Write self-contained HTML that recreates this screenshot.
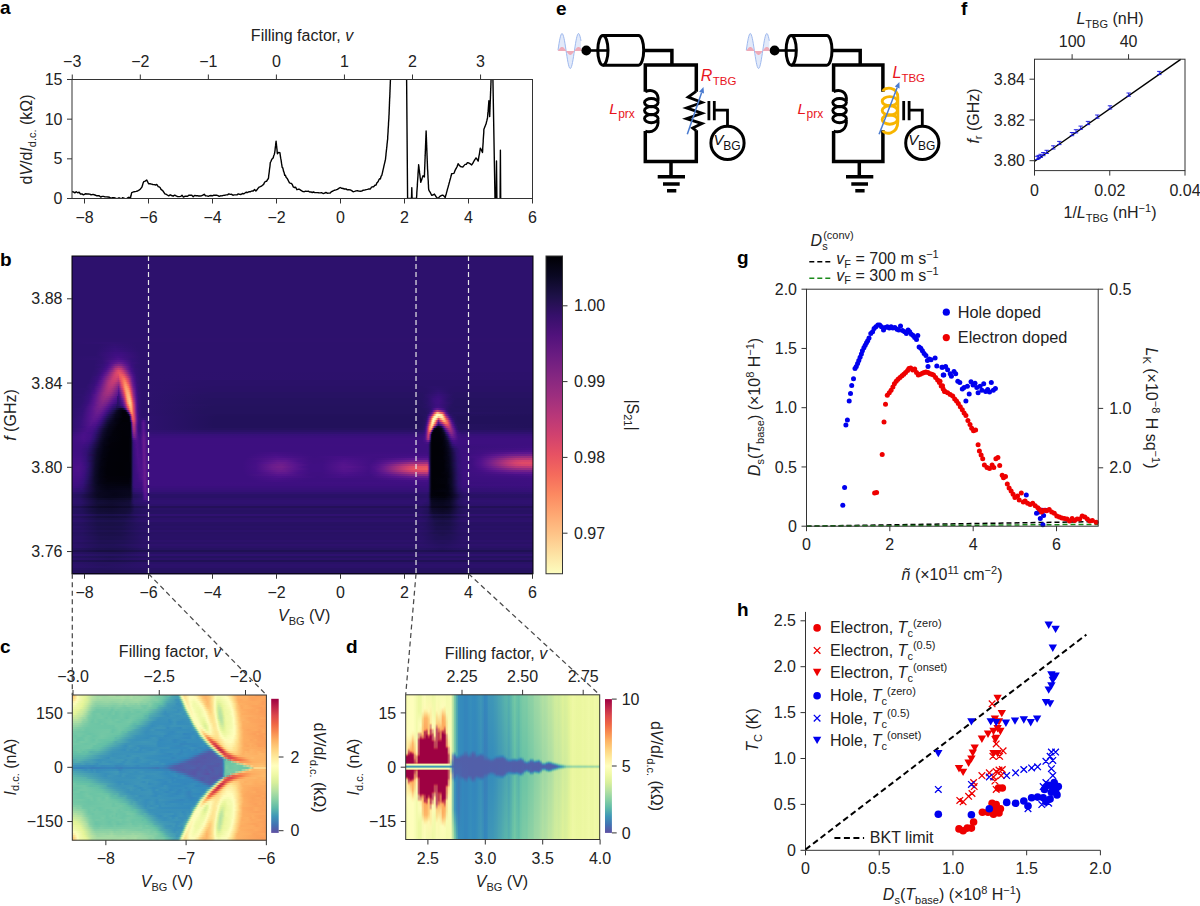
<!DOCTYPE html><html><head><meta charset="utf-8"><style>html,body{margin:0;padding:0;background:#fff;width:1200px;height:906px;overflow:hidden}svg{display:block;font-family:"Liberation Sans",sans-serif}</style></head><body>
<svg width="1200" height="906" viewBox="0 0 1200 906" font-family="Liberation Sans, sans-serif" font-size="16" fill="#222">
<rect width="1200" height="906" fill="#fff"/>
<text x="0.0" y="13.5" font-size="19" fill="#000" font-weight="bold">a</text>
<clipPath id="clipa"><rect x="72" y="79.5" width="460.5" height="119.0"/></clipPath>
<g clip-path="url(#clipa)">
<polyline points="71.9,191.8 73.4,191.9 74.8,192.9 76.2,191.7 77.7,192.8 79.1,192.2 80.5,194.0 82.0,193.9 83.4,194.8 85.3,193.8 87.3,194.0 88.5,194.0 89.8,194.1 91.1,194.9 93.0,194.4 94.9,195.0 96.4,195.7 97.8,195.7 99.2,195.7 100.7,197.1 102.1,196.4 103.5,196.4 105.0,196.9 106.4,196.9 108.0,197.0 109.5,197.2 111.0,198.4 112.6,197.6 114.1,197.8 115.5,198.1 117.0,198.9 118.4,198.0 119.8,198.0 121.2,199.4 122.5,197.6 123.8,198.1 125.1,198.6 126.4,199.3 127.7,197.8 129.1,197.2 130.4,198.3 130.7,196.8 131.1,195.3 131.4,193.8 131.7,192.6 134.2,191.7 136.1,191.4 137.6,191.0 139.0,190.1 140.2,189.2 141.3,187.9 141.8,187.3 142.3,186.1 142.8,184.1 143.3,182.5 143.8,181.7 145.2,181.1 146.7,180.0 147.6,181.7 148.6,183.8 150.0,183.7 151.5,184.1 152.9,184.5 154.3,184.6 155.6,185.0 156.9,184.5 158.2,186.6 159.1,186.9 160.1,187.5 161.0,189.4 162.0,190.1 163.0,191.0 163.9,192.4 164.9,193.9 165.8,194.1 167.3,195.0 168.7,195.8 170.2,194.8 171.6,195.5 173.1,196.2 174.7,195.1 176.2,195.9 177.7,196.6 179.3,196.6 180.7,196.4 182.0,195.2 183.4,197.1 184.8,196.3 186.2,196.3 187.6,196.2 189.0,195.1 190.4,195.2 191.8,195.3 193.2,196.7 194.6,195.4 196.0,195.7 197.3,195.6 198.7,196.0 200.1,196.0 201.4,195.9 202.8,195.2 204.2,194.3 205.5,195.8 206.9,195.9 208.3,196.3 209.7,195.7 211.0,195.5 212.4,195.9 213.8,195.1 215.1,195.2 216.5,195.2 217.9,195.7 219.2,196.4 220.6,195.8 222.0,195.9 223.3,195.4 224.7,195.3 226.1,194.9 227.5,194.9 228.8,193.9 230.2,194.4 231.6,194.3 232.9,195.2 234.3,194.9 235.6,194.9 237.0,194.9 238.3,193.9 239.6,194.3 241.0,194.5 242.3,193.5 243.7,193.8 245.0,193.0 246.3,192.2 247.7,192.5 249.1,191.7 250.5,191.7 251.8,191.0 253.2,191.0 254.6,189.5 255.9,190.9 257.0,189.8 258.1,188.2 259.2,187.1 260.3,186.7 261.4,186.2 262.5,185.3 263.6,184.4 264.6,182.2 265.5,181.4 266.5,181.4 267.4,179.8 268.4,178.5 268.6,177.1 268.7,175.7 268.9,174.3 269.1,172.9 269.3,171.5 269.4,170.1 269.6,168.7 269.8,167.4 270.0,166.0 270.1,164.6 270.3,162.5 271.0,161.3 271.7,159.6 272.5,158.4 273.2,158.0 273.7,155.7 274.2,154.7 274.7,152.6 274.9,151.2 275.1,149.8 275.2,148.3 275.4,146.9 275.6,145.4 275.7,144.0 275.9,142.6 276.1,141.1 276.2,142.5 276.4,143.9 276.5,145.3 276.7,146.7 276.8,148.1 277.0,149.4 277.1,150.8 277.2,152.2 277.4,153.7 278.6,152.4 279.9,152.6 280.1,154.0 280.3,155.4 280.5,156.8 280.7,158.2 281.0,159.6 281.2,160.9 281.4,162.3 281.6,163.7 281.8,164.8 282.2,167.5 282.6,167.5 283.0,168.7 283.5,171.1 283.9,172.0 284.3,173.3 284.7,175.3 285.4,175.2 286.2,177.5 287.0,178.2 287.7,179.4 288.5,181.0 289.5,182.9 290.4,183.2 291.4,183.4 292.4,184.7 293.3,186.9 294.5,187.5 295.7,187.3 296.9,189.7 298.1,189.3 299.4,189.2 300.6,190.1 301.8,190.9 303.1,191.6 304.3,191.7 305.7,191.2 307.0,191.4 308.3,191.1 309.6,192.0 310.9,191.9 312.2,192.5 313.5,192.0 314.8,192.6 316.1,192.6 317.4,192.6 318.7,192.8 320.1,192.9 321.6,192.7 323.0,193.5 324.4,193.2 325.9,192.5 327.3,193.2 328.7,193.1 330.2,193.0 331.6,191.6 333.0,191.0 334.5,190.2 335.9,189.9 337.4,189.3 338.8,188.4 340.2,187.5 341.7,188.3 343.1,188.5 344.5,189.0 346.0,188.9 347.4,189.9 348.8,189.6 350.3,189.9 351.7,190.6 353.1,191.7 354.6,191.4 356.0,190.9 357.4,190.7 358.9,191.1 360.3,191.2 361.7,191.1 363.2,190.2 364.6,190.1 366.1,189.6 367.5,189.4 368.9,188.9 370.4,189.0 371.5,187.2 372.7,186.8 373.8,186.7 374.9,185.2 376.1,185.0 376.8,183.0 377.5,182.3 378.2,181.5 379.0,179.6 379.7,178.6 380.4,178.9 381.1,176.3 381.8,175.4 382.1,174.1 382.4,172.8 382.7,171.5 383.0,170.2 383.3,168.9 383.6,167.6 383.9,166.2 384.2,164.9 384.5,163.6 384.8,162.3 385.1,161.0 385.4,159.7 385.6,158.3 385.7,157.0 385.9,155.6 386.0,154.3 386.1,153.0 386.3,151.6 386.4,150.3 386.6,148.9 386.7,147.6 386.9,146.3 387.0,144.9 387.1,143.6 387.3,142.3 387.4,140.9 387.6,139.6 387.7,138.2 387.7,136.9 387.8,135.5 387.9,134.2 388.0,132.8 388.1,131.4 388.1,130.1 388.2,128.7 388.3,127.4 388.4,126.0 388.5,124.7 388.5,123.3 388.6,122.0 388.7,120.6 388.8,119.2 388.9,117.9 388.9,116.5 389.0,115.2 389.1,113.9 389.1,112.6 389.2,111.2 389.2,109.9 389.3,108.6 389.3,107.3 389.4,106.0 389.4,104.7 389.5,103.4 389.5,102.1 389.6,100.7 389.6,99.4 389.7,98.1 389.8,96.8 389.8,95.5 389.9,94.2 389.9,92.9 390.0,91.5 390.0,90.2 390.1,88.9 390.1,87.6 390.2,86.3 390.2,85.0 390.3,83.7 390.3,82.4 390.4,81.0 390.4,79.7 391.5,78.0 406.6,78.0 407.6,198.5 411.5,198.5 411.8,187.6 412.1,198.5 416.5,198.4 416.6,197.0 416.7,195.7 416.8,194.3 416.8,193.0 416.9,191.6 417.0,190.3 417.1,188.9 417.2,187.6 417.3,186.2 417.4,184.9 417.4,183.5 417.5,182.2 417.6,180.8 417.7,179.5 417.8,178.1 417.9,176.8 418.0,175.4 418.0,174.1 418.1,172.7 418.2,171.4 418.3,170.1 418.4,168.7 418.5,167.4 418.6,166.0 418.6,164.7 418.8,166.0 419.0,167.4 419.1,168.8 419.3,170.2 419.5,171.6 419.6,172.9 419.8,174.3 420.0,175.7 420.1,177.1 420.3,178.5 420.5,179.8 420.6,181.2 420.8,182.3 421.2,180.9 421.7,179.7 422.1,178.3 422.5,177.2 423.0,175.7 424.4,176.9 424.4,175.5 424.5,174.2 424.5,172.9 424.6,171.6 424.6,170.3 424.7,169.0 424.7,167.7 424.8,166.4 424.8,165.0 424.9,163.7 424.9,162.4 425.0,161.1 425.0,159.8 425.1,158.5 425.1,157.2 425.2,155.9 425.2,154.6 425.3,153.2 425.3,151.9 425.4,150.6 425.4,149.3 425.5,148.0 425.5,146.7 425.6,145.4 425.6,144.1 425.7,142.8 425.7,141.4 425.8,140.1 425.8,138.8 425.9,137.5 425.9,136.2 426.0,134.9 426.0,133.6 426.1,132.3 426.1,130.9 426.2,132.3 426.2,133.6 426.3,134.9 426.3,136.3 426.4,137.6 426.4,138.9 426.5,140.3 426.5,141.6 426.6,142.9 426.6,144.3 426.7,145.6 426.7,146.9 426.8,148.3 426.8,149.6 426.9,150.9 426.9,152.3 427.0,153.6 427.0,154.9 427.1,156.3 427.1,157.6 427.2,158.9 427.2,160.3 427.3,161.6 427.3,162.9 427.4,164.2 427.4,165.6 427.5,166.9 427.5,168.2 427.6,169.6 427.7,170.9 427.8,172.3 427.8,173.6 427.9,175.0 428.0,176.3 428.0,177.7 428.1,179.0 428.2,180.3 428.3,181.7 428.3,183.0 428.4,184.4 428.5,185.7 428.5,187.1 428.6,188.4 428.7,189.6 429.4,191.1 430.1,192.1 430.8,193.5 431.6,195.2 433.0,195.0 434.4,194.1 435.4,195.7 436.3,197.1 437.3,198.0 438.4,198.2 439.6,196.6 440.7,195.9 441.9,195.3 443.0,195.2 444.1,196.2 445.2,197.7 445.5,196.3 445.9,195.0 446.3,193.7 446.6,192.4 447.0,191.1 447.3,189.8 447.7,188.4 448.1,187.1 448.4,185.8 448.8,184.5 449.1,183.2 449.5,181.9 449.8,180.6 450.2,179.2 450.6,177.9 450.9,176.6 451.3,175.3 451.6,173.7 453.8,173.4 454.4,172.3 455.0,170.6 455.6,169.2 456.3,168.3 456.9,167.0 457.5,165.6 458.1,163.7 459.3,165.2 460.5,166.5 461.7,166.9 462.8,167.0 464.0,165.6 465.1,164.4 466.3,164.3 467.4,162.6 468.9,163.0 470.3,163.9 471.7,164.9 472.6,163.7 473.4,162.1 474.3,160.5 475.2,159.2 476.0,157.9 477.1,159.3 478.2,161.1 478.4,159.8 478.6,158.5 478.8,157.2 479.0,155.9 479.3,154.6 479.5,153.3 479.7,152.0 479.9,150.7 480.1,149.5 480.3,148.2 481.1,149.4 481.8,151.0 482.5,152.5 482.6,151.1 482.7,149.8 482.7,148.4 482.8,147.1 482.9,145.7 483.0,144.4 483.1,143.0 483.2,141.7 483.2,140.3 483.3,139.0 483.4,137.6 483.5,136.3 483.6,134.9 483.7,133.6 483.8,132.2 483.8,130.9 483.9,129.2 484.5,127.8 485.0,126.6 485.5,125.1 486.1,123.8 486.4,122.3 486.8,120.9 487.1,119.5 487.5,118.0 487.6,116.7 487.7,115.4 487.8,114.1 487.9,112.7 488.1,111.4 488.2,110.1 488.3,108.8 488.4,107.4 488.5,106.1 488.6,104.8 488.7,103.5 488.8,102.1 488.9,100.8 489.0,102.1 489.1,103.5 489.1,104.8 489.2,106.1 489.2,107.4 489.3,108.7 489.4,110.0 489.4,111.3 489.5,112.7 489.5,114.0 489.6,115.3 489.7,116.6 489.7,115.3 489.8,114.0 489.8,112.7 489.9,111.3 489.9,110.0 490.0,108.7 490.0,107.4 490.1,106.1 490.1,104.8 490.2,103.4 490.2,102.1 490.3,100.8 490.3,99.5 490.4,98.2 490.4,96.9 490.5,95.5 490.5,94.2 490.6,92.9 490.6,91.6 490.7,90.3 490.7,89.0 490.8,87.6 490.8,86.3 490.9,85.0 490.9,83.7 491.0,82.4 491.0,81.1 491.1,79.7 492.9,78.0 495.0,198.8 496.1,198.8 496.5,161.0 496.9,198.8 500.1,198.8 500.4,150.3 500.7,198.8 532.0,198.8" fill="none" stroke="#000" stroke-width="1.4" stroke-linejoin="round"/>
</g>
<rect x="72" y="79.5" width="460.50" height="119.00" fill="none" stroke="#333" stroke-width="1"/>
<line x1="84.50" y1="198.50" x2="84.50" y2="203.50" stroke="#333" stroke-width="1"/>
<text x="84.5" y="222.5" text-anchor="middle">−8</text>
<line x1="148.50" y1="198.50" x2="148.50" y2="203.50" stroke="#333" stroke-width="1"/>
<text x="148.5" y="222.5" text-anchor="middle">−6</text>
<line x1="212.50" y1="198.50" x2="212.50" y2="203.50" stroke="#333" stroke-width="1"/>
<text x="212.5" y="222.5" text-anchor="middle">−4</text>
<line x1="276.50" y1="198.50" x2="276.50" y2="203.50" stroke="#333" stroke-width="1"/>
<text x="276.5" y="222.5" text-anchor="middle">−2</text>
<line x1="340.50" y1="198.50" x2="340.50" y2="203.50" stroke="#333" stroke-width="1"/>
<text x="340.5" y="222.5" text-anchor="middle">0</text>
<line x1="404.50" y1="198.50" x2="404.50" y2="203.50" stroke="#333" stroke-width="1"/>
<text x="404.5" y="222.5" text-anchor="middle">2</text>
<line x1="468.50" y1="198.50" x2="468.50" y2="203.50" stroke="#333" stroke-width="1"/>
<text x="468.5" y="222.5" text-anchor="middle">4</text>
<line x1="532.50" y1="198.50" x2="532.50" y2="203.50" stroke="#333" stroke-width="1"/>
<text x="532.5" y="222.5" text-anchor="middle">6</text>
<line x1="72.25" y1="79.50" x2="72.25" y2="74.50" stroke="#333" stroke-width="1"/>
<text x="72.2" y="66.6" text-anchor="middle">−3</text>
<line x1="140.30" y1="79.50" x2="140.30" y2="74.50" stroke="#333" stroke-width="1"/>
<text x="140.3" y="66.6" text-anchor="middle">−2</text>
<line x1="208.35" y1="79.50" x2="208.35" y2="74.50" stroke="#333" stroke-width="1"/>
<text x="208.3" y="66.6" text-anchor="middle">−1</text>
<line x1="276.40" y1="79.50" x2="276.40" y2="74.50" stroke="#333" stroke-width="1"/>
<text x="276.4" y="66.6" text-anchor="middle">0</text>
<line x1="344.45" y1="79.50" x2="344.45" y2="74.50" stroke="#333" stroke-width="1"/>
<text x="344.4" y="66.6" text-anchor="middle">1</text>
<line x1="412.50" y1="79.50" x2="412.50" y2="74.50" stroke="#333" stroke-width="1"/>
<text x="412.5" y="66.6" text-anchor="middle">2</text>
<line x1="480.55" y1="79.50" x2="480.55" y2="74.50" stroke="#333" stroke-width="1"/>
<text x="480.5" y="66.6" text-anchor="middle">3</text>
<line x1="72.00" y1="198.50" x2="67.00" y2="198.50" stroke="#333" stroke-width="1"/>
<text x="62.5" y="204.1" text-anchor="end">0</text>
<line x1="72.00" y1="158.83" x2="67.00" y2="158.83" stroke="#333" stroke-width="1"/>
<text x="62.5" y="164.4" text-anchor="end">5</text>
<line x1="72.00" y1="119.17" x2="67.00" y2="119.17" stroke="#333" stroke-width="1"/>
<text x="62.5" y="124.8" text-anchor="end">10</text>
<line x1="72.00" y1="79.50" x2="67.00" y2="79.50" stroke="#333" stroke-width="1"/>
<text x="62.5" y="85.1" text-anchor="end">15</text>
<text x="302.0" y="40.6" text-anchor="middle">Filling factor, <tspan font-style="italic">v</tspan></text>
<text transform="translate(32,139.5) rotate(-90)" text-anchor="middle">d<tspan font-style="italic">V</tspan>/d<tspan font-style="italic">I</tspan><tspan font-size="11" dy="3.5">d.c.</tspan><tspan dy="-3.5">&#8203;</tspan> (k&#937;)</text>
<text x="0.0" y="266.0" font-size="19" fill="#000" font-weight="bold">b</text>
<defs><linearGradient id="hb0"><stop offset="0" stop-color="#2d116d"/><stop offset=".088" stop-color="#311172"/><stop offset=".136" stop-color="#2d116d"/><stop offset="1" stop-color="#2d116d"/></linearGradient><linearGradient id="hb1"><stop offset="0" stop-color="#2d116d"/><stop offset=".06" stop-color="#2d116d"/><stop offset=".092" stop-color="#331074"/><stop offset=".14" stop-color="#2d116d"/><stop offset="1" stop-color="#2d116d"/></linearGradient><linearGradient id="hb2"><stop offset="0" stop-color="#2d116d"/><stop offset=".057" stop-color="#2d116d"/><stop offset=".092" stop-color="#341077"/><stop offset=".142" stop-color="#2d116d"/><stop offset="1" stop-color="#2d116d"/></linearGradient><linearGradient id="hb3"><stop offset="0" stop-color="#2d116d"/><stop offset=".055" stop-color="#2d116d"/><stop offset=".094" stop-color="#37107a"/><stop offset=".144" stop-color="#2d116d"/><stop offset="1" stop-color="#2d116d"/></linearGradient><linearGradient id="hb4"><stop offset="0" stop-color="#2d116d"/><stop offset=".053" stop-color="#2d116d"/><stop offset=".097" stop-color="#390f7c"/><stop offset=".146" stop-color="#2d116d"/><stop offset="1" stop-color="#2d116d"/></linearGradient><linearGradient id="hb5"><stop offset="0" stop-color="#2d116d"/><stop offset=".051" stop-color="#2d116d"/><stop offset=".092" stop-color="#3c0f7f"/><stop offset=".107" stop-color="#3c0f7f"/><stop offset=".149" stop-color="#2d116d"/><stop offset="1" stop-color="#2d116d"/></linearGradient><linearGradient id="hb6"><stop offset="0" stop-color="#2d116d"/><stop offset=".051" stop-color="#2d116d"/><stop offset=".094" stop-color="#3f0f82"/><stop offset=".107" stop-color="#3f0f82"/><stop offset=".149" stop-color="#2d116d"/><stop offset="1" stop-color="#2d116d"/></linearGradient><linearGradient id="hb7"><stop offset="0" stop-color="#2d116d"/><stop offset=".06" stop-color="#2f1170"/><stop offset=".099" stop-color="#450f86"/><stop offset=".151" stop-color="#2d116d"/><stop offset="1" stop-color="#2d116d"/></linearGradient><linearGradient id="hb8"><stop offset="0" stop-color="#2d116d"/><stop offset=".064" stop-color="#311172"/><stop offset=".101" stop-color="#4c118a"/><stop offset=".129" stop-color="#351078"/><stop offset=".151" stop-color="#2d116d"/><stop offset="1" stop-color="#2d116d"/></linearGradient><linearGradient id="hb9"><stop offset="0" stop-color="#2d116d"/><stop offset=".049" stop-color="#2d116d"/><stop offset=".066" stop-color="#331074"/><stop offset=".09" stop-color="#4e128b"/><stop offset=".099" stop-color="#57158d"/><stop offset=".11" stop-color="#52138c"/><stop offset=".131" stop-color="#341077"/><stop offset=".151" stop-color="#2d116d"/><stop offset="1" stop-color="#2d116d"/></linearGradient><linearGradient id="hb10"><stop offset="0" stop-color="#2d116d"/><stop offset=".049" stop-color="#2d116d"/><stop offset=".066" stop-color="#331074"/><stop offset=".077" stop-color="#3e0f80"/><stop offset=".086" stop-color="#50128b"/><stop offset=".101" stop-color="#6a1c8d"/><stop offset=".107" stop-color="#651a8e"/><stop offset=".116" stop-color="#52138c"/><stop offset=".129" stop-color="#39107b"/><stop offset=".151" stop-color="#2d116d"/><stop offset="1" stop-color="#2d116d"/></linearGradient><linearGradient id="hb11"><stop offset="0" stop-color="#2d116d"/><stop offset=".047" stop-color="#2d116d"/><stop offset=".068" stop-color="#361079"/><stop offset=".077" stop-color="#420f84"/><stop offset=".086" stop-color="#5a168e"/><stop offset=".094" stop-color="#79228a"/><stop offset=".101" stop-color="#842686"/><stop offset=".107" stop-color="#7d2488"/><stop offset=".118" stop-color="#59158e"/><stop offset=".129" stop-color="#3a0f7d"/><stop offset=".138" stop-color="#311172"/><stop offset=".151" stop-color="#2d116d"/><stop offset="1" stop-color="#2d116d"/></linearGradient><linearGradient id="hb12"><stop offset="0" stop-color="#2d116d"/><stop offset=".047" stop-color="#2d116d"/><stop offset=".06" stop-color="#311172"/><stop offset=".07" stop-color="#3b0f7e"/><stop offset=".077" stop-color="#481088"/><stop offset=".084" stop-color="#5e178e"/><stop offset=".094" stop-color="#942c81"/><stop offset=".101" stop-color="#a7327d"/><stop offset=".107" stop-color="#9d2e7f"/><stop offset=".118" stop-color="#661b8e"/><stop offset=".129" stop-color="#3d0f80"/><stop offset=".138" stop-color="#311172"/><stop offset=".151" stop-color="#2d116d"/><stop offset="1" stop-color="#2d116d"/></linearGradient><linearGradient id="hb13"><stop offset="0" stop-color="#2d116d"/><stop offset=".047" stop-color="#2d116d"/><stop offset=".066" stop-color="#39107b"/><stop offset=".075" stop-color="#4a1089"/><stop offset=".081" stop-color="#61198e"/><stop offset=".088" stop-color="#842686"/><stop offset=".094" stop-color="#b2357a"/><stop offset=".101" stop-color="#c93e72"/><stop offset=".107" stop-color="#bc3977"/><stop offset=".12" stop-color="#671b8e"/><stop offset=".127" stop-color="#481088"/><stop offset=".136" stop-color="#341077"/><stop offset=".151" stop-color="#2d116d"/><stop offset="1" stop-color="#2d116d"/></linearGradient><linearGradient id="hb14"><stop offset="0" stop-color="#2d116d"/><stop offset=".044" stop-color="#2d116d"/><stop offset=".055" stop-color="#311172"/><stop offset=".066" stop-color="#3e0f80"/><stop offset=".073" stop-color="#4d118a"/><stop offset=".079" stop-color="#661b8e"/><stop offset=".088" stop-color="#972d81"/><stop offset=".097" stop-color="#d3436e"/><stop offset=".101" stop-color="#e04c67"/><stop offset=".105" stop-color="#db486a"/><stop offset=".11" stop-color="#c83d73"/><stop offset=".123" stop-color="#671b8e"/><stop offset=".129" stop-color="#451086"/><stop offset=".136" stop-color="#351078"/><stop offset=".149" stop-color="#2d116d"/><stop offset="1" stop-color="#2d116d"/></linearGradient><linearGradient id="hb15"><stop offset="0" stop-color="#2d116d"/><stop offset=".042" stop-color="#2d116d"/><stop offset=".053" stop-color="#311172"/><stop offset=".062" stop-color="#3a0f7d"/><stop offset=".068" stop-color="#491088"/><stop offset=".077" stop-color="#6a1c8d"/><stop offset=".094" stop-color="#d0416f"/><stop offset=".099" stop-color="#e14c66"/><stop offset=".103" stop-color="#e85462"/><stop offset=".107" stop-color="#e34f65"/><stop offset=".112" stop-color="#d0416f"/><stop offset=".125" stop-color="#671b8e"/><stop offset=".131" stop-color="#451086"/><stop offset=".138" stop-color="#341077"/><stop offset=".149" stop-color="#2d116d"/><stop offset="1" stop-color="#2c116b"/></linearGradient><linearGradient id="hb16"><stop offset="0" stop-color="#2d116d"/><stop offset=".04" stop-color="#2d116d"/><stop offset=".051" stop-color="#311172"/><stop offset=".06" stop-color="#3b0f7e"/><stop offset=".066" stop-color="#4a1089"/><stop offset=".075" stop-color="#6d1d8d"/><stop offset=".092" stop-color="#cd4071"/><stop offset=".097" stop-color="#db486a"/><stop offset=".101" stop-color="#de4a68"/><stop offset=".103" stop-color="#eb5760"/><stop offset=".105" stop-color="#ee5c5f"/><stop offset=".11" stop-color="#eb5860"/><stop offset=".114" stop-color="#db486a"/><stop offset=".127" stop-color="#681c8d"/><stop offset=".133" stop-color="#451086"/><stop offset=".14" stop-color="#331075"/><stop offset=".151" stop-color="#2d116d"/><stop offset="1" stop-color="#2c116b"/></linearGradient><linearGradient id="hb17"><stop offset="0" stop-color="#2d116d"/><stop offset=".04" stop-color="#2d116d"/><stop offset=".057" stop-color="#3a0f7d"/><stop offset=".066" stop-color="#53138d"/><stop offset=".07" stop-color="#641a8e"/><stop offset=".09" stop-color="#ca3e72"/><stop offset=".097" stop-color="#d8456c"/><stop offset=".101" stop-color="#d3436e"/><stop offset=".103" stop-color="#e85462"/><stop offset=".11" stop-color="#f4675c"/><stop offset=".114" stop-color="#ed5b5f"/><stop offset=".118" stop-color="#d5446d"/><stop offset=".129" stop-color="#681c8d"/><stop offset=".133" stop-color="#4c118a"/><stop offset=".14" stop-color="#341077"/><stop offset=".149" stop-color="#2d116d"/><stop offset="1" stop-color="#2c116b"/></linearGradient><linearGradient id="hb18"><stop offset="0" stop-color="#2d116d"/><stop offset=".038" stop-color="#2d116d"/><stop offset=".055" stop-color="#3a0f7d"/><stop offset=".062" stop-color="#4a1089"/><stop offset=".068" stop-color="#641a8e"/><stop offset=".088" stop-color="#c63d74"/><stop offset=".094" stop-color="#d0416f"/><stop offset=".101" stop-color="#c43c75"/><stop offset=".103" stop-color="#dd4a68"/><stop offset=".105" stop-color="#ea5661"/><stop offset=".11" stop-color="#f66d5c"/><stop offset=".112" stop-color="#f7735c"/><stop offset=".114" stop-color="#f7715c"/><stop offset=".118" stop-color="#ea5661"/><stop offset=".123" stop-color="#c03a76"/><stop offset=".129" stop-color="#721f8c"/><stop offset=".131" stop-color="#5f188e"/><stop offset=".136" stop-color="#440f85"/><stop offset=".14" stop-color="#361079"/><stop offset=".149" stop-color="#2d116d"/><stop offset="1" stop-color="#2c116b"/></linearGradient><linearGradient id="hb19"><stop offset="0" stop-color="#2d116d"/><stop offset=".036" stop-color="#2d116d"/><stop offset=".049" stop-color="#341077"/><stop offset=".055" stop-color="#3e0f80"/><stop offset=".066" stop-color="#63198e"/><stop offset=".079" stop-color="#a9327d"/><stop offset=".086" stop-color="#c13b76"/><stop offset=".092" stop-color="#c93e72"/><stop offset=".097" stop-color="#c23b75"/><stop offset=".101" stop-color="#b2357b"/><stop offset=".105" stop-color="#db486a"/><stop offset=".107" stop-color="#ec5860"/><stop offset=".112" stop-color="#f9795d"/><stop offset=".114" stop-color="#fa7e5e"/><stop offset=".116" stop-color="#f9785d"/><stop offset=".12" stop-color="#e85362"/><stop offset=".123" stop-color="#d0416f"/><stop offset=".129" stop-color="#7a2389"/><stop offset=".131" stop-color="#641a8e"/><stop offset=".136" stop-color="#461087"/><stop offset=".14" stop-color="#361079"/><stop offset=".149" stop-color="#2d116d"/><stop offset=".298" stop-color="#2a1168"/><stop offset="1" stop-color="#2a1168"/></linearGradient><linearGradient id="hb20"><stop offset="0" stop-color="#2d116d"/><stop offset=".034" stop-color="#2d116d"/><stop offset=".047" stop-color="#341077"/><stop offset=".053" stop-color="#3e0f80"/><stop offset=".064" stop-color="#60188e"/><stop offset=".079" stop-color="#ae347c"/><stop offset=".084" stop-color="#bc3977"/><stop offset=".088" stop-color="#c23b75"/><stop offset=".092" stop-color="#be3977"/><stop offset=".101" stop-color="#9e2f7f"/><stop offset=".103" stop-color="#ae347b"/><stop offset=".105" stop-color="#cb3f72"/><stop offset=".107" stop-color="#e44f64"/><stop offset=".11" stop-color="#f4675c"/><stop offset=".114" stop-color="#fc8961"/><stop offset=".116" stop-color="#fc8962"/><stop offset=".118" stop-color="#f97b5e"/><stop offset=".12" stop-color="#f3655c"/><stop offset=".123" stop-color="#e14d66"/><stop offset=".125" stop-color="#c43c74"/><stop offset=".131" stop-color="#6e1e8c"/><stop offset=".136" stop-color="#4a1089"/><stop offset=".142" stop-color="#331074"/><stop offset=".149" stop-color="#2d116d"/><stop offset=".272" stop-color="#2a1168"/><stop offset="1" stop-color="#2a1168"/></linearGradient><linearGradient id="hb21"><stop offset="0" stop-color="#2d116d"/><stop offset=".031" stop-color="#2d116d"/><stop offset=".049" stop-color="#390f7c"/><stop offset=".055" stop-color="#481088"/><stop offset=".062" stop-color="#5f188e"/><stop offset=".075" stop-color="#9e2f7f"/><stop offset=".079" stop-color="#b0357b"/><stop offset=".084" stop-color="#ba3878"/><stop offset=".088" stop-color="#ba3878"/><stop offset=".092" stop-color="#b0357b"/><stop offset=".101" stop-color="#8c2984"/><stop offset=".103" stop-color="#9b2e80"/><stop offset=".105" stop-color="#ba3878"/><stop offset=".107" stop-color="#d9466b"/><stop offset=".11" stop-color="#ef5e5e"/><stop offset=".114" stop-color="#fc8d63"/><stop offset=".116" stop-color="#fd9567"/><stop offset=".118" stop-color="#fc8f64"/><stop offset=".12" stop-color="#fa7c5e"/><stop offset=".123" stop-color="#f0605e"/><stop offset=".125" stop-color="#d9476b"/><stop offset=".127" stop-color="#b73779"/><stop offset=".131" stop-color="#79228a"/><stop offset=".133" stop-color="#62198e"/><stop offset=".136" stop-color="#50128c"/><stop offset=".14" stop-color="#3a0f7d"/><stop offset=".149" stop-color="#2d116d"/><stop offset=".257" stop-color="#2a1168"/><stop offset="1" stop-color="#2a1168"/></linearGradient><linearGradient id="hb22"><stop offset="0" stop-color="#2d116d"/><stop offset=".029" stop-color="#2d116d"/><stop offset=".047" stop-color="#39107b"/><stop offset=".06" stop-color="#5d178e"/><stop offset=".075" stop-color="#a2307e"/><stop offset=".081" stop-color="#b4367a"/><stop offset=".088" stop-color="#b1357b"/><stop offset=".092" stop-color="#a3307e"/><stop offset=".099" stop-color="#842686"/><stop offset=".101" stop-color="#6f1e8c"/><stop offset=".107" stop-color="#c83e73"/><stop offset=".11" stop-color="#e65263"/><stop offset=".112" stop-color="#f7705c"/><stop offset=".114" stop-color="#fc8c63"/><stop offset=".116" stop-color="#fd9b6b"/><stop offset=".118" stop-color="#fe9d6c"/><stop offset=".12" stop-color="#fc8f64"/><stop offset=".123" stop-color="#f8755c"/><stop offset=".125" stop-color="#e95462"/><stop offset=".127" stop-color="#ca3e72"/><stop offset=".131" stop-color="#862786"/><stop offset=".133" stop-color="#6b1c8d"/><stop offset=".136" stop-color="#56148d"/><stop offset=".14" stop-color="#3c0f7f"/><stop offset=".144" stop-color="#321073"/><stop offset=".151" stop-color="#2d116d"/><stop offset=".309" stop-color="#291166"/><stop offset=".758" stop-color="#291166"/><stop offset=".786" stop-color="#2c116b"/><stop offset=".83" stop-color="#291166"/><stop offset="1" stop-color="#291166"/></linearGradient><linearGradient id="hb23"><stop offset="0" stop-color="#2d116d"/><stop offset=".034" stop-color="#2f1170"/><stop offset=".047" stop-color="#3c0f7f"/><stop offset=".06" stop-color="#641a8e"/><stop offset=".073" stop-color="#9c2e7f"/><stop offset=".079" stop-color="#ae347c"/><stop offset=".084" stop-color="#ae347b"/><stop offset=".09" stop-color="#9e2f7f"/><stop offset=".099" stop-color="#78228a"/><stop offset=".101" stop-color="#61198e"/><stop offset=".103" stop-color="#76218a"/><stop offset=".107" stop-color="#b3357a"/><stop offset=".11" stop-color="#d6446d"/><stop offset=".112" stop-color="#f05f5e"/><stop offset=".114" stop-color="#fa815f"/><stop offset=".116" stop-color="#fd9969"/><stop offset=".118" stop-color="#fea470"/><stop offset=".12" stop-color="#fe9e6c"/><stop offset=".123" stop-color="#fc8a62"/><stop offset=".125" stop-color="#f4695c"/><stop offset=".127" stop-color="#dd4a68"/><stop offset=".129" stop-color="#b83779"/><stop offset=".133" stop-color="#76218b"/><stop offset=".136" stop-color="#5e178e"/><stop offset=".14" stop-color="#3f0f82"/><stop offset=".144" stop-color="#331074"/><stop offset=".151" stop-color="#2d116d"/><stop offset=".283" stop-color="#291166"/><stop offset=".767" stop-color="#291166"/><stop offset=".793" stop-color="#2d116d"/><stop offset=".821" stop-color="#291166"/><stop offset="1" stop-color="#291166"/></linearGradient><linearGradient id="hb24"><stop offset="0" stop-color="#2d116d"/><stop offset=".025" stop-color="#2d116d"/><stop offset=".04" stop-color="#351078"/><stop offset=".049" stop-color="#451086"/><stop offset=".057" stop-color="#60188e"/><stop offset=".073" stop-color="#9e2f7f"/><stop offset=".079" stop-color="#a9327d"/><stop offset=".086" stop-color="#a1307e"/><stop offset=".092" stop-color="#892885"/><stop offset=".099" stop-color="#6b1d8d"/><stop offset=".101" stop-color="#52138c"/><stop offset=".105" stop-color="#7d2488"/><stop offset=".11" stop-color="#c03a76"/><stop offset=".112" stop-color="#e24d66"/><stop offset=".114" stop-color="#f66f5c"/><stop offset=".116" stop-color="#fc8f64"/><stop offset=".118" stop-color="#fea470"/><stop offset=".12" stop-color="#fea973"/><stop offset=".123" stop-color="#fd9b6b"/><stop offset=".125" stop-color="#fa7f5e"/><stop offset=".127" stop-color="#ed5a5f"/><stop offset=".129" stop-color="#cc3f71"/><stop offset=".133" stop-color="#822587"/><stop offset=".136" stop-color="#671b8e"/><stop offset=".14" stop-color="#430f84"/><stop offset=".144" stop-color="#331075"/><stop offset=".151" stop-color="#2d116d"/><stop offset=".27" stop-color="#291166"/><stop offset=".769" stop-color="#291166"/><stop offset=".795" stop-color="#301171"/><stop offset=".819" stop-color="#291166"/><stop offset="1" stop-color="#291166"/></linearGradient><linearGradient id="hb25"><stop offset="0" stop-color="#2d116d"/><stop offset=".023" stop-color="#2d116d"/><stop offset=".038" stop-color="#351078"/><stop offset=".049" stop-color="#491089"/><stop offset=".055" stop-color="#5f188e"/><stop offset=".07" stop-color="#992d80"/><stop offset=".077" stop-color="#a3307e"/><stop offset=".084" stop-color="#9b2e80"/><stop offset=".088" stop-color="#8d2983"/><stop offset=".099" stop-color="#61198e"/><stop offset=".101" stop-color="#471087"/><stop offset=".105" stop-color="#6b1c8d"/><stop offset=".107" stop-color="#852786"/><stop offset=".112" stop-color="#ce4070"/><stop offset=".114" stop-color="#ed5b5f"/><stop offset=".116" stop-color="#fb825f"/><stop offset=".118" stop-color="#fea06e"/><stop offset=".12" stop-color="#feaf78"/><stop offset=".123" stop-color="#fea974"/><stop offset=".125" stop-color="#fd9266"/><stop offset=".127" stop-color="#f56c5c"/><stop offset=".129" stop-color="#db486a"/><stop offset=".133" stop-color="#8c2984"/><stop offset=".136" stop-color="#6d1d8d"/><stop offset=".138" stop-color="#56148d"/><stop offset=".142" stop-color="#3a0f7d"/><stop offset=".151" stop-color="#2d116d"/><stop offset=".309" stop-color="#271263"/><stop offset=".754" stop-color="#271263"/><stop offset=".769" stop-color="#291166"/><stop offset=".795" stop-color="#331075"/><stop offset=".819" stop-color="#291166"/><stop offset=".834" stop-color="#271263"/><stop offset="1" stop-color="#271263"/></linearGradient><linearGradient id="hb26"><stop offset="0" stop-color="#2d116d"/><stop offset=".027" stop-color="#2f1170"/><stop offset=".04" stop-color="#3a0f7d"/><stop offset=".053" stop-color="#5d178e"/><stop offset=".068" stop-color="#932b82"/><stop offset=".075" stop-color="#9c2e7f"/><stop offset=".079" stop-color="#9a2e80"/><stop offset=".086" stop-color="#892885"/><stop offset=".099" stop-color="#57158e"/><stop offset=".101" stop-color="#3d0f80"/><stop offset=".105" stop-color="#5a168e"/><stop offset=".107" stop-color="#72208b"/><stop offset=".112" stop-color="#b93878"/><stop offset=".114" stop-color="#e04c67"/><stop offset=".116" stop-color="#f7725c"/><stop offset=".118" stop-color="#fd9969"/><stop offset=".12" stop-color="#feb078"/><stop offset=".123" stop-color="#feb47b"/><stop offset=".125" stop-color="#fea36f"/><stop offset=".127" stop-color="#fa7f5e"/><stop offset=".129" stop-color="#e95561"/><stop offset=".131" stop-color="#c23b75"/><stop offset=".133" stop-color="#982d80"/><stop offset=".138" stop-color="#5b168e"/><stop offset=".14" stop-color="#481088"/><stop offset=".144" stop-color="#341077"/><stop offset=".151" stop-color="#2d116d"/><stop offset=".287" stop-color="#271263"/><stop offset=".76" stop-color="#271263"/><stop offset=".795" stop-color="#37107a"/><stop offset=".828" stop-color="#271263"/><stop offset="1" stop-color="#271263"/></linearGradient><linearGradient id="hb27"><stop offset="0" stop-color="#2d116d"/><stop offset=".018" stop-color="#2d116d"/><stop offset=".036" stop-color="#37107a"/><stop offset=".042" stop-color="#410f83"/><stop offset=".051" stop-color="#5a168e"/><stop offset=".064" stop-color="#882785"/><stop offset=".073" stop-color="#962c81"/><stop offset=".081" stop-color="#8a2884"/><stop offset=".097" stop-color="#55148d"/><stop offset=".099" stop-color="#321073"/><stop offset=".103" stop-color="#400f83"/><stop offset=".105" stop-color="#4e128b"/><stop offset=".107" stop-color="#63198e"/><stop offset=".112" stop-color="#a4317e"/><stop offset=".114" stop-color="#ce4070"/><stop offset=".116" stop-color="#f0605d"/><stop offset=".118" stop-color="#fc8c63"/><stop offset=".12" stop-color="#fead76"/><stop offset=".123" stop-color="#feba80"/><stop offset=".125" stop-color="#feb179"/><stop offset=".127" stop-color="#fd9366"/><stop offset=".129" stop-color="#f3655c"/><stop offset=".131" stop-color="#d2426f"/><stop offset=".133" stop-color="#a5317e"/><stop offset=".138" stop-color="#60188e"/><stop offset=".14" stop-color="#4c118a"/><stop offset=".144" stop-color="#361079"/><stop offset=".151" stop-color="#2d116d"/><stop offset=".277" stop-color="#271263"/><stop offset=".762" stop-color="#271263"/><stop offset=".791" stop-color="#3a0f7d"/><stop offset=".797" stop-color="#3a0f7d"/><stop offset=".825" stop-color="#271263"/><stop offset="1" stop-color="#271263"/></linearGradient><linearGradient id="hb28"><stop offset="0" stop-color="#2d116d"/><stop offset=".023" stop-color="#2f1170"/><stop offset=".036" stop-color="#39107b"/><stop offset=".042" stop-color="#450f86"/><stop offset=".051" stop-color="#5e178e"/><stop offset=".064" stop-color="#882785"/><stop offset=".07" stop-color="#902a83"/><stop offset=".079" stop-color="#842686"/><stop offset=".092" stop-color="#58158e"/><stop offset=".097" stop-color="#4b1189"/><stop offset=".099" stop-color="#2e116f"/><stop offset=".101" stop-color="#321073"/><stop offset=".105" stop-color="#451086"/><stop offset=".107" stop-color="#55148d"/><stop offset=".11" stop-color="#6e1e8d"/><stop offset=".112" stop-color="#8e2a83"/><stop offset=".114" stop-color="#b73779"/><stop offset=".116" stop-color="#e34e65"/><stop offset=".118" stop-color="#f97a5d"/><stop offset=".12" stop-color="#fea470"/><stop offset=".123" stop-color="#febd82"/><stop offset=".125" stop-color="#febd82"/><stop offset=".127" stop-color="#fea671"/><stop offset=".129" stop-color="#f97b5e"/><stop offset=".131" stop-color="#e14d66"/><stop offset=".133" stop-color="#b4367a"/><stop offset=".136" stop-color="#882885"/><stop offset=".138" stop-color="#671b8e"/><stop offset=".14" stop-color="#50128c"/><stop offset=".144" stop-color="#361079"/><stop offset=".151" stop-color="#2d116d"/><stop offset=".309" stop-color="#251260"/><stop offset=".752" stop-color="#251260"/><stop offset=".771" stop-color="#2a1168"/><stop offset=".784" stop-color="#38107b"/><stop offset=".795" stop-color="#3e0f80"/><stop offset=".817" stop-color="#2a1168"/><stop offset=".836" stop-color="#251260"/><stop offset="1" stop-color="#251260"/></linearGradient><linearGradient id="hb29"><stop offset="0" stop-color="#2d116d"/><stop offset=".023" stop-color="#2f1170"/><stop offset=".036" stop-color="#3b0f7e"/><stop offset=".049" stop-color="#5b168e"/><stop offset=".06" stop-color="#7c2389"/><stop offset=".068" stop-color="#892885"/><stop offset=".077" stop-color="#7e2488"/><stop offset=".09" stop-color="#53138d"/><stop offset=".097" stop-color="#430f84"/><stop offset=".099" stop-color="#2b116a"/><stop offset=".101" stop-color="#2e116f"/><stop offset=".105" stop-color="#3b0f7e"/><stop offset=".11" stop-color="#5e178e"/><stop offset=".112" stop-color="#7a2389"/><stop offset=".116" stop-color="#ce4070"/><stop offset=".118" stop-color="#f2655d"/><stop offset=".12" stop-color="#fd9768"/><stop offset=".123" stop-color="#feb97f"/><stop offset=".125" stop-color="#fec589"/><stop offset=".127" stop-color="#feb77e"/><stop offset=".129" stop-color="#fd9165"/><stop offset=".131" stop-color="#ef5d5e"/><stop offset=".133" stop-color="#c43c74"/><stop offset=".136" stop-color="#942c81"/><stop offset=".138" stop-color="#6f1e8c"/><stop offset=".14" stop-color="#55148d"/><stop offset=".142" stop-color="#430f84"/><stop offset=".144" stop-color="#38107b"/><stop offset=".151" stop-color="#2d116d"/><stop offset=".292" stop-color="#251260"/><stop offset=".758" stop-color="#251260"/><stop offset=".771" stop-color="#2a1168"/><stop offset=".786" stop-color="#3b0f7e"/><stop offset=".797" stop-color="#3f0f81"/><stop offset=".815" stop-color="#2c116b"/><stop offset=".83" stop-color="#251260"/><stop offset="1" stop-color="#251260"/></linearGradient><linearGradient id="hb30"><stop offset="0" stop-color="#2d116d"/><stop offset=".021" stop-color="#2f1170"/><stop offset=".034" stop-color="#3a0f7d"/><stop offset=".047" stop-color="#58158e"/><stop offset=".055" stop-color="#721f8c"/><stop offset=".066" stop-color="#832687"/><stop offset=".075" stop-color="#77218a"/><stop offset=".086" stop-color="#55148d"/><stop offset=".097" stop-color="#390f7c"/><stop offset=".099" stop-color="#281164"/><stop offset=".103" stop-color="#2e116f"/><stop offset=".107" stop-color="#3f0f82"/><stop offset=".11" stop-color="#50128b"/><stop offset=".112" stop-color="#681c8e"/><stop offset=".114" stop-color="#8a2884"/><stop offset=".116" stop-color="#b5367a"/><stop offset=".118" stop-color="#e55064"/><stop offset=".12" stop-color="#fb8360"/><stop offset=".123" stop-color="#feb078"/><stop offset=".125" stop-color="#fec68a"/><stop offset=".127" stop-color="#fec287"/><stop offset=".129" stop-color="#fea36f"/><stop offset=".131" stop-color="#f66f5c"/><stop offset=".133" stop-color="#d3426e"/><stop offset=".136" stop-color="#a02f7f"/><stop offset=".138" stop-color="#76218b"/><stop offset=".14" stop-color="#58158e"/><stop offset=".142" stop-color="#450f86"/><stop offset=".144" stop-color="#38107b"/><stop offset=".151" stop-color="#2d116d"/><stop offset=".283" stop-color="#251260"/><stop offset=".76" stop-color="#251260"/><stop offset=".775" stop-color="#2d116d"/><stop offset=".789" stop-color="#3d0f80"/><stop offset=".795" stop-color="#3f0f81"/><stop offset=".828" stop-color="#251260"/><stop offset="1" stop-color="#251260"/></linearGradient><linearGradient id="hb31"><stop offset="0" stop-color="#2d116d"/><stop offset=".018" stop-color="#2f1170"/><stop offset=".031" stop-color="#390f7c"/><stop offset=".047" stop-color="#5b168e"/><stop offset=".06" stop-color="#7a2389"/><stop offset=".066" stop-color="#7c2389"/><stop offset=".073" stop-color="#721f8c"/><stop offset=".081" stop-color="#57158d"/><stop offset=".09" stop-color="#3b0f7e"/><stop offset=".094" stop-color="#331075"/><stop offset=".099" stop-color="#25125f"/><stop offset=".103" stop-color="#2b116a"/><stop offset=".107" stop-color="#371079"/><stop offset=".11" stop-color="#440f85"/><stop offset=".112" stop-color="#57158d"/><stop offset=".114" stop-color="#72208b"/><stop offset=".116" stop-color="#982d80"/><stop offset=".118" stop-color="#c83e73"/><stop offset=".12" stop-color="#f1625e"/><stop offset=".123" stop-color="#fd9567"/><stop offset=".125" stop-color="#feb67d"/><stop offset=".127" stop-color="#febd82"/><stop offset=".129" stop-color="#fea872"/><stop offset=".131" stop-color="#f9795d"/><stop offset=".133" stop-color="#dd4969"/><stop offset=".136" stop-color="#aa337d"/><stop offset=".138" stop-color="#7c2389"/><stop offset=".14" stop-color="#5c168e"/><stop offset=".142" stop-color="#461087"/><stop offset=".146" stop-color="#331074"/><stop offset=".151" stop-color="#2d116d"/><stop offset=".309" stop-color="#25125f"/><stop offset=".752" stop-color="#25125f"/><stop offset=".767" stop-color="#271263"/><stop offset=".789" stop-color="#3b0f7e"/><stop offset=".795" stop-color="#3d0f80"/><stop offset=".825" stop-color="#251260"/><stop offset="1" stop-color="#25125f"/></linearGradient><linearGradient id="hb32"><stop offset="0" stop-color="#2d116d"/><stop offset=".016" stop-color="#2f1170"/><stop offset=".029" stop-color="#39107b"/><stop offset=".044" stop-color="#58158e"/><stop offset=".055" stop-color="#721f8c"/><stop offset=".062" stop-color="#78228a"/><stop offset=".07" stop-color="#6c1d8d"/><stop offset=".079" stop-color="#52138c"/><stop offset=".088" stop-color="#351077"/><stop offset=".094" stop-color="#2b1169"/><stop offset=".097" stop-color="#201155"/><stop offset=".105" stop-color="#211158"/><stop offset=".11" stop-color="#2d116b"/><stop offset=".112" stop-color="#3e107f"/><stop offset=".114" stop-color="#56158c"/><stop offset=".116" stop-color="#77218a"/><stop offset=".118" stop-color="#a4317e"/><stop offset=".12" stop-color="#d8466b"/><stop offset=".123" stop-color="#f8745d"/><stop offset=".125" stop-color="#fea16e"/><stop offset=".127" stop-color="#feb37a"/><stop offset=".129" stop-color="#fea872"/><stop offset=".131" stop-color="#fa7f5e"/><stop offset=".133" stop-color="#e24d66"/><stop offset=".136" stop-color="#af347b"/><stop offset=".138" stop-color="#802587"/><stop offset=".14" stop-color="#5d178e"/><stop offset=".142" stop-color="#471087"/><stop offset=".146" stop-color="#331074"/><stop offset=".151" stop-color="#2d116d"/><stop offset=".303" stop-color="#24125e"/><stop offset=".756" stop-color="#24125e"/><stop offset=".775" stop-color="#2b116a"/><stop offset=".789" stop-color="#3e0f80"/><stop offset=".795" stop-color="#410f83"/><stop offset=".819" stop-color="#271263"/><stop offset=".832" stop-color="#24125e"/><stop offset="1" stop-color="#24125e"/></linearGradient><linearGradient id="hb33"><stop offset="0" stop-color="#2d116d"/><stop offset=".025" stop-color="#351078"/><stop offset=".042" stop-color="#55148d"/><stop offset=".051" stop-color="#6a1c8e"/><stop offset=".06" stop-color="#72208b"/><stop offset=".066" stop-color="#6c1d8d"/><stop offset=".077" stop-color="#4e118a"/><stop offset=".086" stop-color="#301171"/><stop offset=".094" stop-color="#1f1154"/><stop offset=".097" stop-color="#170f41"/><stop offset=".105" stop-color="#0a0822"/><stop offset=".107" stop-color="#090720"/><stop offset=".11" stop-color="#0c0926"/><stop offset=".112" stop-color="#120c36"/><stop offset=".114" stop-color="#200f51"/><stop offset=".116" stop-color="#391174"/><stop offset=".118" stop-color="#671b8b"/><stop offset=".12" stop-color="#a6317d"/><stop offset=".123" stop-color="#e45164"/><stop offset=".125" stop-color="#fb8661"/><stop offset=".127" stop-color="#fea571"/><stop offset=".129" stop-color="#fea36f"/><stop offset=".131" stop-color="#fa815f"/><stop offset=".133" stop-color="#e55064"/><stop offset=".136" stop-color="#b3357a"/><stop offset=".138" stop-color="#822687"/><stop offset=".14" stop-color="#5f188e"/><stop offset=".142" stop-color="#481088"/><stop offset=".144" stop-color="#390f7c"/><stop offset=".151" stop-color="#2d116d"/><stop offset=".292" stop-color="#24125e"/><stop offset=".76" stop-color="#24125e"/><stop offset=".771" stop-color="#271263"/><stop offset=".778" stop-color="#2d116d"/><stop offset=".782" stop-color="#39107b"/><stop offset=".786" stop-color="#4c1189"/><stop offset=".791" stop-color="#5e188c"/><stop offset=".793" stop-color="#60188c"/><stop offset=".804" stop-color="#461086"/><stop offset=".812" stop-color="#2d116d"/><stop offset=".821" stop-color="#251260"/><stop offset="1" stop-color="#24125e"/></linearGradient><linearGradient id="hb34"><stop offset="0" stop-color="#2d116d"/><stop offset=".023" stop-color="#341077"/><stop offset=".04" stop-color="#52138c"/><stop offset=".055" stop-color="#6e1e8d"/><stop offset=".064" stop-color="#671b8e"/><stop offset=".07" stop-color="#57158d"/><stop offset=".079" stop-color="#390f7c"/><stop offset=".09" stop-color="#1c114e"/><stop offset=".097" stop-color="#0d0a28"/><stop offset=".101" stop-color="#07061b"/><stop offset=".11" stop-color="#02010a"/><stop offset=".114" stop-color="#03020e"/><stop offset=".116" stop-color="#07061a"/><stop offset=".118" stop-color="#190d44"/><stop offset=".12" stop-color="#4b1581"/><stop offset=".123" stop-color="#9a2d81"/><stop offset=".125" stop-color="#e55464"/><stop offset=".127" stop-color="#fc8a63"/><stop offset=".129" stop-color="#fd9b6a"/><stop offset=".131" stop-color="#fa815f"/><stop offset=".133" stop-color="#e85362"/><stop offset=".136" stop-color="#b83779"/><stop offset=".138" stop-color="#882785"/><stop offset=".14" stop-color="#63198e"/><stop offset=".142" stop-color="#491089"/><stop offset=".144" stop-color="#3a0f7d"/><stop offset=".151" stop-color="#2d116d"/><stop offset=".287" stop-color="#24125e"/><stop offset=".765" stop-color="#24125e"/><stop offset=".775" stop-color="#2b116a"/><stop offset=".78" stop-color="#3b0f7e"/><stop offset=".782" stop-color="#4d118a"/><stop offset=".784" stop-color="#641a8d"/><stop offset=".789" stop-color="#9f2f7f"/><stop offset=".791" stop-color="#b63877"/><stop offset=".793" stop-color="#be3c74"/><stop offset=".795" stop-color="#b63877"/><stop offset=".808" stop-color="#58158c"/><stop offset=".812" stop-color="#39107b"/><stop offset=".817" stop-color="#291167"/><stop offset=".819" stop-color="#271263"/><stop offset=".825" stop-color="#24125e"/><stop offset="1" stop-color="#24125e"/></linearGradient><linearGradient id="hb35"><stop offset="0" stop-color="#2d116d"/><stop offset=".023" stop-color="#361079"/><stop offset=".04" stop-color="#54138d"/><stop offset=".053" stop-color="#691c8e"/><stop offset=".06" stop-color="#671b8e"/><stop offset=".068" stop-color="#53138d"/><stop offset=".077" stop-color="#351077"/><stop offset=".088" stop-color="#1a1048"/><stop offset=".097" stop-color="#09071f"/><stop offset=".11" stop-color="#010108"/><stop offset=".116" stop-color="#010107"/><stop offset=".118" stop-color="#03020d"/><stop offset=".12" stop-color="#0d0928"/><stop offset=".123" stop-color="#3b1277"/><stop offset=".125" stop-color="#942b82"/><stop offset=".127" stop-color="#e55564"/><stop offset=".129" stop-color="#fa8260"/><stop offset=".131" stop-color="#fa7d5e"/><stop offset=".133" stop-color="#eb5661"/><stop offset=".136" stop-color="#bf3a77"/><stop offset=".138" stop-color="#8c2984"/><stop offset=".14" stop-color="#661b8e"/><stop offset=".142" stop-color="#4b1189"/><stop offset=".146" stop-color="#331074"/><stop offset=".151" stop-color="#2d116d"/><stop offset=".283" stop-color="#24125e"/><stop offset=".767" stop-color="#24125e"/><stop offset=".773" stop-color="#2a1168"/><stop offset=".775" stop-color="#321073"/><stop offset=".78" stop-color="#55148c"/><stop offset=".782" stop-color="#74208b"/><stop offset=".784" stop-color="#9f2f7f"/><stop offset=".786" stop-color="#d3466d"/><stop offset=".789" stop-color="#f57763"/><stop offset=".791" stop-color="#fda978"/><stop offset=".793" stop-color="#fdbe87"/><stop offset=".795" stop-color="#fdb07d"/><stop offset=".799" stop-color="#f57e67"/><stop offset=".804" stop-color="#de5368"/><stop offset=".806" stop-color="#be3b75"/><stop offset=".81" stop-color="#6d1d8c"/><stop offset=".812" stop-color="#51138b"/><stop offset=".815" stop-color="#3d0f7f"/><stop offset=".817" stop-color="#311172"/><stop offset=".821" stop-color="#261262"/><stop offset="1" stop-color="#24125e"/></linearGradient><linearGradient id="hb36"><stop offset="0" stop-color="#2d116d"/><stop offset=".021" stop-color="#351078"/><stop offset=".038" stop-color="#51128c"/><stop offset=".051" stop-color="#641a8e"/><stop offset=".057" stop-color="#62198e"/><stop offset=".066" stop-color="#50128b"/><stop offset=".073" stop-color="#39107b"/><stop offset=".081" stop-color="#1f1154"/><stop offset=".094" stop-color="#09071f"/><stop offset=".11" stop-color="#010108"/><stop offset=".12" stop-color="#02010b"/><stop offset=".123" stop-color="#0a0822"/><stop offset=".125" stop-color="#33116d"/><stop offset=".127" stop-color="#882785"/><stop offset=".129" stop-color="#dd4c68"/><stop offset=".131" stop-color="#f56c5c"/><stop offset=".133" stop-color="#ec5860"/><stop offset=".136" stop-color="#c43c75"/><stop offset=".138" stop-color="#922b82"/><stop offset=".14" stop-color="#6a1c8d"/><stop offset=".142" stop-color="#4e128b"/><stop offset=".146" stop-color="#331075"/><stop offset=".151" stop-color="#2d116d"/><stop offset=".316" stop-color="#23115c"/><stop offset=".754" stop-color="#23115c"/><stop offset=".769" stop-color="#261262"/><stop offset=".773" stop-color="#351077"/><stop offset=".775" stop-color="#471086"/><stop offset=".778" stop-color="#61198d"/><stop offset=".78" stop-color="#872785"/><stop offset=".782" stop-color="#ba3977"/><stop offset=".784" stop-color="#ea5e63"/><stop offset=".786" stop-color="#fd9d6f"/><stop offset=".789" stop-color="#fdda9d"/><stop offset=".791" stop-color="#fcfbbd"/><stop offset=".793" stop-color="#fcfdbf"/><stop offset=".797" stop-color="#fcfabc"/><stop offset=".802" stop-color="#fddfa1"/><stop offset=".804" stop-color="#feb87f"/><stop offset=".806" stop-color="#f87b60"/><stop offset=".808" stop-color="#d7476b"/><stop offset=".81" stop-color="#a3307e"/><stop offset=".812" stop-color="#792289"/><stop offset=".815" stop-color="#59168d"/><stop offset=".817" stop-color="#441084"/><stop offset=".821" stop-color="#2c116b"/><stop offset=".828" stop-color="#24125e"/><stop offset="1" stop-color="#23115c"/></linearGradient><linearGradient id="hb37"><stop offset="0" stop-color="#2d116d"/><stop offset=".023" stop-color="#39107b"/><stop offset=".038" stop-color="#52138c"/><stop offset=".047" stop-color="#5f188e"/><stop offset=".055" stop-color="#5f188e"/><stop offset=".062" stop-color="#52138c"/><stop offset=".07" stop-color="#371079"/><stop offset=".077" stop-color="#221159"/><stop offset=".084" stop-color="#150e3c"/><stop offset=".094" stop-color="#07061b"/><stop offset=".112" stop-color="#010106"/><stop offset=".123" stop-color="#02010a"/><stop offset=".125" stop-color="#0c0927"/><stop offset=".127" stop-color="#4a1188"/><stop offset=".129" stop-color="#b1357b"/><stop offset=".131" stop-color="#ee5b5f"/><stop offset=".133" stop-color="#ec5860"/><stop offset=".136" stop-color="#c93e72"/><stop offset=".14" stop-color="#6e1e8d"/><stop offset=".142" stop-color="#50128c"/><stop offset=".144" stop-color="#3e0f80"/><stop offset=".146" stop-color="#341077"/><stop offset=".151" stop-color="#2e116f"/><stop offset=".311" stop-color="#22115b"/><stop offset=".758" stop-color="#22115b"/><stop offset=".765" stop-color="#24125e"/><stop offset=".769" stop-color="#291167"/><stop offset=".771" stop-color="#341077"/><stop offset=".773" stop-color="#491088"/><stop offset=".775" stop-color="#6b1d8d"/><stop offset=".778" stop-color="#9d2e80"/><stop offset=".78" stop-color="#d6486b"/><stop offset=".782" stop-color="#f88063"/><stop offset=".784" stop-color="#fec087"/><stop offset=".786" stop-color="#fcf0b2"/><stop offset=".789" stop-color="#fcfdbf"/><stop offset=".791" stop-color="#fcfabc"/><stop offset=".795" stop-color="#fdce94"/><stop offset=".802" stop-color="#fdecae"/><stop offset=".804" stop-color="#fddfa1"/><stop offset=".806" stop-color="#feb980"/><stop offset=".808" stop-color="#fa8361"/><stop offset=".81" stop-color="#e15066"/><stop offset=".812" stop-color="#b1357a"/><stop offset=".815" stop-color="#852686"/><stop offset=".817" stop-color="#641a8d"/><stop offset=".819" stop-color="#4b1189"/><stop offset=".821" stop-color="#39107c"/><stop offset=".825" stop-color="#291166"/><stop offset=".836" stop-color="#22115b"/><stop offset="1" stop-color="#22115b"/></linearGradient><linearGradient id="hb38"><stop offset="0" stop-color="#2e116f"/><stop offset=".021" stop-color="#38107b"/><stop offset=".036" stop-color="#4f128b"/><stop offset=".047" stop-color="#5d178e"/><stop offset=".053" stop-color="#5a168e"/><stop offset=".06" stop-color="#4f128b"/><stop offset=".066" stop-color="#3c0f7f"/><stop offset=".077" stop-color="#1b104b"/><stop offset=".084" stop-color="#100c30"/><stop offset=".094" stop-color="#050417"/><stop offset=".107" stop-color="#010108"/><stop offset=".123" stop-color="#010109"/><stop offset=".125" stop-color="#08061d"/><stop offset=".127" stop-color="#3a0f7d"/><stop offset=".129" stop-color="#9e2f7f"/><stop offset=".131" stop-color="#e55064"/><stop offset=".133" stop-color="#eb5760"/><stop offset=".136" stop-color="#ce4070"/><stop offset=".14" stop-color="#72208c"/><stop offset=".142" stop-color="#53138d"/><stop offset=".144" stop-color="#3f0f82"/><stop offset=".149" stop-color="#321073"/><stop offset=".155" stop-color="#361078"/><stop offset=".164" stop-color="#2d116d"/><stop offset=".309" stop-color="#22115b"/><stop offset=".76" stop-color="#22115b"/><stop offset=".767" stop-color="#271263"/><stop offset=".769" stop-color="#2d116d"/><stop offset=".771" stop-color="#3e0f80"/><stop offset=".773" stop-color="#5b168e"/><stop offset=".775" stop-color="#892885"/><stop offset=".778" stop-color="#cb3f71"/><stop offset=".78" stop-color="#fa8060"/><stop offset=".782" stop-color="#fecd91"/><stop offset=".784" stop-color="#fcf9bb"/><stop offset=".786" stop-color="#fcfabc"/><stop offset=".789" stop-color="#fde3a6"/><stop offset=".791" stop-color="#feb37d"/><stop offset=".793" stop-color="#f47663"/><stop offset=".795" stop-color="#d2476d"/><stop offset=".797" stop-color="#e95c62"/><stop offset=".799" stop-color="#fb8c66"/><stop offset=".802" stop-color="#feb67e"/><stop offset=".804" stop-color="#fecb8e"/><stop offset=".806" stop-color="#fec88c"/><stop offset=".808" stop-color="#feb078"/><stop offset=".81" stop-color="#fb8561"/><stop offset=".812" stop-color="#e75563"/><stop offset=".815" stop-color="#bc3977"/><stop offset=".817" stop-color="#902a83"/><stop offset=".819" stop-color="#6c1d8c"/><stop offset=".821" stop-color="#51138b"/><stop offset=".823" stop-color="#3f0f81"/><stop offset=".825" stop-color="#321073"/><stop offset=".83" stop-color="#261262"/><stop offset=".836" stop-color="#22115b"/><stop offset="1" stop-color="#22115b"/></linearGradient><linearGradient id="hb39"><stop offset="0" stop-color="#2f1170"/><stop offset=".018" stop-color="#37107a"/><stop offset=".042" stop-color="#57158e"/><stop offset=".049" stop-color="#59158e"/><stop offset=".055" stop-color="#51128c"/><stop offset=".064" stop-color="#390f7c"/><stop offset=".077" stop-color="#150e3d"/><stop offset=".084" stop-color="#0c0927"/><stop offset=".094" stop-color="#040313"/><stop offset=".11" stop-color="#010106"/><stop offset=".12" stop-color="#010106"/><stop offset=".123" stop-color="#010108"/><stop offset=".125" stop-color="#040313"/><stop offset=".127" stop-color="#1d104e"/><stop offset=".129" stop-color="#6c1d8b"/><stop offset=".131" stop-color="#c03b75"/><stop offset=".133" stop-color="#de4a68"/><stop offset=".136" stop-color="#c83e73"/><stop offset=".14" stop-color="#711f8c"/><stop offset=".142" stop-color="#53138d"/><stop offset=".144" stop-color="#3f0f81"/><stop offset=".146" stop-color="#361079"/><stop offset=".149" stop-color="#361079"/><stop offset=".155" stop-color="#50128b"/><stop offset=".157" stop-color="#4a1189"/><stop offset=".162" stop-color="#331075"/><stop offset=".166" stop-color="#2d116d"/><stop offset=".307" stop-color="#22115b"/><stop offset=".76" stop-color="#22115b"/><stop offset=".765" stop-color="#25125f"/><stop offset=".767" stop-color="#291167"/><stop offset=".769" stop-color="#331075"/><stop offset=".771" stop-color="#4a1189"/><stop offset=".773" stop-color="#701f8c"/><stop offset=".775" stop-color="#aa337c"/><stop offset=".778" stop-color="#ec5b60"/><stop offset=".78" stop-color="#feac76"/><stop offset=".782" stop-color="#fde9aa"/><stop offset=".784" stop-color="#fcfabc"/><stop offset=".786" stop-color="#fddd9f"/><stop offset=".789" stop-color="#fd9a6b"/><stop offset=".791" stop-color="#e04e66"/><stop offset=".793" stop-color="#a7327d"/><stop offset=".795" stop-color="#792289"/><stop offset=".799" stop-color="#cc4170"/><stop offset=".802" stop-color="#ec6061"/><stop offset=".804" stop-color="#fa8563"/><stop offset=".806" stop-color="#fd9f6e"/><stop offset=".808" stop-color="#fea672"/><stop offset=".81" stop-color="#fd9969"/><stop offset=".812" stop-color="#f9795d"/><stop offset=".815" stop-color="#e75363"/><stop offset=".817" stop-color="#c13b75"/><stop offset=".821" stop-color="#711f8c"/><stop offset=".823" stop-color="#54138d"/><stop offset=".825" stop-color="#3f0f81"/><stop offset=".828" stop-color="#311172"/><stop offset=".832" stop-color="#251260"/><stop offset=".838" stop-color="#22115b"/><stop offset="1" stop-color="#22115b"/></linearGradient><linearGradient id="hb40"><stop offset="0" stop-color="#2f1170"/><stop offset=".018" stop-color="#38107b"/><stop offset=".042" stop-color="#55148d"/><stop offset=".053" stop-color="#4e118b"/><stop offset=".062" stop-color="#371079"/><stop offset=".077" stop-color="#110c33"/><stop offset=".086" stop-color="#08061d"/><stop offset=".105" stop-color="#010108"/><stop offset=".125" stop-color="#020109"/><stop offset=".127" stop-color="#0a0821"/><stop offset=".129" stop-color="#3f0f81"/><stop offset=".131" stop-color="#962c81"/><stop offset=".133" stop-color="#c73d73"/><stop offset=".136" stop-color="#bc3978"/><stop offset=".14" stop-color="#6c1d8d"/><stop offset=".142" stop-color="#50128c"/><stop offset=".144" stop-color="#3d0f80"/><stop offset=".146" stop-color="#351078"/><stop offset=".149" stop-color="#37107a"/><stop offset=".153" stop-color="#51128c"/><stop offset=".155" stop-color="#59158e"/><stop offset=".157" stop-color="#51128c"/><stop offset=".162" stop-color="#351078"/><stop offset=".166" stop-color="#2d116d"/><stop offset=".307" stop-color="#22115b"/><stop offset=".758" stop-color="#22115b"/><stop offset=".765" stop-color="#261262"/><stop offset=".767" stop-color="#2d116c"/><stop offset=".769" stop-color="#3c0f7f"/><stop offset=".771" stop-color="#5a168e"/><stop offset=".773" stop-color="#8a2884"/><stop offset=".775" stop-color="#cc4071"/><stop offset=".778" stop-color="#fa815f"/><stop offset=".78" stop-color="#fec98c"/><stop offset=".782" stop-color="#fdecad"/><stop offset=".784" stop-color="#fddd9f"/><stop offset=".786" stop-color="#fea572"/><stop offset=".789" stop-color="#ea5961"/><stop offset=".791" stop-color="#ab337c"/><stop offset=".793" stop-color="#72208b"/><stop offset=".795" stop-color="#4b1189"/><stop offset=".797" stop-color="#661b8d"/><stop offset=".799" stop-color="#832686"/><stop offset=".804" stop-color="#c73f72"/><stop offset=".806" stop-color="#e25266"/><stop offset=".808" stop-color="#f1675f"/><stop offset=".81" stop-color="#f7745e"/><stop offset=".812" stop-color="#f8745d"/><stop offset=".815" stop-color="#f2625d"/><stop offset=".817" stop-color="#da476a"/><stop offset=".821" stop-color="#8a2884"/><stop offset=".823" stop-color="#681c8d"/><stop offset=".825" stop-color="#4e128b"/><stop offset=".828" stop-color="#3b0f7e"/><stop offset=".832" stop-color="#281164"/><stop offset=".841" stop-color="#22115b"/><stop offset="1" stop-color="#22115b"/></linearGradient><linearGradient id="hb41"><stop offset="0" stop-color="#2f1170"/><stop offset=".016" stop-color="#37107a"/><stop offset=".04" stop-color="#52138c"/><stop offset=".051" stop-color="#4a1089"/><stop offset=".06" stop-color="#351077"/><stop offset=".073" stop-color="#140e3a"/><stop offset=".081" stop-color="#09071f"/><stop offset=".101" stop-color="#020109"/><stop offset=".125" stop-color="#010108"/><stop offset=".127" stop-color="#07061c"/><stop offset=".129" stop-color="#331074"/><stop offset=".131" stop-color="#852786"/><stop offset=".133" stop-color="#b73779"/><stop offset=".136" stop-color="#ae347b"/><stop offset=".14" stop-color="#671b8e"/><stop offset=".142" stop-color="#4d118a"/><stop offset=".144" stop-color="#3b0f7e"/><stop offset=".146" stop-color="#341077"/><stop offset=".149" stop-color="#361079"/><stop offset=".153" stop-color="#50128c"/><stop offset=".155" stop-color="#59158e"/><stop offset=".157" stop-color="#52138c"/><stop offset=".162" stop-color="#361079"/><stop offset=".166" stop-color="#2d116d"/><stop offset=".307" stop-color="#22115b"/><stop offset=".758" stop-color="#22115b"/><stop offset=".765" stop-color="#281164"/><stop offset=".767" stop-color="#331074"/><stop offset=".769" stop-color="#491088"/><stop offset=".771" stop-color="#6f1e8c"/><stop offset=".773" stop-color="#a9327d"/><stop offset=".775" stop-color="#eb5761"/><stop offset=".778" stop-color="#fea370"/><stop offset=".78" stop-color="#fed395"/><stop offset=".782" stop-color="#fed597"/><stop offset=".784" stop-color="#fea773"/><stop offset=".786" stop-color="#e95c62"/><stop offset=".789" stop-color="#a7327d"/><stop offset=".791" stop-color="#691c8a"/><stop offset=".793" stop-color="#41127e"/><stop offset=".795" stop-color="#2b1067"/><stop offset=".797" stop-color="#341072"/><stop offset=".802" stop-color="#5c178a"/><stop offset=".804" stop-color="#782189"/><stop offset=".81" stop-color="#d1436e"/><stop offset=".812" stop-color="#e14e66"/><stop offset=".815" stop-color="#e45064"/><stop offset=".817" stop-color="#da476a"/><stop offset=".819" stop-color="#c03a76"/><stop offset=".825" stop-color="#5f188e"/><stop offset=".828" stop-color="#491088"/><stop offset=".83" stop-color="#371079"/><stop offset=".836" stop-color="#25125f"/><stop offset="1" stop-color="#22115b"/></linearGradient><linearGradient id="hb42"><stop offset="0" stop-color="#2f1170"/><stop offset=".021" stop-color="#3b0f7e"/><stop offset=".036" stop-color="#4c118a"/><stop offset=".049" stop-color="#471087"/><stop offset=".057" stop-color="#331075"/><stop offset=".073" stop-color="#110c31"/><stop offset=".081" stop-color="#07061b"/><stop offset=".099" stop-color="#020109"/><stop offset=".125" stop-color="#010108"/><stop offset=".127" stop-color="#060519"/><stop offset=".129" stop-color="#2c116b"/><stop offset=".131" stop-color="#79228a"/><stop offset=".133" stop-color="#aa337d"/><stop offset=".136" stop-color="#a5317e"/><stop offset=".14" stop-color="#641a8e"/><stop offset=".142" stop-color="#4a1089"/><stop offset=".144" stop-color="#3a0f7d"/><stop offset=".146" stop-color="#341077"/><stop offset=".149" stop-color="#361079"/><stop offset=".153" stop-color="#4f128b"/><stop offset=".155" stop-color="#58158e"/><stop offset=".157" stop-color="#52138c"/><stop offset=".162" stop-color="#361079"/><stop offset=".166" stop-color="#2d116d"/><stop offset=".311" stop-color="#22115b"/><stop offset=".756" stop-color="#22115b"/><stop offset=".762" stop-color="#251260"/><stop offset=".765" stop-color="#2b116a"/><stop offset=".767" stop-color="#3b0f7e"/><stop offset=".769" stop-color="#58158d"/><stop offset=".771" stop-color="#882885"/><stop offset=".773" stop-color="#cb3f72"/><stop offset=".775" stop-color="#f9795d"/><stop offset=".778" stop-color="#feb67d"/><stop offset=".78" stop-color="#fec388"/><stop offset=".782" stop-color="#fb9069"/><stop offset=".784" stop-color="#c44370"/><stop offset=".786" stop-color="#6b1e82"/><stop offset=".789" stop-color="#300f61"/><stop offset=".791" stop-color="#110a32"/><stop offset=".793" stop-color="#09071e"/><stop offset=".795" stop-color="#07061a"/><stop offset=".797" stop-color="#090720"/><stop offset=".799" stop-color="#0f0b2e"/><stop offset=".802" stop-color="#1c0f4c"/><stop offset=".804" stop-color="#351073"/><stop offset=".806" stop-color="#531489"/><stop offset=".808" stop-color="#73208a"/><stop offset=".812" stop-color="#af357b"/><stop offset=".815" stop-color="#c23b75"/><stop offset=".817" stop-color="#c83d73"/><stop offset=".819" stop-color="#bd3977"/><stop offset=".821" stop-color="#a7327d"/><stop offset=".825" stop-color="#6f1e8c"/><stop offset=".828" stop-color="#56148d"/><stop offset=".832" stop-color="#341077"/><stop offset=".838" stop-color="#25125f"/><stop offset="1" stop-color="#22115b"/></linearGradient><linearGradient id="hb43"><stop offset="0" stop-color="#301171"/><stop offset=".034" stop-color="#491088"/><stop offset=".044" stop-color="#471087"/><stop offset=".053" stop-color="#38107b"/><stop offset=".07" stop-color="#100c30"/><stop offset=".079" stop-color="#07061b"/><stop offset=".097" stop-color="#020109"/><stop offset=".125" stop-color="#010108"/><stop offset=".127" stop-color="#050417"/><stop offset=".129" stop-color="#251260"/><stop offset=".131" stop-color="#6e1e8c"/><stop offset=".133" stop-color="#a02f7f"/><stop offset=".136" stop-color="#a1307e"/><stop offset=".14" stop-color="#651a8e"/><stop offset=".142" stop-color="#4b1189"/><stop offset=".144" stop-color="#3a0f7d"/><stop offset=".146" stop-color="#331075"/><stop offset=".149" stop-color="#351078"/><stop offset=".153" stop-color="#4f128b"/><stop offset=".155" stop-color="#58158e"/><stop offset=".157" stop-color="#53138d"/><stop offset=".162" stop-color="#37107a"/><stop offset=".164" stop-color="#301171"/><stop offset=".168" stop-color="#2d116d"/><stop offset=".287" stop-color="#25125f"/><stop offset=".76" stop-color="#25125f"/><stop offset=".765" stop-color="#2e116f"/><stop offset=".767" stop-color="#400f83"/><stop offset=".769" stop-color="#62198e"/><stop offset=".771" stop-color="#972d81"/><stop offset=".773" stop-color="#db486a"/><stop offset=".775" stop-color="#fc8961"/><stop offset=".778" stop-color="#feae77"/><stop offset=".78" stop-color="#fa8764"/><stop offset=".782" stop-color="#af3579"/><stop offset=".784" stop-color="#3a1273"/><stop offset=".786" stop-color="#09071f"/><stop offset=".789" stop-color="#02020c"/><stop offset=".791" stop-color="#010107"/><stop offset=".797" stop-color="#03020e"/><stop offset=".802" stop-color="#090720"/><stop offset=".804" stop-color="#130d37"/><stop offset=".806" stop-color="#23115c"/><stop offset=".808" stop-color="#3f1080"/><stop offset=".81" stop-color="#5e178d"/><stop offset=".815" stop-color="#942c82"/><stop offset=".817" stop-color="#a7327d"/><stop offset=".819" stop-color="#ac337c"/><stop offset=".821" stop-color="#a5317e"/><stop offset=".823" stop-color="#942b81"/><stop offset=".828" stop-color="#651a8e"/><stop offset=".83" stop-color="#51128c"/><stop offset=".834" stop-color="#331075"/><stop offset=".838" stop-color="#281164"/><stop offset=".843" stop-color="#25125f"/><stop offset="1" stop-color="#25125f"/></linearGradient><linearGradient id="hb44"><stop offset="0" stop-color="#321073"/><stop offset=".034" stop-color="#491088"/><stop offset=".044" stop-color="#430f84"/><stop offset=".053" stop-color="#311172"/><stop offset=".068" stop-color="#110c32"/><stop offset=".077" stop-color="#07061b"/><stop offset=".092" stop-color="#02020b"/><stop offset=".11" stop-color="#010106"/><stop offset=".125" stop-color="#010108"/><stop offset=".127" stop-color="#050416"/><stop offset=".129" stop-color="#201155"/><stop offset=".131" stop-color="#62198e"/><stop offset=".133" stop-color="#922b82"/><stop offset=".136" stop-color="#982d80"/><stop offset=".14" stop-color="#641a8e"/><stop offset=".142" stop-color="#4c118a"/><stop offset=".144" stop-color="#3c0f7f"/><stop offset=".146" stop-color="#351078"/><stop offset=".149" stop-color="#37107a"/><stop offset=".153" stop-color="#50128c"/><stop offset=".155" stop-color="#59158e"/><stop offset=".157" stop-color="#56148d"/><stop offset=".159" stop-color="#481088"/><stop offset=".164" stop-color="#321073"/><stop offset=".166" stop-color="#301171"/><stop offset=".298" stop-color="#291166"/><stop offset=".758" stop-color="#291166"/><stop offset=".762" stop-color="#2c116b"/><stop offset=".765" stop-color="#341077"/><stop offset=".767" stop-color="#471087"/><stop offset=".769" stop-color="#681c8e"/><stop offset=".771" stop-color="#9e2f7f"/><stop offset=".773" stop-color="#de4968"/><stop offset=".775" stop-color="#f8775d"/><stop offset=".778" stop-color="#eb6263"/><stop offset=".78" stop-color="#932b82"/><stop offset=".782" stop-color="#2f0f62"/><stop offset=".784" stop-color="#070519"/><stop offset=".786" stop-color="#010108"/><stop offset=".797" stop-color="#02020b"/><stop offset=".802" stop-color="#050416"/><stop offset=".806" stop-color="#110c33"/><stop offset=".81" stop-color="#361077"/><stop offset=".812" stop-color="#51138b"/><stop offset=".817" stop-color="#822587"/><stop offset=".819" stop-color="#922b82"/><stop offset=".821" stop-color="#982d80"/><stop offset=".823" stop-color="#942b81"/><stop offset=".825" stop-color="#852786"/><stop offset=".83" stop-color="#5e178e"/><stop offset=".834" stop-color="#3e0f80"/><stop offset=".841" stop-color="#2a1168"/><stop offset="1" stop-color="#291166"/></linearGradient><linearGradient id="hb45"><stop offset="0" stop-color="#361079"/><stop offset=".027" stop-color="#481088"/><stop offset=".044" stop-color="#3f0f82"/><stop offset=".053" stop-color="#2c116b"/><stop offset=".068" stop-color="#0e0a2b"/><stop offset=".077" stop-color="#060519"/><stop offset=".09" stop-color="#02020b"/><stop offset=".11" stop-color="#010106"/><stop offset=".125" stop-color="#010108"/><stop offset=".127" stop-color="#040414"/><stop offset=".129" stop-color="#1b104b"/><stop offset=".131" stop-color="#56148d"/><stop offset=".133" stop-color="#832687"/><stop offset=".136" stop-color="#8b2984"/><stop offset=".14" stop-color="#62198e"/><stop offset=".144" stop-color="#3e0f80"/><stop offset=".149" stop-color="#3a0f7d"/><stop offset=".155" stop-color="#5d178e"/><stop offset=".157" stop-color="#59158e"/><stop offset=".162" stop-color="#3e0f80"/><stop offset=".166" stop-color="#331075"/><stop offset=".277" stop-color="#2f1170"/><stop offset=".758" stop-color="#2f1170"/><stop offset=".762" stop-color="#331074"/><stop offset=".765" stop-color="#3b0f7e"/><stop offset=".767" stop-color="#4e118b"/><stop offset=".769" stop-color="#701f8c"/><stop offset=".773" stop-color="#d9466b"/><stop offset=".775" stop-color="#da4a69"/><stop offset=".778" stop-color="#872785"/><stop offset=".78" stop-color="#240f57"/><stop offset=".782" stop-color="#030311"/><stop offset=".784" stop-color="#010107"/><stop offset=".797" stop-color="#020109"/><stop offset=".802" stop-color="#030311"/><stop offset=".806" stop-color="#0a0821"/><stop offset=".808" stop-color="#110c33"/><stop offset=".81" stop-color="#1e1150"/><stop offset=".812" stop-color="#301170"/><stop offset=".815" stop-color="#491187"/><stop offset=".817" stop-color="#60188e"/><stop offset=".819" stop-color="#75208b"/><stop offset=".821" stop-color="#832686"/><stop offset=".823" stop-color="#882785"/><stop offset=".825" stop-color="#812587"/><stop offset=".83" stop-color="#63198e"/><stop offset=".836" stop-color="#3b0f7e"/><stop offset=".845" stop-color="#2f1170"/><stop offset="1" stop-color="#2f1170"/></linearGradient><linearGradient id="hb46"><stop offset="0" stop-color="#3a0f7d"/><stop offset=".025" stop-color="#491089"/><stop offset=".04" stop-color="#440f85"/><stop offset=".049" stop-color="#321073"/><stop offset=".066" stop-color="#0f0b2d"/><stop offset=".073" stop-color="#08061d"/><stop offset=".088" stop-color="#02020b"/><stop offset=".11" stop-color="#010106"/><stop offset=".125" stop-color="#010108"/><stop offset=".127" stop-color="#040313"/><stop offset=".129" stop-color="#170f42"/><stop offset=".131" stop-color="#4b1189"/><stop offset=".133" stop-color="#74208b"/><stop offset=".136" stop-color="#7e2488"/><stop offset=".14" stop-color="#60188e"/><stop offset=".144" stop-color="#410f83"/><stop offset=".146" stop-color="#3c0f7f"/><stop offset=".151" stop-color="#461087"/><stop offset=".155" stop-color="#60188e"/><stop offset=".157" stop-color="#5d178e"/><stop offset=".164" stop-color="#3a0f7d"/><stop offset=".168" stop-color="#37107a"/><stop offset=".758" stop-color="#361079"/><stop offset=".762" stop-color="#390f7c"/><stop offset=".765" stop-color="#420f84"/><stop offset=".767" stop-color="#56148d"/><stop offset=".769" stop-color="#76218a"/><stop offset=".771" stop-color="#a8327d"/><stop offset=".773" stop-color="#d0416f"/><stop offset=".775" stop-color="#b0357b"/><stop offset=".778" stop-color="#441085"/><stop offset=".78" stop-color="#06051a"/><stop offset=".782" stop-color="#010108"/><stop offset=".797" stop-color="#010109"/><stop offset=".806" stop-color="#060518"/><stop offset=".808" stop-color="#0a0822"/><stop offset=".812" stop-color="#1e1151"/><stop offset=".815" stop-color="#2f116f"/><stop offset=".817" stop-color="#461086"/><stop offset=".819" stop-color="#5c168e"/><stop offset=".823" stop-color="#75208b"/><stop offset=".825" stop-color="#75218b"/><stop offset=".832" stop-color="#56148d"/><stop offset=".836" stop-color="#420f84"/><stop offset=".845" stop-color="#361079"/><stop offset="1" stop-color="#361079"/></linearGradient><linearGradient id="hb47"><stop offset="0" stop-color="#3d0f80"/><stop offset=".025" stop-color="#4a1089"/><stop offset=".04" stop-color="#420f84"/><stop offset=".049" stop-color="#2e116f"/><stop offset=".066" stop-color="#0d0a28"/><stop offset=".075" stop-color="#050417"/><stop offset=".084" stop-color="#02020d"/><stop offset=".11" stop-color="#010106"/><stop offset=".123" stop-color="#010106"/><stop offset=".125" stop-color="#010108"/><stop offset=".127" stop-color="#030312"/><stop offset=".129" stop-color="#150e3b"/><stop offset=".131" stop-color="#410f83"/><stop offset=".133" stop-color="#671b8e"/><stop offset=".136" stop-color="#72208b"/><stop offset=".138" stop-color="#6c1d8d"/><stop offset=".142" stop-color="#4f128b"/><stop offset=".146" stop-color="#3f0f82"/><stop offset=".149" stop-color="#3f0f82"/><stop offset=".155" stop-color="#63198e"/><stop offset=".157" stop-color="#61198e"/><stop offset=".164" stop-color="#3e0f80"/><stop offset=".168" stop-color="#3a0f7d"/><stop offset=".758" stop-color="#3a0f7d"/><stop offset=".762" stop-color="#3e0f80"/><stop offset=".765" stop-color="#471087"/><stop offset=".767" stop-color="#59158e"/><stop offset=".769" stop-color="#7a2389"/><stop offset=".771" stop-color="#a7327d"/><stop offset=".773" stop-color="#c83d73"/><stop offset=".775" stop-color="#9f2f7f"/><stop offset=".778" stop-color="#371079"/><stop offset=".78" stop-color="#040415"/><stop offset=".782" stop-color="#010108"/><stop offset=".797" stop-color="#010108"/><stop offset=".806" stop-color="#040313"/><stop offset=".81" stop-color="#0c0927"/><stop offset=".815" stop-color="#201155"/><stop offset=".817" stop-color="#321073"/><stop offset=".819" stop-color="#451086"/><stop offset=".821" stop-color="#56148d"/><stop offset=".823" stop-color="#62198e"/><stop offset=".828" stop-color="#651a8e"/><stop offset=".838" stop-color="#3f0f82"/><stop offset=".845" stop-color="#3a0f7d"/><stop offset="1" stop-color="#3a0f7d"/></linearGradient><linearGradient id="hb48"><stop offset="0" stop-color="#3f0f81"/><stop offset=".025" stop-color="#491089"/><stop offset=".038" stop-color="#420f84"/><stop offset=".047" stop-color="#301171"/><stop offset=".062" stop-color="#100c30"/><stop offset=".07" stop-color="#07061b"/><stop offset=".081" stop-color="#02020d"/><stop offset=".11" stop-color="#010106"/><stop offset=".123" stop-color="#010106"/><stop offset=".127" stop-color="#030311"/><stop offset=".129" stop-color="#110c32"/><stop offset=".131" stop-color="#301171"/><stop offset=".133" stop-color="#4f128b"/><stop offset=".136" stop-color="#5b168e"/><stop offset=".138" stop-color="#5c168e"/><stop offset=".146" stop-color="#410f83"/><stop offset=".149" stop-color="#420f84"/><stop offset=".155" stop-color="#641a8e"/><stop offset=".157" stop-color="#641a8e"/><stop offset=".162" stop-color="#491088"/><stop offset=".166" stop-color="#3d0f80"/><stop offset=".76" stop-color="#3d0f80"/><stop offset=".765" stop-color="#481088"/><stop offset=".767" stop-color="#59158e"/><stop offset=".769" stop-color="#75218b"/><stop offset=".771" stop-color="#9b2e80"/><stop offset=".773" stop-color="#b3367a"/><stop offset=".775" stop-color="#8a2885"/><stop offset=".778" stop-color="#2b1169"/><stop offset=".78" stop-color="#040313"/><stop offset=".782" stop-color="#010106"/><stop offset=".799" stop-color="#010108"/><stop offset=".806" stop-color="#03030f"/><stop offset=".812" stop-color="#0e0b2c"/><stop offset=".817" stop-color="#23115b"/><stop offset=".821" stop-color="#420f83"/><stop offset=".825" stop-color="#55148d"/><stop offset=".83" stop-color="#55148d"/><stop offset=".838" stop-color="#400f83"/><stop offset=".847" stop-color="#3c0f7f"/><stop offset="1" stop-color="#3d0f80"/></linearGradient><linearGradient id="hb49"><stop offset="0" stop-color="#3f0f81"/><stop offset=".027" stop-color="#461087"/><stop offset=".038" stop-color="#3d0f80"/><stop offset=".047" stop-color="#2a1168"/><stop offset=".062" stop-color="#0e0a2b"/><stop offset=".07" stop-color="#060519"/><stop offset=".081" stop-color="#02020c"/><stop offset=".11" stop-color="#010106"/><stop offset=".123" stop-color="#010106"/><stop offset=".127" stop-color="#03030f"/><stop offset=".129" stop-color="#0e0a2b"/><stop offset=".131" stop-color="#251260"/><stop offset=".133" stop-color="#3e0f80"/><stop offset=".136" stop-color="#491089"/><stop offset=".14" stop-color="#50128c"/><stop offset=".149" stop-color="#420f84"/><stop offset=".153" stop-color="#58158e"/><stop offset=".155" stop-color="#641a8e"/><stop offset=".157" stop-color="#641a8e"/><stop offset=".162" stop-color="#491089"/><stop offset=".166" stop-color="#3d0f80"/><stop offset=".76" stop-color="#3d0f80"/><stop offset=".767" stop-color="#4a1189"/><stop offset=".771" stop-color="#681b8d"/><stop offset=".773" stop-color="#711f8b"/><stop offset=".775" stop-color="#54148a"/><stop offset=".778" stop-color="#180f45"/><stop offset=".78" stop-color="#03020e"/><stop offset=".782" stop-color="#010106"/><stop offset=".804" stop-color="#02010a"/><stop offset=".81" stop-color="#060519"/><stop offset=".815" stop-color="#100c30"/><stop offset=".821" stop-color="#2f116f"/><stop offset=".823" stop-color="#3b0f7e"/><stop offset=".828" stop-color="#481087"/><stop offset=".841" stop-color="#3d0f80"/><stop offset="1" stop-color="#3d0f80"/></linearGradient><linearGradient id="hb50"><stop offset="0" stop-color="#3f0f81"/><stop offset=".025" stop-color="#430f84"/><stop offset=".036" stop-color="#3a0f7d"/><stop offset=".042" stop-color="#2f1170"/><stop offset=".062" stop-color="#0c0926"/><stop offset=".068" stop-color="#060519"/><stop offset=".086" stop-color="#020109"/><stop offset=".11" stop-color="#010106"/><stop offset=".123" stop-color="#010106"/><stop offset=".127" stop-color="#03030f"/><stop offset=".129" stop-color="#0d0a2a"/><stop offset=".131" stop-color="#22115b"/><stop offset=".133" stop-color="#39107b"/><stop offset=".136" stop-color="#450f86"/><stop offset=".14" stop-color="#4e118b"/><stop offset=".149" stop-color="#420f84"/><stop offset=".155" stop-color="#641a8e"/><stop offset=".157" stop-color="#651a8e"/><stop offset=".164" stop-color="#410f83"/><stop offset=".168" stop-color="#3d0f80"/><stop offset=".762" stop-color="#3d0f80"/><stop offset=".771" stop-color="#461086"/><stop offset=".773" stop-color="#441085"/><stop offset=".775" stop-color="#2e116d"/><stop offset=".778" stop-color="#0d0a2a"/><stop offset=".78" stop-color="#02020b"/><stop offset=".782" stop-color="#010106"/><stop offset=".802" stop-color="#010108"/><stop offset=".808" stop-color="#030311"/><stop offset=".815" stop-color="#0c0926"/><stop offset=".821" stop-color="#23115c"/><stop offset=".825" stop-color="#38107b"/><stop offset=".83" stop-color="#420f84"/><stop offset=".841" stop-color="#3d0f80"/><stop offset="1" stop-color="#3d0f80"/></linearGradient><linearGradient id="hb51"><stop offset="0" stop-color="#3f0f81"/><stop offset=".021" stop-color="#400f83"/><stop offset=".034" stop-color="#39107b"/><stop offset=".042" stop-color="#2a1168"/><stop offset=".06" stop-color="#0d0a28"/><stop offset=".068" stop-color="#050417"/><stop offset=".084" stop-color="#020109"/><stop offset=".11" stop-color="#010106"/><stop offset=".123" stop-color="#010106"/><stop offset=".127" stop-color="#03030f"/><stop offset=".129" stop-color="#0d0a2a"/><stop offset=".131" stop-color="#22115b"/><stop offset=".133" stop-color="#38107b"/><stop offset=".136" stop-color="#430f84"/><stop offset=".142" stop-color="#4e118b"/><stop offset=".149" stop-color="#420f84"/><stop offset=".151" stop-color="#491088"/><stop offset=".155" stop-color="#641a8e"/><stop offset=".157" stop-color="#651a8e"/><stop offset=".164" stop-color="#420f84"/><stop offset=".168" stop-color="#3d0f80"/><stop offset=".771" stop-color="#3e0f80"/><stop offset=".773" stop-color="#39107b"/><stop offset=".775" stop-color="#25125f"/><stop offset=".778" stop-color="#0b0925"/><stop offset=".78" stop-color="#02020b"/><stop offset=".782" stop-color="#010106"/><stop offset=".802" stop-color="#010108"/><stop offset=".81" stop-color="#040414"/><stop offset=".817" stop-color="#0f0b2d"/><stop offset=".825" stop-color="#2e116e"/><stop offset=".832" stop-color="#3b0f7e"/><stop offset="1" stop-color="#3e0f80"/></linearGradient><linearGradient id="hb52"><stop offset="0" stop-color="#3f0f81"/><stop offset=".021" stop-color="#3f0f81"/><stop offset=".034" stop-color="#351078"/><stop offset=".042" stop-color="#261262"/><stop offset=".06" stop-color="#0b0925"/><stop offset=".07" stop-color="#030312"/><stop offset=".081" stop-color="#020109"/><stop offset=".11" stop-color="#010106"/><stop offset=".123" stop-color="#010106"/><stop offset=".127" stop-color="#03030f"/><stop offset=".129" stop-color="#0d0a2a"/><stop offset=".131" stop-color="#22115b"/><stop offset=".133" stop-color="#361079"/><stop offset=".136" stop-color="#420f84"/><stop offset=".14" stop-color="#4e118b"/><stop offset=".149" stop-color="#440f85"/><stop offset=".151" stop-color="#491088"/><stop offset=".155" stop-color="#63198e"/><stop offset=".157" stop-color="#651a8e"/><stop offset=".164" stop-color="#420f84"/><stop offset=".168" stop-color="#3d0f80"/><stop offset=".771" stop-color="#3d0f80"/><stop offset=".773" stop-color="#38107b"/><stop offset=".775" stop-color="#24125e"/><stop offset=".778" stop-color="#0b0925"/><stop offset=".78" stop-color="#02020b"/><stop offset=".782" stop-color="#010106"/><stop offset=".795" stop-color="#010106"/><stop offset=".808" stop-color="#02020d"/><stop offset=".812" stop-color="#060518"/><stop offset=".817" stop-color="#0c0926"/><stop offset=".825" stop-color="#24115e"/><stop offset=".83" stop-color="#2f1170"/><stop offset=".838" stop-color="#39107b"/><stop offset="1" stop-color="#3f0f82"/></linearGradient><linearGradient id="hb53"><stop offset="0" stop-color="#3f0f81"/><stop offset=".018" stop-color="#3f0f81"/><stop offset=".034" stop-color="#321073"/><stop offset=".042" stop-color="#23115c"/><stop offset=".057" stop-color="#0c0927"/><stop offset=".07" stop-color="#030311"/><stop offset=".086" stop-color="#010108"/><stop offset=".11" stop-color="#010106"/><stop offset=".123" stop-color="#010106"/><stop offset=".127" stop-color="#03030f"/><stop offset=".129" stop-color="#0d0a2a"/><stop offset=".131" stop-color="#221159"/><stop offset=".133" stop-color="#361079"/><stop offset=".136" stop-color="#400f83"/><stop offset=".142" stop-color="#4e118b"/><stop offset=".149" stop-color="#440f85"/><stop offset=".151" stop-color="#491088"/><stop offset=".155" stop-color="#62198e"/><stop offset=".157" stop-color="#651a8e"/><stop offset=".164" stop-color="#420f84"/><stop offset=".168" stop-color="#3d0f80"/><stop offset=".771" stop-color="#3d0f80"/><stop offset=".773" stop-color="#38107b"/><stop offset=".775" stop-color="#24125e"/><stop offset=".778" stop-color="#0b0925"/><stop offset=".78" stop-color="#02020b"/><stop offset=".782" stop-color="#010106"/><stop offset=".795" stop-color="#010106"/><stop offset=".806" stop-color="#02010a"/><stop offset=".815" stop-color="#07061b"/><stop offset=".819" stop-color="#0e0a2b"/><stop offset=".83" stop-color="#291166"/><stop offset=".841" stop-color="#39107b"/><stop offset="1" stop-color="#440f85"/></linearGradient><linearGradient id="hb54"><stop offset="0" stop-color="#3f0f81"/><stop offset=".016" stop-color="#3f0f81"/><stop offset=".029" stop-color="#361079"/><stop offset=".038" stop-color="#291166"/><stop offset=".055" stop-color="#0d0a2a"/><stop offset=".068" stop-color="#030312"/><stop offset=".084" stop-color="#010108"/><stop offset=".11" stop-color="#010106"/><stop offset=".123" stop-color="#010106"/><stop offset=".127" stop-color="#03030f"/><stop offset=".129" stop-color="#0d0a2a"/><stop offset=".131" stop-color="#211158"/><stop offset=".133" stop-color="#361079"/><stop offset=".136" stop-color="#3f0f82"/><stop offset=".142" stop-color="#4e118b"/><stop offset=".149" stop-color="#450f86"/><stop offset=".151" stop-color="#491088"/><stop offset=".155" stop-color="#62198e"/><stop offset=".157" stop-color="#651a8e"/><stop offset=".164" stop-color="#420f84"/><stop offset=".168" stop-color="#3d0f80"/><stop offset=".771" stop-color="#3d0f80"/><stop offset=".773" stop-color="#38107b"/><stop offset=".775" stop-color="#24125e"/><stop offset=".778" stop-color="#0b0925"/><stop offset=".78" stop-color="#02020b"/><stop offset=".782" stop-color="#010106"/><stop offset=".795" stop-color="#010106"/><stop offset=".804" stop-color="#010108"/><stop offset=".812" stop-color="#040414"/><stop offset=".819" stop-color="#0d0a28"/><stop offset=".83" stop-color="#25125f"/><stop offset=".834" stop-color="#2e116f"/><stop offset=".845" stop-color="#3b0f7e"/><stop offset="1" stop-color="#4d118a"/></linearGradient><linearGradient id="hb55"><stop offset="0" stop-color="#400f83"/><stop offset=".018" stop-color="#3f0f81"/><stop offset=".031" stop-color="#331074"/><stop offset=".044" stop-color="#1c114e"/><stop offset=".055" stop-color="#0c0927"/><stop offset=".068" stop-color="#030311"/><stop offset=".081" stop-color="#010108"/><stop offset=".11" stop-color="#010106"/><stop offset=".123" stop-color="#010106"/><stop offset=".127" stop-color="#03030f"/><stop offset=".129" stop-color="#0d0a2a"/><stop offset=".131" stop-color="#211158"/><stop offset=".133" stop-color="#361079"/><stop offset=".136" stop-color="#3f0f81"/><stop offset=".142" stop-color="#4e118b"/><stop offset=".149" stop-color="#451086"/><stop offset=".151" stop-color="#491088"/><stop offset=".155" stop-color="#61198e"/><stop offset=".157" stop-color="#651a8e"/><stop offset=".164" stop-color="#430f84"/><stop offset=".168" stop-color="#3d0f80"/><stop offset=".394" stop-color="#3d0f80"/><stop offset=".439" stop-color="#430f84"/><stop offset=".509" stop-color="#3d0f80"/><stop offset=".769" stop-color="#3f0f81"/><stop offset=".773" stop-color="#39107b"/><stop offset=".775" stop-color="#24125e"/><stop offset=".778" stop-color="#0b0925"/><stop offset=".78" stop-color="#02020b"/><stop offset=".782" stop-color="#010106"/><stop offset=".795" stop-color="#010106"/><stop offset=".806" stop-color="#020109"/><stop offset=".815" stop-color="#060518"/><stop offset=".819" stop-color="#0b0925"/><stop offset=".834" stop-color="#2d116c"/><stop offset=".843" stop-color="#390f7c"/><stop offset=".888" stop-color="#410f83"/><stop offset=".964" stop-color="#5c168e"/><stop offset="1" stop-color="#5d178e"/></linearGradient><linearGradient id="hb56"><stop offset="0" stop-color="#410f83"/><stop offset=".018" stop-color="#3f0f82"/><stop offset=".031" stop-color="#331074"/><stop offset=".055" stop-color="#0c0926"/><stop offset=".066" stop-color="#030312"/><stop offset=".081" stop-color="#010108"/><stop offset=".123" stop-color="#010106"/><stop offset=".127" stop-color="#03030f"/><stop offset=".129" stop-color="#0d0a2a"/><stop offset=".131" stop-color="#211158"/><stop offset=".133" stop-color="#341077"/><stop offset=".136" stop-color="#3e0f80"/><stop offset=".142" stop-color="#4e118b"/><stop offset=".151" stop-color="#491088"/><stop offset=".155" stop-color="#60188e"/><stop offset=".157" stop-color="#661b8e"/><stop offset=".164" stop-color="#440f85"/><stop offset=".168" stop-color="#3d0f80"/><stop offset=".385" stop-color="#3d0f80"/><stop offset=".441" stop-color="#471087"/><stop offset=".517" stop-color="#3d0f80"/><stop offset=".769" stop-color="#420f84"/><stop offset=".773" stop-color="#3c0f7f"/><stop offset=".775" stop-color="#25125f"/><stop offset=".778" stop-color="#0b0925"/><stop offset=".78" stop-color="#02020b"/><stop offset=".782" stop-color="#010106"/><stop offset=".795" stop-color="#010106"/><stop offset=".804" stop-color="#010108"/><stop offset=".812" stop-color="#030312"/><stop offset=".821" stop-color="#0e0b2c"/><stop offset=".834" stop-color="#2c116b"/><stop offset=".838" stop-color="#331075"/><stop offset=".847" stop-color="#3b0f7e"/><stop offset=".884" stop-color="#430f84"/><stop offset=".919" stop-color="#59158e"/><stop offset=".953" stop-color="#6e1e8c"/><stop offset="1" stop-color="#75218a"/></linearGradient><linearGradient id="hb57"><stop offset="0" stop-color="#420f84"/><stop offset=".018" stop-color="#410f83"/><stop offset=".029" stop-color="#361079"/><stop offset=".04" stop-color="#22115b"/><stop offset=".053" stop-color="#0d0a2a"/><stop offset=".064" stop-color="#040414"/><stop offset=".079" stop-color="#010108"/><stop offset=".123" stop-color="#010106"/><stop offset=".127" stop-color="#03030f"/><stop offset=".129" stop-color="#0d0a2a"/><stop offset=".131" stop-color="#211158"/><stop offset=".133" stop-color="#341077"/><stop offset=".136" stop-color="#3d0f80"/><stop offset=".142" stop-color="#4c118a"/><stop offset=".151" stop-color="#491088"/><stop offset=".155" stop-color="#60188e"/><stop offset=".157" stop-color="#671b8e"/><stop offset=".164" stop-color="#440f85"/><stop offset=".168" stop-color="#3d0f80"/><stop offset=".381" stop-color="#3d0f80"/><stop offset=".444" stop-color="#4e118b"/><stop offset=".526" stop-color="#3d0f80"/><stop offset=".58" stop-color="#450f86"/><stop offset=".663" stop-color="#3f0f81"/><stop offset=".771" stop-color="#4a1189"/><stop offset=".773" stop-color="#410f83"/><stop offset=".775" stop-color="#261262"/><stop offset=".778" stop-color="#0b0925"/><stop offset=".78" stop-color="#02020b"/><stop offset=".782" stop-color="#010106"/><stop offset=".804" stop-color="#010108"/><stop offset=".817" stop-color="#07061b"/><stop offset=".821" stop-color="#0d0a2a"/><stop offset=".828" stop-color="#1c104c"/><stop offset=".836" stop-color="#2f1170"/><stop offset=".847" stop-color="#3b0f7e"/><stop offset=".884" stop-color="#471087"/><stop offset=".912" stop-color="#61198e"/><stop offset=".958" stop-color="#8e2a83"/><stop offset=".977" stop-color="#972d81"/><stop offset="1" stop-color="#972d81"/></linearGradient><linearGradient id="hb58"><stop offset="0" stop-color="#440f85"/><stop offset=".018" stop-color="#430f84"/><stop offset=".029" stop-color="#37107a"/><stop offset=".04" stop-color="#22115b"/><stop offset=".053" stop-color="#0d0a28"/><stop offset=".068" stop-color="#02020d"/><stop offset=".079" stop-color="#010108"/><stop offset=".123" stop-color="#010106"/><stop offset=".127" stop-color="#03030f"/><stop offset=".129" stop-color="#0d0a2a"/><stop offset=".131" stop-color="#211158"/><stop offset=".133" stop-color="#341077"/><stop offset=".136" stop-color="#3d0f80"/><stop offset=".144" stop-color="#4e118b"/><stop offset=".151" stop-color="#491089"/><stop offset=".155" stop-color="#60188e"/><stop offset=".157" stop-color="#671b8e"/><stop offset=".164" stop-color="#440f85"/><stop offset=".168" stop-color="#3d0f80"/><stop offset=".376" stop-color="#3d0f80"/><stop offset=".446" stop-color="#56148d"/><stop offset=".463" stop-color="#55148d"/><stop offset=".515" stop-color="#3f0f81"/><stop offset=".546" stop-color="#3f0f81"/><stop offset=".593" stop-color="#491089"/><stop offset=".654" stop-color="#3f0f82"/><stop offset=".732" stop-color="#59158e"/><stop offset=".771" stop-color="#5a168e"/><stop offset=".773" stop-color="#4d118a"/><stop offset=".775" stop-color="#2a1168"/><stop offset=".778" stop-color="#0b0925"/><stop offset=".78" stop-color="#02020b"/><stop offset=".782" stop-color="#010106"/><stop offset=".804" stop-color="#010108"/><stop offset=".817" stop-color="#06051a"/><stop offset=".823" stop-color="#110c32"/><stop offset=".834" stop-color="#2a1168"/><stop offset=".841" stop-color="#361079"/><stop offset=".847" stop-color="#3b0f7e"/><stop offset=".869" stop-color="#3f0f81"/><stop offset=".886" stop-color="#4d118a"/><stop offset=".908" stop-color="#681c8e"/><stop offset=".945" stop-color="#9e2f7f"/><stop offset=".964" stop-color="#b3367a"/><stop offset="1" stop-color="#bb3878"/></linearGradient><linearGradient id="hb59"><stop offset="0" stop-color="#451086"/><stop offset=".016" stop-color="#461087"/><stop offset=".031" stop-color="#341077"/><stop offset=".051" stop-color="#0f0b2d"/><stop offset=".064" stop-color="#030312"/><stop offset=".079" stop-color="#010108"/><stop offset=".123" stop-color="#010106"/><stop offset=".127" stop-color="#03030f"/><stop offset=".129" stop-color="#0d0a2a"/><stop offset=".131" stop-color="#211158"/><stop offset=".133" stop-color="#341077"/><stop offset=".136" stop-color="#3d0f80"/><stop offset=".144" stop-color="#4e118b"/><stop offset=".151" stop-color="#4a1089"/><stop offset=".155" stop-color="#5f188e"/><stop offset=".157" stop-color="#671b8e"/><stop offset=".164" stop-color="#450f86"/><stop offset=".168" stop-color="#3d0f80"/><stop offset=".372" stop-color="#3d0f80"/><stop offset=".402" stop-color="#450f86"/><stop offset=".446" stop-color="#60188e"/><stop offset=".465" stop-color="#5d178e"/><stop offset=".491" stop-color="#491089"/><stop offset=".52" stop-color="#3f0f81"/><stop offset=".541" stop-color="#3f0f81"/><stop offset=".591" stop-color="#4e118b"/><stop offset=".652" stop-color="#410f83"/><stop offset=".697" stop-color="#5c168e"/><stop offset=".752" stop-color="#79228a"/><stop offset=".769" stop-color="#792289"/><stop offset=".771" stop-color="#75218a"/><stop offset=".773" stop-color="#60188e"/><stop offset=".775" stop-color="#321073"/><stop offset=".778" stop-color="#0c0926"/><stop offset=".78" stop-color="#02020b"/><stop offset=".782" stop-color="#010106"/><stop offset=".808" stop-color="#020109"/><stop offset=".819" stop-color="#09071f"/><stop offset=".836" stop-color="#2d116d"/><stop offset=".847" stop-color="#3b0f7e"/><stop offset=".867" stop-color="#3f0f81"/><stop offset=".886" stop-color="#50128c"/><stop offset=".906" stop-color="#6e1e8d"/><stop offset=".947" stop-color="#b73779"/><stop offset=".964" stop-color="#cd4071"/><stop offset=".977" stop-color="#d5446d"/><stop offset="1" stop-color="#d6446d"/></linearGradient><linearGradient id="hb60"><stop offset="0" stop-color="#471087"/><stop offset=".018" stop-color="#471087"/><stop offset=".029" stop-color="#390f7c"/><stop offset=".036" stop-color="#2c116b"/><stop offset=".051" stop-color="#0e0b2c"/><stop offset=".062" stop-color="#040414"/><stop offset=".077" stop-color="#010108"/><stop offset=".11" stop-color="#010106"/><stop offset=".125" stop-color="#010108"/><stop offset=".127" stop-color="#03030f"/><stop offset=".129" stop-color="#0d0a2a"/><stop offset=".131" stop-color="#211158"/><stop offset=".133" stop-color="#341077"/><stop offset=".136" stop-color="#3d0f80"/><stop offset=".144" stop-color="#4e118b"/><stop offset=".151" stop-color="#4a1089"/><stop offset=".155" stop-color="#5f188e"/><stop offset=".157" stop-color="#671b8e"/><stop offset=".159" stop-color="#60188e"/><stop offset=".164" stop-color="#451086"/><stop offset=".168" stop-color="#3d0f80"/><stop offset=".37" stop-color="#3d0f80"/><stop offset=".398" stop-color="#450f86"/><stop offset=".422" stop-color="#57158e"/><stop offset=".448" stop-color="#691c8e"/><stop offset=".461" stop-color="#671b8e"/><stop offset=".48" stop-color="#57158e"/><stop offset=".504" stop-color="#450f86"/><stop offset=".524" stop-color="#3f0f81"/><stop offset=".546" stop-color="#400f83"/><stop offset=".587" stop-color="#52138c"/><stop offset=".648" stop-color="#420f84"/><stop offset=".665" stop-color="#4c118a"/><stop offset=".687" stop-color="#63198e"/><stop offset=".736" stop-color="#982d81"/><stop offset=".769" stop-color="#a1307e"/><stop offset=".771" stop-color="#9c2e80"/><stop offset=".773" stop-color="#79228a"/><stop offset=".775" stop-color="#3a0f7d"/><stop offset=".778" stop-color="#0c0927"/><stop offset=".78" stop-color="#02020b"/><stop offset=".782" stop-color="#010106"/><stop offset=".806" stop-color="#010108"/><stop offset=".817" stop-color="#060518"/><stop offset=".823" stop-color="#100b2f"/><stop offset=".83" stop-color="#1e1152"/><stop offset=".836" stop-color="#2d116d"/><stop offset=".847" stop-color="#3b0f7e"/><stop offset=".867" stop-color="#3f0f81"/><stop offset=".888" stop-color="#54138d"/><stop offset=".906" stop-color="#721f8c"/><stop offset=".943" stop-color="#b83779"/><stop offset=".96" stop-color="#d2426f"/><stop offset=".975" stop-color="#de4968"/><stop offset="1" stop-color="#df4a68"/></linearGradient><linearGradient id="hb61"><stop offset="0" stop-color="#491088"/><stop offset=".018" stop-color="#491088"/><stop offset=".029" stop-color="#390f7c"/><stop offset=".036" stop-color="#2c116b"/><stop offset=".051" stop-color="#0e0a2b"/><stop offset=".062" stop-color="#040414"/><stop offset=".077" stop-color="#010108"/><stop offset=".11" stop-color="#010106"/><stop offset=".125" stop-color="#010108"/><stop offset=".127" stop-color="#03030f"/><stop offset=".129" stop-color="#0d0a2a"/><stop offset=".131" stop-color="#211158"/><stop offset=".133" stop-color="#341077"/><stop offset=".144" stop-color="#4c118a"/><stop offset=".151" stop-color="#4c118a"/><stop offset=".155" stop-color="#5f188e"/><stop offset=".157" stop-color="#671b8e"/><stop offset=".159" stop-color="#60188e"/><stop offset=".164" stop-color="#451086"/><stop offset=".168" stop-color="#3d0f80"/><stop offset=".37" stop-color="#3d0f80"/><stop offset=".398" stop-color="#451086"/><stop offset=".437" stop-color="#6a1c8d"/><stop offset=".454" stop-color="#6f1e8c"/><stop offset=".483" stop-color="#59158e"/><stop offset=".517" stop-color="#400f83"/><stop offset=".543" stop-color="#400f83"/><stop offset=".589" stop-color="#55148d"/><stop offset=".643" stop-color="#430f84"/><stop offset=".658" stop-color="#4b1189"/><stop offset=".678" stop-color="#641a8e"/><stop offset=".721" stop-color="#ad347c"/><stop offset=".736" stop-color="#c03b76"/><stop offset=".752" stop-color="#cb3f71"/><stop offset=".769" stop-color="#cd4071"/><stop offset=".771" stop-color="#c53d74"/><stop offset=".773" stop-color="#942c81"/><stop offset=".775" stop-color="#451086"/><stop offset=".778" stop-color="#0c0927"/><stop offset=".78" stop-color="#02020b"/><stop offset=".782" stop-color="#010106"/><stop offset=".806" stop-color="#010108"/><stop offset=".819" stop-color="#08071e"/><stop offset=".834" stop-color="#281164"/><stop offset=".838" stop-color="#311172"/><stop offset=".845" stop-color="#390f7c"/><stop offset=".867" stop-color="#3f0f81"/><stop offset=".886" stop-color="#50128c"/><stop offset=".906" stop-color="#6e1e8d"/><stop offset=".947" stop-color="#b73779"/><stop offset=".964" stop-color="#cd4071"/><stop offset=".977" stop-color="#d5446d"/><stop offset="1" stop-color="#d6446d"/></linearGradient><linearGradient id="hb62"><stop offset="0" stop-color="#491088"/><stop offset=".014" stop-color="#4c118a"/><stop offset=".027" stop-color="#3f0f81"/><stop offset=".034" stop-color="#311172"/><stop offset=".051" stop-color="#0d0a2a"/><stop offset=".064" stop-color="#03030f"/><stop offset=".077" stop-color="#010108"/><stop offset=".11" stop-color="#010106"/><stop offset=".125" stop-color="#010108"/><stop offset=".127" stop-color="#03030f"/><stop offset=".129" stop-color="#0d0a2a"/><stop offset=".131" stop-color="#211158"/><stop offset=".133" stop-color="#341077"/><stop offset=".144" stop-color="#4b1189"/><stop offset=".151" stop-color="#4d118a"/><stop offset=".155" stop-color="#5e178e"/><stop offset=".157" stop-color="#671b8e"/><stop offset=".159" stop-color="#61198e"/><stop offset=".164" stop-color="#461087"/><stop offset=".168" stop-color="#3d0f80"/><stop offset=".37" stop-color="#3d0f80"/><stop offset=".4" stop-color="#471087"/><stop offset=".433" stop-color="#681c8e"/><stop offset=".446" stop-color="#721f8c"/><stop offset=".457" stop-color="#721f8c"/><stop offset=".483" stop-color="#5a168e"/><stop offset=".502" stop-color="#471087"/><stop offset=".517" stop-color="#400f83"/><stop offset=".543" stop-color="#400f83"/><stop offset=".587" stop-color="#56148d"/><stop offset=".602" stop-color="#56148d"/><stop offset=".645" stop-color="#440f85"/><stop offset=".665" stop-color="#56148d"/><stop offset=".678" stop-color="#6d1d8d"/><stop offset=".715" stop-color="#b93878"/><stop offset=".734" stop-color="#d9476b"/><stop offset=".747" stop-color="#e55064"/><stop offset=".769" stop-color="#e85462"/><stop offset=".771" stop-color="#e14d66"/><stop offset=".773" stop-color="#a9327d"/><stop offset=".775" stop-color="#4d118a"/><stop offset=".778" stop-color="#0d0a28"/><stop offset=".78" stop-color="#02020b"/><stop offset=".782" stop-color="#010106"/><stop offset=".806" stop-color="#010108"/><stop offset=".819" stop-color="#07061c"/><stop offset=".823" stop-color="#0e0b2c"/><stop offset=".83" stop-color="#1d114f"/><stop offset=".838" stop-color="#311172"/><stop offset=".849" stop-color="#3b0f7e"/><stop offset=".869" stop-color="#3f0f81"/><stop offset=".886" stop-color="#4d118a"/><stop offset=".908" stop-color="#681c8e"/><stop offset=".945" stop-color="#9e2f7f"/><stop offset=".964" stop-color="#b3367a"/><stop offset="1" stop-color="#bb3878"/></linearGradient><linearGradient id="hb63"><stop offset="0" stop-color="#4a1089"/><stop offset=".014" stop-color="#4c118a"/><stop offset=".027" stop-color="#3f0f81"/><stop offset=".038" stop-color="#251260"/><stop offset=".049" stop-color="#100b2f"/><stop offset=".062" stop-color="#030312"/><stop offset=".075" stop-color="#010108"/><stop offset=".11" stop-color="#010106"/><stop offset=".125" stop-color="#010108"/><stop offset=".127" stop-color="#03030f"/><stop offset=".129" stop-color="#0d0a2a"/><stop offset=".131" stop-color="#211158"/><stop offset=".133" stop-color="#341077"/><stop offset=".136" stop-color="#3b0f7e"/><stop offset=".146" stop-color="#4e118b"/><stop offset=".151" stop-color="#4e118b"/><stop offset=".155" stop-color="#5d178e"/><stop offset=".157" stop-color="#671b8e"/><stop offset=".159" stop-color="#62198e"/><stop offset=".164" stop-color="#471087"/><stop offset=".168" stop-color="#3d0f80"/><stop offset=".37" stop-color="#3d0f80"/><stop offset=".398" stop-color="#451086"/><stop offset=".437" stop-color="#6a1c8d"/><stop offset=".454" stop-color="#6f1e8c"/><stop offset=".483" stop-color="#59158e"/><stop offset=".517" stop-color="#400f83"/><stop offset=".543" stop-color="#400f83"/><stop offset=".589" stop-color="#55148d"/><stop offset=".645" stop-color="#440f85"/><stop offset=".656" stop-color="#4c118a"/><stop offset=".676" stop-color="#6b1c8d"/><stop offset=".728" stop-color="#d6456c"/><stop offset=".743" stop-color="#e85362"/><stop offset=".769" stop-color="#ed5a5f"/><stop offset=".771" stop-color="#e75263"/><stop offset=".773" stop-color="#ae347c"/><stop offset=".775" stop-color="#4e118b"/><stop offset=".778" stop-color="#0d0a29"/><stop offset=".78" stop-color="#02020b"/><stop offset=".782" stop-color="#010106"/><stop offset=".806" stop-color="#010108"/><stop offset=".817" stop-color="#050416"/><stop offset=".823" stop-color="#0e0a2b"/><stop offset=".836" stop-color="#2b116a"/><stop offset=".843" stop-color="#361079"/><stop offset=".849" stop-color="#3b0f7e"/><stop offset=".875" stop-color="#410f83"/><stop offset=".893" stop-color="#4e118b"/><stop offset=".916" stop-color="#661b8e"/><stop offset=".958" stop-color="#8e2a83"/><stop offset=".977" stop-color="#972d81"/><stop offset="1" stop-color="#972d81"/></linearGradient><linearGradient id="hb64"><stop offset="0" stop-color="#491089"/><stop offset=".014" stop-color="#4c118a"/><stop offset=".029" stop-color="#39107b"/><stop offset=".036" stop-color="#291167"/><stop offset=".051" stop-color="#0c0927"/><stop offset=".062" stop-color="#030312"/><stop offset=".075" stop-color="#010108"/><stop offset=".11" stop-color="#010106"/><stop offset=".125" stop-color="#010108"/><stop offset=".127" stop-color="#03030f"/><stop offset=".129" stop-color="#0d0a2a"/><stop offset=".131" stop-color="#211158"/><stop offset=".133" stop-color="#341077"/><stop offset=".136" stop-color="#3b0f7e"/><stop offset=".144" stop-color="#491088"/><stop offset=".153" stop-color="#53138d"/><stop offset=".155" stop-color="#5d178e"/><stop offset=".157" stop-color="#671b8e"/><stop offset=".159" stop-color="#62198e"/><stop offset=".164" stop-color="#471087"/><stop offset=".168" stop-color="#3d0f80"/><stop offset=".37" stop-color="#3d0f80"/><stop offset=".398" stop-color="#450f86"/><stop offset=".422" stop-color="#57158e"/><stop offset=".448" stop-color="#691c8e"/><stop offset=".461" stop-color="#671b8e"/><stop offset=".493" stop-color="#4b1189"/><stop offset=".515" stop-color="#400f83"/><stop offset=".546" stop-color="#400f83"/><stop offset=".587" stop-color="#52138c"/><stop offset=".602" stop-color="#52138c"/><stop offset=".643" stop-color="#420f84"/><stop offset=".658" stop-color="#4d118a"/><stop offset=".678" stop-color="#691c8d"/><stop offset=".717" stop-color="#b3367a"/><stop offset=".736" stop-color="#d1426f"/><stop offset=".754" stop-color="#dd4a68"/><stop offset=".769" stop-color="#dd4a68"/><stop offset=".771" stop-color="#d6456c"/><stop offset=".773" stop-color="#a02f7f"/><stop offset=".775" stop-color="#491089"/><stop offset=".778" stop-color="#0c0927"/><stop offset=".78" stop-color="#02020b"/><stop offset=".782" stop-color="#010106"/><stop offset=".797" stop-color="#010106"/><stop offset=".806" stop-color="#010108"/><stop offset=".817" stop-color="#050416"/><stop offset=".823" stop-color="#0d0a2a"/><stop offset=".832" stop-color="#201157"/><stop offset=".838" stop-color="#2f1170"/><stop offset=".849" stop-color="#3b0f7e"/><stop offset=".884" stop-color="#430f84"/><stop offset=".919" stop-color="#59158e"/><stop offset=".953" stop-color="#6e1e8c"/><stop offset="1" stop-color="#75218a"/></linearGradient><linearGradient id="hb65"><stop offset="0" stop-color="#491088"/><stop offset=".016" stop-color="#491089"/><stop offset=".027" stop-color="#3b0f7e"/><stop offset=".036" stop-color="#281164"/><stop offset=".049" stop-color="#0e0b2c"/><stop offset=".06" stop-color="#040414"/><stop offset=".075" stop-color="#010108"/><stop offset=".11" stop-color="#010106"/><stop offset=".125" stop-color="#010108"/><stop offset=".127" stop-color="#03030f"/><stop offset=".129" stop-color="#0d0a2a"/><stop offset=".131" stop-color="#211158"/><stop offset=".133" stop-color="#341077"/><stop offset=".136" stop-color="#3b0f7e"/><stop offset=".151" stop-color="#4f128b"/><stop offset=".155" stop-color="#5d178e"/><stop offset=".157" stop-color="#671b8e"/><stop offset=".159" stop-color="#641a8e"/><stop offset=".164" stop-color="#481088"/><stop offset=".168" stop-color="#3d0f80"/><stop offset=".372" stop-color="#3d0f80"/><stop offset=".402" stop-color="#450f86"/><stop offset=".446" stop-color="#60188e"/><stop offset=".465" stop-color="#5d178e"/><stop offset=".491" stop-color="#491089"/><stop offset=".52" stop-color="#3f0f81"/><stop offset=".541" stop-color="#3f0f81"/><stop offset=".591" stop-color="#4e118b"/><stop offset=".643" stop-color="#410f83"/><stop offset=".661" stop-color="#4b1189"/><stop offset=".68" stop-color="#62198e"/><stop offset=".736" stop-color="#ad347c"/><stop offset=".752" stop-color="#b73779"/><stop offset=".769" stop-color="#b83878"/><stop offset=".771" stop-color="#b1357b"/><stop offset=".773" stop-color="#872785"/><stop offset=".775" stop-color="#3f0f82"/><stop offset=".778" stop-color="#0c0927"/><stop offset=".78" stop-color="#02020b"/><stop offset=".782" stop-color="#010106"/><stop offset=".797" stop-color="#010106"/><stop offset=".815" stop-color="#03030f"/><stop offset=".823" stop-color="#0d0a28"/><stop offset=".836" stop-color="#2a1168"/><stop offset=".843" stop-color="#361079"/><stop offset=".849" stop-color="#3b0f7e"/><stop offset=".888" stop-color="#410f83"/><stop offset=".964" stop-color="#5c168e"/><stop offset="1" stop-color="#5d178e"/></linearGradient><linearGradient id="hb66"><stop offset="0" stop-color="#481088"/><stop offset=".016" stop-color="#481088"/><stop offset=".027" stop-color="#390f7c"/><stop offset=".036" stop-color="#261262"/><stop offset=".051" stop-color="#0b0925"/><stop offset=".06" stop-color="#040414"/><stop offset=".077" stop-color="#010108"/><stop offset=".112" stop-color="#010106"/><stop offset=".125" stop-color="#010108"/><stop offset=".127" stop-color="#03030f"/><stop offset=".129" stop-color="#0d0a2a"/><stop offset=".131" stop-color="#211158"/><stop offset=".133" stop-color="#341077"/><stop offset=".136" stop-color="#3b0f7e"/><stop offset=".142" stop-color="#400f83"/><stop offset=".153" stop-color="#54138d"/><stop offset=".155" stop-color="#5d178e"/><stop offset=".157" stop-color="#671b8e"/><stop offset=".159" stop-color="#641a8e"/><stop offset=".164" stop-color="#491088"/><stop offset=".168" stop-color="#3d0f80"/><stop offset=".376" stop-color="#3d0f80"/><stop offset=".446" stop-color="#56148d"/><stop offset=".463" stop-color="#55148d"/><stop offset=".515" stop-color="#3f0f81"/><stop offset=".546" stop-color="#3f0f81"/><stop offset=".593" stop-color="#491089"/><stop offset=".648" stop-color="#400f83"/><stop offset=".687" stop-color="#5b168e"/><stop offset=".734" stop-color="#842686"/><stop offset=".769" stop-color="#8c2984"/><stop offset=".771" stop-color="#882785"/><stop offset=".773" stop-color="#6b1d8d"/><stop offset=".775" stop-color="#361079"/><stop offset=".778" stop-color="#0c0927"/><stop offset=".78" stop-color="#02020b"/><stop offset=".782" stop-color="#010106"/><stop offset=".797" stop-color="#010106"/><stop offset=".81" stop-color="#02010a"/><stop offset=".817" stop-color="#040414"/><stop offset=".823" stop-color="#0c0927"/><stop offset=".832" stop-color="#1f1154"/><stop offset=".838" stop-color="#2d116d"/><stop offset=".849" stop-color="#3b0f7e"/><stop offset="1" stop-color="#4d118a"/></linearGradient><linearGradient id="hb67"><stop offset="0" stop-color="#461087"/><stop offset=".016" stop-color="#451086"/><stop offset=".025" stop-color="#3b0f7e"/><stop offset=".034" stop-color="#291167"/><stop offset=".049" stop-color="#0d0a2a"/><stop offset=".06" stop-color="#040414"/><stop offset=".073" stop-color="#020109"/><stop offset=".123" stop-color="#010108"/><stop offset=".125" stop-color="#010109"/><stop offset=".127" stop-color="#030312"/><stop offset=".129" stop-color="#0d0a2a"/><stop offset=".131" stop-color="#22115b"/><stop offset=".133" stop-color="#341077"/><stop offset=".136" stop-color="#3b0f7e"/><stop offset=".142" stop-color="#400f83"/><stop offset=".151" stop-color="#51128c"/><stop offset=".155" stop-color="#5f188e"/><stop offset=".157" stop-color="#671b8e"/><stop offset=".159" stop-color="#641a8e"/><stop offset=".164" stop-color="#491088"/><stop offset=".168" stop-color="#3d0f80"/><stop offset=".381" stop-color="#3d0f80"/><stop offset=".45" stop-color="#4e118b"/><stop offset=".533" stop-color="#3d0f80"/><stop offset=".58" stop-color="#450f86"/><stop offset=".648" stop-color="#3f0f81"/><stop offset=".702" stop-color="#56148d"/><stop offset=".739" stop-color="#661b8e"/><stop offset=".771" stop-color="#661b8d"/><stop offset=".773" stop-color="#55148d"/><stop offset=".775" stop-color="#2d116d"/><stop offset=".778" stop-color="#0b0925"/><stop offset=".78" stop-color="#02020b"/><stop offset=".782" stop-color="#010106"/><stop offset=".806" stop-color="#010108"/><stop offset=".815" stop-color="#03030f"/><stop offset=".819" stop-color="#060518"/><stop offset=".825" stop-color="#100b2f"/><stop offset=".834" stop-color="#24125e"/><stop offset=".838" stop-color="#2d116d"/><stop offset=".849" stop-color="#3b0f7e"/><stop offset="1" stop-color="#440f85"/></linearGradient><linearGradient id="hb68"><stop offset="0" stop-color="#450f86"/><stop offset=".014" stop-color="#450f86"/><stop offset=".027" stop-color="#351078"/><stop offset=".034" stop-color="#281164"/><stop offset=".049" stop-color="#0d0a2a"/><stop offset=".062" stop-color="#040313"/><stop offset=".079" stop-color="#020109"/><stop offset=".123" stop-color="#010109"/><stop offset=".127" stop-color="#040313"/><stop offset=".129" stop-color="#0e0b2c"/><stop offset=".131" stop-color="#22115b"/><stop offset=".133" stop-color="#341077"/><stop offset=".136" stop-color="#3b0f7e"/><stop offset=".142" stop-color="#3f0f81"/><stop offset=".151" stop-color="#4e128b"/><stop offset=".155" stop-color="#5d178e"/><stop offset=".157" stop-color="#661b8e"/><stop offset=".159" stop-color="#651a8e"/><stop offset=".164" stop-color="#491089"/><stop offset=".168" stop-color="#3d0f80"/><stop offset=".385" stop-color="#3d0f80"/><stop offset=".441" stop-color="#471087"/><stop offset=".517" stop-color="#3d0f80"/><stop offset=".656" stop-color="#3f0f81"/><stop offset=".741" stop-color="#52138c"/><stop offset=".771" stop-color="#52138c"/><stop offset=".773" stop-color="#461087"/><stop offset=".775" stop-color="#281164"/><stop offset=".778" stop-color="#0b0925"/><stop offset=".78" stop-color="#02020b"/><stop offset=".782" stop-color="#010106"/><stop offset=".812" stop-color="#02020b"/><stop offset=".823" stop-color="#0c0926"/><stop offset=".834" stop-color="#24125e"/><stop offset=".838" stop-color="#2d116d"/><stop offset=".849" stop-color="#3b0f7e"/><stop offset="1" stop-color="#3f0f82"/></linearGradient><linearGradient id="hb69"><stop offset="0" stop-color="#430f84"/><stop offset=".012" stop-color="#430f84"/><stop offset=".025" stop-color="#361079"/><stop offset=".031" stop-color="#2a1168"/><stop offset=".049" stop-color="#0d0a2a"/><stop offset=".06" stop-color="#050416"/><stop offset=".077" stop-color="#02020b"/><stop offset=".123" stop-color="#02010a"/><stop offset=".127" stop-color="#040414"/><stop offset=".129" stop-color="#0f0b2d"/><stop offset=".131" stop-color="#22115b"/><stop offset=".133" stop-color="#341077"/><stop offset=".136" stop-color="#3b0f7e"/><stop offset=".151" stop-color="#451086"/><stop offset=".155" stop-color="#59158e"/><stop offset=".157" stop-color="#641a8e"/><stop offset=".159" stop-color="#651a8e"/><stop offset=".166" stop-color="#410f83"/><stop offset=".17" stop-color="#3d0f80"/><stop offset=".394" stop-color="#3d0f80"/><stop offset=".441" stop-color="#430f84"/><stop offset=".509" stop-color="#3d0f80"/><stop offset=".654" stop-color="#3d0f80"/><stop offset=".769" stop-color="#451086"/><stop offset=".773" stop-color="#3e0f80"/><stop offset=".775" stop-color="#251260"/><stop offset=".778" stop-color="#0b0925"/><stop offset=".78" stop-color="#02020b"/><stop offset=".782" stop-color="#010106"/><stop offset=".812" stop-color="#02020b"/><stop offset=".823" stop-color="#0b0925"/><stop offset=".838" stop-color="#2d116d"/><stop offset=".849" stop-color="#3b0f7e"/><stop offset="1" stop-color="#3e0f80"/></linearGradient><linearGradient id="hb70"><stop offset="0" stop-color="#410f83"/><stop offset=".014" stop-color="#3f0f82"/><stop offset=".023" stop-color="#37107a"/><stop offset=".031" stop-color="#291166"/><stop offset=".051" stop-color="#0b0925"/><stop offset=".057" stop-color="#06051a"/><stop offset=".07" stop-color="#03030f"/><stop offset=".112" stop-color="#02020c"/><stop offset=".123" stop-color="#02020c"/><stop offset=".127" stop-color="#050417"/><stop offset=".129" stop-color="#100b2f"/><stop offset=".131" stop-color="#23115c"/><stop offset=".133" stop-color="#341077"/><stop offset=".136" stop-color="#3b0f7e"/><stop offset=".151" stop-color="#400f83"/><stop offset=".157" stop-color="#641a8e"/><stop offset=".159" stop-color="#651a8e"/><stop offset=".166" stop-color="#420f84"/><stop offset=".17" stop-color="#3d0f80"/><stop offset=".771" stop-color="#3f0f82"/><stop offset=".773" stop-color="#3a0f7d"/><stop offset=".775" stop-color="#24125e"/><stop offset=".778" stop-color="#0b0925"/><stop offset=".78" stop-color="#02020b"/><stop offset=".782" stop-color="#010106"/><stop offset=".812" stop-color="#02020b"/><stop offset=".823" stop-color="#0b0925"/><stop offset=".838" stop-color="#2d116d"/><stop offset=".847" stop-color="#390f7c"/><stop offset="1" stop-color="#3d0f80"/></linearGradient><linearGradient id="hb71"><stop offset="0" stop-color="#3f0f82"/><stop offset=".012" stop-color="#3e0f80"/><stop offset=".025" stop-color="#321073"/><stop offset=".044" stop-color="#130d37"/><stop offset=".057" stop-color="#07061c"/><stop offset=".075" stop-color="#030311"/><stop offset=".112" stop-color="#03030f"/><stop offset=".125" stop-color="#030312"/><stop offset=".127" stop-color="#060519"/><stop offset=".129" stop-color="#110c31"/><stop offset=".131" stop-color="#24125e"/><stop offset=".133" stop-color="#341077"/><stop offset=".136" stop-color="#3a0f7d"/><stop offset=".151" stop-color="#3f0f82"/><stop offset=".157" stop-color="#62198e"/><stop offset=".159" stop-color="#651a8e"/><stop offset=".166" stop-color="#420f84"/><stop offset=".17" stop-color="#3d0f80"/><stop offset=".769" stop-color="#3e0f80"/><stop offset=".773" stop-color="#38107b"/><stop offset=".775" stop-color="#24125e"/><stop offset=".778" stop-color="#0b0925"/><stop offset=".78" stop-color="#02020b"/><stop offset=".782" stop-color="#010106"/><stop offset=".808" stop-color="#010108"/><stop offset=".817" stop-color="#040313"/><stop offset=".825" stop-color="#0f0b2d"/><stop offset=".834" stop-color="#22115b"/><stop offset=".838" stop-color="#2c116b"/><stop offset=".843" stop-color="#331075"/><stop offset=".851" stop-color="#3b0f7e"/><stop offset="1" stop-color="#3d0f80"/></linearGradient><linearGradient id="hb72"><stop offset="0" stop-color="#3c0f7f"/><stop offset=".012" stop-color="#3a0f7d"/><stop offset=".023" stop-color="#321073"/><stop offset=".051" stop-color="#0c0927"/><stop offset=".064" stop-color="#060518"/><stop offset=".077" stop-color="#040313"/><stop offset=".125" stop-color="#040415"/><stop offset=".127" stop-color="#07061c"/><stop offset=".129" stop-color="#120d34"/><stop offset=".131" stop-color="#22115b"/><stop offset=".133" stop-color="#321073"/><stop offset=".136" stop-color="#39107b"/><stop offset=".151" stop-color="#3e0f80"/><stop offset=".153" stop-color="#450f86"/><stop offset=".157" stop-color="#60188e"/><stop offset=".159" stop-color="#63198e"/><stop offset=".166" stop-color="#3f0f82"/><stop offset=".17" stop-color="#3a0f7d"/><stop offset=".771" stop-color="#3a0f7d"/><stop offset=".773" stop-color="#351078"/><stop offset=".775" stop-color="#22115b"/><stop offset=".778" stop-color="#0b0925"/><stop offset=".78" stop-color="#02020b"/><stop offset=".782" stop-color="#010106"/><stop offset=".808" stop-color="#010108"/><stop offset=".817" stop-color="#030312"/><stop offset=".825" stop-color="#0e0a2b"/><stop offset=".838" stop-color="#2a1168"/><stop offset=".847" stop-color="#37107a"/><stop offset="1" stop-color="#3a0f7d"/></linearGradient><linearGradient id="hb73"><stop offset="0" stop-color="#37107a"/><stop offset=".021" stop-color="#301171"/><stop offset=".053" stop-color="#0b0925"/><stop offset=".062" stop-color="#07061b"/><stop offset=".077" stop-color="#040415"/><stop offset=".125" stop-color="#060519"/><stop offset=".127" stop-color="#09071f"/><stop offset=".129" stop-color="#120d34"/><stop offset=".131" stop-color="#211158"/><stop offset=".133" stop-color="#2e116f"/><stop offset=".138" stop-color="#351078"/><stop offset=".151" stop-color="#39107b"/><stop offset=".157" stop-color="#5d178e"/><stop offset=".159" stop-color="#60188e"/><stop offset=".162" stop-color="#56148d"/><stop offset=".166" stop-color="#3d0f80"/><stop offset=".17" stop-color="#37107a"/><stop offset=".771" stop-color="#37107a"/><stop offset=".773" stop-color="#331074"/><stop offset=".775" stop-color="#211158"/><stop offset=".778" stop-color="#0a0822"/><stop offset=".78" stop-color="#02020b"/><stop offset=".784" stop-color="#010106"/><stop offset=".815" stop-color="#02020d"/><stop offset=".823" stop-color="#090720"/><stop offset=".838" stop-color="#271263"/><stop offset=".847" stop-color="#331075"/><stop offset="1" stop-color="#37107a"/></linearGradient><linearGradient id="hb74"><stop offset="0" stop-color="#351077"/><stop offset=".014" stop-color="#321073"/><stop offset=".025" stop-color="#291167"/><stop offset=".053" stop-color="#0c0927"/><stop offset=".07" stop-color="#07061b"/><stop offset=".084" stop-color="#06051a"/><stop offset=".125" stop-color="#08061d"/><stop offset=".127" stop-color="#0b0824"/><stop offset=".129" stop-color="#130d37"/><stop offset=".131" stop-color="#211158"/><stop offset=".133" stop-color="#2d116c"/><stop offset=".136" stop-color="#321073"/><stop offset=".151" stop-color="#371079"/><stop offset=".155" stop-color="#4b1189"/><stop offset=".157" stop-color="#59158e"/><stop offset=".159" stop-color="#5e178e"/><stop offset=".162" stop-color="#55148d"/><stop offset=".166" stop-color="#3b0f7e"/><stop offset=".17" stop-color="#351077"/><stop offset=".771" stop-color="#351077"/><stop offset=".773" stop-color="#311172"/><stop offset=".775" stop-color="#201157"/><stop offset=".778" stop-color="#0b0925"/><stop offset=".78" stop-color="#02020d"/><stop offset=".782" stop-color="#02010a"/><stop offset=".815" stop-color="#03030f"/><stop offset=".825" stop-color="#0d0a28"/><stop offset=".838" stop-color="#261162"/><stop offset=".851" stop-color="#331075"/><stop offset="1" stop-color="#351077"/></linearGradient><linearGradient id="hb75"><stop offset="0" stop-color="#2d116d"/><stop offset=".016" stop-color="#2a1168"/><stop offset=".025" stop-color="#24115e"/><stop offset=".049" stop-color="#0e0a2b"/><stop offset=".06" stop-color="#09071f"/><stop offset=".092" stop-color="#060519"/><stop offset=".125" stop-color="#08071e"/><stop offset=".127" stop-color="#0b0823"/><stop offset=".129" stop-color="#110c33"/><stop offset=".131" stop-color="#1d114f"/><stop offset=".133" stop-color="#271163"/><stop offset=".138" stop-color="#2c116b"/><stop offset=".151" stop-color="#301171"/><stop offset=".153" stop-color="#371079"/><stop offset=".157" stop-color="#53138d"/><stop offset=".159" stop-color="#59158e"/><stop offset=".162" stop-color="#4f128b"/><stop offset=".166" stop-color="#341077"/><stop offset=".17" stop-color="#2f1170"/><stop offset=".769" stop-color="#2f1170"/><stop offset=".773" stop-color="#2a1168"/><stop offset=".775" stop-color="#1c114e"/><stop offset=".778" stop-color="#0a0821"/><stop offset=".78" stop-color="#02020c"/><stop offset=".791" stop-color="#010108"/><stop offset=".806" stop-color="#010109"/><stop offset=".817" stop-color="#030311"/><stop offset=".825" stop-color="#0b0824"/><stop offset=".838" stop-color="#211158"/><stop offset=".851" stop-color="#2d116d"/><stop offset="1" stop-color="#2f1170"/></linearGradient><linearGradient id="hb76"><stop offset="0" stop-color="#291166"/><stop offset=".018" stop-color="#24115d"/><stop offset=".055" stop-color="#0a0821"/><stop offset=".09" stop-color="#060519"/><stop offset=".125" stop-color="#08071e"/><stop offset=".127" stop-color="#0a0822"/><stop offset=".129" stop-color="#110c32"/><stop offset=".133" stop-color="#23115b"/><stop offset=".151" stop-color="#2a1168"/><stop offset=".153" stop-color="#311172"/><stop offset=".157" stop-color="#4e118a"/><stop offset=".159" stop-color="#54138d"/><stop offset=".162" stop-color="#4c118a"/><stop offset=".166" stop-color="#301171"/><stop offset=".17" stop-color="#2a1168"/><stop offset=".769" stop-color="#2a1168"/><stop offset=".773" stop-color="#261162"/><stop offset=".775" stop-color="#1a1048"/><stop offset=".778" stop-color="#09071f"/><stop offset=".78" stop-color="#02020b"/><stop offset=".793" stop-color="#010108"/><stop offset=".81" stop-color="#02010a"/><stop offset=".819" stop-color="#040313"/><stop offset=".83" stop-color="#0f0b2e"/><stop offset=".843" stop-color="#23115b"/><stop offset=".851" stop-color="#291166"/><stop offset="1" stop-color="#2a1168"/></linearGradient><linearGradient id="hb77"><stop offset="0" stop-color="#281164"/><stop offset=".016" stop-color="#25125f"/><stop offset=".047" stop-color="#0f0b2e"/><stop offset=".057" stop-color="#0a0822"/><stop offset=".073" stop-color="#07061c"/><stop offset=".097" stop-color="#07061c"/><stop offset=".125" stop-color="#0a0822"/><stop offset=".127" stop-color="#0c0927"/><stop offset=".129" stop-color="#120d34"/><stop offset=".133" stop-color="#211158"/><stop offset=".151" stop-color="#291167"/><stop offset=".153" stop-color="#2f1170"/><stop offset=".157" stop-color="#4b1189"/><stop offset=".159" stop-color="#53138d"/><stop offset=".162" stop-color="#4b1189"/><stop offset=".166" stop-color="#301171"/><stop offset=".17" stop-color="#291167"/><stop offset=".762" stop-color="#291167"/><stop offset=".771" stop-color="#291166"/><stop offset=".773" stop-color="#251260"/><stop offset=".775" stop-color="#1a1048"/><stop offset=".778" stop-color="#0a0821"/><stop offset=".78" stop-color="#03030f"/><stop offset=".808" stop-color="#02020b"/><stop offset=".823" stop-color="#08061d"/><stop offset=".843" stop-color="#221159"/><stop offset=".851" stop-color="#281164"/><stop offset="1" stop-color="#291167"/></linearGradient><linearGradient id="hb78"><stop offset="0" stop-color="#2c116b"/><stop offset=".018" stop-color="#281164"/><stop offset=".057" stop-color="#0e0b2c"/><stop offset=".084" stop-color="#0b0925"/><stop offset=".125" stop-color="#0f0b2d"/><stop offset=".127" stop-color="#110c32"/><stop offset=".133" stop-color="#25125f"/><stop offset=".151" stop-color="#2d116c"/><stop offset=".153" stop-color="#321073"/><stop offset=".157" stop-color="#491088"/><stop offset=".159" stop-color="#4e128a"/><stop offset=".162" stop-color="#491088"/><stop offset=".166" stop-color="#331074"/><stop offset=".17" stop-color="#2d116c"/><stop offset=".769" stop-color="#2d116c"/><stop offset=".773" stop-color="#291167"/><stop offset=".775" stop-color="#1e1151"/><stop offset=".778" stop-color="#0e0a2b"/><stop offset=".78" stop-color="#06051a"/><stop offset=".795" stop-color="#040414"/><stop offset=".81" stop-color="#050416"/><stop offset=".819" stop-color="#08071e"/><stop offset=".825" stop-color="#0e0a2b"/><stop offset=".843" stop-color="#261262"/><stop offset=".854" stop-color="#2d116c"/><stop offset="1" stop-color="#2d116c"/></linearGradient><linearGradient id="hb79"><stop offset="0" stop-color="#2d116d"/><stop offset=".018" stop-color="#2a1168"/><stop offset=".055" stop-color="#120d36"/><stop offset=".086" stop-color="#0f0b2e"/><stop offset=".114" stop-color="#100c30"/><stop offset=".125" stop-color="#130d37"/><stop offset=".127" stop-color="#150e3c"/><stop offset=".131" stop-color="#211158"/><stop offset=".136" stop-color="#2a1168"/><stop offset=".151" stop-color="#2e116f"/><stop offset=".159" stop-color="#371079"/><stop offset=".168" stop-color="#2f1170"/><stop offset=".767" stop-color="#2f1170"/><stop offset=".773" stop-color="#2a1168"/><stop offset=".775" stop-color="#201155"/><stop offset=".778" stop-color="#110c33"/><stop offset=".78" stop-color="#0a0821"/><stop offset=".789" stop-color="#07061b"/><stop offset=".806" stop-color="#07061b"/><stop offset=".819" stop-color="#0b0824"/><stop offset=".828" stop-color="#140e39"/><stop offset=".838" stop-color="#24115e"/><stop offset=".854" stop-color="#2f1170"/><stop offset="1" stop-color="#2f1170"/></linearGradient><linearGradient id="hb80"><stop offset="0" stop-color="#2d116d"/><stop offset=".021" stop-color="#291166"/><stop offset=".053" stop-color="#140e3a"/><stop offset=".086" stop-color="#100c30"/><stop offset=".123" stop-color="#140d39"/><stop offset=".127" stop-color="#170f40"/><stop offset=".133" stop-color="#261162"/><stop offset=".136" stop-color="#291166"/><stop offset=".164" stop-color="#2f1170"/><stop offset=".758" stop-color="#2f1170"/><stop offset=".773" stop-color="#291167"/><stop offset=".775" stop-color="#201155"/><stop offset=".778" stop-color="#120d36"/><stop offset=".78" stop-color="#0c0926"/><stop offset=".782" stop-color="#0a0821"/><stop offset=".804" stop-color="#08071e"/><stop offset=".819" stop-color="#0c0927"/><stop offset=".825" stop-color="#120d34"/><stop offset=".838" stop-color="#24115d"/><stop offset=".851" stop-color="#2d116d"/><stop offset="1" stop-color="#2f1170"/></linearGradient><linearGradient id="hb81"><stop offset="0" stop-color="#2a1168"/><stop offset=".018" stop-color="#271163"/><stop offset=".057" stop-color="#120d34"/><stop offset=".086" stop-color="#100b2f"/><stop offset=".125" stop-color="#140e3a"/><stop offset=".136" stop-color="#251260"/><stop offset=".162" stop-color="#2c116b"/><stop offset=".758" stop-color="#2c116b"/><stop offset=".773" stop-color="#251260"/><stop offset=".775" stop-color="#1e1151"/><stop offset=".778" stop-color="#120d36"/><stop offset=".78" stop-color="#0c0927"/><stop offset=".782" stop-color="#0b0823"/><stop offset=".804" stop-color="#09071f"/><stop offset=".821" stop-color="#0d0a2a"/><stop offset=".841" stop-color="#24115e"/><stop offset=".856" stop-color="#2c116b"/><stop offset="1" stop-color="#2c116b"/></linearGradient><linearGradient id="hb82"><stop offset="0" stop-color="#221056"/><stop offset=".018" stop-color="#1f0f51"/><stop offset=".044" stop-color="#110b34"/><stop offset=".062" stop-color="#0d0928"/><stop offset=".088" stop-color="#0c0826"/><stop offset=".125" stop-color="#100a30"/><stop offset=".136" stop-color="#1d0f4d"/><stop offset=".166" stop-color="#241059"/><stop offset=".754" stop-color="#241059"/><stop offset=".771" stop-color="#1f0f51"/><stop offset=".773" stop-color="#1d0f4c"/><stop offset=".78" stop-color="#0a0721"/><stop offset=".782" stop-color="#09061c"/><stop offset=".804" stop-color="#070517"/><stop offset=".812" stop-color="#070518"/><stop offset=".821" stop-color="#0a0721"/><stop offset=".836" stop-color="#190e44"/><stop offset=".849" stop-color="#221056"/><stop offset="1" stop-color="#241059"/></linearGradient><linearGradient id="hb83"><stop offset="0" stop-color="#271163"/><stop offset=".016" stop-color="#251260"/><stop offset=".057" stop-color="#120d36"/><stop offset=".086" stop-color="#110c32"/><stop offset=".123" stop-color="#150e3c"/><stop offset=".127" stop-color="#170f41"/><stop offset=".136" stop-color="#22115b"/><stop offset=".162" stop-color="#291166"/><stop offset=".758" stop-color="#291166"/><stop offset=".771" stop-color="#24115e"/><stop offset=".773" stop-color="#211158"/><stop offset=".78" stop-color="#100b2f"/><stop offset=".782" stop-color="#0e0a2b"/><stop offset=".804" stop-color="#0b0824"/><stop offset=".815" stop-color="#0c0926"/><stop offset=".823" stop-color="#100c30"/><stop offset=".843" stop-color="#24115e"/><stop offset=".854" stop-color="#291166"/><stop offset="1" stop-color="#291166"/></linearGradient><linearGradient id="hb84"><stop offset="0" stop-color="#251260"/><stop offset=".021" stop-color="#22115b"/><stop offset=".044" stop-color="#160f40"/><stop offset=".06" stop-color="#120d36"/><stop offset=".086" stop-color="#110c33"/><stop offset=".118" stop-color="#140e3a"/><stop offset=".127" stop-color="#170f42"/><stop offset=".136" stop-color="#211158"/><stop offset=".159" stop-color="#271163"/><stop offset=".758" stop-color="#271163"/><stop offset=".773" stop-color="#201155"/><stop offset=".778" stop-color="#150e3c"/><stop offset=".782" stop-color="#0f0b2e"/><stop offset=".804" stop-color="#0c0926"/><stop offset=".819" stop-color="#0f0b2d"/><stop offset=".838" stop-color="#201155"/><stop offset=".854" stop-color="#271163"/><stop offset="1" stop-color="#271163"/></linearGradient><linearGradient id="hb85"><stop offset="0" stop-color="#251260"/><stop offset=".021" stop-color="#22115b"/><stop offset=".055" stop-color="#140e3a"/><stop offset=".086" stop-color="#120d36"/><stop offset=".114" stop-color="#140e3a"/><stop offset=".125" stop-color="#170f42"/><stop offset=".133" stop-color="#201155"/><stop offset=".14" stop-color="#22115b"/><stop offset=".166" stop-color="#271263"/><stop offset=".754" stop-color="#271263"/><stop offset=".771" stop-color="#211158"/><stop offset=".78" stop-color="#140e38"/><stop offset=".784" stop-color="#100c30"/><stop offset=".804" stop-color="#0e0a2b"/><stop offset=".817" stop-color="#0f0b2e"/><stop offset=".838" stop-color="#201155"/><stop offset=".856" stop-color="#271263"/><stop offset="1" stop-color="#271263"/></linearGradient><linearGradient id="hb86"><stop offset="0" stop-color="#2f116f"/><stop offset=".027" stop-color="#291167"/><stop offset=".057" stop-color="#1c104e"/><stop offset=".086" stop-color="#1b104b"/><stop offset=".116" stop-color="#1e1151"/><stop offset=".125" stop-color="#201156"/><stop offset=".136" stop-color="#291167"/><stop offset=".159" stop-color="#301171"/><stop offset=".756" stop-color="#301171"/><stop offset=".773" stop-color="#281164"/><stop offset=".78" stop-color="#1d114f"/><stop offset=".786" stop-color="#191046"/><stop offset=".804" stop-color="#170f40"/><stop offset=".819" stop-color="#191046"/><stop offset=".836" stop-color="#281164"/><stop offset=".851" stop-color="#301171"/><stop offset="1" stop-color="#301171"/></linearGradient><linearGradient id="hb87"><stop offset="0" stop-color="#25115e"/><stop offset=".016" stop-color="#24115b"/><stop offset=".057" stop-color="#160e3e"/><stop offset=".088" stop-color="#140d3b"/><stop offset=".116" stop-color="#170e41"/><stop offset=".146" stop-color="#24115b"/><stop offset=".17" stop-color="#271161"/><stop offset=".752" stop-color="#271161"/><stop offset=".771" stop-color="#211156"/><stop offset=".784" stop-color="#140d3b"/><stop offset=".804" stop-color="#110c33"/><stop offset=".819" stop-color="#130d38"/><stop offset=".841" stop-color="#221159"/><stop offset=".858" stop-color="#271161"/><stop offset="1" stop-color="#271161"/></linearGradient><linearGradient id="hb88"><stop offset="0" stop-color="#291167"/><stop offset=".018" stop-color="#281164"/><stop offset=".053" stop-color="#1b104b"/><stop offset=".086" stop-color="#191046"/><stop offset=".105" stop-color="#1a1048"/><stop offset=".127" stop-color="#1f1154"/><stop offset=".14" stop-color="#261162"/><stop offset=".166" stop-color="#2b1169"/><stop offset=".752" stop-color="#2b1169"/><stop offset=".769" stop-color="#261162"/><stop offset=".786" stop-color="#191046"/><stop offset=".804" stop-color="#170f40"/><stop offset=".817" stop-color="#180f43"/><stop offset=".843" stop-color="#281164"/><stop offset=".856" stop-color="#2b1169"/><stop offset="1" stop-color="#2b1169"/></linearGradient><linearGradient id="hb89"><stop offset="0" stop-color="#2d116c"/><stop offset=".023" stop-color="#291167"/><stop offset=".053" stop-color="#1e1152"/><stop offset=".086" stop-color="#1c114e"/><stop offset=".112" stop-color="#1e1152"/><stop offset=".146" stop-color="#2b1169"/><stop offset=".17" stop-color="#2d116d"/><stop offset=".749" stop-color="#2d116d"/><stop offset=".765" stop-color="#2b1169"/><stop offset=".786" stop-color="#1d114f"/><stop offset=".804" stop-color="#1a1049"/><stop offset=".821" stop-color="#1d114f"/><stop offset=".838" stop-color="#291166"/><stop offset=".849" stop-color="#2d116c"/><stop offset="1" stop-color="#2d116d"/></linearGradient><linearGradient id="hb90"><stop offset="0" stop-color="#271163"/><stop offset=".018" stop-color="#261160"/><stop offset=".055" stop-color="#1a1049"/><stop offset=".086" stop-color="#191046"/><stop offset=".112" stop-color="#1a1049"/><stop offset=".14" stop-color="#24115d"/><stop offset=".164" stop-color="#281164"/><stop offset=".754" stop-color="#281164"/><stop offset=".769" stop-color="#24115d"/><stop offset=".791" stop-color="#191046"/><stop offset=".804" stop-color="#180f43"/><stop offset=".817" stop-color="#191046"/><stop offset=".838" stop-color="#24115d"/><stop offset=".854" stop-color="#281164"/><stop offset="1" stop-color="#281164"/></linearGradient><linearGradient id="hb91"><stop offset="0" stop-color="#261162"/><stop offset=".025" stop-color="#23115c"/><stop offset=".057" stop-color="#1a1048"/><stop offset=".086" stop-color="#191046"/><stop offset=".107" stop-color="#1a1048"/><stop offset=".14" stop-color="#23115c"/><stop offset=".164" stop-color="#271163"/><stop offset=".754" stop-color="#271163"/><stop offset=".767" stop-color="#25115f"/><stop offset=".789" stop-color="#1a1048"/><stop offset=".804" stop-color="#180f45"/><stop offset=".819" stop-color="#1a1048"/><stop offset=".841" stop-color="#25115f"/><stop offset=".854" stop-color="#271163"/><stop offset="1" stop-color="#271163"/></linearGradient><linearGradient id="hb92"><stop offset="0" stop-color="#291167"/><stop offset=".018" stop-color="#281164"/><stop offset=".057" stop-color="#1c104e"/><stop offset=".084" stop-color="#1c104c"/><stop offset=".107" stop-color="#1c104e"/><stop offset=".157" stop-color="#291167"/><stop offset=".76" stop-color="#291167"/><stop offset=".791" stop-color="#1c104e"/><stop offset=".804" stop-color="#1c104c"/><stop offset=".817" stop-color="#1c104e"/><stop offset=".847" stop-color="#291167"/><stop offset="1" stop-color="#291167"/></linearGradient><linearGradient id="hb93"><stop offset="0" stop-color="#271163"/><stop offset=".023" stop-color="#25115f"/><stop offset=".057" stop-color="#1b104b"/><stop offset=".086" stop-color="#1a1048"/><stop offset=".11" stop-color="#1b104b"/><stop offset=".138" stop-color="#23115c"/><stop offset=".164" stop-color="#281164"/><stop offset=".756" stop-color="#281164"/><stop offset=".769" stop-color="#25115f"/><stop offset=".791" stop-color="#1b104b"/><stop offset=".804" stop-color="#1b104a"/><stop offset=".817" stop-color="#1b104b"/><stop offset=".838" stop-color="#25115f"/><stop offset=".851" stop-color="#281164"/><stop offset="1" stop-color="#281164"/></linearGradient><linearGradient id="hb94"><stop offset="0" stop-color="#2a1168"/><stop offset=".023" stop-color="#281164"/><stop offset=".055" stop-color="#1e1152"/><stop offset=".086" stop-color="#1d114f"/><stop offset=".105" stop-color="#1e1151"/><stop offset=".146" stop-color="#291166"/><stop offset=".168" stop-color="#2b116a"/><stop offset=".754" stop-color="#2b116a"/><stop offset=".769" stop-color="#281164"/><stop offset=".789" stop-color="#1f1154"/><stop offset=".804" stop-color="#1e1151"/><stop offset=".819" stop-color="#1f1154"/><stop offset=".838" stop-color="#281164"/><stop offset=".854" stop-color="#2b116a"/><stop offset="1" stop-color="#2b116a"/></linearGradient><linearGradient id="hb95"><stop offset="0" stop-color="#261161"/><stop offset=".016" stop-color="#261161"/><stop offset=".057" stop-color="#1b104b"/><stop offset=".088" stop-color="#1a1048"/><stop offset=".116" stop-color="#1c104e"/><stop offset=".138" stop-color="#23115c"/><stop offset=".166" stop-color="#281164"/><stop offset=".754" stop-color="#281164"/><stop offset=".769" stop-color="#25115f"/><stop offset=".784" stop-color="#1e1151"/><stop offset=".804" stop-color="#1c104c"/><stop offset=".823" stop-color="#1e1151"/><stop offset=".838" stop-color="#25115f"/><stop offset=".854" stop-color="#281164"/><stop offset="1" stop-color="#281164"/></linearGradient><linearGradient id="hb96"><stop offset="0" stop-color="#281164"/><stop offset=".023" stop-color="#251260"/><stop offset=".062" stop-color="#1c104c"/><stop offset=".086" stop-color="#1b104b"/><stop offset=".105" stop-color="#1c104c"/><stop offset=".151" stop-color="#271163"/><stop offset=".168" stop-color="#291166"/><stop offset=".754" stop-color="#291166"/><stop offset=".804" stop-color="#1d114f"/><stop offset=".854" stop-color="#291166"/><stop offset="1" stop-color="#291166"/></linearGradient><linearGradient id="hb97"><stop offset="0" stop-color="#291167"/><stop offset=".021" stop-color="#281164"/><stop offset=".06" stop-color="#1e1151"/><stop offset=".084" stop-color="#1d114f"/><stop offset=".107" stop-color="#1e1151"/><stop offset=".155" stop-color="#291167"/><stop offset=".76" stop-color="#291167"/><stop offset=".789" stop-color="#201157"/><stop offset=".804" stop-color="#201155"/><stop offset=".819" stop-color="#201157"/><stop offset=".847" stop-color="#291167"/><stop offset="1" stop-color="#291167"/></linearGradient><linearGradient id="hb98"><stop offset="0" stop-color="#291166"/><stop offset=".021" stop-color="#271163"/><stop offset=".062" stop-color="#1d114f"/><stop offset=".084" stop-color="#1c114e"/><stop offset=".11" stop-color="#1e1151"/><stop offset=".157" stop-color="#291166"/><stop offset=".76" stop-color="#291166"/><stop offset=".789" stop-color="#201157"/><stop offset=".804" stop-color="#201155"/><stop offset=".819" stop-color="#201157"/><stop offset=".847" stop-color="#291166"/><stop offset="1" stop-color="#291166"/></linearGradient><linearGradient id="hb99"><stop offset="0" stop-color="#2b1169"/><stop offset=".018" stop-color="#2a1168"/><stop offset=".062" stop-color="#201155"/><stop offset=".088" stop-color="#201155"/><stop offset=".114" stop-color="#211158"/><stop offset=".164" stop-color="#2c116b"/><stop offset=".756" stop-color="#2c116b"/><stop offset=".789" stop-color="#24115d"/><stop offset=".804" stop-color="#24115d"/><stop offset=".819" stop-color="#24115d"/><stop offset=".851" stop-color="#2c116b"/><stop offset="1" stop-color="#2c116b"/></linearGradient><linearGradient id="hb100"><stop offset="0" stop-color="#291166"/><stop offset=".064" stop-color="#1e1151"/><stop offset=".084" stop-color="#1e1151"/><stop offset=".112" stop-color="#1f1154"/><stop offset=".157" stop-color="#291166"/><stop offset=".76" stop-color="#291166"/><stop offset=".804" stop-color="#221159"/><stop offset=".847" stop-color="#291166"/><stop offset="1" stop-color="#291166"/></linearGradient><linearGradient id="hb101"><stop offset="0" stop-color="#2c116b"/><stop offset=".06" stop-color="#221159"/><stop offset=".09" stop-color="#211158"/><stop offset=".164" stop-color="#2d116c"/><stop offset=".758" stop-color="#2d116c"/><stop offset=".793" stop-color="#261162"/><stop offset=".815" stop-color="#261162"/><stop offset=".849" stop-color="#2d116c"/><stop offset="1" stop-color="#2d116c"/></linearGradient><linearGradient id="hb102"><stop offset="0" stop-color="#2a1168"/><stop offset=".016" stop-color="#2a1168"/><stop offset=".057" stop-color="#211158"/><stop offset=".084" stop-color="#201156"/><stop offset=".11" stop-color="#211158"/><stop offset=".151" stop-color="#2a1168"/><stop offset=".769" stop-color="#2a1168"/><stop offset=".804" stop-color="#261161"/><stop offset=".838" stop-color="#2a1168"/><stop offset="1" stop-color="#2a1168"/></linearGradient><linearGradient id="hb103"><stop offset="0" stop-color="#261262"/><stop offset=".053" stop-color="#1e1151"/><stop offset=".084" stop-color="#1c114e"/><stop offset=".112" stop-color="#1e1151"/><stop offset=".159" stop-color="#261262"/><stop offset=".762" stop-color="#261262"/><stop offset=".802" stop-color="#22115b"/><stop offset=".845" stop-color="#261262"/><stop offset="1" stop-color="#261262"/></linearGradient><linearGradient id="hb104"><stop offset="0" stop-color="#1e1050"/><stop offset=".021" stop-color="#1e1050"/><stop offset=".057" stop-color="#170f42"/><stop offset=".088" stop-color="#170f40"/><stop offset=".168" stop-color="#1f1153"/><stop offset=".758" stop-color="#1f1153"/><stop offset=".804" stop-color="#1c104d"/><stop offset=".849" stop-color="#1f1153"/><stop offset="1" stop-color="#1f1153"/></linearGradient><linearGradient id="hb105"><stop offset="0" stop-color="#271163"/><stop offset=".084" stop-color="#201155"/><stop offset=".105" stop-color="#201155"/><stop offset=".146" stop-color="#271163"/><stop offset="1" stop-color="#271163"/></linearGradient><linearGradient id="hb106"><stop offset="0" stop-color="#2e116f"/><stop offset=".064" stop-color="#261262"/><stop offset=".105" stop-color="#261262"/><stop offset=".157" stop-color="#2e116f"/><stop offset="1" stop-color="#2e116f"/></linearGradient><linearGradient id="hb107"><stop offset="0" stop-color="#251260"/><stop offset=".084" stop-color="#1e1152"/><stop offset=".155" stop-color="#251260"/><stop offset="1" stop-color="#251260"/></linearGradient><linearGradient id="hb108"><stop offset="0" stop-color="#2b1169"/><stop offset=".084" stop-color="#24115d"/><stop offset=".153" stop-color="#2b1169"/><stop offset="1" stop-color="#2b1169"/></linearGradient><linearGradient id="hb109"><stop offset="0" stop-color="#201155"/><stop offset=".084" stop-color="#1a1049"/><stop offset=".164" stop-color="#201155"/><stop offset="1" stop-color="#201155"/></linearGradient><linearGradient id="hb110"><stop offset="0" stop-color="#291167"/><stop offset=".064" stop-color="#25125f"/><stop offset=".112" stop-color="#25125f"/><stop offset=".142" stop-color="#291167"/><stop offset="1" stop-color="#291167"/></linearGradient><linearGradient id="hb111"><stop offset="0" stop-color="#2c116b"/><stop offset=".068" stop-color="#261160"/><stop offset=".162" stop-color="#2c116b"/><stop offset="1" stop-color="#2c116b"/></linearGradient><linearGradient id="hb112"><stop offset="0" stop-color="#2b116a"/><stop offset=".084" stop-color="#261262"/><stop offset=".159" stop-color="#2b116a"/><stop offset="1" stop-color="#2b116a"/></linearGradient><linearGradient id="hb113"><stop offset="0" stop-color="#271163"/><stop offset=".066" stop-color="#23115c"/><stop offset=".14" stop-color="#271163"/><stop offset="1" stop-color="#271163"/></linearGradient><linearGradient id="hb114"><stop offset="0" stop-color="#25115f"/><stop offset=".084" stop-color="#201156"/><stop offset=".157" stop-color="#25115f"/><stop offset="1" stop-color="#25115f"/></linearGradient><linearGradient id="hb115"><stop offset="0" stop-color="#261162"/><stop offset=".084" stop-color="#23115b"/><stop offset=".149" stop-color="#261162"/><stop offset="1" stop-color="#261162"/></linearGradient></defs><rect x="72" y="256.00" width="461" height="2.30" fill="#2d116d"/><rect x="72" y="258.00" width="461" height="2.30" fill="#2d116d"/><rect x="72" y="260.00" width="461" height="2.30" fill="#2d116d"/><rect x="72" y="262.00" width="461" height="2.30" fill="#2d116d"/><rect x="72" y="264.00" width="461" height="2.30" fill="#2d116d"/><rect x="72" y="266.00" width="461" height="2.30" fill="#2d116d"/><rect x="72" y="268.00" width="461" height="2.30" fill="#2d116d"/><rect x="72" y="270.00" width="461" height="2.30" fill="#2d116d"/><rect x="72" y="272.00" width="461" height="2.30" fill="#2d116d"/><rect x="72" y="274.00" width="461" height="2.30" fill="#2d116d"/><rect x="72" y="276.00" width="461" height="2.30" fill="#2d116d"/><rect x="72" y="278.00" width="461" height="2.30" fill="#2d116d"/><rect x="72" y="280.00" width="461" height="2.30" fill="#2d116d"/><rect x="72" y="282.00" width="461" height="2.30" fill="#2d116d"/><rect x="72" y="284.00" width="461" height="2.30" fill="#2d116d"/><rect x="72" y="286.00" width="461" height="2.30" fill="#2d116d"/><rect x="72" y="288.00" width="461" height="2.30" fill="#2d116d"/><rect x="72" y="290.00" width="461" height="2.30" fill="#2d116d"/><rect x="72" y="292.00" width="461" height="2.30" fill="#2d116d"/><rect x="72" y="294.00" width="461" height="2.30" fill="#2d116d"/><rect x="72" y="296.00" width="461" height="2.30" fill="#2d116d"/><rect x="72" y="298.00" width="461" height="2.30" fill="#2d116d"/><rect x="72" y="300.00" width="461" height="2.30" fill="#2d116d"/><rect x="72" y="302.00" width="461" height="2.30" fill="#2d116d"/><rect x="72" y="304.00" width="461" height="2.30" fill="#2d116d"/><rect x="72" y="306.00" width="461" height="2.30" fill="#2d116d"/><rect x="72" y="308.00" width="461" height="2.30" fill="#2d116d"/><rect x="72" y="310.00" width="461" height="2.30" fill="#2d116d"/><rect x="72" y="312.00" width="461" height="2.30" fill="#2d116d"/><rect x="72" y="314.00" width="461" height="2.30" fill="#2d116d"/><rect x="72" y="316.00" width="461" height="2.30" fill="#2d116d"/><rect x="72" y="318.00" width="461" height="2.30" fill="#2d116d"/><rect x="72" y="320.00" width="461" height="2.30" fill="#2d116d"/><rect x="72" y="322.00" width="461" height="2.30" fill="#2d116d"/><rect x="72" y="324.00" width="461" height="2.30" fill="#2d116d"/><rect x="72" y="326.00" width="461" height="2.30" fill="#2d116d"/><rect x="72" y="328.00" width="461" height="2.30" fill="#2d116d"/><rect x="72" y="330.00" width="461" height="2.30" fill="#2d116d"/><rect x="72" y="332.00" width="461" height="2.30" fill="#2d116d"/><rect x="72" y="334.00" width="461" height="2.30" fill="#2d116d"/><rect x="72" y="336.00" width="461" height="2.30" fill="#2d116d"/><rect x="72" y="338.00" width="461" height="2.30" fill="#2e116d"/><rect x="72" y="340.00" width="461" height="2.30" fill="#2e116e"/><rect x="72" y="342.00" width="461" height="2.30" fill="url(#hb0)"/><rect x="72" y="344.00" width="461" height="2.30" fill="url(#hb1)"/><rect x="72" y="346.00" width="461" height="2.30" fill="url(#hb2)"/><rect x="72" y="348.00" width="461" height="2.30" fill="url(#hb3)"/><rect x="72" y="350.00" width="461" height="2.30" fill="url(#hb4)"/><rect x="72" y="352.00" width="461" height="2.30" fill="url(#hb5)"/><rect x="72" y="354.00" width="461" height="2.30" fill="url(#hb6)"/><rect x="72" y="356.00" width="461" height="2.30" fill="url(#hb7)"/><rect x="72" y="358.00" width="461" height="2.30" fill="url(#hb8)"/><rect x="72" y="360.00" width="461" height="2.30" fill="url(#hb9)"/><rect x="72" y="362.00" width="461" height="2.30" fill="url(#hb10)"/><rect x="72" y="364.00" width="461" height="2.30" fill="url(#hb11)"/><rect x="72" y="366.00" width="461" height="2.30" fill="url(#hb12)"/><rect x="72" y="368.00" width="461" height="2.30" fill="url(#hb13)"/><rect x="72" y="370.00" width="461" height="2.30" fill="url(#hb14)"/><rect x="72" y="372.00" width="461" height="2.30" fill="url(#hb15)"/><rect x="72" y="374.00" width="461" height="2.30" fill="url(#hb16)"/><rect x="72" y="376.00" width="461" height="2.30" fill="url(#hb17)"/><rect x="72" y="378.00" width="461" height="2.30" fill="url(#hb18)"/><rect x="72" y="380.00" width="461" height="2.30" fill="url(#hb19)"/><rect x="72" y="382.00" width="461" height="2.30" fill="url(#hb20)"/><rect x="72" y="384.00" width="461" height="2.30" fill="url(#hb21)"/><rect x="72" y="386.00" width="461" height="2.30" fill="url(#hb22)"/><rect x="72" y="388.00" width="461" height="2.30" fill="url(#hb23)"/><rect x="72" y="390.00" width="461" height="2.30" fill="url(#hb24)"/><rect x="72" y="392.00" width="461" height="2.30" fill="url(#hb25)"/><rect x="72" y="394.00" width="461" height="2.30" fill="url(#hb26)"/><rect x="72" y="396.00" width="461" height="2.30" fill="url(#hb27)"/><rect x="72" y="398.00" width="461" height="2.30" fill="url(#hb28)"/><rect x="72" y="400.00" width="461" height="2.30" fill="url(#hb29)"/><rect x="72" y="402.00" width="461" height="2.30" fill="url(#hb30)"/><rect x="72" y="404.00" width="461" height="2.30" fill="url(#hb31)"/><rect x="72" y="406.00" width="461" height="2.30" fill="url(#hb32)"/><rect x="72" y="408.00" width="461" height="2.30" fill="url(#hb33)"/><rect x="72" y="410.00" width="461" height="2.30" fill="url(#hb34)"/><rect x="72" y="412.00" width="461" height="2.30" fill="url(#hb35)"/><rect x="72" y="414.00" width="461" height="2.30" fill="url(#hb36)"/><rect x="72" y="416.00" width="461" height="2.30" fill="url(#hb37)"/><rect x="72" y="418.00" width="461" height="2.30" fill="url(#hb38)"/><rect x="72" y="420.00" width="461" height="2.30" fill="url(#hb39)"/><rect x="72" y="422.00" width="461" height="2.30" fill="url(#hb40)"/><rect x="72" y="424.00" width="461" height="2.30" fill="url(#hb41)"/><rect x="72" y="426.00" width="461" height="2.30" fill="url(#hb42)"/><rect x="72" y="428.00" width="461" height="2.30" fill="url(#hb43)"/><rect x="72" y="430.00" width="461" height="2.30" fill="url(#hb44)"/><rect x="72" y="432.00" width="461" height="2.30" fill="url(#hb45)"/><rect x="72" y="434.00" width="461" height="2.30" fill="url(#hb46)"/><rect x="72" y="436.00" width="461" height="2.30" fill="url(#hb47)"/><rect x="72" y="438.00" width="461" height="2.30" fill="url(#hb48)"/><rect x="72" y="440.00" width="461" height="2.30" fill="url(#hb49)"/><rect x="72" y="442.00" width="461" height="2.30" fill="url(#hb50)"/><rect x="72" y="444.00" width="461" height="2.30" fill="url(#hb51)"/><rect x="72" y="446.00" width="461" height="2.30" fill="url(#hb52)"/><rect x="72" y="448.00" width="461" height="2.30" fill="url(#hb53)"/><rect x="72" y="450.00" width="461" height="2.30" fill="url(#hb54)"/><rect x="72" y="452.00" width="461" height="2.30" fill="url(#hb55)"/><rect x="72" y="454.00" width="461" height="2.30" fill="url(#hb56)"/><rect x="72" y="456.00" width="461" height="2.30" fill="url(#hb57)"/><rect x="72" y="458.00" width="461" height="2.30" fill="url(#hb58)"/><rect x="72" y="460.00" width="461" height="2.30" fill="url(#hb59)"/><rect x="72" y="462.00" width="461" height="2.30" fill="url(#hb60)"/><rect x="72" y="464.00" width="461" height="2.30" fill="url(#hb61)"/><rect x="72" y="466.00" width="461" height="2.30" fill="url(#hb62)"/><rect x="72" y="468.00" width="461" height="2.30" fill="url(#hb63)"/><rect x="72" y="470.00" width="461" height="2.30" fill="url(#hb64)"/><rect x="72" y="472.00" width="461" height="2.30" fill="url(#hb65)"/><rect x="72" y="474.00" width="461" height="2.30" fill="url(#hb66)"/><rect x="72" y="476.00" width="461" height="2.30" fill="url(#hb67)"/><rect x="72" y="478.00" width="461" height="2.30" fill="url(#hb68)"/><rect x="72" y="480.00" width="461" height="2.30" fill="url(#hb69)"/><rect x="72" y="482.00" width="461" height="2.30" fill="url(#hb70)"/><rect x="72" y="484.00" width="461" height="2.30" fill="url(#hb71)"/><rect x="72" y="486.00" width="461" height="2.30" fill="url(#hb72)"/><rect x="72" y="488.00" width="461" height="2.30" fill="url(#hb73)"/><rect x="72" y="490.00" width="461" height="2.30" fill="url(#hb74)"/><rect x="72" y="492.00" width="461" height="2.30" fill="url(#hb75)"/><rect x="72" y="494.00" width="461" height="2.30" fill="url(#hb76)"/><rect x="72" y="496.00" width="461" height="2.30" fill="url(#hb77)"/><rect x="72" y="498.00" width="461" height="2.30" fill="url(#hb78)"/><rect x="72" y="500.00" width="461" height="2.30" fill="url(#hb79)"/><rect x="72" y="502.00" width="461" height="2.30" fill="url(#hb80)"/><rect x="72" y="504.00" width="461" height="2.30" fill="url(#hb81)"/><rect x="72" y="506.00" width="461" height="2.30" fill="url(#hb82)"/><rect x="72" y="508.00" width="461" height="2.30" fill="url(#hb83)"/><rect x="72" y="510.00" width="461" height="2.30" fill="url(#hb84)"/><rect x="72" y="512.00" width="461" height="2.30" fill="url(#hb85)"/><rect x="72" y="514.00" width="461" height="2.30" fill="url(#hb86)"/><rect x="72" y="516.00" width="461" height="2.30" fill="url(#hb87)"/><rect x="72" y="518.00" width="461" height="2.30" fill="url(#hb88)"/><rect x="72" y="520.00" width="461" height="2.30" fill="url(#hb89)"/><rect x="72" y="522.00" width="461" height="2.30" fill="url(#hb90)"/><rect x="72" y="524.00" width="461" height="2.30" fill="url(#hb91)"/><rect x="72" y="526.00" width="461" height="2.30" fill="url(#hb92)"/><rect x="72" y="528.00" width="461" height="2.30" fill="url(#hb93)"/><rect x="72" y="530.00" width="461" height="2.30" fill="url(#hb94)"/><rect x="72" y="532.00" width="461" height="2.30" fill="url(#hb95)"/><rect x="72" y="534.00" width="461" height="2.30" fill="url(#hb96)"/><rect x="72" y="536.00" width="461" height="2.30" fill="url(#hb97)"/><rect x="72" y="538.00" width="461" height="2.30" fill="url(#hb98)"/><rect x="72" y="540.00" width="461" height="2.30" fill="url(#hb99)"/><rect x="72" y="542.00" width="461" height="2.30" fill="url(#hb100)"/><rect x="72" y="544.00" width="461" height="2.30" fill="url(#hb101)"/><rect x="72" y="546.00" width="461" height="2.30" fill="url(#hb102)"/><rect x="72" y="548.00" width="461" height="2.30" fill="url(#hb103)"/><rect x="72" y="550.00" width="461" height="2.30" fill="url(#hb104)"/><rect x="72" y="552.00" width="461" height="2.30" fill="url(#hb105)"/><rect x="72" y="554.00" width="461" height="2.30" fill="url(#hb106)"/><rect x="72" y="556.00" width="461" height="2.30" fill="url(#hb107)"/><rect x="72" y="558.00" width="461" height="2.30" fill="url(#hb108)"/><rect x="72" y="560.00" width="461" height="2.30" fill="url(#hb109)"/><rect x="72" y="562.00" width="461" height="2.30" fill="url(#hb110)"/><rect x="72" y="564.00" width="461" height="2.30" fill="url(#hb111)"/><rect x="72" y="566.00" width="461" height="2.30" fill="url(#hb112)"/><rect x="72" y="568.00" width="461" height="2.30" fill="url(#hb113)"/><rect x="72" y="570.00" width="461" height="2.30" fill="url(#hb114)"/><rect x="72" y="572.00" width="461" height="2.30" fill="url(#hb115)"/>
<line x1="148.50" y1="256.00" x2="148.50" y2="573.75" stroke="#e8e8e8" stroke-width="1.2" stroke-dasharray="5,3"/>
<line x1="416.02" y1="256.00" x2="416.02" y2="573.75" stroke="#e8e8e8" stroke-width="1.2" stroke-dasharray="5,3"/>
<line x1="468.50" y1="256.00" x2="468.50" y2="573.75" stroke="#e8e8e8" stroke-width="1.2" stroke-dasharray="5,3"/>
<rect x="72" y="256" width="461.00" height="317.75" fill="none" stroke="#000" stroke-width="1"/>
<line x1="84.50" y1="573.75" x2="84.50" y2="578.75" stroke="#333" stroke-width="1"/>
<text x="84.5" y="597.8" text-anchor="middle">−8</text>
<line x1="148.50" y1="573.75" x2="148.50" y2="578.75" stroke="#333" stroke-width="1"/>
<text x="148.5" y="597.8" text-anchor="middle">−6</text>
<line x1="212.50" y1="573.75" x2="212.50" y2="578.75" stroke="#333" stroke-width="1"/>
<text x="212.5" y="597.8" text-anchor="middle">−4</text>
<line x1="276.50" y1="573.75" x2="276.50" y2="578.75" stroke="#333" stroke-width="1"/>
<text x="276.5" y="597.8" text-anchor="middle">−2</text>
<line x1="340.50" y1="573.75" x2="340.50" y2="578.75" stroke="#333" stroke-width="1"/>
<text x="340.5" y="597.8" text-anchor="middle">0</text>
<line x1="404.50" y1="573.75" x2="404.50" y2="578.75" stroke="#333" stroke-width="1"/>
<text x="404.5" y="597.8" text-anchor="middle">2</text>
<line x1="468.50" y1="573.75" x2="468.50" y2="578.75" stroke="#333" stroke-width="1"/>
<text x="468.5" y="597.8" text-anchor="middle">4</text>
<line x1="532.50" y1="573.75" x2="532.50" y2="578.75" stroke="#333" stroke-width="1"/>
<text x="532.5" y="597.8" text-anchor="middle">6</text>
<line x1="72.00" y1="551.55" x2="67.00" y2="551.55" stroke="#333" stroke-width="1"/>
<text x="62.5" y="557.2" text-anchor="end">3.76</text>
<line x1="72.00" y1="467.30" x2="67.00" y2="467.30" stroke="#333" stroke-width="1"/>
<text x="62.5" y="472.9" text-anchor="end">3.80</text>
<line x1="72.00" y1="383.05" x2="67.00" y2="383.05" stroke="#333" stroke-width="1"/>
<text x="62.5" y="388.6" text-anchor="end">3.84</text>
<line x1="72.00" y1="298.80" x2="67.00" y2="298.80" stroke="#333" stroke-width="1"/>
<text x="62.5" y="304.4" text-anchor="end">3.88</text>
<text x="278.0" y="621.3"><tspan font-style="italic">V</tspan><tspan font-size="11" dy="3.5">BG</tspan><tspan dy="-3.5">&#8203;</tspan> (V)</text>
<text transform="translate(16,415) rotate(-90)" text-anchor="middle"><tspan font-style="italic">f</tspan> (GHz)</text>
<defs><linearGradient id="cbm" x1="0" y1="0" x2="0" y2="1"><stop offset="0.000" stop-color="#000004"/><stop offset="0.062" stop-color="#0a0822"/><stop offset="0.125" stop-color="#1d1147"/><stop offset="0.188" stop-color="#36106b"/><stop offset="0.250" stop-color="#51127c"/><stop offset="0.312" stop-color="#6a1c81"/><stop offset="0.375" stop-color="#832681"/><stop offset="0.438" stop-color="#9c2e7f"/><stop offset="0.500" stop-color="#b73779"/><stop offset="0.562" stop-color="#d0416f"/><stop offset="0.625" stop-color="#e75263"/><stop offset="0.688" stop-color="#f56b5c"/><stop offset="0.750" stop-color="#fc8961"/><stop offset="0.812" stop-color="#fea772"/><stop offset="0.875" stop-color="#fec488"/><stop offset="0.938" stop-color="#fde2a3"/><stop offset="1.000" stop-color="#fcfdbf"/></linearGradient></defs><rect x="546" y="256" width="16.5" height="317.75" fill="url(#cbm)"/>
<rect x="546" y="256" width="16.50" height="317.75" fill="none" stroke="#333" stroke-width="1"/>
<line x1="562.50" y1="533.20" x2="567.50" y2="533.20" stroke="#333" stroke-width="1"/>
<text x="574.0" y="538.8">0.97</text>
<line x1="562.50" y1="457.40" x2="567.50" y2="457.40" stroke="#333" stroke-width="1"/>
<text x="574.0" y="463.0">0.98</text>
<line x1="562.50" y1="381.60" x2="567.50" y2="381.60" stroke="#333" stroke-width="1"/>
<text x="574.0" y="387.2">0.99</text>
<line x1="562.50" y1="305.80" x2="567.50" y2="305.80" stroke="#333" stroke-width="1"/>
<text x="574.0" y="311.4">1.00</text>
<text transform="translate(627,415) rotate(90)" text-anchor="middle">|S<tspan font-size="11" dy="3.5">21</tspan><tspan dy="-3.5">&#8203;</tspan>|</text>
<text x="0.0" y="653.0" font-size="19" fill="#000" font-weight="bold">c</text>
<defs><linearGradient id="hc0"><stop offset="0" stop-color="#fdc473"/><stop offset=".008" stop-color="#fecb7a"/><stop offset=".018" stop-color="#fee796"/><stop offset=".028" stop-color="#ffffbe"/><stop offset=".039" stop-color="#f1faaa"/><stop offset=".07" stop-color="#e3f499"/><stop offset=".101" stop-color="#bae3a1"/><stop offset=".131" stop-color="#a3daa4"/><stop offset=".178" stop-color="#a2d9a4"/><stop offset=".198" stop-color="#acdda4"/><stop offset=".219" stop-color="#aadca4"/><stop offset=".229" stop-color="#9fd8a4"/><stop offset=".26" stop-color="#acdda4"/><stop offset=".286" stop-color="#a2d9a4"/><stop offset=".307" stop-color="#abdda4"/><stop offset=".317" stop-color="#a2d9a4"/><stop offset=".327" stop-color="#a6dba4"/><stop offset=".353" stop-color="#9cd7a4"/><stop offset=".363" stop-color="#a2d9a4"/><stop offset=".399" stop-color="#95d5a4"/><stop offset=".41" stop-color="#88cfa5"/><stop offset=".42" stop-color="#8dd1a4"/><stop offset=".43" stop-color="#7ecca5"/><stop offset=".456" stop-color="#7ccaa5"/><stop offset=".487" stop-color="#61bca7"/><stop offset=".497" stop-color="#63bfa6"/><stop offset=".513" stop-color="#51aaaf"/><stop offset=".534" stop-color="#48a1b3"/><stop offset=".544" stop-color="#48a1b3"/><stop offset=".549" stop-color="#59b3ab"/><stop offset=".554" stop-color="#8cd1a4"/><stop offset=".559" stop-color="#d3ed9c"/><stop offset=".564" stop-color="#f7fcb2"/><stop offset=".57" stop-color="#fff2aa"/><stop offset=".575" stop-color="#fee492"/><stop offset=".58" stop-color="#fee08b"/><stop offset=".606" stop-color="#fffdbc"/><stop offset=".621" stop-color="#fffdbc"/><stop offset=".642" stop-color="#feefa3"/><stop offset=".652" stop-color="#fede8a"/><stop offset=".662" stop-color="#fecc7b"/><stop offset=".673" stop-color="#fdbe6e"/><stop offset=".688" stop-color="#fdb668"/><stop offset=".704" stop-color="#fdc271"/><stop offset=".724" stop-color="#fee390"/><stop offset=".735" stop-color="#fff8b3"/><stop offset=".74" stop-color="#fcfeba"/><stop offset=".75" stop-color="#f5fbb0"/><stop offset=".791" stop-color="#fffdbb"/><stop offset=".822" stop-color="#fede8b"/><stop offset=".838" stop-color="#fdc171"/><stop offset=".853" stop-color="#fdaf62"/><stop offset=".905" stop-color="#fdaf62"/><stop offset=".91" stop-color="#fca85e"/><stop offset=".936" stop-color="#fca95f"/><stop offset=".946" stop-color="#fba15b"/><stop offset=".977" stop-color="#fba35c"/><stop offset=".982" stop-color="#fca95f"/><stop offset="1" stop-color="#fca45c"/></linearGradient><linearGradient id="hc1"><stop offset="0" stop-color="#fecb79"/><stop offset=".013" stop-color="#fee08c"/><stop offset=".028" stop-color="#feffbd"/><stop offset=".039" stop-color="#f2faab"/><stop offset=".064" stop-color="#e6f59a"/><stop offset=".101" stop-color="#b7e2a2"/><stop offset=".131" stop-color="#a3daa4"/><stop offset=".142" stop-color="#a9dca4"/><stop offset=".162" stop-color="#a0d9a4"/><stop offset=".26" stop-color="#a8dca4"/><stop offset=".286" stop-color="#a0d9a4"/><stop offset=".307" stop-color="#a8dca4"/><stop offset=".317" stop-color="#9ed8a4"/><stop offset=".348" stop-color="#a2d9a4"/><stop offset=".394" stop-color="#94d4a4"/><stop offset=".466" stop-color="#70c6a5"/><stop offset=".513" stop-color="#4da6b1"/><stop offset=".544" stop-color="#439bb5"/><stop offset=".549" stop-color="#48a1b3"/><stop offset=".554" stop-color="#63baa9"/><stop offset=".564" stop-color="#e1f3a1"/><stop offset=".57" stop-color="#fafab3"/><stop offset=".575" stop-color="#feefa3"/><stop offset=".58" stop-color="#fee594"/><stop offset=".585" stop-color="#fee797"/><stop offset=".606" stop-color="#fffebe"/><stop offset=".637" stop-color="#fffbb8"/><stop offset=".662" stop-color="#fed986"/><stop offset=".673" stop-color="#fdc372"/><stop offset=".688" stop-color="#fdb567"/><stop offset=".709" stop-color="#fdc675"/><stop offset=".724" stop-color="#fee593"/><stop offset=".735" stop-color="#fff9b5"/><stop offset=".74" stop-color="#f9fdb6"/><stop offset=".745" stop-color="#f3faac"/><stop offset=".76" stop-color="#f1faaa"/><stop offset=".791" stop-color="#fdfebc"/><stop offset=".802" stop-color="#fffcb9"/><stop offset=".822" stop-color="#fee492"/><stop offset=".853" stop-color="#fdb063"/><stop offset=".905" stop-color="#fdaf62"/><stop offset=".91" stop-color="#fca75e"/><stop offset=".925" stop-color="#fca35c"/><stop offset=".987" stop-color="#fca85e"/><stop offset="1" stop-color="#fba25b"/></linearGradient><linearGradient id="hc2"><stop offset="0" stop-color="#fedb89"/><stop offset=".013" stop-color="#fee99a"/><stop offset=".023" stop-color="#fffbb9"/><stop offset=".064" stop-color="#e2f399"/><stop offset=".08" stop-color="#d6ee9b"/><stop offset=".101" stop-color="#b1dfa3"/><stop offset=".131" stop-color="#9fd8a4"/><stop offset=".245" stop-color="#9bd7a4"/><stop offset=".26" stop-color="#a1d9a4"/><stop offset=".276" stop-color="#99d6a4"/><stop offset=".332" stop-color="#a2d9a4"/><stop offset=".358" stop-color="#9bd7a4"/><stop offset=".369" stop-color="#93d4a4"/><stop offset=".394" stop-color="#90d3a4"/><stop offset=".41" stop-color="#84cea5"/><stop offset=".436" stop-color="#83cda5"/><stop offset=".461" stop-color="#6dc5a5"/><stop offset=".503" stop-color="#4da6b1"/><stop offset=".523" stop-color="#479fb3"/><stop offset=".534" stop-color="#3c93b8"/><stop offset=".549" stop-color="#3e95b8"/><stop offset=".554" stop-color="#47a0b3"/><stop offset=".559" stop-color="#67bca9"/><stop offset=".57" stop-color="#e4f4a3"/><stop offset=".575" stop-color="#fbfbb4"/><stop offset=".58" stop-color="#fff2a9"/><stop offset=".585" stop-color="#feeb9d"/><stop offset=".59" stop-color="#feeb9e"/><stop offset=".606" stop-color="#fffebe"/><stop offset=".626" stop-color="#f8fcb4"/><stop offset=".642" stop-color="#fffdbb"/><stop offset=".662" stop-color="#fee390"/><stop offset=".673" stop-color="#fecb79"/><stop offset=".693" stop-color="#fdb769"/><stop offset=".709" stop-color="#fdc776"/><stop offset=".719" stop-color="#fede89"/><stop offset=".729" stop-color="#feefa4"/><stop offset=".735" stop-color="#fffcba"/><stop offset=".745" stop-color="#eff9a6"/><stop offset=".755" stop-color="#ecf7a1"/><stop offset=".802" stop-color="#fdfebc"/><stop offset=".807" stop-color="#fffcb9"/><stop offset=".827" stop-color="#fee18c"/><stop offset=".853" stop-color="#fdaf62"/><stop offset=".869" stop-color="#fca95f"/><stop offset=".889" stop-color="#fdaf62"/><stop offset=".93" stop-color="#fba35c"/><stop offset=".961" stop-color="#fca85e"/><stop offset="1" stop-color="#fba25b"/></linearGradient><linearGradient id="hc3"><stop offset="0" stop-color="#feeea3"/><stop offset=".018" stop-color="#fefcb9"/><stop offset=".023" stop-color="#fbfdb9"/><stop offset=".034" stop-color="#f0f9a8"/><stop offset=".054" stop-color="#e9f69d"/><stop offset=".08" stop-color="#cfec9d"/><stop offset=".106" stop-color="#a3daa4"/><stop offset=".121" stop-color="#98d5a4"/><stop offset=".142" stop-color="#93d4a4"/><stop offset=".183" stop-color="#9ad6a4"/><stop offset=".204" stop-color="#92d3a4"/><stop offset=".255" stop-color="#9cd7a4"/><stop offset=".265" stop-color="#94d4a4"/><stop offset=".338" stop-color="#9bd7a4"/><stop offset=".358" stop-color="#8fd2a4"/><stop offset=".374" stop-color="#91d3a4"/><stop offset=".425" stop-color="#78c9a5"/><stop offset=".441" stop-color="#77c9a5"/><stop offset=".461" stop-color="#66c2a5"/><stop offset=".487" stop-color="#50aaaf"/><stop offset=".549" stop-color="#3a91b9"/><stop offset=".559" stop-color="#479fb3"/><stop offset=".564" stop-color="#69bea8"/><stop offset=".57" stop-color="#b1e0a1"/><stop offset=".575" stop-color="#ebf7a4"/><stop offset=".58" stop-color="#fdfbb7"/><stop offset=".59" stop-color="#feec9f"/><stop offset=".595" stop-color="#feeea3"/><stop offset=".606" stop-color="#fffcb9"/><stop offset=".626" stop-color="#f3faad"/><stop offset=".652" stop-color="#fefcba"/><stop offset=".678" stop-color="#fece7c"/><stop offset=".698" stop-color="#fdb86a"/><stop offset=".724" stop-color="#fee491"/><stop offset=".735" stop-color="#fffebd"/><stop offset=".745" stop-color="#eaf79f"/><stop offset=".75" stop-color="#e4f49a"/><stop offset=".807" stop-color="#fcfebb"/><stop offset=".812" stop-color="#fffbb9"/><stop offset=".822" stop-color="#feefa4"/><stop offset=".832" stop-color="#fedd89"/><stop offset=".858" stop-color="#fdac60"/><stop offset=".966" stop-color="#fca85e"/><stop offset=".982" stop-color="#fb9e5a"/><stop offset="1" stop-color="#fca45c"/></linearGradient><linearGradient id="hc4"><stop offset="0" stop-color="#fefbb8"/><stop offset=".013" stop-color="#fbfdb8"/><stop offset=".028" stop-color="#eff9a6"/><stop offset=".054" stop-color="#e5f599"/><stop offset=".075" stop-color="#cdeb9d"/><stop offset=".106" stop-color="#9cd7a4"/><stop offset=".121" stop-color="#8dd1a4"/><stop offset=".183" stop-color="#8fd2a4"/><stop offset=".224" stop-color="#88cfa5"/><stop offset=".25" stop-color="#92d3a4"/><stop offset=".265" stop-color="#8ad0a4"/><stop offset=".281" stop-color="#94d4a4"/><stop offset=".296" stop-color="#8bd0a4"/><stop offset=".317" stop-color="#8fd2a4"/><stop offset=".327" stop-color="#88cfa5"/><stop offset=".343" stop-color="#92d3a4"/><stop offset=".353" stop-color="#85cea5"/><stop offset=".374" stop-color="#87cfa5"/><stop offset=".389" stop-color="#80cca5"/><stop offset=".399" stop-color="#87cfa5"/><stop offset=".425" stop-color="#6ec5a5"/><stop offset=".461" stop-color="#61bda7"/><stop offset=".492" stop-color="#469eb4"/><stop offset=".528" stop-color="#4198b6"/><stop offset=".539" stop-color="#388fba"/><stop offset=".559" stop-color="#3c93b8"/><stop offset=".564" stop-color="#49a1b2"/><stop offset=".57" stop-color="#75c5a7"/><stop offset=".575" stop-color="#bce4a0"/><stop offset=".58" stop-color="#f0f9a7"/><stop offset=".585" stop-color="#fefab6"/><stop offset=".59" stop-color="#fff1a7"/><stop offset=".595" stop-color="#feeea2"/><stop offset=".611" stop-color="#fefebd"/><stop offset=".621" stop-color="#f4fbae"/><stop offset=".631" stop-color="#f1f9a9"/><stop offset=".657" stop-color="#fdfdba"/><stop offset=".662" stop-color="#fff9b4"/><stop offset=".673" stop-color="#fee899"/><stop offset=".683" stop-color="#fecd7b"/><stop offset=".693" stop-color="#fdbd6d"/><stop offset=".704" stop-color="#fdc272"/><stop offset=".719" stop-color="#feda86"/><stop offset=".724" stop-color="#fee492"/><stop offset=".735" stop-color="#feffbe"/><stop offset=".745" stop-color="#e7f59a"/><stop offset=".755" stop-color="#d8ef9b"/><stop offset=".765" stop-color="#e2f399"/><stop offset=".776" stop-color="#eef8a5"/><stop offset=".812" stop-color="#fefebd"/><stop offset=".822" stop-color="#fff5ae"/><stop offset=".838" stop-color="#fedc88"/><stop offset=".858" stop-color="#fdb163"/><stop offset=".915" stop-color="#fca85e"/><stop offset=".951" stop-color="#fcaa5f"/><stop offset=".982" stop-color="#fb9f5a"/><stop offset="1" stop-color="#fca55d"/></linearGradient><linearGradient id="hc5"><stop offset="0" stop-color="#f8fcb5"/><stop offset=".049" stop-color="#e7f599"/><stop offset=".075" stop-color="#c4e79f"/><stop offset=".101" stop-color="#97d5a4"/><stop offset=".131" stop-color="#81cda5"/><stop offset=".178" stop-color="#88cfa5"/><stop offset=".214" stop-color="#7ecca5"/><stop offset=".245" stop-color="#87cfa5"/><stop offset=".271" stop-color="#7dcba5"/><stop offset=".286" stop-color="#88cfa5"/><stop offset=".312" stop-color="#81cda5"/><stop offset=".348" stop-color="#84cea5"/><stop offset=".358" stop-color="#78c9a5"/><stop offset=".379" stop-color="#74c8a5"/><stop offset=".399" stop-color="#81cda5"/><stop offset=".415" stop-color="#70c6a5"/><stop offset=".441" stop-color="#63bea7"/><stop offset=".446" stop-color="#5ab5aa"/><stop offset=".466" stop-color="#56b0ad"/><stop offset=".492" stop-color="#439bb5"/><stop offset=".559" stop-color="#388fba"/><stop offset=".564" stop-color="#4098b7"/><stop offset=".57" stop-color="#52acae"/><stop offset=".575" stop-color="#81cda5"/><stop offset=".58" stop-color="#c9e99e"/><stop offset=".585" stop-color="#f3faac"/><stop offset=".59" stop-color="#fef9b5"/><stop offset=".601" stop-color="#fff1a8"/><stop offset=".611" stop-color="#fffdbc"/><stop offset=".621" stop-color="#f4faad"/><stop offset=".631" stop-color="#f1faaa"/><stop offset=".652" stop-color="#f5fbaf"/><stop offset=".662" stop-color="#fcfebb"/><stop offset=".668" stop-color="#fffab7"/><stop offset=".678" stop-color="#feea9c"/><stop offset=".688" stop-color="#fece7c"/><stop offset=".698" stop-color="#fdc272"/><stop offset=".709" stop-color="#fec877"/><stop offset=".719" stop-color="#fed986"/><stop offset=".735" stop-color="#fdfebc"/><stop offset=".745" stop-color="#e7f59a"/><stop offset=".75" stop-color="#d4ee9c"/><stop offset=".755" stop-color="#cdeb9d"/><stop offset=".771" stop-color="#e5f599"/><stop offset=".776" stop-color="#eaf79e"/><stop offset=".817" stop-color="#fefebc"/><stop offset=".838" stop-color="#fedf8a"/><stop offset=".848" stop-color="#fdc776"/><stop offset=".869" stop-color="#fcaa5f"/><stop offset=".894" stop-color="#fdb062"/><stop offset=".93" stop-color="#fca45c"/><stop offset="1" stop-color="#fca45c"/></linearGradient><linearGradient id="hc6"><stop offset="0" stop-color="#f1f9a9"/><stop offset=".034" stop-color="#eaf79f"/><stop offset=".049" stop-color="#def29a"/><stop offset=".07" stop-color="#c3e79f"/><stop offset=".101" stop-color="#8cd1a4"/><stop offset=".121" stop-color="#7bcaa5"/><stop offset=".183" stop-color="#79c9a5"/><stop offset=".193" stop-color="#7fcca5"/><stop offset=".204" stop-color="#74c7a5"/><stop offset=".229" stop-color="#7fcca5"/><stop offset=".276" stop-color="#75c8a5"/><stop offset=".327" stop-color="#7ecca5"/><stop offset=".353" stop-color="#7dcba5"/><stop offset=".374" stop-color="#71c6a5"/><stop offset=".389" stop-color="#79c9a5"/><stop offset=".43" stop-color="#64bfa6"/><stop offset=".446" stop-color="#54aead"/><stop offset=".477" stop-color="#459eb4"/><stop offset=".528" stop-color="#3a91b9"/><stop offset=".559" stop-color="#3c93b8"/><stop offset=".57" stop-color="#449cb5"/><stop offset=".575" stop-color="#5ab5aa"/><stop offset=".58" stop-color="#90d3a4"/><stop offset=".585" stop-color="#d3ed9f"/><stop offset=".59" stop-color="#f5fbb0"/><stop offset=".595" stop-color="#fff9b5"/><stop offset=".601" stop-color="#fff2a9"/><stop offset=".616" stop-color="#fdfebc"/><stop offset=".626" stop-color="#f4fbae"/><stop offset=".647" stop-color="#f0f9a7"/><stop offset=".673" stop-color="#fffcba"/><stop offset=".688" stop-color="#fedf8c"/><stop offset=".698" stop-color="#fec978"/><stop offset=".709" stop-color="#fecc7a"/><stop offset=".719" stop-color="#fed986"/><stop offset=".724" stop-color="#fee491"/><stop offset=".735" stop-color="#fffdbb"/><stop offset=".745" stop-color="#e4f498"/><stop offset=".75" stop-color="#cdeb9d"/><stop offset=".755" stop-color="#c6e89e"/><stop offset=".765" stop-color="#ccea9d"/><stop offset=".776" stop-color="#e7f59a"/><stop offset=".781" stop-color="#edf8a3"/><stop offset=".822" stop-color="#fffbb9"/><stop offset=".838" stop-color="#fee28e"/><stop offset=".848" stop-color="#fec877"/><stop offset=".869" stop-color="#fdad60"/><stop offset=".874" stop-color="#fca85e"/><stop offset=".884" stop-color="#fdaf62"/><stop offset=".91" stop-color="#fdad61"/><stop offset=".977" stop-color="#fb9d59"/><stop offset=".982" stop-color="#fca45c"/><stop offset="1" stop-color="#fb9f5a"/></linearGradient><linearGradient id="hc7"><stop offset="0" stop-color="#edf8a3"/><stop offset=".034" stop-color="#e4f499"/><stop offset=".044" stop-color="#d3ed9c"/><stop offset=".054" stop-color="#cfec9d"/><stop offset=".075" stop-color="#b2e0a3"/><stop offset=".101" stop-color="#86cea5"/><stop offset=".126" stop-color="#71c6a5"/><stop offset=".193" stop-color="#75c8a5"/><stop offset=".204" stop-color="#6bc4a5"/><stop offset=".224" stop-color="#79c9a5"/><stop offset=".235" stop-color="#73c7a5"/><stop offset=".26" stop-color="#78c9a5"/><stop offset=".291" stop-color="#73c7a5"/><stop offset=".302" stop-color="#79c9a5"/><stop offset=".322" stop-color="#72c7a5"/><stop offset=".384" stop-color="#75c8a5"/><stop offset=".477" stop-color="#3f97b7"/><stop offset=".539" stop-color="#3d94b8"/><stop offset=".544" stop-color="#378ebb"/><stop offset=".57" stop-color="#3e95b8"/><stop offset=".575" stop-color="#48a1b3"/><stop offset=".58" stop-color="#5eb5ab"/><stop offset=".585" stop-color="#93d4a4"/><stop offset=".59" stop-color="#d4eea0"/><stop offset=".595" stop-color="#f6fbb0"/><stop offset=".601" stop-color="#fffab6"/><stop offset=".606" stop-color="#fff5ae"/><stop offset=".621" stop-color="#fcfebb"/><stop offset=".637" stop-color="#f1faaa"/><stop offset=".657" stop-color="#f0f9a7"/><stop offset=".678" stop-color="#fffcb9"/><stop offset=".693" stop-color="#fee18f"/><stop offset=".709" stop-color="#fece7c"/><stop offset=".724" stop-color="#fee28f"/><stop offset=".735" stop-color="#fffcb9"/><stop offset=".745" stop-color="#e4f498"/><stop offset=".75" stop-color="#cdeb9d"/><stop offset=".76" stop-color="#bfe5a0"/><stop offset=".765" stop-color="#c3e79f"/><stop offset=".776" stop-color="#e1f399"/><stop offset=".781" stop-color="#ebf79f"/><stop offset=".812" stop-color="#f5fbaf"/><stop offset=".822" stop-color="#fdfebc"/><stop offset=".827" stop-color="#fffab6"/><stop offset=".848" stop-color="#fece7c"/><stop offset=".863" stop-color="#fdb567"/><stop offset=".879" stop-color="#fdab60"/><stop offset=".941" stop-color="#fca45c"/><stop offset=".951" stop-color="#fcaa5f"/><stop offset=".977" stop-color="#fb9e5a"/><stop offset="1" stop-color="#fba15b"/></linearGradient><linearGradient id="hc8"><stop offset="0" stop-color="#e7f69a"/><stop offset=".013" stop-color="#e8f69c"/><stop offset=".049" stop-color="#ccea9d"/><stop offset=".07" stop-color="#b2e0a3"/><stop offset=".085" stop-color="#90d3a4"/><stop offset=".111" stop-color="#70c6a5"/><stop offset=".183" stop-color="#71c6a5"/><stop offset=".198" stop-color="#6bc4a5"/><stop offset=".214" stop-color="#75c8a5"/><stop offset=".224" stop-color="#6cc4a5"/><stop offset=".26" stop-color="#74c8a5"/><stop offset=".296" stop-color="#6cc4a5"/><stop offset=".307" stop-color="#76c8a5"/><stop offset=".338" stop-color="#6bc4a5"/><stop offset=".369" stop-color="#71c6a5"/><stop offset=".389" stop-color="#67c2a5"/><stop offset=".482" stop-color="#388eba"/><stop offset=".487" stop-color="#3d95b8"/><stop offset=".544" stop-color="#3990ba"/><stop offset=".58" stop-color="#429ab6"/><stop offset=".585" stop-color="#5ab2ac"/><stop offset=".595" stop-color="#d3eda0"/><stop offset=".601" stop-color="#f6fbb0"/><stop offset=".606" stop-color="#fefbb7"/><stop offset=".616" stop-color="#fff6b0"/><stop offset=".621" stop-color="#fefdbc"/><stop offset=".642" stop-color="#f0f9a7"/><stop offset=".657" stop-color="#eef8a5"/><stop offset=".683" stop-color="#fffcba"/><stop offset=".704" stop-color="#fedb87"/><stop offset=".714" stop-color="#fed17e"/><stop offset=".724" stop-color="#fee390"/><stop offset=".735" stop-color="#fffab7"/><stop offset=".74" stop-color="#f4fbae"/><stop offset=".745" stop-color="#e5f59a"/><stop offset=".755" stop-color="#bfe5a0"/><stop offset=".76" stop-color="#bbe3a1"/><stop offset=".765" stop-color="#bfe5a0"/><stop offset=".781" stop-color="#e7f59a"/><stop offset=".786" stop-color="#eef8a4"/><stop offset=".812" stop-color="#f2faab"/><stop offset=".827" stop-color="#fffdbb"/><stop offset=".843" stop-color="#fee28f"/><stop offset=".853" stop-color="#fec877"/><stop offset=".869" stop-color="#fdb264"/><stop offset=".925" stop-color="#fca45c"/><stop offset=".951" stop-color="#fca75e"/><stop offset=".972" stop-color="#fb9d59"/><stop offset="1" stop-color="#fba05b"/></linearGradient><linearGradient id="hc9"><stop offset="0" stop-color="#e4f498"/><stop offset=".013" stop-color="#e3f499"/><stop offset=".034" stop-color="#ccea9d"/><stop offset=".049" stop-color="#c6e89f"/><stop offset=".101" stop-color="#76c8a5"/><stop offset=".111" stop-color="#71c6a5"/><stop offset=".137" stop-color="#77c9a5"/><stop offset=".157" stop-color="#6cc4a5"/><stop offset=".168" stop-color="#73c7a5"/><stop offset=".193" stop-color="#6bc4a5"/><stop offset=".214" stop-color="#75c8a5"/><stop offset=".224" stop-color="#6ac3a5"/><stop offset=".255" stop-color="#73c7a5"/><stop offset=".276" stop-color="#6cc4a5"/><stop offset=".348" stop-color="#71c6a5"/><stop offset=".389" stop-color="#62bda7"/><stop offset=".399" stop-color="#58b2ac"/><stop offset=".477" stop-color="#388eba"/><stop offset=".559" stop-color="#4098b7"/><stop offset=".575" stop-color="#3a91b9"/><stop offset=".585" stop-color="#449cb5"/><stop offset=".59" stop-color="#5ab3ac"/><stop offset=".595" stop-color="#90d2a4"/><stop offset=".601" stop-color="#d2eda0"/><stop offset=".606" stop-color="#f4fbae"/><stop offset=".611" stop-color="#fefcba"/><stop offset=".616" stop-color="#fff8b2"/><stop offset=".626" stop-color="#fefebc"/><stop offset=".657" stop-color="#edf8a3"/><stop offset=".683" stop-color="#fcfeba"/><stop offset=".688" stop-color="#fefbb7"/><stop offset=".704" stop-color="#fee18d"/><stop offset=".714" stop-color="#fed985"/><stop offset=".724" stop-color="#fee28f"/><stop offset=".735" stop-color="#fff5ae"/><stop offset=".74" stop-color="#f9fcb5"/><stop offset=".745" stop-color="#eaf79f"/><stop offset=".755" stop-color="#bfe5a0"/><stop offset=".76" stop-color="#b7e2a2"/><stop offset=".771" stop-color="#c5e89f"/><stop offset=".781" stop-color="#e6f599"/><stop offset=".786" stop-color="#edf8a3"/><stop offset=".802" stop-color="#eef8a5"/><stop offset=".827" stop-color="#fffebd"/><stop offset=".848" stop-color="#fedc88"/><stop offset=".853" stop-color="#fecc7b"/><stop offset=".874" stop-color="#fdad60"/><stop offset="1" stop-color="#fb9e5a"/></linearGradient><linearGradient id="hc10"><stop offset="0" stop-color="#daf09b"/><stop offset=".044" stop-color="#bfe5a0"/><stop offset=".064" stop-color="#a7dba4"/><stop offset=".085" stop-color="#82cda5"/><stop offset=".111" stop-color="#6fc6a5"/><stop offset=".137" stop-color="#74c8a5"/><stop offset=".224" stop-color="#6bc4a5"/><stop offset=".255" stop-color="#73c7a5"/><stop offset=".281" stop-color="#6ac3a5"/><stop offset=".312" stop-color="#73c7a5"/><stop offset=".363" stop-color="#6ac3a5"/><stop offset=".379" stop-color="#5bb6aa"/><stop offset=".389" stop-color="#5cb7aa"/><stop offset=".399" stop-color="#51aaaf"/><stop offset=".492" stop-color="#388eba"/><stop offset=".508" stop-color="#3e95b8"/><stop offset=".544" stop-color="#3a91b9"/><stop offset=".59" stop-color="#4198b6"/><stop offset=".595" stop-color="#57b1ac"/><stop offset=".601" stop-color="#91d3a4"/><stop offset=".606" stop-color="#d6ef9f"/><stop offset=".611" stop-color="#f6fcb1"/><stop offset=".616" stop-color="#fefbb8"/><stop offset=".631" stop-color="#fcfeba"/><stop offset=".652" stop-color="#f0f9a8"/><stop offset=".662" stop-color="#eff9a6"/><stop offset=".688" stop-color="#fcfeba"/><stop offset=".693" stop-color="#fffab7"/><stop offset=".709" stop-color="#fee28e"/><stop offset=".719" stop-color="#fee08b"/><stop offset=".729" stop-color="#fee695"/><stop offset=".74" stop-color="#fdfebb"/><stop offset=".745" stop-color="#edf8a3"/><stop offset=".75" stop-color="#d7ef9b"/><stop offset=".76" stop-color="#b6e2a2"/><stop offset=".771" stop-color="#bfe5a0"/><stop offset=".781" stop-color="#dff299"/><stop offset=".786" stop-color="#eaf79e"/><stop offset=".791" stop-color="#eff9a6"/><stop offset=".817" stop-color="#f3faac"/><stop offset=".827" stop-color="#fdfebc"/><stop offset=".832" stop-color="#fffab7"/><stop offset=".853" stop-color="#fed07d"/><stop offset=".869" stop-color="#fdb365"/><stop offset="1" stop-color="#fb9f5a"/></linearGradient><linearGradient id="hc11"><stop offset="0" stop-color="#c7e89e"/><stop offset=".023" stop-color="#c7e89e"/><stop offset=".059" stop-color="#9dd8a4"/><stop offset=".064" stop-color="#9ed8a4"/><stop offset=".085" stop-color="#7bcaa5"/><stop offset=".111" stop-color="#6fc6a5"/><stop offset=".152" stop-color="#75c8a5"/><stop offset=".178" stop-color="#6bc4a5"/><stop offset=".188" stop-color="#73c7a5"/><stop offset=".209" stop-color="#6bc4a5"/><stop offset=".26" stop-color="#71c6a5"/><stop offset=".281" stop-color="#67c2a5"/><stop offset=".302" stop-color="#73c7a5"/><stop offset=".358" stop-color="#66c1a6"/><stop offset=".389" stop-color="#57b1ac"/><stop offset=".399" stop-color="#4ba4b2"/><stop offset=".451" stop-color="#3a91b9"/><stop offset=".59" stop-color="#3c93b8"/><stop offset=".595" stop-color="#4198b6"/><stop offset=".601" stop-color="#56aeae"/><stop offset=".611" stop-color="#d0eca1"/><stop offset=".616" stop-color="#f4faad"/><stop offset=".621" stop-color="#fdfdbb"/><stop offset=".637" stop-color="#fcfeba"/><stop offset=".662" stop-color="#eef8a5"/><stop offset=".673" stop-color="#eef8a5"/><stop offset=".683" stop-color="#f2faab"/><stop offset=".693" stop-color="#fefebc"/><stop offset=".709" stop-color="#fee797"/><stop offset=".719" stop-color="#fee18c"/><stop offset=".724" stop-color="#fee18d"/><stop offset=".735" stop-color="#feeda0"/><stop offset=".74" stop-color="#fffdbb"/><stop offset=".75" stop-color="#def29a"/><stop offset=".755" stop-color="#c3e79f"/><stop offset=".765" stop-color="#b6e2a2"/><stop offset=".771" stop-color="#bbe3a1"/><stop offset=".781" stop-color="#daf09a"/><stop offset=".791" stop-color="#eff9a6"/><stop offset=".817" stop-color="#f2faaa"/><stop offset=".832" stop-color="#fffdbb"/><stop offset=".848" stop-color="#fee08c"/><stop offset=".869" stop-color="#fdb667"/><stop offset=".915" stop-color="#fca55d"/><stop offset=".946" stop-color="#fca95f"/><stop offset=".961" stop-color="#fba35c"/><stop offset=".972" stop-color="#fca95f"/><stop offset="1" stop-color="#fca35c"/></linearGradient><linearGradient id="hc12"><stop offset="0" stop-color="#bce4a0"/><stop offset=".023" stop-color="#b9e3a1"/><stop offset=".044" stop-color="#a9dca4"/><stop offset=".059" stop-color="#91d3a4"/><stop offset=".075" stop-color="#8ad0a4"/><stop offset=".085" stop-color="#7acaa5"/><stop offset=".101" stop-color="#6fc6a5"/><stop offset=".111" stop-color="#6dc5a5"/><stop offset=".116" stop-color="#74c8a5"/><stop offset=".137" stop-color="#6dc5a5"/><stop offset=".198" stop-color="#73c7a5"/><stop offset=".209" stop-color="#6dc5a5"/><stop offset=".229" stop-color="#74c8a5"/><stop offset=".255" stop-color="#6cc4a5"/><stop offset=".302" stop-color="#74c8a5"/><stop offset=".358" stop-color="#5fbaa8"/><stop offset=".441" stop-color="#3990ba"/><stop offset=".492" stop-color="#3a91b9"/><stop offset=".497" stop-color="#348bbc"/><stop offset=".523" stop-color="#3d95b8"/><stop offset=".57" stop-color="#388eba"/><stop offset=".601" stop-color="#3b92b9"/><stop offset=".606" stop-color="#51aaaf"/><stop offset=".611" stop-color="#89d0a4"/><stop offset=".616" stop-color="#cfeb9f"/><stop offset=".621" stop-color="#f3faac"/><stop offset=".626" stop-color="#fefdbb"/><stop offset=".642" stop-color="#fcfebb"/><stop offset=".662" stop-color="#edf8a3"/><stop offset=".678" stop-color="#eaf79e"/><stop offset=".693" stop-color="#fafdb8"/><stop offset=".698" stop-color="#fffcb9"/><stop offset=".714" stop-color="#fee696"/><stop offset=".724" stop-color="#fee28e"/><stop offset=".735" stop-color="#feeb9e"/><stop offset=".74" stop-color="#fff7b1"/><stop offset=".745" stop-color="#f9fdb6"/><stop offset=".75" stop-color="#eaf79e"/><stop offset=".755" stop-color="#d2ed9c"/><stop offset=".765" stop-color="#bae3a1"/><stop offset=".771" stop-color="#bbe3a1"/><stop offset=".786" stop-color="#e9f69d"/><stop offset=".796" stop-color="#f0f9a8"/><stop offset=".817" stop-color="#f2faaa"/><stop offset=".832" stop-color="#ffffbe"/><stop offset=".858" stop-color="#fecb79"/><stop offset=".869" stop-color="#fdb769"/><stop offset=".915" stop-color="#fca75e"/><stop offset="1" stop-color="#fba05b"/></linearGradient><linearGradient id="hc13"><stop offset="0" stop-color="#b1dfa3"/><stop offset=".028" stop-color="#abdda4"/><stop offset=".044" stop-color="#a0d9a4"/><stop offset=".054" stop-color="#8bd0a4"/><stop offset=".064" stop-color="#8ad0a4"/><stop offset=".101" stop-color="#6bc4a5"/><stop offset=".121" stop-color="#74c7a5"/><stop offset=".142" stop-color="#6bc4a5"/><stop offset=".198" stop-color="#75c8a5"/><stop offset=".24" stop-color="#6bc4a5"/><stop offset=".296" stop-color="#75c8a5"/><stop offset=".317" stop-color="#66c1a6"/><stop offset=".338" stop-color="#63bea7"/><stop offset=".42" stop-color="#3990ba"/><stop offset=".492" stop-color="#3990ba"/><stop offset=".503" stop-color="#348abc"/><stop offset=".528" stop-color="#3d94b8"/><stop offset=".544" stop-color="#368cbb"/><stop offset=".57" stop-color="#368dbb"/><stop offset=".601" stop-color="#3a91b9"/><stop offset=".606" stop-color="#4199b6"/><stop offset=".611" stop-color="#55afad"/><stop offset=".616" stop-color="#8ad0a4"/><stop offset=".621" stop-color="#cdeba0"/><stop offset=".626" stop-color="#f4faad"/><stop offset=".631" stop-color="#fefdba"/><stop offset=".647" stop-color="#fdfdba"/><stop offset=".668" stop-color="#ebf79f"/><stop offset=".678" stop-color="#e6f59a"/><stop offset=".688" stop-color="#eef8a4"/><stop offset=".698" stop-color="#fdfebb"/><stop offset=".704" stop-color="#fff9b5"/><stop offset=".714" stop-color="#fee99a"/><stop offset=".724" stop-color="#fee390"/><stop offset=".735" stop-color="#feea9b"/><stop offset=".745" stop-color="#fefdba"/><stop offset=".755" stop-color="#e3f49a"/><stop offset=".765" stop-color="#c1e6a0"/><stop offset=".771" stop-color="#bfe5a0"/><stop offset=".776" stop-color="#c6e89f"/><stop offset=".786" stop-color="#e7f59a"/><stop offset=".791" stop-color="#edf8a2"/><stop offset=".817" stop-color="#f2faaa"/><stop offset=".832" stop-color="#ffffbe"/><stop offset=".853" stop-color="#fedd89"/><stop offset=".858" stop-color="#fecd7b"/><stop offset=".879" stop-color="#fdad61"/><stop offset=".905" stop-color="#fdb063"/><stop offset=".92" stop-color="#fca75e"/><stop offset="1" stop-color="#fb9f5a"/></linearGradient><linearGradient id="hc14"><stop offset="0" stop-color="#a3daa4"/><stop offset=".028" stop-color="#9cd7a4"/><stop offset=".064" stop-color="#7fcca5"/><stop offset=".095" stop-color="#70c6a5"/><stop offset=".142" stop-color="#6cc4a5"/><stop offset=".152" stop-color="#74c7a5"/><stop offset=".168" stop-color="#6bc4a5"/><stop offset=".188" stop-color="#72c7a5"/><stop offset=".291" stop-color="#70c6a5"/><stop offset=".322" stop-color="#5db8a9"/><stop offset=".338" stop-color="#5fbaa8"/><stop offset=".41" stop-color="#3990ba"/><stop offset=".508" stop-color="#378ebb"/><stop offset=".528" stop-color="#3d95b8"/><stop offset=".544" stop-color="#368dbb"/><stop offset=".601" stop-color="#388eba"/><stop offset=".611" stop-color="#3d95b8"/><stop offset=".616" stop-color="#50aaaf"/><stop offset=".621" stop-color="#84cda5"/><stop offset=".626" stop-color="#cdeba0"/><stop offset=".631" stop-color="#f3faad"/><stop offset=".637" stop-color="#fefcb9"/><stop offset=".652" stop-color="#fefdbc"/><stop offset=".673" stop-color="#e7f59a"/><stop offset=".683" stop-color="#dff299"/><stop offset=".688" stop-color="#e5f59b"/><stop offset=".704" stop-color="#fdfdb9"/><stop offset=".729" stop-color="#fee390"/><stop offset=".74" stop-color="#feeb9e"/><stop offset=".745" stop-color="#fff8b2"/><stop offset=".75" stop-color="#f7fcb2"/><stop offset=".755" stop-color="#eaf79e"/><stop offset=".765" stop-color="#ccea9d"/><stop offset=".771" stop-color="#c6e89e"/><stop offset=".776" stop-color="#c9e99e"/><stop offset=".786" stop-color="#e6f598"/><stop offset=".791" stop-color="#ebf7a0"/><stop offset=".822" stop-color="#f5fbaf"/><stop offset=".832" stop-color="#fdfebc"/><stop offset=".858" stop-color="#fed380"/><stop offset=".879" stop-color="#fdaf62"/><stop offset="1" stop-color="#fba05b"/></linearGradient><linearGradient id="hc15"><stop offset="0" stop-color="#98d5a4"/><stop offset=".028" stop-color="#92d3a4"/><stop offset=".059" stop-color="#7ccaa5"/><stop offset=".095" stop-color="#6fc6a5"/><stop offset=".214" stop-color="#6cc4a5"/><stop offset=".224" stop-color="#74c7a5"/><stop offset=".286" stop-color="#6dc5a5"/><stop offset=".302" stop-color="#61bda7"/><stop offset=".41" stop-color="#368dbb"/><stop offset=".456" stop-color="#3d94b8"/><stop offset=".492" stop-color="#378ebb"/><stop offset=".513" stop-color="#3d94b8"/><stop offset=".611" stop-color="#3a91b9"/><stop offset=".616" stop-color="#3e95b8"/><stop offset=".621" stop-color="#50aaaf"/><stop offset=".626" stop-color="#7fc8a7"/><stop offset=".631" stop-color="#bfe5a1"/><stop offset=".637" stop-color="#ebf7a8"/><stop offset=".642" stop-color="#fbfdb7"/><stop offset=".647" stop-color="#fffdbb"/><stop offset=".662" stop-color="#fcfdba"/><stop offset=".678" stop-color="#e3f499"/><stop offset=".683" stop-color="#d8ef9b"/><stop offset=".688" stop-color="#daf09b"/><stop offset=".693" stop-color="#e6f59a"/><stop offset=".709" stop-color="#fffdbb"/><stop offset=".729" stop-color="#fee390"/><stop offset=".74" stop-color="#feea9c"/><stop offset=".745" stop-color="#fff3ab"/><stop offset=".75" stop-color="#fcfebb"/><stop offset=".76" stop-color="#e3f49a"/><stop offset=".771" stop-color="#d0ec9d"/><stop offset=".781" stop-color="#d7ef9b"/><stop offset=".786" stop-color="#e5f598"/><stop offset=".796" stop-color="#eff9a7"/><stop offset=".822" stop-color="#f5fbaf"/><stop offset=".832" stop-color="#fdfebb"/><stop offset=".838" stop-color="#fffab7"/><stop offset=".858" stop-color="#fed481"/><stop offset=".879" stop-color="#fdae61"/><stop offset=".946" stop-color="#fca85e"/><stop offset=".977" stop-color="#fb9e5a"/><stop offset="1" stop-color="#fba35c"/></linearGradient><linearGradient id="hc16"><stop offset="0" stop-color="#8dd1a4"/><stop offset=".075" stop-color="#6fc6a5"/><stop offset=".214" stop-color="#6cc4a5"/><stop offset=".24" stop-color="#73c7a5"/><stop offset=".265" stop-color="#6dc5a5"/><stop offset=".317" stop-color="#5bb6aa"/><stop offset=".363" stop-color="#4098b7"/><stop offset=".399" stop-color="#388fba"/><stop offset=".441" stop-color="#3e95b8"/><stop offset=".477" stop-color="#3d94b8"/><stop offset=".492" stop-color="#3489bc"/><stop offset=".508" stop-color="#3a91b9"/><stop offset=".559" stop-color="#348abc"/><stop offset=".57" stop-color="#3b92b9"/><stop offset=".611" stop-color="#378ebb"/><stop offset=".621" stop-color="#3f96b7"/><stop offset=".626" stop-color="#4aa3b2"/><stop offset=".631" stop-color="#6fc1a8"/><stop offset=".637" stop-color="#b1dfa1"/><stop offset=".642" stop-color="#e4f4a4"/><stop offset=".647" stop-color="#fbfdb8"/><stop offset=".652" stop-color="#fffab6"/><stop offset=".657" stop-color="#fff6b0"/><stop offset=".668" stop-color="#fdfab5"/><stop offset=".688" stop-color="#dbf19a"/><stop offset=".698" stop-color="#eaf79e"/><stop offset=".709" stop-color="#fffebd"/><stop offset=".729" stop-color="#fee797"/><stop offset=".74" stop-color="#feea9c"/><stop offset=".745" stop-color="#feefa4"/><stop offset=".75" stop-color="#fffab7"/><stop offset=".755" stop-color="#f7fcb3"/><stop offset=".765" stop-color="#e2f499"/><stop offset=".776" stop-color="#d7ef9b"/><stop offset=".786" stop-color="#e6f599"/><stop offset=".796" stop-color="#eff9a6"/><stop offset=".822" stop-color="#f5fbb0"/><stop offset=".832" stop-color="#fdfebc"/><stop offset=".838" stop-color="#fffbb8"/><stop offset=".863" stop-color="#fec877"/><stop offset=".879" stop-color="#fdad61"/><stop offset="1" stop-color="#fba15b"/></linearGradient><linearGradient id="hc17"><stop offset="0" stop-color="#83cda5"/><stop offset=".044" stop-color="#74c8a5"/><stop offset=".054" stop-color="#78c9a5"/><stop offset=".07" stop-color="#6dc5a5"/><stop offset=".193" stop-color="#72c7a5"/><stop offset=".209" stop-color="#67c2a5"/><stop offset=".245" stop-color="#73c7a5"/><stop offset=".296" stop-color="#5fbaa8"/><stop offset=".327" stop-color="#4aa3b2"/><stop offset=".389" stop-color="#388eba"/><stop offset=".415" stop-color="#3f96b7"/><stop offset=".43" stop-color="#388eba"/><stop offset=".606" stop-color="#368dbb"/><stop offset=".626" stop-color="#3d95b8"/><stop offset=".631" stop-color="#459eb4"/><stop offset=".637" stop-color="#64b8ab"/><stop offset=".647" stop-color="#d9efa2"/><stop offset=".652" stop-color="#f6fbb0"/><stop offset=".657" stop-color="#fff8b2"/><stop offset=".668" stop-color="#feec9f"/><stop offset=".678" stop-color="#fcf8b1"/><stop offset=".683" stop-color="#f6fbb0"/><stop offset=".693" stop-color="#e8f69d"/><stop offset=".698" stop-color="#eaf79e"/><stop offset=".709" stop-color="#fafdb8"/><stop offset=".735" stop-color="#fee695"/><stop offset=".745" stop-color="#feec9f"/><stop offset=".755" stop-color="#fefcb9"/><stop offset=".765" stop-color="#ebf7a0"/><stop offset=".776" stop-color="#def29a"/><stop offset=".786" stop-color="#e8f69b"/><stop offset=".796" stop-color="#eff9a7"/><stop offset=".832" stop-color="#fdfebc"/><stop offset=".838" stop-color="#fffab7"/><stop offset=".853" stop-color="#fee28f"/><stop offset=".869" stop-color="#fdbf6f"/><stop offset=".884" stop-color="#fdad61"/><stop offset=".905" stop-color="#fca55d"/><stop offset=".946" stop-color="#fcaa5f"/><stop offset=".966" stop-color="#fba15b"/><stop offset=".987" stop-color="#fca85e"/><stop offset="1" stop-color="#fb9f5a"/></linearGradient><linearGradient id="hc18"><stop offset="0" stop-color="#79c9a5"/><stop offset=".07" stop-color="#6cc4a5"/><stop offset=".188" stop-color="#74c7a5"/><stop offset=".209" stop-color="#65c1a5"/><stop offset=".214" stop-color="#6cc4a5"/><stop offset=".245" stop-color="#6fc6a5"/><stop offset=".26" stop-color="#61bda7"/><stop offset=".276" stop-color="#62bda7"/><stop offset=".291" stop-color="#54aead"/><stop offset=".379" stop-color="#388eba"/><stop offset=".446" stop-color="#3c93b8"/><stop offset=".518" stop-color="#3489bc"/><stop offset=".544" stop-color="#3a91b9"/><stop offset=".626" stop-color="#368cbb"/><stop offset=".637" stop-color="#3f96b7"/><stop offset=".642" stop-color="#54acae"/><stop offset=".647" stop-color="#8acfa5"/><stop offset=".652" stop-color="#cdeba1"/><stop offset=".657" stop-color="#f4f9ab"/><stop offset=".662" stop-color="#fff5ae"/><stop offset=".668" stop-color="#fee696"/><stop offset=".673" stop-color="#fedb88"/><stop offset=".678" stop-color="#fedf8f"/><stop offset=".688" stop-color="#fbf6ac"/><stop offset=".704" stop-color="#f4fbae"/><stop offset=".709" stop-color="#f9fdb6"/><stop offset=".714" stop-color="#fffab7"/><stop offset=".724" stop-color="#feec9f"/><stop offset=".74" stop-color="#fee492"/><stop offset=".75" stop-color="#feeb9e"/><stop offset=".76" stop-color="#fcfdb9"/><stop offset=".771" stop-color="#edf8a3"/><stop offset=".781" stop-color="#e8f69c"/><stop offset=".832" stop-color="#fdfebc"/><stop offset=".838" stop-color="#fffbb8"/><stop offset=".848" stop-color="#fee999"/><stop offset=".863" stop-color="#fecc7a"/><stop offset=".884" stop-color="#fdad61"/><stop offset=".966" stop-color="#fb9e5a"/><stop offset=".987" stop-color="#fca95f"/><stop offset="1" stop-color="#fb9d59"/></linearGradient><linearGradient id="hc19"><stop offset="0" stop-color="#73c7a5"/><stop offset=".034" stop-color="#75c8a5"/><stop offset=".09" stop-color="#69c3a5"/><stop offset=".152" stop-color="#73c7a5"/><stop offset=".24" stop-color="#6bc4a5"/><stop offset=".302" stop-color="#4ba4b1"/><stop offset=".379" stop-color="#388fba"/><stop offset=".466" stop-color="#3d94b8"/><stop offset=".497" stop-color="#348abc"/><stop offset=".564" stop-color="#388fba"/><stop offset=".575" stop-color="#3386bc"/><stop offset=".626" stop-color="#368cbb"/><stop offset=".642" stop-color="#3a91b9"/><stop offset=".647" stop-color="#4ea7b0"/><stop offset=".657" stop-color="#bee59f"/><stop offset=".662" stop-color="#edf8ab"/><stop offset=".668" stop-color="#fdf2a8"/><stop offset=".678" stop-color="#fecc7b"/><stop offset=".683" stop-color="#fec877"/><stop offset=".698" stop-color="#feea9f"/><stop offset=".709" stop-color="#fef7b1"/><stop offset=".74" stop-color="#fee492"/><stop offset=".75" stop-color="#fee797"/><stop offset=".76" stop-color="#fff8b3"/><stop offset=".765" stop-color="#fbfdb9"/><stop offset=".776" stop-color="#f0f9a7"/><stop offset=".786" stop-color="#edf8a3"/><stop offset=".832" stop-color="#fefebc"/><stop offset=".838" stop-color="#fffbb8"/><stop offset=".853" stop-color="#fee28e"/><stop offset=".874" stop-color="#fdb96b"/><stop offset=".884" stop-color="#fdad61"/><stop offset=".941" stop-color="#fb9f5a"/><stop offset=".956" stop-color="#fca85e"/><stop offset=".966" stop-color="#fba05b"/><stop offset="1" stop-color="#fb9f5a"/></linearGradient><linearGradient id="hc20"><stop offset="0" stop-color="#74c8a5"/><stop offset=".018" stop-color="#6ec5a5"/><stop offset=".034" stop-color="#75c8a5"/><stop offset=".059" stop-color="#6bc4a5"/><stop offset=".085" stop-color="#73c7a5"/><stop offset=".111" stop-color="#68c3a5"/><stop offset=".152" stop-color="#75c8a5"/><stop offset=".214" stop-color="#6ac3a5"/><stop offset=".245" stop-color="#61bca8"/><stop offset=".327" stop-color="#3d95b8"/><stop offset=".405" stop-color="#368dbb"/><stop offset=".466" stop-color="#3a91b9"/><stop offset=".477" stop-color="#3489bc"/><stop offset=".539" stop-color="#3990ba"/><stop offset=".606" stop-color="#3589bc"/><stop offset=".621" stop-color="#3a91b9"/><stop offset=".642" stop-color="#368cbb"/><stop offset=".647" stop-color="#3a91b9"/><stop offset=".652" stop-color="#4aa3b2"/><stop offset=".657" stop-color="#6dbea9"/><stop offset=".662" stop-color="#a6dba1"/><stop offset=".668" stop-color="#d9f0a6"/><stop offset=".673" stop-color="#f6f5a6"/><stop offset=".678" stop-color="#fee69a"/><stop offset=".683" stop-color="#fdc776"/><stop offset=".688" stop-color="#fdaf63"/><stop offset=".693" stop-color="#fba660"/><stop offset=".709" stop-color="#fed686"/><stop offset=".719" stop-color="#fee697"/><stop offset=".74" stop-color="#fee28e"/><stop offset=".75" stop-color="#fee492"/><stop offset=".765" stop-color="#fffab6"/><stop offset=".771" stop-color="#fcfdb9"/><stop offset=".786" stop-color="#f0f9a8"/><stop offset=".802" stop-color="#f8fcb4"/><stop offset=".832" stop-color="#fffdbb"/><stop offset=".853" stop-color="#fee18c"/><stop offset=".874" stop-color="#fdb96b"/><stop offset=".884" stop-color="#fdae61"/><stop offset=".977" stop-color="#fa9c59"/><stop offset="1" stop-color="#fca85e"/></linearGradient><linearGradient id="hc21"><stop offset="0" stop-color="#73c7a5"/><stop offset=".049" stop-color="#6ac3a5"/><stop offset=".07" stop-color="#73c7a5"/><stop offset=".101" stop-color="#6bc4a5"/><stop offset=".152" stop-color="#73c7a5"/><stop offset=".214" stop-color="#66c2a5"/><stop offset=".224" stop-color="#5db8a9"/><stop offset=".235" stop-color="#60bba8"/><stop offset=".276" stop-color="#4ba4b1"/><stop offset=".332" stop-color="#3b92b9"/><stop offset=".389" stop-color="#368dbb"/><stop offset=".42" stop-color="#3e95b8"/><stop offset=".451" stop-color="#368cbb"/><stop offset=".544" stop-color="#388eba"/><stop offset=".585" stop-color="#3488bc"/><stop offset=".606" stop-color="#3488bc"/><stop offset=".621" stop-color="#3a91b9"/><stop offset=".647" stop-color="#348abc"/><stop offset=".657" stop-color="#3f97b7"/><stop offset=".662" stop-color="#52aaaf"/><stop offset=".668" stop-color="#7cc5a8"/><stop offset=".673" stop-color="#b5e19f"/><stop offset=".678" stop-color="#e3f3a9"/><stop offset=".683" stop-color="#f9ed9d"/><stop offset=".688" stop-color="#fecd7f"/><stop offset=".693" stop-color="#fba35e"/><stop offset=".698" stop-color="#f7864e"/><stop offset=".704" stop-color="#f7844f"/><stop offset=".719" stop-color="#fdc072"/><stop offset=".729" stop-color="#feda88"/><stop offset=".75" stop-color="#fee18d"/><stop offset=".776" stop-color="#fefdba"/><stop offset=".791" stop-color="#f7fcb3"/><stop offset=".827" stop-color="#fefebd"/><stop offset=".843" stop-color="#feefa5"/><stop offset=".853" stop-color="#fee18c"/><stop offset=".863" stop-color="#feca79"/><stop offset=".884" stop-color="#fdae61"/><stop offset=".982" stop-color="#fb9d59"/><stop offset="1" stop-color="#fca45c"/></linearGradient><linearGradient id="hc22"><stop offset="0" stop-color="#70c6a5"/><stop offset=".018" stop-color="#74c8a5"/><stop offset=".023" stop-color="#6ac3a5"/><stop offset=".059" stop-color="#6cc4a5"/><stop offset=".07" stop-color="#74c8a5"/><stop offset=".111" stop-color="#67c2a5"/><stop offset=".126" stop-color="#72c7a5"/><stop offset=".137" stop-color="#6bc4a5"/><stop offset=".204" stop-color="#66c2a5"/><stop offset=".296" stop-color="#3d95b8"/><stop offset=".332" stop-color="#3990ba"/><stop offset=".436" stop-color="#3c93b8"/><stop offset=".451" stop-color="#3388bd"/><stop offset=".503" stop-color="#388fba"/><stop offset=".528" stop-color="#3387bc"/><stop offset=".57" stop-color="#388eba"/><stop offset=".657" stop-color="#368dbb"/><stop offset=".668" stop-color="#4199b6"/><stop offset=".673" stop-color="#5bafae"/><stop offset=".683" stop-color="#bde5a3"/><stop offset=".688" stop-color="#e7efa2"/><stop offset=".693" stop-color="#fbde8e"/><stop offset=".698" stop-color="#fbad66"/><stop offset=".704" stop-color="#f67d4b"/><stop offset=".709" stop-color="#ee6445"/><stop offset=".714" stop-color="#eb664a"/><stop offset=".724" stop-color="#f99456"/><stop offset=".729" stop-color="#fcac64"/><stop offset=".74" stop-color="#fecb79"/><stop offset=".786" stop-color="#fefcba"/><stop offset=".827" stop-color="#fffbb9"/><stop offset=".853" stop-color="#fedf8a"/><stop offset=".863" stop-color="#fec776"/><stop offset=".884" stop-color="#fdad61"/><stop offset=".91" stop-color="#fdad60"/><stop offset=".92" stop-color="#fba35c"/><stop offset=".946" stop-color="#fcaa5f"/><stop offset=".956" stop-color="#fba15b"/><stop offset="1" stop-color="#fb9f5a"/></linearGradient><linearGradient id="hc23"><stop offset="0" stop-color="#74c7a5"/><stop offset=".023" stop-color="#6cc4a5"/><stop offset=".049" stop-color="#75c8a5"/><stop offset=".106" stop-color="#6bc4a5"/><stop offset=".126" stop-color="#70c6a5"/><stop offset=".178" stop-color="#64c0a6"/><stop offset=".204" stop-color="#5fbaa8"/><stop offset=".224" stop-color="#50aaaf"/><stop offset=".24" stop-color="#52acae"/><stop offset=".307" stop-color="#3b92b9"/><stop offset=".374" stop-color="#3f97b7"/><stop offset=".436" stop-color="#3a91b9"/><stop offset=".441" stop-color="#348bbc"/><stop offset=".508" stop-color="#378ebb"/><stop offset=".528" stop-color="#3387bc"/><stop offset=".549" stop-color="#368dbb"/><stop offset=".58" stop-color="#3387bc"/><stop offset=".595" stop-color="#378ebb"/><stop offset=".668" stop-color="#368cbb"/><stop offset=".678" stop-color="#459eb4"/><stop offset=".683" stop-color="#63b7ab"/><stop offset=".688" stop-color="#94d3a4"/><stop offset=".693" stop-color="#cceaa6"/><stop offset=".698" stop-color="#eeec9d"/><stop offset=".704" stop-color="#fdd088"/><stop offset=".709" stop-color="#f7935a"/><stop offset=".714" stop-color="#e9624a"/><stop offset=".719" stop-color="#e1504b"/><stop offset=".724" stop-color="#e45549"/><stop offset=".735" stop-color="#f2794e"/><stop offset=".75" stop-color="#fdc574"/><stop offset=".76" stop-color="#fedd89"/><stop offset=".786" stop-color="#fff7b1"/><stop offset=".807" stop-color="#fffdbb"/><stop offset=".817" stop-color="#fefdbb"/><stop offset=".832" stop-color="#fff5ae"/><stop offset=".843" stop-color="#fee594"/><stop offset=".853" stop-color="#fedd89"/><stop offset=".869" stop-color="#fdbe6e"/><stop offset=".884" stop-color="#fdad60"/><stop offset="1" stop-color="#fb9e5a"/></linearGradient><linearGradient id="hc24"><stop offset="0" stop-color="#76c8a5"/><stop offset=".07" stop-color="#6cc4a5"/><stop offset=".116" stop-color="#71c6a5"/><stop offset=".137" stop-color="#66c1a6"/><stop offset=".168" stop-color="#64c0a6"/><stop offset=".276" stop-color="#3c93b8"/><stop offset=".43" stop-color="#3d94b8"/><stop offset=".441" stop-color="#348bbc"/><stop offset=".549" stop-color="#368dbb"/><stop offset=".559" stop-color="#3585bb"/><stop offset=".673" stop-color="#368cbb"/><stop offset=".683" stop-color="#3b92b9"/><stop offset=".688" stop-color="#47a0b3"/><stop offset=".693" stop-color="#6dbcaa"/><stop offset=".698" stop-color="#9ed8a2"/><stop offset=".704" stop-color="#d3eda9"/><stop offset=".709" stop-color="#f2e799"/><stop offset=".714" stop-color="#fcbe7b"/><stop offset=".719" stop-color="#f18558"/><stop offset=".724" stop-color="#e4584c"/><stop offset=".729" stop-color="#d7424d"/><stop offset=".735" stop-color="#d7424c"/><stop offset=".74" stop-color="#e15249"/><stop offset=".75" stop-color="#f99255"/><stop offset=".76" stop-color="#fdc776"/><stop offset=".765" stop-color="#fed986"/><stop offset=".791" stop-color="#fff4ad"/><stop offset=".812" stop-color="#fff8b2"/><stop offset=".832" stop-color="#fff0a6"/><stop offset=".848" stop-color="#fede89"/><stop offset=".874" stop-color="#fdb769"/><stop offset=".889" stop-color="#fca95f"/><stop offset=".92" stop-color="#fdad61"/><stop offset=".956" stop-color="#fba15b"/><stop offset="1" stop-color="#fba05b"/></linearGradient><linearGradient id="hc25"><stop offset="0" stop-color="#74c8a5"/><stop offset=".013" stop-color="#6dc5a5"/><stop offset=".101" stop-color="#71c6a5"/><stop offset=".111" stop-color="#67c2a5"/><stop offset=".147" stop-color="#65c1a5"/><stop offset=".276" stop-color="#378ebb"/><stop offset=".296" stop-color="#4198b6"/><stop offset=".343" stop-color="#388eba"/><stop offset=".43" stop-color="#3b92b9"/><stop offset=".446" stop-color="#348abc"/><stop offset=".497" stop-color="#378ebb"/><stop offset=".559" stop-color="#3587bb"/><stop offset=".585" stop-color="#388eba"/><stop offset=".631" stop-color="#3387bc"/><stop offset=".678" stop-color="#388fba"/><stop offset=".683" stop-color="#348abc"/><stop offset=".688" stop-color="#3585bb"/><stop offset=".693" stop-color="#3a8eb9"/><stop offset=".698" stop-color="#4ba4b2"/><stop offset=".704" stop-color="#70beaa"/><stop offset=".709" stop-color="#a3daa1"/><stop offset=".714" stop-color="#d7eda7"/><stop offset=".719" stop-color="#f3e698"/><stop offset=".724" stop-color="#fcc07f"/><stop offset=".729" stop-color="#f08158"/><stop offset=".735" stop-color="#de4f4a"/><stop offset=".74" stop-color="#cd354d"/><stop offset=".745" stop-color="#ce384b"/><stop offset=".755" stop-color="#eb684c"/><stop offset=".76" stop-color="#f68a53"/><stop offset=".765" stop-color="#fcae66"/><stop offset=".776" stop-color="#fedc89"/><stop offset=".781" stop-color="#fee696"/><stop offset=".796" stop-color="#fff0a6"/><stop offset=".807" stop-color="#fff4ac"/><stop offset=".822" stop-color="#fff2a9"/><stop offset=".843" stop-color="#fee28e"/><stop offset=".884" stop-color="#fdad60"/><stop offset=".905" stop-color="#fca65d"/><stop offset=".92" stop-color="#fdaf62"/><stop offset=".925" stop-color="#fca85e"/><stop offset=".946" stop-color="#fcaa5f"/><stop offset=".961" stop-color="#fb9f5a"/><stop offset="1" stop-color="#fca35c"/></linearGradient><linearGradient id="hc26"><stop offset="0" stop-color="#6cc4a5"/><stop offset=".09" stop-color="#71c6a5"/><stop offset=".106" stop-color="#67c2a5"/><stop offset=".142" stop-color="#62bda7"/><stop offset=".209" stop-color="#469eb4"/><stop offset=".271" stop-color="#3990ba"/><stop offset=".296" stop-color="#3e95b8"/><stop offset=".327" stop-color="#388fba"/><stop offset=".338" stop-color="#3f96b7"/><stop offset=".353" stop-color="#368cbb"/><stop offset=".497" stop-color="#3a91b9"/><stop offset=".508" stop-color="#348bbc"/><stop offset=".585" stop-color="#3489bc"/><stop offset=".616" stop-color="#3a91b9"/><stop offset=".662" stop-color="#3585bb"/><stop offset=".683" stop-color="#348abc"/><stop offset=".698" stop-color="#3784ba"/><stop offset=".704" stop-color="#3b8eb8"/><stop offset=".709" stop-color="#4ca1b1"/><stop offset=".714" stop-color="#6ebbab"/><stop offset=".719" stop-color="#9ed5a3"/><stop offset=".724" stop-color="#d0ecaa"/><stop offset=".729" stop-color="#f1e598"/><stop offset=".735" stop-color="#fbb979"/><stop offset=".74" stop-color="#ed7956"/><stop offset=".745" stop-color="#d74449"/><stop offset=".75" stop-color="#c42b4b"/><stop offset=".755" stop-color="#c52d4a"/><stop offset=".76" stop-color="#d54249"/><stop offset=".771" stop-color="#f48453"/><stop offset=".781" stop-color="#fdc878"/><stop offset=".786" stop-color="#fedb89"/><stop offset=".796" stop-color="#feea9c"/><stop offset=".807" stop-color="#feefa4"/><stop offset=".822" stop-color="#feeda1"/><stop offset=".832" stop-color="#fee390"/><stop offset=".843" stop-color="#fedf8a"/><stop offset=".879" stop-color="#fdb062"/><stop offset="1" stop-color="#fca55d"/></linearGradient><linearGradient id="hc27"><stop offset="0" stop-color="#6ac3a5"/><stop offset=".034" stop-color="#71c6a5"/><stop offset=".044" stop-color="#6ac3a5"/><stop offset=".054" stop-color="#6ec5a5"/><stop offset=".106" stop-color="#60bba8"/><stop offset=".131" stop-color="#61bca8"/><stop offset=".209" stop-color="#4198b6"/><stop offset=".271" stop-color="#368dbb"/><stop offset=".286" stop-color="#3f96b7"/><stop offset=".302" stop-color="#388eba"/><stop offset=".332" stop-color="#3d95b8"/><stop offset=".353" stop-color="#358bbc"/><stop offset=".363" stop-color="#3b92b9"/><stop offset=".405" stop-color="#368cbb"/><stop offset=".441" stop-color="#3b92b9"/><stop offset=".456" stop-color="#348bbc"/><stop offset=".554" stop-color="#388eba"/><stop offset=".564" stop-color="#3386bc"/><stop offset=".575" stop-color="#378ebb"/><stop offset=".606" stop-color="#3388bd"/><stop offset=".616" stop-color="#3990ba"/><stop offset=".637" stop-color="#3486bc"/><stop offset=".652" stop-color="#368dbb"/><stop offset=".668" stop-color="#3488bc"/><stop offset=".709" stop-color="#4174b4"/><stop offset=".714" stop-color="#427bb4"/><stop offset=".719" stop-color="#478cb2"/><stop offset=".724" stop-color="#64abad"/><stop offset=".729" stop-color="#94cea5"/><stop offset=".735" stop-color="#cbe9a8"/><stop offset=".74" stop-color="#eee298"/><stop offset=".745" stop-color="#fab97b"/><stop offset=".75" stop-color="#ea7a58"/><stop offset=".755" stop-color="#d5464b"/><stop offset=".76" stop-color="#c22a4a"/><stop offset=".765" stop-color="#c32a4b"/><stop offset=".771" stop-color="#d23d4b"/><stop offset=".776" stop-color="#e4584b"/><stop offset=".781" stop-color="#f37e50"/><stop offset=".791" stop-color="#fdc071"/><stop offset=".796" stop-color="#fed786"/><stop offset=".807" stop-color="#fee797"/><stop offset=".822" stop-color="#fee899"/><stop offset=".848" stop-color="#fed884"/><stop offset=".858" stop-color="#fdc776"/><stop offset=".884" stop-color="#fdae61"/><stop offset=".905" stop-color="#fca95f"/><stop offset=".92" stop-color="#fdb265"/><stop offset=".972" stop-color="#fca85e"/><stop offset="1" stop-color="#fdad61"/></linearGradient><linearGradient id="hc28"><stop offset="0" stop-color="#6ac3a5"/><stop offset=".013" stop-color="#65c0a6"/><stop offset=".039" stop-color="#6dc5a5"/><stop offset=".059" stop-color="#63bea7"/><stop offset=".075" stop-color="#66c2a5"/><stop offset=".095" stop-color="#57b1ac"/><stop offset=".126" stop-color="#58b3ab"/><stop offset=".204" stop-color="#3d95b8"/><stop offset=".348" stop-color="#378ebb"/><stop offset=".425" stop-color="#3d95b8"/><stop offset=".461" stop-color="#348bbc"/><stop offset=".497" stop-color="#388fba"/><stop offset=".544" stop-color="#378ebb"/><stop offset=".564" stop-color="#3485bc"/><stop offset=".575" stop-color="#358bbc"/><stop offset=".647" stop-color="#3488bc"/><stop offset=".657" stop-color="#3688bb"/><stop offset=".704" stop-color="#5061aa"/><stop offset=".719" stop-color="#5061aa"/><stop offset=".724" stop-color="#486baf"/><stop offset=".729" stop-color="#4980b0"/><stop offset=".735" stop-color="#5ba3af"/><stop offset=".74" stop-color="#8ac9a7"/><stop offset=".745" stop-color="#c1e6ab"/><stop offset=".75" stop-color="#e6e399"/><stop offset=".755" stop-color="#f8c37d"/><stop offset=".76" stop-color="#f08d61"/><stop offset=".765" stop-color="#dd584e"/><stop offset=".771" stop-color="#cd374a"/><stop offset=".776" stop-color="#cb324d"/><stop offset=".781" stop-color="#d6424c"/><stop offset=".791" stop-color="#f37c4e"/><stop offset=".802" stop-color="#fcb46a"/><stop offset=".807" stop-color="#fdc677"/><stop offset=".817" stop-color="#fed987"/><stop offset=".838" stop-color="#fed985"/><stop offset=".884" stop-color="#fdae61"/><stop offset=".894" stop-color="#fdb667"/><stop offset=".905" stop-color="#fdae62"/><stop offset=".92" stop-color="#fdb466"/><stop offset=".946" stop-color="#fdad61"/><stop offset=".961" stop-color="#fdb365"/><stop offset=".982" stop-color="#fca95f"/><stop offset="1" stop-color="#fdae61"/></linearGradient><linearGradient id="hc29"><stop offset="0" stop-color="#63bfa6"/><stop offset=".064" stop-color="#63bea7"/><stop offset=".209" stop-color="#3a91b9"/><stop offset=".41" stop-color="#3d94b8"/><stop offset=".508" stop-color="#3387bc"/><stop offset=".528" stop-color="#388eba"/><stop offset=".554" stop-color="#3586bb"/><stop offset=".58" stop-color="#368dbb"/><stop offset=".621" stop-color="#3388bd"/><stop offset=".647" stop-color="#397fb9"/><stop offset=".662" stop-color="#486baf"/><stop offset=".683" stop-color="#515faa"/><stop offset=".704" stop-color="#5659a7"/><stop offset=".729" stop-color="#5160aa"/><stop offset=".735" stop-color="#4a68ae"/><stop offset=".74" stop-color="#487db1"/><stop offset=".745" stop-color="#579caf"/><stop offset=".75" stop-color="#77bdab"/><stop offset=".755" stop-color="#b1dfa8"/><stop offset=".76" stop-color="#dae39c"/><stop offset=".765" stop-color="#f6cd7f"/><stop offset=".771" stop-color="#f59b63"/><stop offset=".776" stop-color="#e7674f"/><stop offset=".781" stop-color="#da474b"/><stop offset=".786" stop-color="#d53f4d"/><stop offset=".807" stop-color="#f27d50"/><stop offset=".827" stop-color="#fdbc6f"/><stop offset=".838" stop-color="#fecc7b"/><stop offset=".848" stop-color="#fecb79"/><stop offset=".879" stop-color="#fdb063"/><stop offset=".894" stop-color="#fdb668"/><stop offset=".951" stop-color="#fdaf62"/><stop offset=".966" stop-color="#fdb668"/><stop offset="1" stop-color="#fdb062"/></linearGradient><linearGradient id="hc30"><stop offset="0" stop-color="#5fbaa8"/><stop offset=".064" stop-color="#5cb7aa"/><stop offset=".147" stop-color="#429ab6"/><stop offset=".209" stop-color="#3a91b9"/><stop offset=".271" stop-color="#3d95b8"/><stop offset=".286" stop-color="#378ebb"/><stop offset=".312" stop-color="#3f97b7"/><stop offset=".472" stop-color="#348abc"/><stop offset=".585" stop-color="#368cbb"/><stop offset=".616" stop-color="#3684bb"/><stop offset=".657" stop-color="#525ea9"/><stop offset=".678" stop-color="#5659a7"/><stop offset=".729" stop-color="#535da9"/><stop offset=".745" stop-color="#4d65ad"/><stop offset=".75" stop-color="#4473b2"/><stop offset=".755" stop-color="#4d8caf"/><stop offset=".76" stop-color="#64a4ae"/><stop offset=".765" stop-color="#85c2aa"/><stop offset=".771" stop-color="#b6ce9a"/><stop offset=".776" stop-color="#e5c079"/><stop offset=".781" stop-color="#f68651"/><stop offset=".786" stop-color="#e95f49"/><stop offset=".802" stop-color="#db484d"/><stop offset=".812" stop-color="#de4c4b"/><stop offset=".832" stop-color="#f68853"/><stop offset=".853" stop-color="#fcb065"/><stop offset=".894" stop-color="#fdb668"/><stop offset="1" stop-color="#fdb265"/></linearGradient><linearGradient id="hc31"><stop offset="0" stop-color="#5ab4ab"/><stop offset=".049" stop-color="#59b4ab"/><stop offset=".188" stop-color="#388eba"/><stop offset=".198" stop-color="#3f97b7"/><stop offset=".24" stop-color="#3a91b9"/><stop offset=".307" stop-color="#3f96b7"/><stop offset=".338" stop-color="#388eba"/><stop offset=".353" stop-color="#3f96b7"/><stop offset=".389" stop-color="#378ebb"/><stop offset=".503" stop-color="#368dbb"/><stop offset=".518" stop-color="#3584bb"/><stop offset=".544" stop-color="#368dbb"/><stop offset=".57" stop-color="#3388bd"/><stop offset=".595" stop-color="#3585bb"/><stop offset=".637" stop-color="#525ea9"/><stop offset=".683" stop-color="#5956a5"/><stop offset=".698" stop-color="#545ca8"/><stop offset=".74" stop-color="#5659a7"/><stop offset=".765" stop-color="#4570b2"/><stop offset=".771" stop-color="#497eb0"/><stop offset=".776" stop-color="#65a2b0"/><stop offset=".781" stop-color="#89a894"/><stop offset=".786" stop-color="#bfb291"/><stop offset=".791" stop-color="#b5766a"/><stop offset=".796" stop-color="#e28c64"/><stop offset=".802" stop-color="#e3534a"/><stop offset=".817" stop-color="#da454d"/><stop offset=".832" stop-color="#e55649"/><stop offset=".848" stop-color="#f27249"/><stop offset=".858" stop-color="#f7874f"/><stop offset=".899" stop-color="#fdb063"/><stop offset=".93" stop-color="#fdba6b"/><stop offset=".941" stop-color="#fdb466"/><stop offset="1" stop-color="#fdb264"/></linearGradient><linearGradient id="hc32"><stop offset="0" stop-color="#4fa8b0"/><stop offset=".034" stop-color="#58b2ac"/><stop offset=".137" stop-color="#3a91b9"/><stop offset=".26" stop-color="#3f97b7"/><stop offset=".276" stop-color="#388eba"/><stop offset=".291" stop-color="#3e95b8"/><stop offset=".338" stop-color="#378ebb"/><stop offset=".363" stop-color="#3e95b8"/><stop offset=".466" stop-color="#348abc"/><stop offset=".534" stop-color="#368bbb"/><stop offset=".57" stop-color="#3881b9"/><stop offset=".616" stop-color="#5061aa"/><stop offset=".647" stop-color="#5759a7"/><stop offset=".765" stop-color="#525fa9"/><stop offset=".771" stop-color="#4f62ab"/><stop offset=".776" stop-color="#3f77b5"/><stop offset=".781" stop-color="#48a1b3"/><stop offset=".786" stop-color="#58b2ac"/><stop offset=".791" stop-color="#5ab3ac"/><stop offset=".796" stop-color="#86caa5"/><stop offset=".802" stop-color="#88948a"/><stop offset=".807" stop-color="#9ba087"/><stop offset=".812" stop-color="#bc8b70"/><stop offset=".817" stop-color="#bd7b67"/><stop offset=".822" stop-color="#ef8d6b"/><stop offset=".827" stop-color="#ef7750"/><stop offset=".838" stop-color="#ec6549"/><stop offset=".863" stop-color="#f37046"/><stop offset=".915" stop-color="#fdae62"/><stop offset=".925" stop-color="#fdb365"/><stop offset="1" stop-color="#fdb264"/></linearGradient><linearGradient id="hc33"><stop offset="0" stop-color="#49a2b2"/><stop offset=".013" stop-color="#52abae"/><stop offset=".028" stop-color="#52abae"/><stop offset=".064" stop-color="#459db4"/><stop offset=".101" stop-color="#459db4"/><stop offset=".147" stop-color="#3a91b9"/><stop offset=".157" stop-color="#3f97b7"/><stop offset=".198" stop-color="#3990ba"/><stop offset=".24" stop-color="#3f97b7"/><stop offset=".265" stop-color="#388eba"/><stop offset=".286" stop-color="#3f96b7"/><stop offset=".327" stop-color="#368dbb"/><stop offset=".358" stop-color="#3d95b8"/><stop offset=".399" stop-color="#388eba"/><stop offset=".441" stop-color="#3d94b8"/><stop offset=".451" stop-color="#368cbb"/><stop offset=".518" stop-color="#3389bd"/><stop offset=".544" stop-color="#3782ba"/><stop offset=".601" stop-color="#535da9"/><stop offset=".647" stop-color="#5758a6"/><stop offset=".771" stop-color="#5160aa"/><stop offset=".776" stop-color="#3f77b5"/><stop offset=".781" stop-color="#439bb5"/><stop offset=".786" stop-color="#5fbaa8"/><stop offset=".791" stop-color="#6bc4a5"/><stop offset=".817" stop-color="#6ec5a5"/><stop offset=".822" stop-color="#9ed5a8"/><stop offset=".827" stop-color="#9bbc8f"/><stop offset=".832" stop-color="#bebf86"/><stop offset=".838" stop-color="#ccbb87"/><stop offset=".843" stop-color="#d2b279"/><stop offset=".848" stop-color="#f3b66c"/><stop offset=".853" stop-color="#fbb577"/><stop offset=".863" stop-color="#fa9d5c"/><stop offset=".869" stop-color="#fa9757"/><stop offset=".905" stop-color="#fba05b"/><stop offset=".93" stop-color="#fdb063"/><stop offset="1" stop-color="#fdb668"/></linearGradient><linearGradient id="hc34"><stop offset="0" stop-color="#47a0b3"/><stop offset=".039" stop-color="#429ab6"/><stop offset=".054" stop-color="#469eb4"/><stop offset=".075" stop-color="#3e95b8"/><stop offset=".101" stop-color="#4198b6"/><stop offset=".131" stop-color="#388eba"/><stop offset=".137" stop-color="#3d95b8"/><stop offset=".178" stop-color="#3f97b7"/><stop offset=".255" stop-color="#368dbb"/><stop offset=".276" stop-color="#3e95b8"/><stop offset=".394" stop-color="#368dbb"/><stop offset=".405" stop-color="#3c93b8"/><stop offset=".451" stop-color="#378ebb"/><stop offset=".466" stop-color="#3c93b8"/><stop offset=".487" stop-color="#3389bd"/><stop offset=".503" stop-color="#3584bb"/><stop offset=".544" stop-color="#4471b2"/><stop offset=".559" stop-color="#5062ab"/><stop offset=".642" stop-color="#5759a7"/><stop offset=".652" stop-color="#525fa9"/><stop offset=".668" stop-color="#5759a7"/><stop offset=".719" stop-color="#515faa"/><stop offset=".755" stop-color="#5759a7"/><stop offset=".771" stop-color="#5061aa"/><stop offset=".776" stop-color="#4274b3"/><stop offset=".781" stop-color="#3c93b8"/><stop offset=".786" stop-color="#5fbaa8"/><stop offset=".791" stop-color="#6fc6a5"/><stop offset=".832" stop-color="#70c6a5"/><stop offset=".843" stop-color="#79c9a5"/><stop offset=".848" stop-color="#97d6a1"/><stop offset=".853" stop-color="#9dd8ad"/><stop offset=".858" stop-color="#9ccf9e"/><stop offset=".863" stop-color="#bcd092"/><stop offset=".869" stop-color="#ccd092"/><stop offset=".874" stop-color="#cdca8d"/><stop offset=".879" stop-color="#dbc782"/><stop offset=".884" stop-color="#f9cb7c"/><stop offset=".889" stop-color="#fec77c"/><stop offset=".894" stop-color="#fdbf70"/><stop offset=".905" stop-color="#fdb466"/><stop offset=".977" stop-color="#fdbb6c"/><stop offset="1" stop-color="#fdb567"/></linearGradient><linearGradient id="hc35"><stop offset="0" stop-color="#3d92b8"/><stop offset=".111" stop-color="#3789ba"/><stop offset=".137" stop-color="#3990ba"/><stop offset=".152" stop-color="#388aba"/><stop offset=".214" stop-color="#398eba"/><stop offset=".224" stop-color="#3886ba"/><stop offset=".307" stop-color="#3b90b9"/><stop offset=".338" stop-color="#3688bb"/><stop offset=".353" stop-color="#398eba"/><stop offset=".466" stop-color="#3888ba"/><stop offset=".492" stop-color="#3b7cb7"/><stop offset=".528" stop-color="#5062ab"/><stop offset=".554" stop-color="#555ba8"/><stop offset=".59" stop-color="#5061aa"/><stop offset=".668" stop-color="#555ba8"/><stop offset=".683" stop-color="#5061aa"/><stop offset=".698" stop-color="#555aa7"/><stop offset=".75" stop-color="#555aa7"/><stop offset=".771" stop-color="#4e63ac"/><stop offset=".776" stop-color="#4076b4"/><stop offset=".781" stop-color="#3d95b8"/><stop offset=".786" stop-color="#5fbaa8"/><stop offset=".791" stop-color="#74c7a5"/><stop offset=".796" stop-color="#77c9a5"/><stop offset=".812" stop-color="#6fc6a5"/><stop offset=".838" stop-color="#78c9a5"/><stop offset=".874" stop-color="#71c6a5"/><stop offset=".879" stop-color="#82cda5"/><stop offset=".884" stop-color="#9ed8a6"/><stop offset=".889" stop-color="#a0d6a8"/><stop offset=".894" stop-color="#a3cf9c"/><stop offset=".899" stop-color="#c6d490"/><stop offset=".905" stop-color="#cfd499"/><stop offset=".915" stop-color="#cfc584"/><stop offset=".92" stop-color="#f8cf7f"/><stop offset=".925" stop-color="#fec97c"/><stop offset=".936" stop-color="#fdbb6c"/><stop offset=".977" stop-color="#fdc171"/><stop offset="1" stop-color="#fdbc6d"/></linearGradient><linearGradient id="hc36"><stop offset="0" stop-color="#3787ba"/><stop offset=".049" stop-color="#3781ba"/><stop offset=".08" stop-color="#3886ba"/><stop offset=".101" stop-color="#397fb9"/><stop offset=".198" stop-color="#3585bb"/><stop offset=".255" stop-color="#3a7db8"/><stop offset=".265" stop-color="#3585bb"/><stop offset=".384" stop-color="#3683ba"/><stop offset=".441" stop-color="#3e78b5"/><stop offset=".456" stop-color="#3781ba"/><stop offset=".487" stop-color="#3e78b5"/><stop offset=".508" stop-color="#4d65ad"/><stop offset=".534" stop-color="#545ca8"/><stop offset=".626" stop-color="#5062ab"/><stop offset=".647" stop-color="#5758a6"/><stop offset=".678" stop-color="#5061aa"/><stop offset=".714" stop-color="#5857a6"/><stop offset=".735" stop-color="#515faa"/><stop offset=".771" stop-color="#525ea9"/><stop offset=".776" stop-color="#4372b3"/><stop offset=".781" stop-color="#3c93b8"/><stop offset=".786" stop-color="#5eb9a9"/><stop offset=".791" stop-color="#76c8a5"/><stop offset=".796" stop-color="#7bcaa5"/><stop offset=".812" stop-color="#6fc6a5"/><stop offset=".848" stop-color="#78c9a5"/><stop offset=".869" stop-color="#6fc6a5"/><stop offset=".905" stop-color="#72c7a5"/><stop offset=".91" stop-color="#8dd1a2"/><stop offset=".915" stop-color="#9cd8ac"/><stop offset=".92" stop-color="#c4dfa2"/><stop offset=".93" stop-color="#cac486"/><stop offset=".936" stop-color="#fad384"/><stop offset=".941" stop-color="#fed78c"/><stop offset="1" stop-color="#fed58a"/></linearGradient><linearGradient id="hc37"><stop offset="0" stop-color="#4199b6"/><stop offset=".039" stop-color="#4098b7"/><stop offset=".07" stop-color="#388dba"/><stop offset=".085" stop-color="#3c93b8"/><stop offset=".101" stop-color="#368abb"/><stop offset=".111" stop-color="#3b92b9"/><stop offset=".126" stop-color="#368bbb"/><stop offset=".229" stop-color="#3990ba"/><stop offset=".245" stop-color="#3584bb"/><stop offset=".265" stop-color="#388eba"/><stop offset=".317" stop-color="#3a91b9"/><stop offset=".461" stop-color="#3387bc"/><stop offset=".497" stop-color="#3882b9"/><stop offset=".508" stop-color="#4274b3"/><stop offset=".544" stop-color="#515faa"/><stop offset=".575" stop-color="#5759a7"/><stop offset=".59" stop-color="#525fa9"/><stop offset=".637" stop-color="#5758a6"/><stop offset=".678" stop-color="#535da9"/><stop offset=".688" stop-color="#5857a6"/><stop offset=".704" stop-color="#525ea9"/><stop offset=".724" stop-color="#5856a6"/><stop offset=".735" stop-color="#515faa"/><stop offset=".771" stop-color="#525fa9"/><stop offset=".776" stop-color="#4471b2"/><stop offset=".781" stop-color="#3a91b9"/><stop offset=".786" stop-color="#5fbaa8"/><stop offset=".791" stop-color="#73c7a5"/><stop offset=".848" stop-color="#78c9a5"/><stop offset=".869" stop-color="#6dc5a5"/><stop offset=".874" stop-color="#8bd0a3"/><stop offset=".879" stop-color="#9ad7a9"/><stop offset=".889" stop-color="#a9d09a"/><stop offset=".894" stop-color="#c8d492"/><stop offset=".899" stop-color="#cbd197"/><stop offset=".905" stop-color="#ceca89"/><stop offset=".91" stop-color="#efcd7d"/><stop offset=".915" stop-color="#fdce83"/><stop offset=".925" stop-color="#fdbd6d"/><stop offset=".936" stop-color="#fdb466"/><stop offset=".966" stop-color="#fdba6b"/><stop offset="1" stop-color="#fdb668"/></linearGradient><linearGradient id="hc38"><stop offset="0" stop-color="#4da6b1"/><stop offset=".106" stop-color="#3a91b9"/><stop offset=".116" stop-color="#3e95b8"/><stop offset=".126" stop-color="#378ebb"/><stop offset=".235" stop-color="#4098b7"/><stop offset=".245" stop-color="#378dbb"/><stop offset=".307" stop-color="#3c93b8"/><stop offset=".327" stop-color="#378ebb"/><stop offset=".358" stop-color="#3e95b8"/><stop offset=".379" stop-color="#388eba"/><stop offset=".451" stop-color="#3a91b9"/><stop offset=".487" stop-color="#3388bc"/><stop offset=".503" stop-color="#368dbb"/><stop offset=".508" stop-color="#3585bb"/><stop offset=".528" stop-color="#3981b9"/><stop offset=".539" stop-color="#4174b4"/><stop offset=".575" stop-color="#525fa9"/><stop offset=".631" stop-color="#5857a6"/><stop offset=".652" stop-color="#525fa9"/><stop offset=".698" stop-color="#5758a6"/><stop offset=".709" stop-color="#5061aa"/><stop offset=".724" stop-color="#5759a7"/><stop offset=".745" stop-color="#5061aa"/><stop offset=".765" stop-color="#545ca8"/><stop offset=".771" stop-color="#5160aa"/><stop offset=".776" stop-color="#4372b3"/><stop offset=".781" stop-color="#3d95b8"/><stop offset=".786" stop-color="#62bda7"/><stop offset=".791" stop-color="#6fc6a5"/><stop offset=".807" stop-color="#78c9a5"/><stop offset=".832" stop-color="#72c7a5"/><stop offset=".838" stop-color="#7dcba5"/><stop offset=".843" stop-color="#9fd9a7"/><stop offset=".848" stop-color="#a0d4a6"/><stop offset=".853" stop-color="#a5ce99"/><stop offset=".858" stop-color="#c8d18d"/><stop offset=".863" stop-color="#cece95"/><stop offset=".869" stop-color="#ccc588"/><stop offset=".874" stop-color="#e8c77c"/><stop offset=".879" stop-color="#fac57b"/><stop offset=".899" stop-color="#fdaf63"/><stop offset="1" stop-color="#fdb668"/></linearGradient><linearGradient id="hc39"><stop offset="0" stop-color="#53adae"/><stop offset=".173" stop-color="#388fba"/><stop offset=".229" stop-color="#3f97b7"/><stop offset=".25" stop-color="#388fba"/><stop offset=".265" stop-color="#3e95b8"/><stop offset=".296" stop-color="#388fba"/><stop offset=".425" stop-color="#3c93b8"/><stop offset=".487" stop-color="#3389bd"/><stop offset=".528" stop-color="#368dbb"/><stop offset=".57" stop-color="#3e79b6"/><stop offset=".601" stop-color="#545ca8"/><stop offset=".631" stop-color="#5856a6"/><stop offset=".652" stop-color="#5062ab"/><stop offset=".698" stop-color="#5b53a4"/><stop offset=".714" stop-color="#545ca8"/><stop offset=".75" stop-color="#515faa"/><stop offset=".76" stop-color="#5759a7"/><stop offset=".771" stop-color="#525ea9"/><stop offset=".776" stop-color="#4274b3"/><stop offset=".781" stop-color="#479fb3"/><stop offset=".786" stop-color="#64c0a6"/><stop offset=".791" stop-color="#70c6a5"/><stop offset=".812" stop-color="#6dc2a6"/><stop offset=".817" stop-color="#9dd7ab"/><stop offset=".822" stop-color="#98b08c"/><stop offset=".827" stop-color="#bab984"/><stop offset=".838" stop-color="#d6ae74"/><stop offset=".843" stop-color="#f6b06f"/><stop offset=".863" stop-color="#f88c51"/><stop offset=".889" stop-color="#f99254"/><stop offset=".925" stop-color="#fdab60"/><stop offset="1" stop-color="#fdba6b"/></linearGradient><linearGradient id="hc40"><stop offset="0" stop-color="#5bb6aa"/><stop offset=".173" stop-color="#388fba"/><stop offset=".188" stop-color="#3f96b7"/><stop offset=".25" stop-color="#388eba"/><stop offset=".26" stop-color="#3f96b7"/><stop offset=".281" stop-color="#388eba"/><stop offset=".363" stop-color="#3e95b8"/><stop offset=".384" stop-color="#378ebb"/><stop offset=".436" stop-color="#3b92b9"/><stop offset=".508" stop-color="#3389bd"/><stop offset=".534" stop-color="#388fba"/><stop offset=".549" stop-color="#3387bc"/><stop offset=".57" stop-color="#378abb"/><stop offset=".59" stop-color="#3c7bb7"/><stop offset=".606" stop-color="#4a69ae"/><stop offset=".631" stop-color="#555ba8"/><stop offset=".647" stop-color="#5061aa"/><stop offset=".765" stop-color="#5759a7"/><stop offset=".771" stop-color="#545ca8"/><stop offset=".776" stop-color="#4175b4"/><stop offset=".781" stop-color="#4ba4b2"/><stop offset=".786" stop-color="#56b1ac"/><stop offset=".791" stop-color="#80c8a6"/><stop offset=".796" stop-color="#8c9989"/><stop offset=".802" stop-color="#949e87"/><stop offset=".807" stop-color="#bc8c70"/><stop offset=".812" stop-color="#b5736a"/><stop offset=".817" stop-color="#eb8a6f"/><stop offset=".822" stop-color="#e9674e"/><stop offset=".832" stop-color="#e85f4a"/><stop offset=".869" stop-color="#f57748"/><stop offset=".894" stop-color="#fa9b58"/><stop offset=".925" stop-color="#fdb164"/><stop offset="1" stop-color="#fdba6b"/></linearGradient><linearGradient id="hc41"><stop offset="0" stop-color="#60bba8"/><stop offset=".07" stop-color="#58b2ac"/><stop offset=".08" stop-color="#50aaaf"/><stop offset=".168" stop-color="#3d94b8"/><stop offset=".322" stop-color="#388fba"/><stop offset=".343" stop-color="#3f97b7"/><stop offset=".374" stop-color="#378ebb"/><stop offset=".456" stop-color="#3a91b9"/><stop offset=".518" stop-color="#3387bc"/><stop offset=".57" stop-color="#378ebb"/><stop offset=".601" stop-color="#3685bb"/><stop offset=".631" stop-color="#4b68ae"/><stop offset=".668" stop-color="#5659a7"/><stop offset=".693" stop-color="#5160aa"/><stop offset=".729" stop-color="#5857a6"/><stop offset=".75" stop-color="#555ba8"/><stop offset=".76" stop-color="#4b68ae"/><stop offset=".765" stop-color="#4c78ae"/><stop offset=".771" stop-color="#518bad"/><stop offset=".776" stop-color="#82b3b5"/><stop offset=".781" stop-color="#bab991"/><stop offset=".786" stop-color="#bb816a"/><stop offset=".791" stop-color="#de8e64"/><stop offset=".796" stop-color="#ea5e47"/><stop offset=".807" stop-color="#db474d"/><stop offset=".822" stop-color="#dd4a4c"/><stop offset=".843" stop-color="#f17049"/><stop offset=".863" stop-color="#fa9756"/><stop offset=".894" stop-color="#fdb365"/><stop offset=".941" stop-color="#fdb769"/><stop offset=".961" stop-color="#fdb063"/><stop offset="1" stop-color="#fdb768"/></linearGradient><linearGradient id="hc42"><stop offset="0" stop-color="#63bfa6"/><stop offset=".09" stop-color="#59b4ab"/><stop offset=".147" stop-color="#459db4"/><stop offset=".224" stop-color="#3a91b9"/><stop offset=".389" stop-color="#3d95b8"/><stop offset=".451" stop-color="#348bbc"/><stop offset=".503" stop-color="#388eba"/><stop offset=".518" stop-color="#3387bc"/><stop offset=".528" stop-color="#378ebb"/><stop offset=".539" stop-color="#3388bc"/><stop offset=".616" stop-color="#3589bc"/><stop offset=".668" stop-color="#5659a7"/><stop offset=".693" stop-color="#5061aa"/><stop offset=".729" stop-color="#5759a7"/><stop offset=".745" stop-color="#4e63ac"/><stop offset=".75" stop-color="#4c7aae"/><stop offset=".755" stop-color="#5a99af"/><stop offset=".76" stop-color="#75b6aa"/><stop offset=".765" stop-color="#a0d2b1"/><stop offset=".771" stop-color="#ccd99f"/><stop offset=".776" stop-color="#fbbd7a"/><stop offset=".781" stop-color="#f1774e"/><stop offset=".786" stop-color="#e4574a"/><stop offset=".791" stop-color="#dc494c"/><stop offset=".796" stop-color="#db474d"/><stop offset=".807" stop-color="#df4e4b"/><stop offset=".822" stop-color="#f1764d"/><stop offset=".832" stop-color="#f99959"/><stop offset=".853" stop-color="#fdb76a"/><stop offset=".951" stop-color="#fdaf62"/><stop offset="1" stop-color="#fdb466"/></linearGradient><linearGradient id="hc43"><stop offset="0" stop-color="#68c3a5"/><stop offset=".085" stop-color="#5fbaa8"/><stop offset=".147" stop-color="#4aa3b2"/><stop offset=".24" stop-color="#378ebb"/><stop offset=".343" stop-color="#3e95b8"/><stop offset=".369" stop-color="#368dbb"/><stop offset=".389" stop-color="#3f96b7"/><stop offset=".394" stop-color="#3990ba"/><stop offset=".43" stop-color="#3b92b9"/><stop offset=".482" stop-color="#3388bd"/><stop offset=".503" stop-color="#3990ba"/><stop offset=".518" stop-color="#3389bd"/><stop offset=".642" stop-color="#3587bb"/><stop offset=".683" stop-color="#4f62ab"/><stop offset=".709" stop-color="#555aa7"/><stop offset=".729" stop-color="#4e63ac"/><stop offset=".735" stop-color="#4570b2"/><stop offset=".74" stop-color="#4a87b0"/><stop offset=".745" stop-color="#63a7ad"/><stop offset=".75" stop-color="#94cda5"/><stop offset=".755" stop-color="#cae6a4"/><stop offset=".76" stop-color="#eadf96"/><stop offset=".765" stop-color="#fabb7c"/><stop offset=".771" stop-color="#ef855c"/><stop offset=".776" stop-color="#dd534c"/><stop offset=".781" stop-color="#d33e4c"/><stop offset=".791" stop-color="#e04f4a"/><stop offset=".802" stop-color="#f27a4f"/><stop offset=".817" stop-color="#fcb369"/><stop offset=".832" stop-color="#fece7c"/><stop offset=".853" stop-color="#fec877"/><stop offset=".869" stop-color="#fdb668"/><stop offset=".879" stop-color="#fdb96a"/><stop offset=".889" stop-color="#fdaf62"/><stop offset=".915" stop-color="#fdb466"/><stop offset=".946" stop-color="#fdad60"/><stop offset=".972" stop-color="#fdb163"/><stop offset=".982" stop-color="#fcaa5f"/><stop offset="1" stop-color="#fdaf62"/></linearGradient><linearGradient id="hc44"><stop offset="0" stop-color="#6dc5a5"/><stop offset=".008" stop-color="#74c7a5"/><stop offset=".023" stop-color="#69c3a5"/><stop offset=".085" stop-color="#65c1a5"/><stop offset=".245" stop-color="#388fba"/><stop offset=".26" stop-color="#3f96b7"/><stop offset=".271" stop-color="#388eba"/><stop offset=".338" stop-color="#3e95b8"/><stop offset=".389" stop-color="#3b92b9"/><stop offset=".394" stop-color="#358bbc"/><stop offset=".43" stop-color="#3a91b9"/><stop offset=".466" stop-color="#3489bc"/><stop offset=".544" stop-color="#368cbb"/><stop offset=".58" stop-color="#3386bc"/><stop offset=".626" stop-color="#378ebb"/><stop offset=".657" stop-color="#3387bc"/><stop offset=".662" stop-color="#3588bb"/><stop offset=".709" stop-color="#5160aa"/><stop offset=".719" stop-color="#4d65ad"/><stop offset=".724" stop-color="#4472b2"/><stop offset=".729" stop-color="#4b90b0"/><stop offset=".735" stop-color="#6bb3ad"/><stop offset=".74" stop-color="#a3d7a5"/><stop offset=".745" stop-color="#d5e69c"/><stop offset=".75" stop-color="#f3da8a"/><stop offset=".755" stop-color="#f7ad73"/><stop offset=".76" stop-color="#e66f54"/><stop offset=".765" stop-color="#d54248"/><stop offset=".771" stop-color="#c9314c"/><stop offset=".776" stop-color="#c9324b"/><stop offset=".781" stop-color="#db494a"/><stop offset=".791" stop-color="#f78c54"/><stop offset=".802" stop-color="#fdc677"/><stop offset=".817" stop-color="#fee190"/><stop offset=".853" stop-color="#fece7c"/><stop offset=".874" stop-color="#fdb365"/><stop offset=".915" stop-color="#fdb466"/><stop offset=".946" stop-color="#fdab60"/><stop offset=".987" stop-color="#fdaf62"/><stop offset="1" stop-color="#fca85e"/></linearGradient><linearGradient id="hc45"><stop offset="0" stop-color="#70c6a5"/><stop offset=".064" stop-color="#71c6a5"/><stop offset=".095" stop-color="#62bda7"/><stop offset=".131" stop-color="#61bca8"/><stop offset=".173" stop-color="#53adae"/><stop offset=".183" stop-color="#47a0b3"/><stop offset=".235" stop-color="#3d94b8"/><stop offset=".312" stop-color="#3d95b8"/><stop offset=".322" stop-color="#378ebb"/><stop offset=".358" stop-color="#3e95b8"/><stop offset=".466" stop-color="#358bbc"/><stop offset=".477" stop-color="#3b92b9"/><stop offset=".503" stop-color="#3489bc"/><stop offset=".554" stop-color="#3388bc"/><stop offset=".621" stop-color="#388eba"/><stop offset=".637" stop-color="#3486bc"/><stop offset=".683" stop-color="#3587bb"/><stop offset=".709" stop-color="#4077b5"/><stop offset=".719" stop-color="#5399af"/><stop offset=".724" stop-color="#6fb9ac"/><stop offset=".729" stop-color="#abdda3"/><stop offset=".735" stop-color="#dde99e"/><stop offset=".74" stop-color="#f6d484"/><stop offset=".745" stop-color="#f49f69"/><stop offset=".75" stop-color="#e16451"/><stop offset=".755" stop-color="#cc3749"/><stop offset=".76" stop-color="#c32a4b"/><stop offset=".765" stop-color="#ca334a"/><stop offset=".776" stop-color="#eb6b4d"/><stop offset=".781" stop-color="#f68f57"/><stop offset=".791" stop-color="#fece7d"/><stop offset=".802" stop-color="#fee696"/><stop offset=".817" stop-color="#feeb9d"/><stop offset=".838" stop-color="#fee18d"/><stop offset=".879" stop-color="#fdb063"/><stop offset="1" stop-color="#fca75e"/></linearGradient><linearGradient id="hc46"><stop offset="0" stop-color="#70c6a5"/><stop offset=".028" stop-color="#6bc4a5"/><stop offset=".064" stop-color="#73c7a5"/><stop offset=".131" stop-color="#65c0a6"/><stop offset=".214" stop-color="#459db4"/><stop offset=".265" stop-color="#3b92b9"/><stop offset=".302" stop-color="#4198b6"/><stop offset=".353" stop-color="#368dbb"/><stop offset=".374" stop-color="#3d95b8"/><stop offset=".42" stop-color="#358bbc"/><stop offset=".477" stop-color="#3b92b9"/><stop offset=".508" stop-color="#348abc"/><stop offset=".575" stop-color="#368cbb"/><stop offset=".585" stop-color="#3486bc"/><stop offset=".601" stop-color="#368cbb"/><stop offset=".688" stop-color="#348bbc"/><stop offset=".704" stop-color="#4095b6"/><stop offset=".709" stop-color="#57abb0"/><stop offset=".719" stop-color="#b5e1a3"/><stop offset=".724" stop-color="#e0ea9d"/><stop offset=".729" stop-color="#f7d786"/><stop offset=".735" stop-color="#f7a469"/><stop offset=".74" stop-color="#e76850"/><stop offset=".745" stop-color="#d03b4b"/><stop offset=".75" stop-color="#c62e4c"/><stop offset=".755" stop-color="#cb354a"/><stop offset=".765" stop-color="#ee704d"/><stop offset=".771" stop-color="#f89256"/><stop offset=".776" stop-color="#fcb86c"/><stop offset=".781" stop-color="#fed07e"/><stop offset=".786" stop-color="#fedf8d"/><stop offset=".796" stop-color="#feec9f"/><stop offset=".822" stop-color="#feefa5"/><stop offset=".843" stop-color="#fee28e"/><stop offset=".858" stop-color="#fec877"/><stop offset=".884" stop-color="#fdb062"/><stop offset=".941" stop-color="#fca55d"/><stop offset="1" stop-color="#fca85e"/></linearGradient><linearGradient id="hc47"><stop offset="0" stop-color="#6fc6a5"/><stop offset=".013" stop-color="#6bc4a5"/><stop offset=".039" stop-color="#74c7a5"/><stop offset=".07" stop-color="#73c7a5"/><stop offset=".152" stop-color="#65c0a6"/><stop offset=".235" stop-color="#449cb5"/><stop offset=".291" stop-color="#3a91b9"/><stop offset=".302" stop-color="#4198b6"/><stop offset=".322" stop-color="#3a91b9"/><stop offset=".348" stop-color="#3d95b8"/><stop offset=".358" stop-color="#368dbb"/><stop offset=".399" stop-color="#3d95b8"/><stop offset=".42" stop-color="#358bbc"/><stop offset=".436" stop-color="#3d95b8"/><stop offset=".451" stop-color="#368dbb"/><stop offset=".492" stop-color="#388fba"/><stop offset=".503" stop-color="#3387bc"/><stop offset=".534" stop-color="#368dbb"/><stop offset=".554" stop-color="#3485bc"/><stop offset=".575" stop-color="#378ebb"/><stop offset=".606" stop-color="#3488bc"/><stop offset=".621" stop-color="#3990ba"/><stop offset=".678" stop-color="#3388bd"/><stop offset=".688" stop-color="#3990ba"/><stop offset=".698" stop-color="#61b4ac"/><stop offset=".709" stop-color="#bae3a3"/><stop offset=".714" stop-color="#e3eb9e"/><stop offset=".719" stop-color="#f8d686"/><stop offset=".724" stop-color="#f7a569"/><stop offset=".729" stop-color="#e96c51"/><stop offset=".735" stop-color="#d6424b"/><stop offset=".74" stop-color="#d0394d"/><stop offset=".745" stop-color="#d6424b"/><stop offset=".755" stop-color="#f0744d"/><stop offset=".765" stop-color="#fcb66b"/><stop offset=".776" stop-color="#fee18f"/><stop offset=".796" stop-color="#fff3ac"/><stop offset=".817" stop-color="#fff3ac"/><stop offset=".838" stop-color="#fee999"/><stop offset=".874" stop-color="#fdb567"/><stop offset=".884" stop-color="#fdaf62"/><stop offset=".951" stop-color="#fba35c"/><stop offset="1" stop-color="#fca95f"/></linearGradient><linearGradient id="hc48"><stop offset="0" stop-color="#71c6a5"/><stop offset=".034" stop-color="#73c7a5"/><stop offset=".044" stop-color="#69c3a5"/><stop offset=".075" stop-color="#70c6a5"/><stop offset=".152" stop-color="#69c3a5"/><stop offset=".286" stop-color="#3a91b9"/><stop offset=".405" stop-color="#3d95b8"/><stop offset=".42" stop-color="#358bbc"/><stop offset=".461" stop-color="#3990ba"/><stop offset=".487" stop-color="#3488bc"/><stop offset=".518" stop-color="#388fba"/><stop offset=".544" stop-color="#3387bc"/><stop offset=".575" stop-color="#368cbb"/><stop offset=".601" stop-color="#3683bb"/><stop offset=".626" stop-color="#378ebb"/><stop offset=".678" stop-color="#368cbb"/><stop offset=".683" stop-color="#3e95b8"/><stop offset=".688" stop-color="#55adae"/><stop offset=".693" stop-color="#82caa6"/><stop offset=".698" stop-color="#bae3a2"/><stop offset=".704" stop-color="#e6eea1"/><stop offset=".709" stop-color="#f9d988"/><stop offset=".714" stop-color="#f9a868"/><stop offset=".719" stop-color="#ec7150"/><stop offset=".724" stop-color="#dc494c"/><stop offset=".729" stop-color="#d7414d"/><stop offset=".735" stop-color="#dc4a4a"/><stop offset=".745" stop-color="#f37e4f"/><stop offset=".755" stop-color="#fcb86c"/><stop offset=".76" stop-color="#fecd7b"/><stop offset=".771" stop-color="#fee492"/><stop offset=".796" stop-color="#fff9b5"/><stop offset=".812" stop-color="#fff9b5"/><stop offset=".832" stop-color="#fff1a7"/><stop offset=".848" stop-color="#fee08d"/><stop offset=".874" stop-color="#fdb264"/><stop offset=".905" stop-color="#fca75e"/><stop offset=".941" stop-color="#fdab60"/><stop offset=".951" stop-color="#fba25b"/><stop offset="1" stop-color="#fca65d"/></linearGradient><linearGradient id="hc49"><stop offset="0" stop-color="#71c6a5"/><stop offset=".044" stop-color="#6bc4a5"/><stop offset=".075" stop-color="#73c7a5"/><stop offset=".095" stop-color="#6bc4a5"/><stop offset=".147" stop-color="#70c6a5"/><stop offset=".183" stop-color="#67c2a5"/><stop offset=".219" stop-color="#55afad"/><stop offset=".235" stop-color="#56b0ad"/><stop offset=".245" stop-color="#4aa3b2"/><stop offset=".307" stop-color="#3a91b9"/><stop offset=".405" stop-color="#3d94b8"/><stop offset=".43" stop-color="#358bbc"/><stop offset=".477" stop-color="#3990ba"/><stop offset=".539" stop-color="#3387bc"/><stop offset=".57" stop-color="#378ebb"/><stop offset=".601" stop-color="#3683bb"/><stop offset=".616" stop-color="#358bbc"/><stop offset=".662" stop-color="#3388bc"/><stop offset=".673" stop-color="#3d94b8"/><stop offset=".678" stop-color="#4ca5b1"/><stop offset=".683" stop-color="#6ebdaa"/><stop offset=".688" stop-color="#a6dba1"/><stop offset=".693" stop-color="#ddf1a7"/><stop offset=".698" stop-color="#f8e797"/><stop offset=".704" stop-color="#fcba72"/><stop offset=".709" stop-color="#f38050"/><stop offset=".714" stop-color="#e85b48"/><stop offset=".719" stop-color="#e3534a"/><stop offset=".724" stop-color="#e65b4b"/><stop offset=".729" stop-color="#f0724d"/><stop offset=".745" stop-color="#fdbf71"/><stop offset=".75" stop-color="#fecf7d"/><stop offset=".776" stop-color="#fff1a8"/><stop offset=".802" stop-color="#fffdbb"/><stop offset=".822" stop-color="#fffcba"/><stop offset=".848" stop-color="#fee492"/><stop offset=".879" stop-color="#fdb062"/><stop offset=".894" stop-color="#fca85e"/><stop offset="1" stop-color="#fba25b"/></linearGradient><linearGradient id="hc50"><stop offset="0" stop-color="#74c8a5"/><stop offset=".049" stop-color="#6bc4a5"/><stop offset=".08" stop-color="#75c8a5"/><stop offset=".111" stop-color="#6cc4a5"/><stop offset=".183" stop-color="#6fc6a5"/><stop offset=".204" stop-color="#5eb9a9"/><stop offset=".224" stop-color="#5fbaa8"/><stop offset=".25" stop-color="#4ea7b0"/><stop offset=".276" stop-color="#4da6b1"/><stop offset=".286" stop-color="#449cb5"/><stop offset=".317" stop-color="#3d94b8"/><stop offset=".332" stop-color="#4098b7"/><stop offset=".348" stop-color="#388eba"/><stop offset=".389" stop-color="#3c93b8"/><stop offset=".43" stop-color="#348abc"/><stop offset=".446" stop-color="#3b92b9"/><stop offset=".513" stop-color="#348abc"/><stop offset=".57" stop-color="#3990ba"/><stop offset=".606" stop-color="#3584bb"/><stop offset=".626" stop-color="#388eba"/><stop offset=".652" stop-color="#368cbb"/><stop offset=".662" stop-color="#3c93b8"/><stop offset=".668" stop-color="#48a1b3"/><stop offset=".673" stop-color="#68b9ab"/><stop offset=".678" stop-color="#99d6a3"/><stop offset=".683" stop-color="#ceeba5"/><stop offset=".688" stop-color="#f1f0a1"/><stop offset=".693" stop-color="#fed88c"/><stop offset=".698" stop-color="#faa15f"/><stop offset=".704" stop-color="#f47348"/><stop offset=".709" stop-color="#ed6548"/><stop offset=".714" stop-color="#f0724b"/><stop offset=".729" stop-color="#fcb96d"/><stop offset=".74" stop-color="#fed683"/><stop offset=".755" stop-color="#fee28e"/><stop offset=".781" stop-color="#fefcba"/><stop offset=".827" stop-color="#fffcba"/><stop offset=".853" stop-color="#fedd89"/><stop offset=".874" stop-color="#fdb668"/><stop offset=".884" stop-color="#fcaa5f"/><stop offset=".966" stop-color="#fb9f5a"/><stop offset=".982" stop-color="#fca85e"/><stop offset="1" stop-color="#fb9f5a"/></linearGradient><linearGradient id="hc51"><stop offset="0" stop-color="#74c7a5"/><stop offset=".049" stop-color="#6bc4a5"/><stop offset=".101" stop-color="#74c7a5"/><stop offset=".111" stop-color="#6bc4a5"/><stop offset=".137" stop-color="#74c7a5"/><stop offset=".162" stop-color="#6bc4a5"/><stop offset=".178" stop-color="#77c9a5"/><stop offset=".204" stop-color="#65c0a6"/><stop offset=".271" stop-color="#54aead"/><stop offset=".286" stop-color="#47a0b3"/><stop offset=".327" stop-color="#3c93b8"/><stop offset=".57" stop-color="#378ebb"/><stop offset=".611" stop-color="#3485bc"/><stop offset=".642" stop-color="#348abc"/><stop offset=".652" stop-color="#3a91b9"/><stop offset=".657" stop-color="#49a2b2"/><stop offset=".662" stop-color="#65b8ab"/><stop offset=".673" stop-color="#c3e7a3"/><stop offset=".678" stop-color="#e9f1a4"/><stop offset=".683" stop-color="#fbe899"/><stop offset=".693" stop-color="#fca55d"/><stop offset=".698" stop-color="#f88c52"/><stop offset=".704" stop-color="#f88d53"/><stop offset=".719" stop-color="#fecc7b"/><stop offset=".724" stop-color="#feda88"/><stop offset=".755" stop-color="#fee696"/><stop offset=".771" stop-color="#fff9b5"/><stop offset=".776" stop-color="#fcfdb9"/><stop offset=".802" stop-color="#f7fcb3"/><stop offset=".827" stop-color="#fffebe"/><stop offset=".858" stop-color="#fed682"/><stop offset=".884" stop-color="#fdad60"/><stop offset=".93" stop-color="#fba25b"/><stop offset=".956" stop-color="#fca75e"/><stop offset="1" stop-color="#fb9f5a"/></linearGradient><linearGradient id="hc52"><stop offset="0" stop-color="#73c7a5"/><stop offset=".039" stop-color="#75c8a5"/><stop offset=".085" stop-color="#6bc4a5"/><stop offset=".101" stop-color="#73c7a5"/><stop offset=".116" stop-color="#6bc4a5"/><stop offset=".137" stop-color="#74c8a5"/><stop offset=".157" stop-color="#6ec5a5"/><stop offset=".178" stop-color="#74c7a5"/><stop offset=".224" stop-color="#68c2a5"/><stop offset=".255" stop-color="#5fbaa8"/><stop offset=".332" stop-color="#3c93b8"/><stop offset=".348" stop-color="#3f97b7"/><stop offset=".384" stop-color="#368dbb"/><stop offset=".415" stop-color="#3b92b9"/><stop offset=".436" stop-color="#368cbb"/><stop offset=".451" stop-color="#3d94b8"/><stop offset=".564" stop-color="#3486bc"/><stop offset=".59" stop-color="#368dbb"/><stop offset=".611" stop-color="#3387bc"/><stop offset=".642" stop-color="#348bbc"/><stop offset=".647" stop-color="#3a91b9"/><stop offset=".652" stop-color="#4ca5b1"/><stop offset=".657" stop-color="#7bc6a7"/><stop offset=".662" stop-color="#bae3a1"/><stop offset=".668" stop-color="#e5f4aa"/><stop offset=".673" stop-color="#f9f1a2"/><stop offset=".678" stop-color="#fedc8c"/><stop offset=".683" stop-color="#fdc373"/><stop offset=".688" stop-color="#fdb567"/><stop offset=".693" stop-color="#fdb66a"/><stop offset=".709" stop-color="#fedd8e"/><stop offset=".719" stop-color="#feeb9d"/><stop offset=".745" stop-color="#fee492"/><stop offset=".755" stop-color="#feeb9d"/><stop offset=".765" stop-color="#fffcb9"/><stop offset=".786" stop-color="#f1f9a9"/><stop offset=".812" stop-color="#f5fbb0"/><stop offset=".827" stop-color="#fdfebc"/><stop offset=".838" stop-color="#fff7b1"/><stop offset=".863" stop-color="#feca79"/><stop offset=".884" stop-color="#fdae61"/><stop offset=".93" stop-color="#fba35c"/><stop offset="1" stop-color="#fca55d"/></linearGradient><linearGradient id="hc53"><stop offset="0" stop-color="#75c8a5"/><stop offset=".085" stop-color="#6bc4a5"/><stop offset=".162" stop-color="#73c7a5"/><stop offset=".229" stop-color="#6cc4a5"/><stop offset=".286" stop-color="#58b2ac"/><stop offset=".307" stop-color="#49a2b2"/><stop offset=".317" stop-color="#4ca5b1"/><stop offset=".338" stop-color="#4198b6"/><stop offset=".379" stop-color="#378ebb"/><stop offset=".41" stop-color="#3d95b8"/><stop offset=".436" stop-color="#358bbc"/><stop offset=".451" stop-color="#3a91b9"/><stop offset=".508" stop-color="#348abc"/><stop offset=".631" stop-color="#358bbc"/><stop offset=".642" stop-color="#4199b6"/><stop offset=".647" stop-color="#5ab0ad"/><stop offset=".652" stop-color="#8ed0a4"/><stop offset=".657" stop-color="#cdeba1"/><stop offset=".662" stop-color="#f5f8ab"/><stop offset=".668" stop-color="#feefa4"/><stop offset=".673" stop-color="#fed987"/><stop offset=".678" stop-color="#feca78"/><stop offset=".683" stop-color="#fecc7a"/><stop offset=".698" stop-color="#fdefa4"/><stop offset=".709" stop-color="#fef8b3"/><stop offset=".714" stop-color="#fff8b4"/><stop offset=".74" stop-color="#fee491"/><stop offset=".765" stop-color="#fbfdb8"/><stop offset=".776" stop-color="#eef8a5"/><stop offset=".786" stop-color="#ebf7a0"/><stop offset=".802" stop-color="#f5fbaf"/><stop offset=".812" stop-color="#f2faab"/><stop offset=".832" stop-color="#fefebe"/><stop offset=".858" stop-color="#fed582"/><stop offset=".884" stop-color="#fdaf62"/><stop offset=".92" stop-color="#fca35c"/><stop offset=".972" stop-color="#fca65d"/><stop offset=".982" stop-color="#fb9e5a"/><stop offset="1" stop-color="#fdab60"/></linearGradient><linearGradient id="hc54"><stop offset="0" stop-color="#7acaa5"/><stop offset=".085" stop-color="#6cc4a5"/><stop offset=".198" stop-color="#73c7a5"/><stop offset=".214" stop-color="#6ac3a5"/><stop offset=".224" stop-color="#72c7a5"/><stop offset=".271" stop-color="#67c2a6"/><stop offset=".307" stop-color="#4ea7b0"/><stop offset=".317" stop-color="#52abae"/><stop offset=".343" stop-color="#4198b6"/><stop offset=".379" stop-color="#388eba"/><stop offset=".41" stop-color="#3d94b8"/><stop offset=".436" stop-color="#368dbb"/><stop offset=".472" stop-color="#3b92b9"/><stop offset=".482" stop-color="#368cbb"/><stop offset=".518" stop-color="#3a91b9"/><stop offset=".57" stop-color="#348abc"/><stop offset=".575" stop-color="#388fba"/><stop offset=".626" stop-color="#368cbb"/><stop offset=".631" stop-color="#388eba"/><stop offset=".637" stop-color="#469eb4"/><stop offset=".642" stop-color="#66baaa"/><stop offset=".652" stop-color="#dbf1a1"/><stop offset=".657" stop-color="#f7faaf"/><stop offset=".662" stop-color="#fff1a8"/><stop offset=".668" stop-color="#fee695"/><stop offset=".673" stop-color="#fee08f"/><stop offset=".688" stop-color="#faf7ae"/><stop offset=".698" stop-color="#f2faab"/><stop offset=".714" stop-color="#fffbb9"/><stop offset=".724" stop-color="#feeea2"/><stop offset=".735" stop-color="#fee696"/><stop offset=".75" stop-color="#feefa4"/><stop offset=".755" stop-color="#fff8b4"/><stop offset=".76" stop-color="#fbfdb8"/><stop offset=".771" stop-color="#ebf79f"/><stop offset=".786" stop-color="#e7f69a"/><stop offset=".802" stop-color="#f4fbae"/><stop offset=".822" stop-color="#f6fbb0"/><stop offset=".832" stop-color="#fffebd"/><stop offset=".853" stop-color="#fee390"/><stop offset=".879" stop-color="#fdb063"/><stop offset=".946" stop-color="#fba05b"/><stop offset=".966" stop-color="#fca85e"/><stop offset=".987" stop-color="#fba05b"/><stop offset="1" stop-color="#fdad60"/></linearGradient><linearGradient id="hc55"><stop offset="0" stop-color="#82cda5"/><stop offset=".039" stop-color="#7ecca5"/><stop offset=".059" stop-color="#6ec5a5"/><stop offset=".198" stop-color="#73c7a5"/><stop offset=".209" stop-color="#6bc4a5"/><stop offset=".25" stop-color="#74c7a5"/><stop offset=".286" stop-color="#64bfa6"/><stop offset=".379" stop-color="#378ebb"/><stop offset=".389" stop-color="#3d95b8"/><stop offset=".405" stop-color="#388eba"/><stop offset=".441" stop-color="#3d95b8"/><stop offset=".451" stop-color="#348bbc"/><stop offset=".461" stop-color="#3b92b9"/><stop offset=".611" stop-color="#348bbc"/><stop offset=".626" stop-color="#3d95b8"/><stop offset=".631" stop-color="#49a1b2"/><stop offset=".637" stop-color="#70c1a8"/><stop offset=".642" stop-color="#b2e0a0"/><stop offset=".647" stop-color="#e4f4a4"/><stop offset=".652" stop-color="#fafcb5"/><stop offset=".657" stop-color="#fff5ae"/><stop offset=".662" stop-color="#feefa4"/><stop offset=".668" stop-color="#feefa4"/><stop offset=".673" stop-color="#fef6af"/><stop offset=".678" stop-color="#f8fab0"/><stop offset=".693" stop-color="#e0f39b"/><stop offset=".698" stop-color="#e9f69c"/><stop offset=".709" stop-color="#fdfebc"/><stop offset=".724" stop-color="#feeb9d"/><stop offset=".735" stop-color="#fee696"/><stop offset=".755" stop-color="#fcfdba"/><stop offset=".765" stop-color="#e9f69d"/><stop offset=".776" stop-color="#e0f299"/><stop offset=".786" stop-color="#e6f599"/><stop offset=".802" stop-color="#f0f9a8"/><stop offset=".822" stop-color="#f5fbaf"/><stop offset=".832" stop-color="#fdfebc"/><stop offset=".838" stop-color="#fffab7"/><stop offset=".853" stop-color="#fee390"/><stop offset=".863" stop-color="#fec877"/><stop offset=".879" stop-color="#fdb062"/><stop offset=".946" stop-color="#fba35c"/><stop offset=".987" stop-color="#fba25b"/><stop offset="1" stop-color="#fca85e"/></linearGradient><linearGradient id="hc56"><stop offset="0" stop-color="#8fd2a4"/><stop offset=".013" stop-color="#8fd2a4"/><stop offset=".028" stop-color="#83cda5"/><stop offset=".044" stop-color="#86cea5"/><stop offset=".054" stop-color="#74c8a5"/><stop offset=".08" stop-color="#6fc6a5"/><stop offset=".101" stop-color="#74c7a5"/><stop offset=".142" stop-color="#6bc4a5"/><stop offset=".173" stop-color="#74c7a5"/><stop offset=".229" stop-color="#74c7a5"/><stop offset=".291" stop-color="#68c3a5"/><stop offset=".379" stop-color="#3b92b9"/><stop offset=".41" stop-color="#3f97b7"/><stop offset=".451" stop-color="#368dbb"/><stop offset=".606" stop-color="#348abc"/><stop offset=".621" stop-color="#449cb5"/><stop offset=".626" stop-color="#55afad"/><stop offset=".631" stop-color="#80c9a7"/><stop offset=".637" stop-color="#c0e69f"/><stop offset=".642" stop-color="#edf8a9"/><stop offset=".647" stop-color="#fbfdb8"/><stop offset=".652" stop-color="#fffab6"/><stop offset=".668" stop-color="#fcfbb7"/><stop offset=".673" stop-color="#f6fbb0"/><stop offset=".678" stop-color="#ebf7a0"/><stop offset=".688" stop-color="#d6ee9b"/><stop offset=".698" stop-color="#e9f69d"/><stop offset=".709" stop-color="#fffebd"/><stop offset=".719" stop-color="#feefa3"/><stop offset=".729" stop-color="#fee696"/><stop offset=".74" stop-color="#fee99a"/><stop offset=".745" stop-color="#feeea3"/><stop offset=".75" stop-color="#fffbb8"/><stop offset=".755" stop-color="#f7fcb3"/><stop offset=".76" stop-color="#ecf7a1"/><stop offset=".765" stop-color="#e0f299"/><stop offset=".776" stop-color="#d5ee9b"/><stop offset=".786" stop-color="#e2f399"/><stop offset=".796" stop-color="#edf8a3"/><stop offset=".822" stop-color="#f5fbaf"/><stop offset=".832" stop-color="#fefebd"/><stop offset=".853" stop-color="#fee390"/><stop offset=".863" stop-color="#fec877"/><stop offset=".879" stop-color="#fdab60"/><stop offset=".925" stop-color="#fca35c"/><stop offset=".946" stop-color="#fcaa5f"/><stop offset=".977" stop-color="#fba25b"/><stop offset="1" stop-color="#fca75e"/></linearGradient><linearGradient id="hc57"><stop offset="0" stop-color="#9ad6a4"/><stop offset=".049" stop-color="#89d0a4"/><stop offset=".085" stop-color="#6ec5a5"/><stop offset=".101" stop-color="#74c8a5"/><stop offset=".116" stop-color="#6bc4a5"/><stop offset=".126" stop-color="#74c7a5"/><stop offset=".142" stop-color="#6bc4a5"/><stop offset=".173" stop-color="#72c7a5"/><stop offset=".178" stop-color="#6cc4a5"/><stop offset=".219" stop-color="#75c8a5"/><stop offset=".245" stop-color="#6bc4a5"/><stop offset=".25" stop-color="#73c7a5"/><stop offset=".281" stop-color="#69c3a5"/><stop offset=".291" stop-color="#6cc4a5"/><stop offset=".312" stop-color="#61bda7"/><stop offset=".322" stop-color="#63bfa6"/><stop offset=".394" stop-color="#3a91b9"/><stop offset=".606" stop-color="#388eba"/><stop offset=".616" stop-color="#439bb5"/><stop offset=".621" stop-color="#5bb3ac"/><stop offset=".626" stop-color="#8fd2a4"/><stop offset=".631" stop-color="#cfeca1"/><stop offset=".637" stop-color="#f3faad"/><stop offset=".642" stop-color="#fdfdbb"/><stop offset=".662" stop-color="#fafdb8"/><stop offset=".678" stop-color="#e1f399"/><stop offset=".683" stop-color="#d5ee9b"/><stop offset=".693" stop-color="#e4f49b"/><stop offset=".704" stop-color="#fafdb7"/><stop offset=".729" stop-color="#fee593"/><stop offset=".74" stop-color="#feeb9d"/><stop offset=".75" stop-color="#fdfdba"/><stop offset=".76" stop-color="#e3f49a"/><stop offset=".771" stop-color="#ccea9d"/><stop offset=".786" stop-color="#e1f399"/><stop offset=".791" stop-color="#eaf79f"/><stop offset=".817" stop-color="#f1faaa"/><stop offset=".832" stop-color="#fefebd"/><stop offset=".838" stop-color="#fffab7"/><stop offset=".853" stop-color="#fee390"/><stop offset=".879" stop-color="#fdac60"/><stop offset=".925" stop-color="#fba35c"/><stop offset=".946" stop-color="#fdab60"/><stop offset=".982" stop-color="#fba05b"/><stop offset="1" stop-color="#fca55d"/></linearGradient><linearGradient id="hc58"><stop offset="0" stop-color="#a6dba4"/><stop offset=".039" stop-color="#9cd7a4"/><stop offset=".085" stop-color="#6ec5a5"/><stop offset=".121" stop-color="#74c7a5"/><stop offset=".198" stop-color="#6cc4a5"/><stop offset=".219" stop-color="#74c7a5"/><stop offset=".245" stop-color="#6cc4a5"/><stop offset=".286" stop-color="#74c7a5"/><stop offset=".322" stop-color="#65c1a5"/><stop offset=".399" stop-color="#3c93b8"/><stop offset=".503" stop-color="#368dbb"/><stop offset=".559" stop-color="#3a91b9"/><stop offset=".57" stop-color="#348abc"/><stop offset=".595" stop-color="#3b92b9"/><stop offset=".606" stop-color="#378ebb"/><stop offset=".611" stop-color="#3e95b8"/><stop offset=".616" stop-color="#5ab2ac"/><stop offset=".626" stop-color="#d5eea0"/><stop offset=".631" stop-color="#f5fbaf"/><stop offset=".637" stop-color="#fefebc"/><stop offset=".652" stop-color="#fefebc"/><stop offset=".673" stop-color="#e9f69c"/><stop offset=".683" stop-color="#def29a"/><stop offset=".688" stop-color="#e7f59c"/><stop offset=".704" stop-color="#fefebc"/><stop offset=".724" stop-color="#fee492"/><stop offset=".735" stop-color="#fee99a"/><stop offset=".745" stop-color="#fffab7"/><stop offset=".75" stop-color="#f5fbb0"/><stop offset=".755" stop-color="#eaf79e"/><stop offset=".765" stop-color="#c8e99e"/><stop offset=".771" stop-color="#c2e69f"/><stop offset=".786" stop-color="#e6f59a"/><stop offset=".791" stop-color="#edf8a3"/><stop offset=".817" stop-color="#f2faab"/><stop offset=".832" stop-color="#fdfebc"/><stop offset=".858" stop-color="#fed380"/><stop offset=".879" stop-color="#fdad61"/><stop offset=".951" stop-color="#fba15b"/><stop offset="1" stop-color="#fca55d"/></linearGradient><linearGradient id="hc59"><stop offset="0" stop-color="#b2e0a3"/><stop offset=".018" stop-color="#b3e0a2"/><stop offset=".028" stop-color="#a7dba4"/><stop offset=".049" stop-color="#9ed8a4"/><stop offset=".08" stop-color="#76c8a5"/><stop offset=".106" stop-color="#6cc4a5"/><stop offset=".121" stop-color="#73c7a5"/><stop offset=".178" stop-color="#6dc5a5"/><stop offset=".219" stop-color="#74c7a5"/><stop offset=".229" stop-color="#69c3a5"/><stop offset=".235" stop-color="#6fc6a5"/><stop offset=".271" stop-color="#6cc4a5"/><stop offset=".286" stop-color="#77c9a5"/><stop offset=".317" stop-color="#70c6a5"/><stop offset=".363" stop-color="#54aead"/><stop offset=".374" stop-color="#56b1ac"/><stop offset=".399" stop-color="#429ab6"/><stop offset=".43" stop-color="#3990ba"/><stop offset=".518" stop-color="#3d94b8"/><stop offset=".528" stop-color="#368dbb"/><stop offset=".559" stop-color="#3c93b8"/><stop offset=".58" stop-color="#368dbb"/><stop offset=".606" stop-color="#4198b6"/><stop offset=".611" stop-color="#5ab1ad"/><stop offset=".621" stop-color="#d9f09f"/><stop offset=".626" stop-color="#f6fbb1"/><stop offset=".631" stop-color="#fefdbc"/><stop offset=".652" stop-color="#fafdb7"/><stop offset=".668" stop-color="#ebf7a0"/><stop offset=".678" stop-color="#e7f59b"/><stop offset=".688" stop-color="#eef8a5"/><stop offset=".698" stop-color="#fdfebb"/><stop offset=".724" stop-color="#fee390"/><stop offset=".735" stop-color="#feea9c"/><stop offset=".745" stop-color="#fdfebb"/><stop offset=".755" stop-color="#dff299"/><stop offset=".76" stop-color="#caea9e"/><stop offset=".765" stop-color="#bfe5a0"/><stop offset=".771" stop-color="#bfe5a0"/><stop offset=".786" stop-color="#e8f69c"/><stop offset=".791" stop-color="#eff9a6"/><stop offset=".812" stop-color="#f1f9a9"/><stop offset=".832" stop-color="#fefdbc"/><stop offset=".848" stop-color="#fee696"/><stop offset=".858" stop-color="#fece7c"/><stop offset=".879" stop-color="#fdac60"/><stop offset="1" stop-color="#fca55d"/></linearGradient><linearGradient id="hc60"><stop offset="0" stop-color="#bde4a0"/><stop offset=".013" stop-color="#bfe5a0"/><stop offset=".044" stop-color="#aedea3"/><stop offset=".075" stop-color="#82cda5"/><stop offset=".106" stop-color="#70c6a5"/><stop offset=".168" stop-color="#73c7a5"/><stop offset=".178" stop-color="#6bc4a5"/><stop offset=".198" stop-color="#74c8a5"/><stop offset=".209" stop-color="#6bc4a5"/><stop offset=".214" stop-color="#73c7a5"/><stop offset=".229" stop-color="#6bc4a5"/><stop offset=".235" stop-color="#72c7a5"/><stop offset=".265" stop-color="#6bc4a5"/><stop offset=".307" stop-color="#72c7a5"/><stop offset=".353" stop-color="#63bea7"/><stop offset=".436" stop-color="#3a91b9"/><stop offset=".456" stop-color="#368cbb"/><stop offset=".477" stop-color="#3e95b8"/><stop offset=".523" stop-color="#348bbc"/><stop offset=".559" stop-color="#3d94b8"/><stop offset=".585" stop-color="#388fba"/><stop offset=".601" stop-color="#479fb3"/><stop offset=".606" stop-color="#5fb6ab"/><stop offset=".616" stop-color="#d9f0a0"/><stop offset=".621" stop-color="#f6fcb1"/><stop offset=".626" stop-color="#fefdbc"/><stop offset=".642" stop-color="#fdfebc"/><stop offset=".668" stop-color="#ecf7a1"/><stop offset=".683" stop-color="#eff9a6"/><stop offset=".698" stop-color="#fffdbb"/><stop offset=".714" stop-color="#fee695"/><stop offset=".719" stop-color="#fee390"/><stop offset=".735" stop-color="#feea9b"/><stop offset=".74" stop-color="#fff7b1"/><stop offset=".745" stop-color="#f7fcb3"/><stop offset=".75" stop-color="#eaf69e"/><stop offset=".76" stop-color="#c2e69f"/><stop offset=".765" stop-color="#b9e3a1"/><stop offset=".776" stop-color="#c7e89e"/><stop offset=".786" stop-color="#e8f69b"/><stop offset=".791" stop-color="#eef8a5"/><stop offset=".812" stop-color="#f2faaa"/><stop offset=".832" stop-color="#fefdbb"/><stop offset=".853" stop-color="#fed985"/><stop offset=".879" stop-color="#fdad60"/><stop offset=".92" stop-color="#fca85e"/><stop offset=".93" stop-color="#fdad61"/><stop offset=".941" stop-color="#fca65d"/><stop offset=".987" stop-color="#fba05b"/><stop offset="1" stop-color="#fca55d"/></linearGradient><linearGradient id="hc61"><stop offset="0" stop-color="#d0ec9d"/><stop offset=".044" stop-color="#bbe3a1"/><stop offset=".09" stop-color="#7acaa5"/><stop offset=".106" stop-color="#71c6a5"/><stop offset=".142" stop-color="#70c6a5"/><stop offset=".157" stop-color="#77c9a5"/><stop offset=".178" stop-color="#6cc4a5"/><stop offset=".214" stop-color="#74c7a5"/><stop offset=".26" stop-color="#6cc4a5"/><stop offset=".291" stop-color="#76c8a5"/><stop offset=".358" stop-color="#68c3a5"/><stop offset=".446" stop-color="#3b92b9"/><stop offset=".482" stop-color="#388eba"/><stop offset=".508" stop-color="#3d95b8"/><stop offset=".518" stop-color="#368dbb"/><stop offset=".539" stop-color="#3f96b7"/><stop offset=".549" stop-color="#388eba"/><stop offset=".59" stop-color="#3a91b9"/><stop offset=".595" stop-color="#469eb4"/><stop offset=".601" stop-color="#63baa9"/><stop offset=".611" stop-color="#daf0a0"/><stop offset=".616" stop-color="#f8fcb3"/><stop offset=".621" stop-color="#fffcb9"/><stop offset=".631" stop-color="#fffdbc"/><stop offset=".662" stop-color="#eef8a5"/><stop offset=".678" stop-color="#eff9a7"/><stop offset=".693" stop-color="#fefdba"/><stop offset=".709" stop-color="#fee797"/><stop offset=".719" stop-color="#fee28e"/><stop offset=".735" stop-color="#feec9f"/><stop offset=".74" stop-color="#fffbb8"/><stop offset=".75" stop-color="#e3f49a"/><stop offset=".76" stop-color="#b9e3a1"/><stop offset=".765" stop-color="#b6e2a2"/><stop offset=".786" stop-color="#e8f69c"/><stop offset=".832" stop-color="#fefcb9"/><stop offset=".848" stop-color="#fee18c"/><stop offset=".874" stop-color="#fdae61"/><stop offset=".905" stop-color="#fdaf62"/><stop offset=".92" stop-color="#fca45c"/><stop offset=".93" stop-color="#fdac60"/><stop offset=".966" stop-color="#fba25b"/><stop offset="1" stop-color="#fba35c"/></linearGradient><linearGradient id="hc62"><stop offset="0" stop-color="#dbf19a"/><stop offset=".039" stop-color="#c6e89e"/><stop offset=".09" stop-color="#81cda5"/><stop offset=".111" stop-color="#71c6a5"/><stop offset=".126" stop-color="#76c8a5"/><stop offset=".198" stop-color="#6dc5a5"/><stop offset=".25" stop-color="#75c8a5"/><stop offset=".265" stop-color="#6fc6a5"/><stop offset=".286" stop-color="#77c9a5"/><stop offset=".312" stop-color="#6dc5a5"/><stop offset=".353" stop-color="#6cc4a5"/><stop offset=".363" stop-color="#63bea7"/><stop offset=".374" stop-color="#66c2a5"/><stop offset=".425" stop-color="#47a0b3"/><stop offset=".472" stop-color="#388fba"/><stop offset=".539" stop-color="#3d95b8"/><stop offset=".57" stop-color="#388eba"/><stop offset=".59" stop-color="#459eb4"/><stop offset=".595" stop-color="#62b8aa"/><stop offset=".606" stop-color="#d8efa1"/><stop offset=".611" stop-color="#f6fcb1"/><stop offset=".616" stop-color="#fffcba"/><stop offset=".631" stop-color="#fcfeba"/><stop offset=".642" stop-color="#f4fbae"/><stop offset=".662" stop-color="#eff9a6"/><stop offset=".678" stop-color="#f2faaa"/><stop offset=".688" stop-color="#fffebd"/><stop offset=".704" stop-color="#fee695"/><stop offset=".719" stop-color="#fede89"/><stop offset=".729" stop-color="#fee797"/><stop offset=".74" stop-color="#fcfdb9"/><stop offset=".75" stop-color="#ddf19a"/><stop offset=".76" stop-color="#b9e3a1"/><stop offset=".765" stop-color="#b9e3a1"/><stop offset=".781" stop-color="#e1f399"/><stop offset=".786" stop-color="#eaf69e"/><stop offset=".812" stop-color="#f2faaa"/><stop offset=".827" stop-color="#feffbe"/><stop offset=".848" stop-color="#fede89"/><stop offset=".874" stop-color="#fdab60"/><stop offset=".905" stop-color="#fdaf62"/><stop offset=".925" stop-color="#fca55d"/><stop offset=".961" stop-color="#fcaa5f"/><stop offset="1" stop-color="#fb9e5a"/></linearGradient><linearGradient id="hc63"><stop offset="0" stop-color="#e4f498"/><stop offset=".018" stop-color="#e2f399"/><stop offset=".034" stop-color="#d3ed9c"/><stop offset=".064" stop-color="#b1dfa3"/><stop offset=".09" stop-color="#81cda5"/><stop offset=".121" stop-color="#6dc5a5"/><stop offset=".162" stop-color="#73c7a5"/><stop offset=".193" stop-color="#6ac3a5"/><stop offset=".209" stop-color="#73c7a5"/><stop offset=".235" stop-color="#6cc4a5"/><stop offset=".25" stop-color="#74c7a5"/><stop offset=".26" stop-color="#6dc5a5"/><stop offset=".296" stop-color="#74c7a5"/><stop offset=".312" stop-color="#6bc4a5"/><stop offset=".327" stop-color="#71c6a5"/><stop offset=".379" stop-color="#68c3a5"/><stop offset=".451" stop-color="#429ab6"/><stop offset=".544" stop-color="#388eba"/><stop offset=".57" stop-color="#3b92b9"/><stop offset=".585" stop-color="#49a1b2"/><stop offset=".59" stop-color="#64bba9"/><stop offset=".601" stop-color="#def2a0"/><stop offset=".606" stop-color="#f8fcb3"/><stop offset=".611" stop-color="#fffab7"/><stop offset=".616" stop-color="#fff8b2"/><stop offset=".626" stop-color="#fdfebb"/><stop offset=".637" stop-color="#f3faad"/><stop offset=".652" stop-color="#eff9a6"/><stop offset=".668" stop-color="#f1f9a9"/><stop offset=".683" stop-color="#fdfdba"/><stop offset=".688" stop-color="#fff9b4"/><stop offset=".704" stop-color="#fede8a"/><stop offset=".714" stop-color="#fed682"/><stop offset=".724" stop-color="#fee18c"/><stop offset=".735" stop-color="#fff5af"/><stop offset=".74" stop-color="#f8fcb5"/><stop offset=".745" stop-color="#eaf69e"/><stop offset=".755" stop-color="#c5e89f"/><stop offset=".76" stop-color="#bbe3a1"/><stop offset=".765" stop-color="#bce4a0"/><stop offset=".781" stop-color="#e5f599"/><stop offset=".786" stop-color="#ecf7a1"/><stop offset=".812" stop-color="#f2faab"/><stop offset=".827" stop-color="#fffebd"/><stop offset=".843" stop-color="#fee593"/><stop offset=".869" stop-color="#fdb163"/><stop offset="1" stop-color="#fb9f5a"/></linearGradient><linearGradient id="hc64"><stop offset="0" stop-color="#e8f69c"/><stop offset=".034" stop-color="#def29a"/><stop offset=".075" stop-color="#aadda4"/><stop offset=".09" stop-color="#86cea5"/><stop offset=".121" stop-color="#6cc4a5"/><stop offset=".162" stop-color="#73c7a5"/><stop offset=".193" stop-color="#6cc4a5"/><stop offset=".219" stop-color="#74c7a5"/><stop offset=".235" stop-color="#6ac3a5"/><stop offset=".302" stop-color="#79c9a5"/><stop offset=".312" stop-color="#6ec5a5"/><stop offset=".353" stop-color="#73c7a5"/><stop offset=".41" stop-color="#61bca8"/><stop offset=".425" stop-color="#52abae"/><stop offset=".477" stop-color="#4098b7"/><stop offset=".528" stop-color="#3e95b8"/><stop offset=".539" stop-color="#388eba"/><stop offset=".57" stop-color="#3f97b7"/><stop offset=".58" stop-color="#4ba4b1"/><stop offset=".585" stop-color="#66bba9"/><stop offset=".595" stop-color="#def2a1"/><stop offset=".601" stop-color="#f9fbb3"/><stop offset=".606" stop-color="#fffab7"/><stop offset=".616" stop-color="#fff8b2"/><stop offset=".621" stop-color="#fefebc"/><stop offset=".637" stop-color="#f1f9a9"/><stop offset=".657" stop-color="#eff9a6"/><stop offset=".678" stop-color="#fcfebb"/><stop offset=".683" stop-color="#fff9b5"/><stop offset=".698" stop-color="#fedc88"/><stop offset=".709" stop-color="#fecd7b"/><stop offset=".714" stop-color="#fecf7d"/><stop offset=".724" stop-color="#fee28e"/><stop offset=".729" stop-color="#feea9c"/><stop offset=".735" stop-color="#fff8b4"/><stop offset=".74" stop-color="#f4fbae"/><stop offset=".745" stop-color="#e4f499"/><stop offset=".75" stop-color="#d0ec9c"/><stop offset=".76" stop-color="#bce4a1"/><stop offset=".765" stop-color="#bfe5a0"/><stop offset=".781" stop-color="#e9f69d"/><stop offset=".812" stop-color="#f3faad"/><stop offset=".822" stop-color="#fdfebc"/><stop offset=".827" stop-color="#fffab7"/><stop offset=".848" stop-color="#fed481"/><stop offset=".869" stop-color="#fdb062"/><stop offset=".941" stop-color="#fba25b"/><stop offset=".972" stop-color="#fca75e"/><stop offset="1" stop-color="#fb9d59"/></linearGradient><linearGradient id="hc65"><stop offset="0" stop-color="#eef8a5"/><stop offset=".039" stop-color="#e4f49a"/><stop offset=".08" stop-color="#a7dba4"/><stop offset=".09" stop-color="#90d3a4"/><stop offset=".111" stop-color="#78c9a5"/><stop offset=".126" stop-color="#72c7a5"/><stop offset=".142" stop-color="#72c7a5"/><stop offset=".147" stop-color="#79c9a5"/><stop offset=".204" stop-color="#70c6a5"/><stop offset=".219" stop-color="#79c9a5"/><stop offset=".229" stop-color="#73c7a5"/><stop offset=".302" stop-color="#7acaa5"/><stop offset=".327" stop-color="#73c7a5"/><stop offset=".353" stop-color="#7acaa5"/><stop offset=".369" stop-color="#70c6a5"/><stop offset=".384" stop-color="#77c9a5"/><stop offset=".415" stop-color="#64bfa7"/><stop offset=".482" stop-color="#3e95b8"/><stop offset=".508" stop-color="#3a91b9"/><stop offset=".523" stop-color="#3f97b7"/><stop offset=".534" stop-color="#388eba"/><stop offset=".554" stop-color="#3f97b7"/><stop offset=".564" stop-color="#3a91b9"/><stop offset=".575" stop-color="#4aa3b2"/><stop offset=".58" stop-color="#68bea8"/><stop offset=".59" stop-color="#dff2a0"/><stop offset=".595" stop-color="#f9fcb5"/><stop offset=".601" stop-color="#fff7b2"/><stop offset=".606" stop-color="#fff5ae"/><stop offset=".621" stop-color="#fcfeba"/><stop offset=".631" stop-color="#f1f9a9"/><stop offset=".647" stop-color="#eff9a6"/><stop offset=".678" stop-color="#fffab7"/><stop offset=".693" stop-color="#fede8a"/><stop offset=".709" stop-color="#fec877"/><stop offset=".714" stop-color="#fece7c"/><stop offset=".729" stop-color="#feeb9d"/><stop offset=".735" stop-color="#fffab7"/><stop offset=".745" stop-color="#e4f498"/><stop offset=".75" stop-color="#ceeb9d"/><stop offset=".76" stop-color="#bfe5a0"/><stop offset=".776" stop-color="#e7f59a"/><stop offset=".786" stop-color="#eef8a4"/><stop offset=".807" stop-color="#f2faaa"/><stop offset=".822" stop-color="#fefdbc"/><stop offset=".838" stop-color="#fee491"/><stop offset=".869" stop-color="#fdab60"/><stop offset=".93" stop-color="#fdab60"/><stop offset=".951" stop-color="#fba15b"/><stop offset=".972" stop-color="#fca75e"/><stop offset="1" stop-color="#fb9d59"/></linearGradient><linearGradient id="hc66"><stop offset="0" stop-color="#f2faab"/><stop offset=".044" stop-color="#e6f59a"/><stop offset=".111" stop-color="#7fcca5"/><stop offset=".131" stop-color="#79c9a5"/><stop offset=".147" stop-color="#80cca5"/><stop offset=".168" stop-color="#7acaa5"/><stop offset=".358" stop-color="#7ecca5"/><stop offset=".363" stop-color="#77c9a5"/><stop offset=".415" stop-color="#70c6a5"/><stop offset=".43" stop-color="#65c0a6"/><stop offset=".482" stop-color="#4198b6"/><stop offset=".539" stop-color="#3990ba"/><stop offset=".564" stop-color="#3a91b9"/><stop offset=".57" stop-color="#4199b6"/><stop offset=".575" stop-color="#5cb5ab"/><stop offset=".585" stop-color="#d9f09f"/><stop offset=".59" stop-color="#f7fcb3"/><stop offset=".595" stop-color="#fffab7"/><stop offset=".601" stop-color="#fff3ab"/><stop offset=".606" stop-color="#fff3ac"/><stop offset=".616" stop-color="#fefebd"/><stop offset=".637" stop-color="#f0f9a7"/><stop offset=".652" stop-color="#f1faaa"/><stop offset=".668" stop-color="#fdfdba"/><stop offset=".673" stop-color="#fff8b2"/><stop offset=".688" stop-color="#feda86"/><stop offset=".704" stop-color="#fdc473"/><stop offset=".709" stop-color="#fdc776"/><stop offset=".724" stop-color="#fee492"/><stop offset=".729" stop-color="#feec9f"/><stop offset=".735" stop-color="#fffcba"/><stop offset=".745" stop-color="#e1f399"/><stop offset=".75" stop-color="#ccea9d"/><stop offset=".76" stop-color="#c3e79f"/><stop offset=".776" stop-color="#e9f69d"/><stop offset=".802" stop-color="#f1faaa"/><stop offset=".817" stop-color="#fdfebc"/><stop offset=".822" stop-color="#fffab7"/><stop offset=".838" stop-color="#fee28e"/><stop offset=".863" stop-color="#fdb062"/><stop offset=".966" stop-color="#fca75e"/><stop offset="1" stop-color="#fa9c59"/></linearGradient><linearGradient id="hc67"><stop offset="0" stop-color="#f7fcb3"/><stop offset=".049" stop-color="#e7f599"/><stop offset=".116" stop-color="#86cea5"/><stop offset=".198" stop-color="#89d0a4"/><stop offset=".219" stop-color="#81cda5"/><stop offset=".26" stop-color="#8ad0a4"/><stop offset=".348" stop-color="#7dcba5"/><stop offset=".394" stop-color="#80cca5"/><stop offset=".436" stop-color="#6ac3a5"/><stop offset=".456" stop-color="#54aead"/><stop offset=".528" stop-color="#388fba"/><stop offset=".564" stop-color="#3f97b7"/><stop offset=".57" stop-color="#54aead"/><stop offset=".575" stop-color="#8cd1a4"/><stop offset=".58" stop-color="#cfeca0"/><stop offset=".585" stop-color="#f5fbaf"/><stop offset=".59" stop-color="#fffab6"/><stop offset=".601" stop-color="#fff1a8"/><stop offset=".611" stop-color="#fefebc"/><stop offset=".637" stop-color="#f0f9a8"/><stop offset=".662" stop-color="#fefdbb"/><stop offset=".683" stop-color="#fede8a"/><stop offset=".688" stop-color="#fecf7d"/><stop offset=".698" stop-color="#fdc171"/><stop offset=".709" stop-color="#fec978"/><stop offset=".724" stop-color="#fee492"/><stop offset=".729" stop-color="#feeea3"/><stop offset=".735" stop-color="#fffebd"/><stop offset=".745" stop-color="#e5f59b"/><stop offset=".75" stop-color="#d4ee9c"/><stop offset=".76" stop-color="#cdeb9d"/><stop offset=".771" stop-color="#e8f69b"/><stop offset=".776" stop-color="#edf8a2"/><stop offset=".796" stop-color="#f1f9a9"/><stop offset=".812" stop-color="#fdfebb"/><stop offset=".817" stop-color="#fffcba"/><stop offset=".832" stop-color="#fee898"/><stop offset=".853" stop-color="#fdbf70"/><stop offset=".869" stop-color="#fdae61"/><stop offset=".925" stop-color="#fca65d"/><stop offset=".946" stop-color="#fdab60"/><stop offset="1" stop-color="#fb9d59"/></linearGradient><linearGradient id="hc68"><stop offset="0" stop-color="#fef9b4"/><stop offset=".013" stop-color="#fdfdb9"/><stop offset=".059" stop-color="#e2f399"/><stop offset=".101" stop-color="#a3daa4"/><stop offset=".121" stop-color="#90d3a4"/><stop offset=".183" stop-color="#8fd2a4"/><stop offset=".204" stop-color="#96d5a4"/><stop offset=".219" stop-color="#8ad0a4"/><stop offset=".229" stop-color="#90d3a4"/><stop offset=".25" stop-color="#8cd1a4"/><stop offset=".26" stop-color="#95d4a4"/><stop offset=".281" stop-color="#8dd1a4"/><stop offset=".332" stop-color="#8fd2a4"/><stop offset=".384" stop-color="#82cda5"/><stop offset=".394" stop-color="#86cfa5"/><stop offset=".405" stop-color="#7acaa5"/><stop offset=".425" stop-color="#7dcba5"/><stop offset=".446" stop-color="#6bc4a5"/><stop offset=".482" stop-color="#4ea7b0"/><stop offset=".528" stop-color="#3b92b9"/><stop offset=".539" stop-color="#4198b6"/><stop offset=".554" stop-color="#3d95b8"/><stop offset=".559" stop-color="#4199b6"/><stop offset=".564" stop-color="#51aaaf"/><stop offset=".57" stop-color="#7fcba5"/><stop offset=".575" stop-color="#c9e99e"/><stop offset=".58" stop-color="#f2faab"/><stop offset=".585" stop-color="#fefab5"/><stop offset=".59" stop-color="#fff0a6"/><stop offset=".595" stop-color="#feefa5"/><stop offset=".611" stop-color="#fdfebc"/><stop offset=".631" stop-color="#f2faaa"/><stop offset=".657" stop-color="#fefcb8"/><stop offset=".673" stop-color="#fee695"/><stop offset=".693" stop-color="#fdbb6c"/><stop offset=".709" stop-color="#fec877"/><stop offset=".719" stop-color="#fedb87"/><stop offset=".724" stop-color="#fee492"/><stop offset=".735" stop-color="#feffbd"/><stop offset=".745" stop-color="#e9f69d"/><stop offset=".755" stop-color="#daf09a"/><stop offset=".776" stop-color="#eff9a7"/><stop offset=".812" stop-color="#fffdbb"/><stop offset=".838" stop-color="#fed884"/><stop offset=".858" stop-color="#fdb265"/><stop offset="1" stop-color="#fb9d59"/></linearGradient><linearGradient id="hc69"><stop offset="0" stop-color="#feeb9e"/><stop offset=".023" stop-color="#fcfeba"/><stop offset=".059" stop-color="#e4f498"/><stop offset=".101" stop-color="#acdda3"/><stop offset=".126" stop-color="#98d5a4"/><stop offset=".162" stop-color="#9bd7a4"/><stop offset=".183" stop-color="#95d4a4"/><stop offset=".204" stop-color="#a0d9a4"/><stop offset=".214" stop-color="#96d5a4"/><stop offset=".235" stop-color="#93d4a4"/><stop offset=".302" stop-color="#95d4a4"/><stop offset=".312" stop-color="#9cd7a4"/><stop offset=".327" stop-color="#94d4a4"/><stop offset=".348" stop-color="#98d5a4"/><stop offset=".405" stop-color="#82cda5"/><stop offset=".43" stop-color="#83cda5"/><stop offset=".461" stop-color="#68c3a5"/><stop offset=".487" stop-color="#50aaaf"/><stop offset=".544" stop-color="#3e95b8"/><stop offset=".554" stop-color="#4199b6"/><stop offset=".559" stop-color="#50aaaf"/><stop offset=".564" stop-color="#7bc9a6"/><stop offset=".57" stop-color="#c1e69f"/><stop offset=".575" stop-color="#f0f9a8"/><stop offset=".58" stop-color="#fdf8b2"/><stop offset=".585" stop-color="#feeea2"/><stop offset=".59" stop-color="#feeb9d"/><stop offset=".606" stop-color="#fffdbb"/><stop offset=".626" stop-color="#f5fbaf"/><stop offset=".652" stop-color="#fffbb9"/><stop offset=".678" stop-color="#fed07d"/><stop offset=".693" stop-color="#fdb466"/><stop offset=".714" stop-color="#fecf7d"/><stop offset=".724" stop-color="#fee593"/><stop offset=".735" stop-color="#feffbd"/><stop offset=".745" stop-color="#ecf7a1"/><stop offset=".755" stop-color="#e7f59b"/><stop offset=".807" stop-color="#feffbe"/><stop offset=".832" stop-color="#fedc88"/><stop offset=".843" stop-color="#fdc272"/><stop offset=".853" stop-color="#fdb265"/><stop offset=".915" stop-color="#fdad60"/><stop offset=".936" stop-color="#fba35c"/><stop offset=".987" stop-color="#fca85e"/><stop offset="1" stop-color="#fba05b"/></linearGradient><linearGradient id="hc70"><stop offset="0" stop-color="#feda87"/><stop offset=".008" stop-color="#fedf8c"/><stop offset=".023" stop-color="#fffab7"/><stop offset=".028" stop-color="#fcfeba"/><stop offset=".039" stop-color="#f2faaa"/><stop offset=".064" stop-color="#e6f599"/><stop offset=".085" stop-color="#c6e89e"/><stop offset=".131" stop-color="#9cd7a4"/><stop offset=".204" stop-color="#a5dba4"/><stop offset=".235" stop-color="#9cd7a4"/><stop offset=".327" stop-color="#a2daa4"/><stop offset=".415" stop-color="#89d0a4"/><stop offset=".466" stop-color="#6bc3a5"/><stop offset=".508" stop-color="#4aa3b2"/><stop offset=".528" stop-color="#459eb4"/><stop offset=".539" stop-color="#3c93b8"/><stop offset=".549" stop-color="#4199b6"/><stop offset=".554" stop-color="#4ba4b1"/><stop offset=".559" stop-color="#75c5a6"/><stop offset=".564" stop-color="#b9e3a0"/><stop offset=".57" stop-color="#eff8a7"/><stop offset=".575" stop-color="#fdf7b0"/><stop offset=".585" stop-color="#fee695"/><stop offset=".606" stop-color="#fffebd"/><stop offset=".621" stop-color="#f8fcb5"/><stop offset=".647" stop-color="#fff9b4"/><stop offset=".673" stop-color="#fecd7b"/><stop offset=".693" stop-color="#fdb365"/><stop offset=".724" stop-color="#fee492"/><stop offset=".729" stop-color="#feeda0"/><stop offset=".735" stop-color="#fffcb9"/><stop offset=".745" stop-color="#f0f9a7"/><stop offset=".755" stop-color="#ecf7a1"/><stop offset=".771" stop-color="#f5fbaf"/><stop offset=".802" stop-color="#fdfdba"/><stop offset=".807" stop-color="#fffcb9"/><stop offset=".827" stop-color="#fee08b"/><stop offset=".848" stop-color="#fdb466"/><stop offset=".951" stop-color="#fba25b"/><stop offset="1" stop-color="#fca35c"/></linearGradient><linearGradient id="hc71"><stop offset="0" stop-color="#fec877"/><stop offset=".008" stop-color="#fed07e"/><stop offset=".028" stop-color="#feffbe"/><stop offset=".039" stop-color="#f2faab"/><stop offset=".07" stop-color="#e6f59a"/><stop offset=".101" stop-color="#b8e2a1"/><stop offset=".126" stop-color="#a7dba4"/><stop offset=".25" stop-color="#a3daa4"/><stop offset=".265" stop-color="#a9dca4"/><stop offset=".286" stop-color="#a1d9a4"/><stop offset=".327" stop-color="#a8dca4"/><stop offset=".338" stop-color="#9dd8a4"/><stop offset=".379" stop-color="#9ad6a4"/><stop offset=".405" stop-color="#89d0a4"/><stop offset=".415" stop-color="#8ed2a4"/><stop offset=".43" stop-color="#80cca5"/><stop offset=".472" stop-color="#74c7a5"/><stop offset=".482" stop-color="#65c0a6"/><stop offset=".539" stop-color="#439bb5"/><stop offset=".549" stop-color="#4ea7b0"/><stop offset=".554" stop-color="#6cc0a8"/><stop offset=".559" stop-color="#b0dfa1"/><stop offset=".564" stop-color="#e9f6a4"/><stop offset=".57" stop-color="#fcf9b2"/><stop offset=".58" stop-color="#fee18d"/><stop offset=".585" stop-color="#fee491"/><stop offset=".606" stop-color="#fffdbc"/><stop offset=".631" stop-color="#fefcb9"/><stop offset=".647" stop-color="#feeda1"/><stop offset=".657" stop-color="#fed986"/><stop offset=".673" stop-color="#fdbf70"/><stop offset=".693" stop-color="#fdb667"/><stop offset=".719" stop-color="#fed783"/><stop offset=".729" stop-color="#feeb9d"/><stop offset=".735" stop-color="#fff9b4"/><stop offset=".74" stop-color="#fbfdb9"/><stop offset=".755" stop-color="#f2faab"/><stop offset=".771" stop-color="#fafdb8"/><stop offset=".796" stop-color="#fdfdbb"/><stop offset=".822" stop-color="#fee18d"/><stop offset=".843" stop-color="#fdbb6c"/><stop offset=".853" stop-color="#fdb265"/><stop offset=".982" stop-color="#fb9d59"/><stop offset="1" stop-color="#fca55d"/></linearGradient><linearGradient id="hc72"><stop offset="0" stop-color="#fdc271"/><stop offset=".013" stop-color="#feda86"/><stop offset=".028" stop-color="#fffdbc"/><stop offset=".039" stop-color="#f1f9a9"/><stop offset=".07" stop-color="#e6f599"/><stop offset=".08" stop-color="#dcf19a"/><stop offset=".101" stop-color="#b3e0a2"/><stop offset=".137" stop-color="#a4daa4"/><stop offset=".162" stop-color="#a3daa4"/><stop offset=".173" stop-color="#abdda4"/><stop offset=".198" stop-color="#aadca4"/><stop offset=".204" stop-color="#a2d9a4"/><stop offset=".235" stop-color="#acdda4"/><stop offset=".312" stop-color="#a2d9a4"/><stop offset=".327" stop-color="#a7dba4"/><stop offset=".338" stop-color="#9dd8a4"/><stop offset=".353" stop-color="#a3daa4"/><stop offset=".389" stop-color="#97d5a4"/><stop offset=".405" stop-color="#86cfa5"/><stop offset=".415" stop-color="#8dd1a4"/><stop offset=".441" stop-color="#7acaa5"/><stop offset=".451" stop-color="#81cda5"/><stop offset=".472" stop-color="#76c8a5"/><stop offset=".482" stop-color="#66c1a5"/><stop offset=".523" stop-color="#49a2b2"/><stop offset=".544" stop-color="#4ea7b0"/><stop offset=".549" stop-color="#62bba8"/><stop offset=".559" stop-color="#dcf19f"/><stop offset=".564" stop-color="#fafdb6"/><stop offset=".57" stop-color="#feefa4"/><stop offset=".575" stop-color="#fee492"/><stop offset=".58" stop-color="#fee18d"/><stop offset=".606" stop-color="#fffcba"/><stop offset=".621" stop-color="#fffdbb"/><stop offset=".647" stop-color="#fee695"/><stop offset=".657" stop-color="#fed07e"/><stop offset=".683" stop-color="#fdb365"/><stop offset=".719" stop-color="#fed582"/><stop offset=".724" stop-color="#fedf8a"/><stop offset=".735" stop-color="#fff7b2"/><stop offset=".74" stop-color="#feffbd"/><stop offset=".75" stop-color="#f7fcb3"/><stop offset=".791" stop-color="#ffffbe"/><stop offset=".817" stop-color="#fee594"/><stop offset=".827" stop-color="#fed27f"/><stop offset=".848" stop-color="#fdb768"/><stop offset=".884" stop-color="#fcaa5f"/><stop offset=".899" stop-color="#fdaf62"/><stop offset=".92" stop-color="#fca45c"/><stop offset=".966" stop-color="#fca85e"/><stop offset=".977" stop-color="#fb9f5a"/><stop offset="1" stop-color="#fb9d59"/></linearGradient></defs><rect x="72.3" y="695.00" width="194.09999999999997" height="2.30" fill="url(#hc0)"/><rect x="72.3" y="697.00" width="194.09999999999997" height="2.30" fill="url(#hc1)"/><rect x="72.3" y="699.00" width="194.09999999999997" height="2.30" fill="url(#hc2)"/><rect x="72.3" y="701.00" width="194.09999999999997" height="2.30" fill="url(#hc3)"/><rect x="72.3" y="703.00" width="194.09999999999997" height="2.30" fill="url(#hc4)"/><rect x="72.3" y="705.00" width="194.09999999999997" height="2.30" fill="url(#hc5)"/><rect x="72.3" y="707.00" width="194.09999999999997" height="2.30" fill="url(#hc6)"/><rect x="72.3" y="709.00" width="194.09999999999997" height="2.30" fill="url(#hc7)"/><rect x="72.3" y="711.00" width="194.09999999999997" height="2.30" fill="url(#hc8)"/><rect x="72.3" y="713.00" width="194.09999999999997" height="2.30" fill="url(#hc9)"/><rect x="72.3" y="715.00" width="194.09999999999997" height="2.30" fill="url(#hc10)"/><rect x="72.3" y="717.00" width="194.09999999999997" height="2.30" fill="url(#hc11)"/><rect x="72.3" y="719.00" width="194.09999999999997" height="2.30" fill="url(#hc12)"/><rect x="72.3" y="721.00" width="194.09999999999997" height="2.30" fill="url(#hc13)"/><rect x="72.3" y="723.00" width="194.09999999999997" height="2.30" fill="url(#hc14)"/><rect x="72.3" y="725.00" width="194.09999999999997" height="2.30" fill="url(#hc15)"/><rect x="72.3" y="727.00" width="194.09999999999997" height="2.30" fill="url(#hc16)"/><rect x="72.3" y="729.00" width="194.09999999999997" height="2.30" fill="url(#hc17)"/><rect x="72.3" y="731.00" width="194.09999999999997" height="2.30" fill="url(#hc18)"/><rect x="72.3" y="733.00" width="194.09999999999997" height="2.30" fill="url(#hc19)"/><rect x="72.3" y="735.00" width="194.09999999999997" height="2.30" fill="url(#hc20)"/><rect x="72.3" y="737.00" width="194.09999999999997" height="2.30" fill="url(#hc21)"/><rect x="72.3" y="739.00" width="194.09999999999997" height="2.30" fill="url(#hc22)"/><rect x="72.3" y="741.00" width="194.09999999999997" height="2.30" fill="url(#hc23)"/><rect x="72.3" y="743.00" width="194.09999999999997" height="2.30" fill="url(#hc24)"/><rect x="72.3" y="745.00" width="194.09999999999997" height="2.30" fill="url(#hc25)"/><rect x="72.3" y="747.00" width="194.09999999999997" height="2.30" fill="url(#hc26)"/><rect x="72.3" y="749.00" width="194.09999999999997" height="2.30" fill="url(#hc27)"/><rect x="72.3" y="751.00" width="194.09999999999997" height="2.30" fill="url(#hc28)"/><rect x="72.3" y="753.00" width="194.09999999999997" height="2.30" fill="url(#hc29)"/><rect x="72.3" y="755.00" width="194.09999999999997" height="2.30" fill="url(#hc30)"/><rect x="72.3" y="757.00" width="194.09999999999997" height="2.30" fill="url(#hc31)"/><rect x="72.3" y="759.00" width="194.09999999999997" height="2.30" fill="url(#hc32)"/><rect x="72.3" y="761.00" width="194.09999999999997" height="2.30" fill="url(#hc33)"/><rect x="72.3" y="763.00" width="194.09999999999997" height="2.30" fill="url(#hc34)"/><rect x="72.3" y="765.00" width="194.09999999999997" height="2.30" fill="url(#hc35)"/><rect x="72.3" y="767.00" width="194.09999999999997" height="2.30" fill="url(#hc36)"/><rect x="72.3" y="769.00" width="194.09999999999997" height="2.30" fill="url(#hc37)"/><rect x="72.3" y="771.00" width="194.09999999999997" height="2.30" fill="url(#hc38)"/><rect x="72.3" y="773.00" width="194.09999999999997" height="2.30" fill="url(#hc39)"/><rect x="72.3" y="775.00" width="194.09999999999997" height="2.30" fill="url(#hc40)"/><rect x="72.3" y="777.00" width="194.09999999999997" height="2.30" fill="url(#hc41)"/><rect x="72.3" y="779.00" width="194.09999999999997" height="2.30" fill="url(#hc42)"/><rect x="72.3" y="781.00" width="194.09999999999997" height="2.30" fill="url(#hc43)"/><rect x="72.3" y="783.00" width="194.09999999999997" height="2.30" fill="url(#hc44)"/><rect x="72.3" y="785.00" width="194.09999999999997" height="2.30" fill="url(#hc45)"/><rect x="72.3" y="787.00" width="194.09999999999997" height="2.30" fill="url(#hc46)"/><rect x="72.3" y="789.00" width="194.09999999999997" height="2.30" fill="url(#hc47)"/><rect x="72.3" y="791.00" width="194.09999999999997" height="2.30" fill="url(#hc48)"/><rect x="72.3" y="793.00" width="194.09999999999997" height="2.30" fill="url(#hc49)"/><rect x="72.3" y="795.00" width="194.09999999999997" height="2.30" fill="url(#hc50)"/><rect x="72.3" y="797.00" width="194.09999999999997" height="2.30" fill="url(#hc51)"/><rect x="72.3" y="799.00" width="194.09999999999997" height="2.30" fill="url(#hc52)"/><rect x="72.3" y="801.00" width="194.09999999999997" height="2.30" fill="url(#hc53)"/><rect x="72.3" y="803.00" width="194.09999999999997" height="2.30" fill="url(#hc54)"/><rect x="72.3" y="805.00" width="194.09999999999997" height="2.30" fill="url(#hc55)"/><rect x="72.3" y="807.00" width="194.09999999999997" height="2.30" fill="url(#hc56)"/><rect x="72.3" y="809.00" width="194.09999999999997" height="2.30" fill="url(#hc57)"/><rect x="72.3" y="811.00" width="194.09999999999997" height="2.30" fill="url(#hc58)"/><rect x="72.3" y="813.00" width="194.09999999999997" height="2.30" fill="url(#hc59)"/><rect x="72.3" y="815.00" width="194.09999999999997" height="2.30" fill="url(#hc60)"/><rect x="72.3" y="817.00" width="194.09999999999997" height="2.30" fill="url(#hc61)"/><rect x="72.3" y="819.00" width="194.09999999999997" height="2.30" fill="url(#hc62)"/><rect x="72.3" y="821.00" width="194.09999999999997" height="2.30" fill="url(#hc63)"/><rect x="72.3" y="823.00" width="194.09999999999997" height="2.30" fill="url(#hc64)"/><rect x="72.3" y="825.00" width="194.09999999999997" height="2.30" fill="url(#hc65)"/><rect x="72.3" y="827.00" width="194.09999999999997" height="2.30" fill="url(#hc66)"/><rect x="72.3" y="829.00" width="194.09999999999997" height="2.30" fill="url(#hc67)"/><rect x="72.3" y="831.00" width="194.09999999999997" height="2.30" fill="url(#hc68)"/><rect x="72.3" y="833.00" width="194.09999999999997" height="2.30" fill="url(#hc69)"/><rect x="72.3" y="835.00" width="194.09999999999997" height="2.30" fill="url(#hc70)"/><rect x="72.3" y="837.00" width="194.09999999999997" height="2.30" fill="url(#hc71)"/><rect x="72.3" y="839.00" width="194.09999999999997" height="1.50" fill="url(#hc72)"/>
<rect x="72.3" y="695" width="194.10" height="145.20" fill="none" stroke="#333" stroke-width="1"/>
<line x1="105.85" y1="840.20" x2="105.85" y2="845.20" stroke="#333" stroke-width="1"/>
<text x="105.8" y="864.2" text-anchor="middle">−8</text>
<line x1="186.10" y1="840.20" x2="186.10" y2="845.20" stroke="#333" stroke-width="1"/>
<text x="186.1" y="864.2" text-anchor="middle">−7</text>
<line x1="266.35" y1="840.20" x2="266.35" y2="845.20" stroke="#333" stroke-width="1"/>
<text x="266.4" y="864.2" text-anchor="middle">−6</text>
<line x1="73.00" y1="695.00" x2="73.00" y2="690.00" stroke="#333" stroke-width="1"/>
<text x="73.0" y="682.1" text-anchor="middle">−3.0</text>
<line x1="159.25" y1="695.00" x2="159.25" y2="690.00" stroke="#333" stroke-width="1"/>
<text x="159.2" y="682.1" text-anchor="middle">−2.5</text>
<line x1="245.50" y1="695.00" x2="245.50" y2="690.00" stroke="#333" stroke-width="1"/>
<text x="245.5" y="682.1" text-anchor="middle">−2.0</text>
<line x1="72.30" y1="821.55" x2="67.30" y2="821.55" stroke="#333" stroke-width="1"/>
<text x="62.8" y="827.2" text-anchor="end">−150</text>
<line x1="72.30" y1="767.30" x2="67.30" y2="767.30" stroke="#333" stroke-width="1"/>
<text x="62.8" y="772.9" text-anchor="end">0</text>
<line x1="72.30" y1="713.04" x2="67.30" y2="713.04" stroke="#333" stroke-width="1"/>
<text x="62.8" y="718.6" text-anchor="end">150</text>
<text x="170.0" y="657.0" text-anchor="middle">Filling factor, <tspan font-style="italic">v</tspan></text>
<text x="167.0" y="887.0" text-anchor="middle"><tspan font-style="italic">V</tspan><tspan font-size="11" dy="3.5">BG</tspan><tspan dy="-3.5">&#8203;</tspan> (V)</text>
<text transform="translate(15.5,767) rotate(-90)" text-anchor="middle"><tspan font-style="italic">I</tspan><tspan font-size="11" dy="3.5">d.c.</tspan><tspan dy="-3.5">&#8203;</tspan> (nA)</text>
<defs><linearGradient id="cbc" x1="0" y1="0" x2="0" y2="1"><stop offset="0.000" stop-color="#9e0142"/><stop offset="0.062" stop-color="#be254a"/><stop offset="0.125" stop-color="#dc484c"/><stop offset="0.188" stop-color="#ef6645"/><stop offset="0.250" stop-color="#f88c51"/><stop offset="0.312" stop-color="#fdb365"/><stop offset="0.375" stop-color="#fed27f"/><stop offset="0.438" stop-color="#feeb9d"/><stop offset="0.500" stop-color="#fffebe"/><stop offset="0.562" stop-color="#f0f9a7"/><stop offset="0.625" stop-color="#d8ef9b"/><stop offset="0.688" stop-color="#b3e0a2"/><stop offset="0.750" stop-color="#89d0a4"/><stop offset="0.812" stop-color="#60bba8"/><stop offset="0.875" stop-color="#3f97b7"/><stop offset="0.938" stop-color="#4273b3"/><stop offset="1.000" stop-color="#5e4fa2"/></linearGradient></defs><rect x="271.2" y="698.8" width="7.5" height="134.10000000000002" fill="url(#cbc)"/>
<line x1="278.70" y1="830.70" x2="283.50" y2="830.70" stroke="#333" stroke-width="1"/>
<text x="290.5" y="836.3">0</text>
<line x1="278.70" y1="757.00" x2="283.50" y2="757.00" stroke="#333" stroke-width="1"/>
<text x="290.5" y="762.6">2</text>
<text transform="translate(313.8,767.5) rotate(90)" text-anchor="middle">d<tspan font-style="italic">V</tspan>/d<tspan font-style="italic">I</tspan><tspan font-size="11" dy="3.5">d.c.</tspan><tspan dy="-3.5">&#8203;</tspan> (k&#937;)</text>
<text x="346.0" y="653.0" font-size="19" fill="#000" font-weight="bold">d</text>
<defs><linearGradient id="hd0" x2="0" y2="1"><stop offset="0" stop-color="#f6fbb0"/><stop offset=".272" stop-color="#fffcb9"/><stop offset=".328" stop-color="#fff1a8"/><stop offset=".397" stop-color="#fff0a7"/><stop offset=".403" stop-color="#feec9f"/><stop offset=".41" stop-color="#fcbe7b"/><stop offset=".417" stop-color="#e16854"/><stop offset=".424" stop-color="#b71d48"/><stop offset=".431" stop-color="#9e0142"/><stop offset=".452" stop-color="#9e0142"/><stop offset=".472" stop-color="#9e0142"/><stop offset=".479" stop-color="#f5fbaf"/><stop offset=".486" stop-color="#f5fbaf"/><stop offset=".493" stop-color="#4199b6"/><stop offset=".5" stop-color="#4199b6"/><stop offset=".507" stop-color="#f5fbaf"/><stop offset=".514" stop-color="#f5fbaf"/><stop offset=".521" stop-color="#9e0142"/><stop offset=".562" stop-color="#9e0142"/><stop offset=".569" stop-color="#b71d48"/><stop offset=".576" stop-color="#e16854"/><stop offset=".583" stop-color="#fcbe7b"/><stop offset=".59" stop-color="#feec9f"/><stop offset=".597" stop-color="#fff0a7"/><stop offset=".666" stop-color="#fff1a8"/><stop offset=".721" stop-color="#fffcb9"/><stop offset=".81" stop-color="#f6fbb0"/><stop offset="1" stop-color="#f6fbb0"/></linearGradient><linearGradient id="hd1" x2="0" y2="1"><stop offset="0" stop-color="#fafdb7"/><stop offset=".279" stop-color="#fdfebb"/><stop offset=".362" stop-color="#fee291"/><stop offset=".369" stop-color="#fed887"/><stop offset=".376" stop-color="#f9b877"/><stop offset=".39" stop-color="#db7360"/><stop offset=".403" stop-color="#be4c5b"/><stop offset=".41" stop-color="#bc3047"/><stop offset=".417" stop-color="#ac1045"/><stop offset=".424" stop-color="#9e0142"/><stop offset=".452" stop-color="#9e0142"/><stop offset=".472" stop-color="#9e0142"/><stop offset=".479" stop-color="#f5fbaf"/><stop offset=".486" stop-color="#f5fbaf"/><stop offset=".493" stop-color="#4199b6"/><stop offset=".5" stop-color="#4199b6"/><stop offset=".507" stop-color="#f5fbaf"/><stop offset=".514" stop-color="#f5fbaf"/><stop offset=".521" stop-color="#9e0142"/><stop offset=".569" stop-color="#9e0142"/><stop offset=".576" stop-color="#ac1045"/><stop offset=".583" stop-color="#bc3047"/><stop offset=".59" stop-color="#be4c5b"/><stop offset=".597" stop-color="#c95b62"/><stop offset=".603" stop-color="#db7360"/><stop offset=".617" stop-color="#f9b877"/><stop offset=".624" stop-color="#fed887"/><stop offset=".631" stop-color="#fee291"/><stop offset=".714" stop-color="#fdfebb"/><stop offset="1" stop-color="#fafdb7"/></linearGradient><linearGradient id="hd2" x2="0" y2="1"><stop offset="0" stop-color="#fefebc"/><stop offset=".259" stop-color="#fefebc"/><stop offset=".307" stop-color="#fef2a9"/><stop offset=".383" stop-color="#fdb668"/><stop offset=".39" stop-color="#f88d52"/><stop offset=".403" stop-color="#bb2444"/><stop offset=".41" stop-color="#a70b44"/><stop offset=".417" stop-color="#9e0142"/><stop offset=".472" stop-color="#9e0142"/><stop offset=".479" stop-color="#f5fbaf"/><stop offset=".486" stop-color="#f5fbaf"/><stop offset=".493" stop-color="#4199b6"/><stop offset=".5" stop-color="#4199b6"/><stop offset=".507" stop-color="#f5fbaf"/><stop offset=".514" stop-color="#f5fbaf"/><stop offset=".521" stop-color="#9e0142"/><stop offset=".576" stop-color="#9e0142"/><stop offset=".583" stop-color="#a70b44"/><stop offset=".59" stop-color="#bb2444"/><stop offset=".603" stop-color="#f88d52"/><stop offset=".61" stop-color="#fdb668"/><stop offset=".686" stop-color="#fef2a9"/><stop offset=".734" stop-color="#fefebc"/><stop offset="1" stop-color="#fefebc"/></linearGradient><linearGradient id="hd3" x2="0" y2="1"><stop offset="0" stop-color="#fefebc"/><stop offset=".245" stop-color="#fffebd"/><stop offset=".272" stop-color="#fff5ae"/><stop offset=".334" stop-color="#fdb769"/><stop offset=".383" stop-color="#fdad60"/><stop offset=".39" stop-color="#fba15b"/><stop offset=".397" stop-color="#f07c53"/><stop offset=".41" stop-color="#b71f45"/><stop offset=".417" stop-color="#a40844"/><stop offset=".438" stop-color="#9e0142"/><stop offset=".472" stop-color="#9e0142"/><stop offset=".479" stop-color="#f5fbaf"/><stop offset=".486" stop-color="#f5fbaf"/><stop offset=".493" stop-color="#4199b6"/><stop offset=".5" stop-color="#4199b6"/><stop offset=".507" stop-color="#f5fbaf"/><stop offset=".514" stop-color="#f5fbaf"/><stop offset=".521" stop-color="#9e0142"/><stop offset=".569" stop-color="#9e0142"/><stop offset=".576" stop-color="#a40844"/><stop offset=".583" stop-color="#b71f45"/><stop offset=".597" stop-color="#f07c53"/><stop offset=".603" stop-color="#fba15b"/><stop offset=".61" stop-color="#fdad60"/><stop offset=".659" stop-color="#fdb769"/><stop offset=".721" stop-color="#fff5ae"/><stop offset=".748" stop-color="#fffebd"/><stop offset="1" stop-color="#fefebc"/></linearGradient><linearGradient id="hd4" x2="0" y2="1"><stop offset="0" stop-color="#f9fdb6"/><stop offset=".252" stop-color="#fafdb7"/><stop offset=".3" stop-color="#fbf0a5"/><stop offset=".341" stop-color="#fbd98a"/><stop offset=".397" stop-color="#fdc175"/><stop offset=".403" stop-color="#fcb96e"/><stop offset=".417" stop-color="#e48964"/><stop offset=".438" stop-color="#dd785b"/><stop offset=".445" stop-color="#d86253"/><stop offset=".452" stop-color="#c84d54"/><stop offset=".459" stop-color="#be4252"/><stop offset=".466" stop-color="#be3c4e"/><stop offset=".472" stop-color="#b92343"/><stop offset=".479" stop-color="#f5fbaf"/><stop offset=".486" stop-color="#f5fbaf"/><stop offset=".493" stop-color="#4199b6"/><stop offset=".5" stop-color="#4199b6"/><stop offset=".507" stop-color="#f5fbaf"/><stop offset=".514" stop-color="#f5fbaf"/><stop offset=".521" stop-color="#b92343"/><stop offset=".528" stop-color="#be3c4e"/><stop offset=".534" stop-color="#be4252"/><stop offset=".541" stop-color="#c84d54"/><stop offset=".548" stop-color="#d86253"/><stop offset=".555" stop-color="#dd785b"/><stop offset=".576" stop-color="#e48964"/><stop offset=".59" stop-color="#fcb96e"/><stop offset=".597" stop-color="#fdc175"/><stop offset=".652" stop-color="#fbd98a"/><stop offset=".693" stop-color="#fbf0a5"/><stop offset=".741" stop-color="#fafdb7"/><stop offset="1" stop-color="#f9fdb6"/></linearGradient><linearGradient id="hd5" x2="0" y2="1"><stop offset="0" stop-color="#f3faac"/><stop offset=".272" stop-color="#f3faac"/><stop offset=".321" stop-color="#f8fcb4"/><stop offset=".39" stop-color="#fff4ad"/><stop offset=".41" stop-color="#fee797"/><stop offset=".417" stop-color="#fdc97e"/><stop offset=".424" stop-color="#eca376"/><stop offset=".431" stop-color="#de906f"/><stop offset=".459" stop-color="#de8b69"/><stop offset=".466" stop-color="#dd7b5c"/><stop offset=".472" stop-color="#d34244"/><stop offset=".479" stop-color="#f5fbaf"/><stop offset=".486" stop-color="#f5fbaf"/><stop offset=".493" stop-color="#4199b6"/><stop offset=".5" stop-color="#4199b6"/><stop offset=".507" stop-color="#f5fbaf"/><stop offset=".514" stop-color="#f5fbaf"/><stop offset=".521" stop-color="#d34244"/><stop offset=".528" stop-color="#dd7b5c"/><stop offset=".534" stop-color="#de8b69"/><stop offset=".562" stop-color="#de906f"/><stop offset=".569" stop-color="#eca376"/><stop offset=".576" stop-color="#fdc97e"/><stop offset=".583" stop-color="#fee797"/><stop offset=".603" stop-color="#fff4ad"/><stop offset=".672" stop-color="#f8fcb4"/><stop offset=".721" stop-color="#f3faac"/><stop offset="1" stop-color="#f3faac"/></linearGradient><linearGradient id="hd6" x2="0" y2="1"><stop offset="0" stop-color="#edf8a2"/><stop offset=".114" stop-color="#edf8a3"/><stop offset=".19" stop-color="#f8fcb4"/><stop offset=".252" stop-color="#fafcb5"/><stop offset=".259" stop-color="#f9e79c"/><stop offset=".266" stop-color="#efc090"/><stop offset=".272" stop-color="#daa88d"/><stop offset=".293" stop-color="#dba68b"/><stop offset=".3" stop-color="#db8f72"/><stop offset=".307" stop-color="#cf696d"/><stop offset=".314" stop-color="#bd556a"/><stop offset=".41" stop-color="#be4d5d"/><stop offset=".417" stop-color="#bd3349"/><stop offset=".424" stop-color="#ac1145"/><stop offset=".431" stop-color="#9e0142"/><stop offset=".452" stop-color="#9e0142"/><stop offset=".472" stop-color="#9e0142"/><stop offset=".479" stop-color="#f5fbaf"/><stop offset=".486" stop-color="#f5fbaf"/><stop offset=".493" stop-color="#4199b6"/><stop offset=".5" stop-color="#4199b6"/><stop offset=".507" stop-color="#f5fbaf"/><stop offset=".514" stop-color="#f5fbaf"/><stop offset=".521" stop-color="#9e0142"/><stop offset=".562" stop-color="#9e0142"/><stop offset=".569" stop-color="#ac1145"/><stop offset=".576" stop-color="#bd3349"/><stop offset=".583" stop-color="#be4d5d"/><stop offset=".679" stop-color="#bd556a"/><stop offset=".686" stop-color="#cf696d"/><stop offset=".693" stop-color="#db8f72"/><stop offset=".7" stop-color="#dba68b"/><stop offset=".721" stop-color="#daa88d"/><stop offset=".728" stop-color="#efc090"/><stop offset=".734" stop-color="#f9e79c"/><stop offset=".741" stop-color="#fafcb5"/><stop offset=".803" stop-color="#f8fcb4"/><stop offset=".886" stop-color="#edf8a3"/><stop offset="1" stop-color="#edf8a2"/></linearGradient><linearGradient id="hd7" x2="0" y2="1"><stop offset="0" stop-color="#edf8a3"/><stop offset=".128" stop-color="#eef8a5"/><stop offset=".21" stop-color="#fdfebb"/><stop offset=".252" stop-color="#fff1a8"/><stop offset=".259" stop-color="#fedb8d"/><stop offset=".266" stop-color="#f3b480"/><stop offset=".272" stop-color="#de9b7c"/><stop offset=".279" stop-color="#de9471"/><stop offset=".286" stop-color="#db715b"/><stop offset=".293" stop-color="#c65058"/><stop offset=".3" stop-color="#bc2d46"/><stop offset=".307" stop-color="#ac1045"/><stop offset=".314" stop-color="#9e0142"/><stop offset=".328" stop-color="#9e0142"/><stop offset=".472" stop-color="#9e0142"/><stop offset=".479" stop-color="#f5fbaf"/><stop offset=".486" stop-color="#f5fbaf"/><stop offset=".493" stop-color="#4199b6"/><stop offset=".5" stop-color="#4199b6"/><stop offset=".507" stop-color="#f5fbaf"/><stop offset=".514" stop-color="#f5fbaf"/><stop offset=".521" stop-color="#9e0142"/><stop offset=".679" stop-color="#9e0142"/><stop offset=".686" stop-color="#ac1045"/><stop offset=".693" stop-color="#bc2d46"/><stop offset=".7" stop-color="#c65058"/><stop offset=".707" stop-color="#db715b"/><stop offset=".714" stop-color="#de9471"/><stop offset=".721" stop-color="#de9b7c"/><stop offset=".728" stop-color="#f3b480"/><stop offset=".734" stop-color="#fedb8d"/><stop offset=".741" stop-color="#fff1a8"/><stop offset=".783" stop-color="#fdfebb"/><stop offset=".866" stop-color="#eef8a5"/><stop offset="1" stop-color="#edf8a3"/></linearGradient><linearGradient id="hd8" x2="0" y2="1"><stop offset="0" stop-color="#f7fcb3"/><stop offset=".114" stop-color="#faf9b1"/><stop offset=".169" stop-color="#f9d786"/><stop offset=".266" stop-color="#fdc474"/><stop offset=".272" stop-color="#fdbf70"/><stop offset=".279" stop-color="#f9a565"/><stop offset=".293" stop-color="#dd7c5f"/><stop offset=".3" stop-color="#d64d48"/><stop offset=".307" stop-color="#b51b47"/><stop offset=".314" stop-color="#9e0142"/><stop offset=".403" stop-color="#9e0142"/><stop offset=".472" stop-color="#9e0142"/><stop offset=".479" stop-color="#f5fbaf"/><stop offset=".486" stop-color="#f5fbaf"/><stop offset=".493" stop-color="#4199b6"/><stop offset=".5" stop-color="#4199b6"/><stop offset=".507" stop-color="#f5fbaf"/><stop offset=".514" stop-color="#f5fbaf"/><stop offset=".521" stop-color="#9e0142"/><stop offset=".679" stop-color="#9e0142"/><stop offset=".686" stop-color="#b51b47"/><stop offset=".693" stop-color="#d64d48"/><stop offset=".7" stop-color="#dd7c5f"/><stop offset=".714" stop-color="#f9a565"/><stop offset=".721" stop-color="#fdbf70"/><stop offset=".783" stop-color="#fece84"/><stop offset=".824" stop-color="#f9d786"/><stop offset=".879" stop-color="#faf9b1"/><stop offset="1" stop-color="#f7fcb3"/></linearGradient><linearGradient id="hd9" x2="0" y2="1"><stop offset="0" stop-color="#fbfdb9"/><stop offset=".093" stop-color="#fefab7"/><stop offset=".114" stop-color="#feeda0"/><stop offset=".162" stop-color="#fdb769"/><stop offset=".238" stop-color="#fca85e"/><stop offset=".245" stop-color="#f58250"/><stop offset=".252" stop-color="#d85852"/><stop offset=".259" stop-color="#be3b4c"/><stop offset=".293" stop-color="#bd364a"/><stop offset=".307" stop-color="#a70b44"/><stop offset=".314" stop-color="#9e0142"/><stop offset=".472" stop-color="#9e0142"/><stop offset=".479" stop-color="#f5fbaf"/><stop offset=".486" stop-color="#f5fbaf"/><stop offset=".493" stop-color="#4199b6"/><stop offset=".5" stop-color="#4199b6"/><stop offset=".507" stop-color="#f5fbaf"/><stop offset=".514" stop-color="#f5fbaf"/><stop offset=".521" stop-color="#9e0142"/><stop offset=".679" stop-color="#9e0142"/><stop offset=".686" stop-color="#a70b44"/><stop offset=".7" stop-color="#bd364a"/><stop offset=".734" stop-color="#be3b4c"/><stop offset=".741" stop-color="#d85852"/><stop offset=".748" stop-color="#f58250"/><stop offset=".755" stop-color="#fca85e"/><stop offset=".831" stop-color="#fdb769"/><stop offset=".879" stop-color="#feeda0"/><stop offset=".9" stop-color="#fefab7"/><stop offset="1" stop-color="#fbfdb9"/></linearGradient><linearGradient id="hd10" x2="0" y2="1"><stop offset="0" stop-color="#f4fbae"/><stop offset=".093" stop-color="#fbfab2"/><stop offset=".114" stop-color="#feefa4"/><stop offset=".141" stop-color="#fecd7c"/><stop offset=".162" stop-color="#fdb768"/><stop offset=".224" stop-color="#fdad60"/><stop offset=".231" stop-color="#fca65d"/><stop offset=".238" stop-color="#f48b57"/><stop offset=".245" stop-color="#de614f"/><stop offset=".252" stop-color="#c7454e"/><stop offset=".266" stop-color="#bd394c"/><stop offset=".272" stop-color="#bb2643"/><stop offset=".286" stop-color="#9e0142"/><stop offset=".472" stop-color="#9e0142"/><stop offset=".479" stop-color="#f5fbaf"/><stop offset=".486" stop-color="#f5fbaf"/><stop offset=".493" stop-color="#4199b6"/><stop offset=".5" stop-color="#4199b6"/><stop offset=".507" stop-color="#f5fbaf"/><stop offset=".514" stop-color="#f5fbaf"/><stop offset=".521" stop-color="#9e0142"/><stop offset=".707" stop-color="#9e0142"/><stop offset=".721" stop-color="#bb2643"/><stop offset=".728" stop-color="#bd394c"/><stop offset=".741" stop-color="#c7454e"/><stop offset=".748" stop-color="#de614f"/><stop offset=".755" stop-color="#f48b57"/><stop offset=".762" stop-color="#fca65d"/><stop offset=".769" stop-color="#fdad60"/><stop offset=".831" stop-color="#fdb768"/><stop offset=".852" stop-color="#fecd7c"/><stop offset=".879" stop-color="#feefa4"/><stop offset=".9" stop-color="#fbfab2"/><stop offset="1" stop-color="#f4fbae"/></linearGradient><linearGradient id="hd11" x2="0" y2="1"><stop offset="0" stop-color="#f3faac"/><stop offset=".114" stop-color="#fff7b2"/><stop offset=".148" stop-color="#fedb87"/><stop offset=".169" stop-color="#feca79"/><stop offset=".266" stop-color="#fdc373"/><stop offset=".272" stop-color="#faa461"/><stop offset=".279" stop-color="#e67157"/><stop offset=".286" stop-color="#c34451"/><stop offset=".293" stop-color="#bb2844"/><stop offset=".307" stop-color="#9e0142"/><stop offset=".472" stop-color="#9e0142"/><stop offset=".479" stop-color="#f5fbaf"/><stop offset=".486" stop-color="#f5fbaf"/><stop offset=".493" stop-color="#4199b6"/><stop offset=".5" stop-color="#4199b6"/><stop offset=".507" stop-color="#f5fbaf"/><stop offset=".514" stop-color="#f5fbaf"/><stop offset=".521" stop-color="#9e0142"/><stop offset=".686" stop-color="#9e0142"/><stop offset=".7" stop-color="#bb2844"/><stop offset=".707" stop-color="#c34451"/><stop offset=".714" stop-color="#e67157"/><stop offset=".721" stop-color="#faa461"/><stop offset=".728" stop-color="#fdc373"/><stop offset=".824" stop-color="#feca79"/><stop offset=".845" stop-color="#fedb87"/><stop offset=".879" stop-color="#fff7b2"/><stop offset="1" stop-color="#f3faac"/></linearGradient><linearGradient id="hd12" x2="0" y2="1"><stop offset="0" stop-color="#f3faac"/><stop offset=".079" stop-color="#fbf8b0"/><stop offset=".141" stop-color="#feeda2"/><stop offset=".19" stop-color="#feeca1"/><stop offset=".197" stop-color="#fee496"/><stop offset=".203" stop-color="#fbc282"/><stop offset=".21" stop-color="#e5a583"/><stop offset=".224" stop-color="#de9e81"/><stop offset=".231" stop-color="#de9572"/><stop offset=".238" stop-color="#db705a"/><stop offset=".245" stop-color="#c4505b"/><stop offset=".266" stop-color="#be4a59"/><stop offset=".272" stop-color="#be3f50"/><stop offset=".279" stop-color="#b72044"/><stop offset=".286" stop-color="#a30743"/><stop offset=".293" stop-color="#9e0142"/><stop offset=".472" stop-color="#9e0142"/><stop offset=".479" stop-color="#f5fbaf"/><stop offset=".486" stop-color="#f5fbaf"/><stop offset=".493" stop-color="#4199b6"/><stop offset=".5" stop-color="#4199b6"/><stop offset=".507" stop-color="#f5fbaf"/><stop offset=".514" stop-color="#f5fbaf"/><stop offset=".521" stop-color="#9e0142"/><stop offset=".7" stop-color="#9e0142"/><stop offset=".707" stop-color="#a30743"/><stop offset=".714" stop-color="#b72044"/><stop offset=".721" stop-color="#be3f50"/><stop offset=".728" stop-color="#be4a59"/><stop offset=".748" stop-color="#c4505b"/><stop offset=".755" stop-color="#db705a"/><stop offset=".762" stop-color="#de9572"/><stop offset=".769" stop-color="#de9e81"/><stop offset=".783" stop-color="#e5a583"/><stop offset=".79" stop-color="#fbc282"/><stop offset=".797" stop-color="#fee496"/><stop offset=".803" stop-color="#feeca1"/><stop offset=".852" stop-color="#feeda2"/><stop offset=".914" stop-color="#fbf8b0"/><stop offset="1" stop-color="#f2faab"/></linearGradient><linearGradient id="hd13" x2="0" y2="1"><stop offset="0" stop-color="#eef8a5"/><stop offset=".224" stop-color="#fffab7"/><stop offset=".231" stop-color="#fff1a7"/><stop offset=".238" stop-color="#fbca8d"/><stop offset=".245" stop-color="#e4aa8c"/><stop offset=".259" stop-color="#de9f82"/><stop offset=".266" stop-color="#dd8169"/><stop offset=".272" stop-color="#cb5f66"/><stop offset=".279" stop-color="#be5163"/><stop offset=".307" stop-color="#be4e5f"/><stop offset=".314" stop-color="#bd364a"/><stop offset=".321" stop-color="#af1346"/><stop offset=".328" stop-color="#9e0142"/><stop offset=".472" stop-color="#9e0142"/><stop offset=".479" stop-color="#f5fbaf"/><stop offset=".486" stop-color="#f5fbaf"/><stop offset=".493" stop-color="#4199b6"/><stop offset=".5" stop-color="#4199b6"/><stop offset=".507" stop-color="#f5fbaf"/><stop offset=".514" stop-color="#f5fbaf"/><stop offset=".521" stop-color="#9e0142"/><stop offset=".666" stop-color="#9e0142"/><stop offset=".672" stop-color="#af1346"/><stop offset=".679" stop-color="#bd364a"/><stop offset=".686" stop-color="#be4e5f"/><stop offset=".714" stop-color="#be5163"/><stop offset=".721" stop-color="#cb5f66"/><stop offset=".728" stop-color="#dd8169"/><stop offset=".734" stop-color="#de9f82"/><stop offset=".748" stop-color="#e4aa8c"/><stop offset=".755" stop-color="#fbca8d"/><stop offset=".762" stop-color="#fff1a7"/><stop offset=".769" stop-color="#fffab7"/><stop offset="1" stop-color="#eef8a5"/></linearGradient><linearGradient id="hd14" x2="0" y2="1"><stop offset="0" stop-color="#f1faaa"/><stop offset=".141" stop-color="#f1faaa"/><stop offset=".197" stop-color="#f9fcb5"/><stop offset=".279" stop-color="#feeda1"/><stop offset=".286" stop-color="#fedd91"/><stop offset=".293" stop-color="#f6ba83"/><stop offset=".3" stop-color="#e1a080"/><stop offset=".307" stop-color="#de9978"/><stop offset=".314" stop-color="#dd8062"/><stop offset=".321" stop-color="#ce5c5d"/><stop offset=".328" stop-color="#be4858"/><stop offset=".362" stop-color="#be4354"/><stop offset=".369" stop-color="#bb2944"/><stop offset=".376" stop-color="#aa0f45"/><stop offset=".383" stop-color="#9e0142"/><stop offset=".39" stop-color="#9e0142"/><stop offset=".472" stop-color="#9e0142"/><stop offset=".479" stop-color="#f5fbaf"/><stop offset=".486" stop-color="#f5fbaf"/><stop offset=".493" stop-color="#4199b6"/><stop offset=".5" stop-color="#4199b6"/><stop offset=".507" stop-color="#f5fbaf"/><stop offset=".514" stop-color="#f5fbaf"/><stop offset=".521" stop-color="#9e0142"/><stop offset=".61" stop-color="#9e0142"/><stop offset=".617" stop-color="#aa0f45"/><stop offset=".624" stop-color="#bb2944"/><stop offset=".631" stop-color="#be4354"/><stop offset=".666" stop-color="#be4858"/><stop offset=".672" stop-color="#ce5c5d"/><stop offset=".679" stop-color="#dd8062"/><stop offset=".686" stop-color="#de9978"/><stop offset=".693" stop-color="#e1a080"/><stop offset=".7" stop-color="#f6ba83"/><stop offset=".707" stop-color="#fedd91"/><stop offset=".714" stop-color="#feeda1"/><stop offset=".797" stop-color="#f9fcb5"/><stop offset=".852" stop-color="#f1faaa"/><stop offset="1" stop-color="#f1faaa"/></linearGradient><linearGradient id="hd15" x2="0" y2="1"><stop offset="0" stop-color="#f7fcb3"/><stop offset=".107" stop-color="#fcfab3"/><stop offset=".155" stop-color="#fbdf8f"/><stop offset=".197" stop-color="#fbd385"/><stop offset=".203" stop-color="#fac67c"/><stop offset=".21" stop-color="#f1ab77"/><stop offset=".217" stop-color="#de9575"/><stop offset=".231" stop-color="#d16f6a"/><stop offset=".238" stop-color="#c05969"/><stop offset=".355" stop-color="#be4757"/><stop offset=".362" stop-color="#be4354"/><stop offset=".369" stop-color="#bb2944"/><stop offset=".376" stop-color="#aa0f45"/><stop offset=".383" stop-color="#9e0142"/><stop offset=".403" stop-color="#9e0142"/><stop offset=".472" stop-color="#9e0142"/><stop offset=".479" stop-color="#f5fbaf"/><stop offset=".486" stop-color="#f5fbaf"/><stop offset=".493" stop-color="#4199b6"/><stop offset=".5" stop-color="#4199b6"/><stop offset=".507" stop-color="#f5fbaf"/><stop offset=".514" stop-color="#f5fbaf"/><stop offset=".521" stop-color="#9e0142"/><stop offset=".61" stop-color="#9e0142"/><stop offset=".617" stop-color="#aa0f45"/><stop offset=".624" stop-color="#bb2944"/><stop offset=".631" stop-color="#be4354"/><stop offset=".734" stop-color="#be566b"/><stop offset=".755" stop-color="#c05969"/><stop offset=".762" stop-color="#d16f6a"/><stop offset=".776" stop-color="#de9575"/><stop offset=".783" stop-color="#f1ab77"/><stop offset=".79" stop-color="#fac67c"/><stop offset=".797" stop-color="#fbd385"/><stop offset=".838" stop-color="#fbdf8f"/><stop offset=".886" stop-color="#fcfab3"/><stop offset="1" stop-color="#f7fcb3"/></linearGradient><linearGradient id="hd16" x2="0" y2="1"><stop offset="0" stop-color="#f7fcb2"/><stop offset=".128" stop-color="#fbf8b1"/><stop offset=".217" stop-color="#fdc373"/><stop offset=".224" stop-color="#fcb56a"/><stop offset=".231" stop-color="#f49962"/><stop offset=".238" stop-color="#e2805e"/><stop offset=".252" stop-color="#db6751"/><stop offset=".266" stop-color="#bf3d4d"/><stop offset=".307" stop-color="#bd394b"/><stop offset=".314" stop-color="#bb2542"/><stop offset=".328" stop-color="#9e0142"/><stop offset=".334" stop-color="#9e0142"/><stop offset=".472" stop-color="#9e0142"/><stop offset=".479" stop-color="#f5fbaf"/><stop offset=".486" stop-color="#f5fbaf"/><stop offset=".493" stop-color="#4199b6"/><stop offset=".5" stop-color="#4199b6"/><stop offset=".507" stop-color="#f5fbaf"/><stop offset=".514" stop-color="#f5fbaf"/><stop offset=".521" stop-color="#9e0142"/><stop offset=".666" stop-color="#9e0142"/><stop offset=".679" stop-color="#bb2542"/><stop offset=".686" stop-color="#bd394b"/><stop offset=".728" stop-color="#bf3d4d"/><stop offset=".741" stop-color="#db6751"/><stop offset=".755" stop-color="#e2805e"/><stop offset=".762" stop-color="#f49962"/><stop offset=".769" stop-color="#fcb56a"/><stop offset=".776" stop-color="#fdc373"/><stop offset=".866" stop-color="#fbf8b1"/><stop offset="1" stop-color="#f7fcb2"/></linearGradient><linearGradient id="hd17" x2="0" y2="1"><stop offset="0" stop-color="#f8fcb4"/><stop offset=".086" stop-color="#fafdb7"/><stop offset=".197" stop-color="#fed689"/><stop offset=".238" stop-color="#fcb065"/><stop offset=".252" stop-color="#e6805b"/><stop offset=".259" stop-color="#dd7557"/><stop offset=".293" stop-color="#dd7356"/><stop offset=".307" stop-color="#d04d50"/><stop offset=".314" stop-color="#bc2743"/><stop offset=".328" stop-color="#9e0142"/><stop offset=".472" stop-color="#9e0142"/><stop offset=".479" stop-color="#f5fbaf"/><stop offset=".486" stop-color="#f5fbaf"/><stop offset=".493" stop-color="#4199b6"/><stop offset=".5" stop-color="#4199b6"/><stop offset=".507" stop-color="#f5fbaf"/><stop offset=".514" stop-color="#f5fbaf"/><stop offset=".521" stop-color="#9e0142"/><stop offset=".666" stop-color="#9e0142"/><stop offset=".679" stop-color="#bc2743"/><stop offset=".686" stop-color="#d04d50"/><stop offset=".7" stop-color="#dd7356"/><stop offset=".734" stop-color="#dd7557"/><stop offset=".741" stop-color="#e6805b"/><stop offset=".755" stop-color="#fcb065"/><stop offset=".797" stop-color="#fed689"/><stop offset=".907" stop-color="#fafdb7"/><stop offset="1" stop-color="#f8fcb4"/></linearGradient><linearGradient id="hd18" x2="0" y2="1"><stop offset="0" stop-color="#f8fcb4"/><stop offset=".086" stop-color="#fefcba"/><stop offset=".148" stop-color="#fdb96a"/><stop offset=".176" stop-color="#fdad60"/><stop offset=".231" stop-color="#fdad60"/><stop offset=".238" stop-color="#fb9d59"/><stop offset=".245" stop-color="#ec7251"/><stop offset=".252" stop-color="#ca484f"/><stop offset=".259" stop-color="#bb2743"/><stop offset=".272" stop-color="#9e0142"/><stop offset=".472" stop-color="#9e0142"/><stop offset=".479" stop-color="#f5fbaf"/><stop offset=".486" stop-color="#f5fbaf"/><stop offset=".493" stop-color="#4199b6"/><stop offset=".5" stop-color="#4199b6"/><stop offset=".507" stop-color="#f5fbaf"/><stop offset=".514" stop-color="#f5fbaf"/><stop offset=".521" stop-color="#9e0142"/><stop offset=".721" stop-color="#9e0142"/><stop offset=".734" stop-color="#bb2743"/><stop offset=".741" stop-color="#ca484f"/><stop offset=".748" stop-color="#ec7251"/><stop offset=".755" stop-color="#fb9d59"/><stop offset=".762" stop-color="#fdad60"/><stop offset=".817" stop-color="#fdad60"/><stop offset=".845" stop-color="#fdb96a"/><stop offset=".907" stop-color="#fefcba"/><stop offset="1" stop-color="#f8fcb4"/></linearGradient><linearGradient id="hd19" x2="0" y2="1"><stop offset="0" stop-color="#f7fcb3"/><stop offset=".072" stop-color="#fbfdb9"/><stop offset=".107" stop-color="#fceb9c"/><stop offset=".155" stop-color="#fdbd6e"/><stop offset=".21" stop-color="#fdad60"/><stop offset=".217" stop-color="#fb9d59"/><stop offset=".252" stop-color="#c23f4d"/><stop offset=".259" stop-color="#bd394c"/><stop offset=".266" stop-color="#bb2844"/><stop offset=".279" stop-color="#9f0242"/><stop offset=".307" stop-color="#9e0142"/><stop offset=".472" stop-color="#9e0142"/><stop offset=".479" stop-color="#f5fbaf"/><stop offset=".486" stop-color="#f5fbaf"/><stop offset=".493" stop-color="#4199b6"/><stop offset=".5" stop-color="#4199b6"/><stop offset=".507" stop-color="#f5fbaf"/><stop offset=".514" stop-color="#f5fbaf"/><stop offset=".521" stop-color="#9e0142"/><stop offset=".707" stop-color="#9e0142"/><stop offset=".714" stop-color="#9f0242"/><stop offset=".728" stop-color="#bb2844"/><stop offset=".734" stop-color="#bd394c"/><stop offset=".741" stop-color="#c23f4d"/><stop offset=".776" stop-color="#fb9d59"/><stop offset=".783" stop-color="#fdad60"/><stop offset=".838" stop-color="#fdbd6e"/><stop offset=".886" stop-color="#fceb9c"/><stop offset=".921" stop-color="#fbfdb9"/><stop offset="1" stop-color="#f7fcb3"/></linearGradient><linearGradient id="hd20" x2="0" y2="1"><stop offset="0" stop-color="#f4fbae"/><stop offset=".121" stop-color="#f7fbb2"/><stop offset=".19" stop-color="#f7e294"/><stop offset=".259" stop-color="#fddc93"/><stop offset=".266" stop-color="#fbc887"/><stop offset=".279" stop-color="#df997a"/><stop offset=".314" stop-color="#de8464"/><stop offset=".348" stop-color="#de8161"/><stop offset=".355" stop-color="#dd7356"/><stop offset=".362" stop-color="#d24045"/><stop offset=".369" stop-color="#ae1346"/><stop offset=".376" stop-color="#9e0142"/><stop offset=".403" stop-color="#9e0142"/><stop offset=".472" stop-color="#9e0142"/><stop offset=".479" stop-color="#f5fbaf"/><stop offset=".486" stop-color="#f5fbaf"/><stop offset=".493" stop-color="#4199b6"/><stop offset=".5" stop-color="#4199b6"/><stop offset=".507" stop-color="#f5fbaf"/><stop offset=".514" stop-color="#f5fbaf"/><stop offset=".521" stop-color="#9e0142"/><stop offset=".617" stop-color="#9e0142"/><stop offset=".624" stop-color="#ae1346"/><stop offset=".631" stop-color="#d24045"/><stop offset=".638" stop-color="#dd7356"/><stop offset=".645" stop-color="#de8161"/><stop offset=".679" stop-color="#de8464"/><stop offset=".714" stop-color="#df997a"/><stop offset=".728" stop-color="#fbc887"/><stop offset=".734" stop-color="#fddc93"/><stop offset=".803" stop-color="#f7e294"/><stop offset=".872" stop-color="#f7fbb2"/><stop offset="1" stop-color="#f4fbae"/></linearGradient><linearGradient id="hd21" x2="0" y2="1"><stop offset="0" stop-color="#f5fbaf"/><stop offset=".266" stop-color="#f9fcb5"/><stop offset=".348" stop-color="#fde193"/><stop offset=".355" stop-color="#fed78c"/><stop offset=".362" stop-color="#f7ba82"/><stop offset=".369" stop-color="#e4a180"/><stop offset=".397" stop-color="#de9676"/><stop offset=".403" stop-color="#dd8568"/><stop offset=".417" stop-color="#bf4e5d"/><stop offset=".424" stop-color="#be4c5b"/><stop offset=".472" stop-color="#be4c5b"/><stop offset=".479" stop-color="#f5fbaf"/><stop offset=".486" stop-color="#f5fbaf"/><stop offset=".493" stop-color="#4199b6"/><stop offset=".5" stop-color="#4199b6"/><stop offset=".507" stop-color="#f5fbaf"/><stop offset=".514" stop-color="#f5fbaf"/><stop offset=".521" stop-color="#be4c5b"/><stop offset=".528" stop-color="#be4c5b"/><stop offset=".576" stop-color="#bf4e5d"/><stop offset=".59" stop-color="#dd8568"/><stop offset=".597" stop-color="#de9676"/><stop offset=".624" stop-color="#e4a180"/><stop offset=".631" stop-color="#f7ba82"/><stop offset=".638" stop-color="#fed78c"/><stop offset=".645" stop-color="#fde193"/><stop offset=".728" stop-color="#f9fcb5"/><stop offset="1" stop-color="#f5fbaf"/></linearGradient><linearGradient id="hd22" x2="0" y2="1"><stop offset="0" stop-color="#f6fcb1"/><stop offset=".355" stop-color="#fafcb6"/><stop offset=".438" stop-color="#faed9d"/><stop offset=".466" stop-color="#d0dc9a"/><stop offset=".472" stop-color="#d0dc9b"/><stop offset=".479" stop-color="#c0e4ab"/><stop offset=".486" stop-color="#bfe3aa"/><stop offset=".493" stop-color="#408bb6"/><stop offset=".5" stop-color="#408cb6"/><stop offset=".507" stop-color="#bfe3aa"/><stop offset=".514" stop-color="#c0e4ab"/><stop offset=".521" stop-color="#d0dc9b"/><stop offset=".528" stop-color="#d0dc9a"/><stop offset=".555" stop-color="#f9ec9b"/><stop offset=".638" stop-color="#f9fcb5"/><stop offset="1" stop-color="#f6fcb1"/></linearGradient><linearGradient id="hd23" x2="0" y2="1"><stop offset="0" stop-color="#c5e7a4"/><stop offset=".39" stop-color="#c3e7a6"/><stop offset=".403" stop-color="#a5d3ac"/><stop offset=".417" stop-color="#87acae"/><stop offset=".424" stop-color="#829cb0"/><stop offset=".438" stop-color="#8892aa"/><stop offset=".466" stop-color="#5d82a8"/><stop offset=".486" stop-color="#557caa"/><stop offset=".493" stop-color="#4d65ad"/><stop offset=".5" stop-color="#496aaf"/><stop offset=".507" stop-color="#5280ab"/><stop offset=".528" stop-color="#5a85aa"/><stop offset=".555" stop-color="#8396aa"/><stop offset=".576" stop-color="#7da6b1"/><stop offset=".59" stop-color="#88c0ad"/><stop offset=".603" stop-color="#8ecaab"/><stop offset=".797" stop-color="#90cca9"/><stop offset=".928" stop-color="#b9e3a5"/><stop offset="1" stop-color="#c5e7a4"/></linearGradient><linearGradient id="hd24" x2="0" y2="1"><stop offset="0" stop-color="#7fcba5"/><stop offset=".39" stop-color="#7dcaa5"/><stop offset=".403" stop-color="#5bb5aa"/><stop offset=".417" stop-color="#4984b1"/><stop offset=".431" stop-color="#4d65ad"/><stop offset=".452" stop-color="#525fa9"/><stop offset=".562" stop-color="#4a68ae"/><stop offset=".59" stop-color="#3788bb"/><stop offset=".61" stop-color="#3f96b7"/><stop offset=".79" stop-color="#3f97b7"/><stop offset=".914" stop-color="#6ac0a7"/><stop offset="1" stop-color="#7fcba5"/></linearGradient><linearGradient id="hd25" x2="0" y2="1"><stop offset="0" stop-color="#52abae"/><stop offset=".41" stop-color="#51aaaf"/><stop offset=".417" stop-color="#4ba4b2"/><stop offset=".431" stop-color="#3981b9"/><stop offset=".445" stop-color="#4f62ab"/><stop offset=".452" stop-color="#525fa9"/><stop offset=".541" stop-color="#4d65ad"/><stop offset=".576" stop-color="#3782ba"/><stop offset=".797" stop-color="#3885ba"/><stop offset="1" stop-color="#52abae"/></linearGradient><linearGradient id="hd26" x2="0" y2="1"><stop offset="0" stop-color="#388fba"/><stop offset=".41" stop-color="#388fba"/><stop offset=".424" stop-color="#3986b9"/><stop offset=".445" stop-color="#5062ab"/><stop offset=".452" stop-color="#525fa9"/><stop offset=".541" stop-color="#4d65ad"/><stop offset=".583" stop-color="#3d7ab6"/><stop offset=".797" stop-color="#3c7bb7"/><stop offset="1" stop-color="#388fba"/></linearGradient><linearGradient id="hd27" x2="0" y2="1"><stop offset="0" stop-color="#358bbc"/><stop offset=".403" stop-color="#358bbc"/><stop offset=".417" stop-color="#3880b9"/><stop offset=".431" stop-color="#4a68ae"/><stop offset=".445" stop-color="#525fa9"/><stop offset=".555" stop-color="#4e64ac"/><stop offset=".59" stop-color="#3781ba"/><stop offset="1" stop-color="#358bbc"/></linearGradient><linearGradient id="hd28" x2="0" y2="1"><stop offset="0" stop-color="#348abc"/><stop offset=".397" stop-color="#348abc"/><stop offset=".41" stop-color="#3880b9"/><stop offset=".424" stop-color="#4a68ae"/><stop offset=".438" stop-color="#525fa9"/><stop offset=".562" stop-color="#5061aa"/><stop offset=".583" stop-color="#397fb9"/><stop offset=".597" stop-color="#3388bc"/><stop offset="1" stop-color="#348abc"/></linearGradient><linearGradient id="hd29" x2="0" y2="1"><stop offset="0" stop-color="#3386bc"/><stop offset=".383" stop-color="#3485bc"/><stop offset=".431" stop-color="#525fa9"/><stop offset=".569" stop-color="#5160aa"/><stop offset=".597" stop-color="#3880b9"/><stop offset=".61" stop-color="#3485bc"/><stop offset="1" stop-color="#3386bc"/></linearGradient><linearGradient id="hd30" x2="0" y2="1"><stop offset="0" stop-color="#3486bc"/><stop offset=".383" stop-color="#3485bc"/><stop offset=".431" stop-color="#525fa9"/><stop offset=".569" stop-color="#5160aa"/><stop offset=".61" stop-color="#3485bc"/><stop offset="1" stop-color="#3486bc"/></linearGradient><linearGradient id="hd31" x2="0" y2="1"><stop offset="0" stop-color="#348bbc"/><stop offset=".397" stop-color="#3488bc"/><stop offset=".41" stop-color="#3782ba"/><stop offset=".438" stop-color="#525fa9"/><stop offset=".555" stop-color="#525fa9"/><stop offset=".583" stop-color="#3782ba"/><stop offset=".597" stop-color="#3488bc"/><stop offset="1" stop-color="#348bbc"/></linearGradient><linearGradient id="hd32" x2="0" y2="1"><stop offset="0" stop-color="#378ebb"/><stop offset=".39" stop-color="#358bbc"/><stop offset=".438" stop-color="#525fa9"/><stop offset=".555" stop-color="#525fa9"/><stop offset=".603" stop-color="#358bbc"/><stop offset="1" stop-color="#378ebb"/></linearGradient><linearGradient id="hd33" x2="0" y2="1"><stop offset="0" stop-color="#348bbc"/><stop offset=".383" stop-color="#3388bd"/><stop offset=".41" stop-color="#4e64ac"/><stop offset=".424" stop-color="#525fa9"/><stop offset=".576" stop-color="#515faa"/><stop offset=".61" stop-color="#3388bd"/><stop offset="1" stop-color="#348bbc"/></linearGradient><linearGradient id="hd34" x2="0" y2="1"><stop offset="0" stop-color="#348abc"/><stop offset=".383" stop-color="#3486bc"/><stop offset=".417" stop-color="#4d65ac"/><stop offset=".452" stop-color="#525fa9"/><stop offset=".562" stop-color="#525fa9"/><stop offset=".61" stop-color="#3486bc"/><stop offset="1" stop-color="#348abc"/></linearGradient><linearGradient id="hd35" x2="0" y2="1"><stop offset="0" stop-color="#368dbb"/><stop offset=".397" stop-color="#3488bc"/><stop offset=".41" stop-color="#3683ba"/><stop offset=".438" stop-color="#525fa9"/><stop offset=".555" stop-color="#525fa9"/><stop offset=".583" stop-color="#3683ba"/><stop offset=".597" stop-color="#3488bc"/><stop offset="1" stop-color="#368dbb"/></linearGradient><linearGradient id="hd36" x2="0" y2="1"><stop offset="0" stop-color="#3b92b9"/><stop offset=".403" stop-color="#368dbb"/><stop offset=".41" stop-color="#3486bc"/><stop offset=".431" stop-color="#5062ab"/><stop offset=".438" stop-color="#525fa9"/><stop offset=".555" stop-color="#525fa9"/><stop offset=".562" stop-color="#5062ab"/><stop offset=".583" stop-color="#3486bc"/><stop offset=".597" stop-color="#378ebb"/><stop offset="1" stop-color="#3b92b9"/></linearGradient><linearGradient id="hd37" x2="0" y2="1"><stop offset="0" stop-color="#3f96b7"/><stop offset=".397" stop-color="#3a91b9"/><stop offset=".41" stop-color="#3a7eb8"/><stop offset=".424" stop-color="#4e64ac"/><stop offset=".452" stop-color="#525fa9"/><stop offset=".562" stop-color="#525fa9"/><stop offset=".583" stop-color="#3a7eb8"/><stop offset=".597" stop-color="#3a91b9"/><stop offset="1" stop-color="#3f96b7"/></linearGradient><linearGradient id="hd38" x2="0" y2="1"><stop offset="0" stop-color="#3a91b9"/><stop offset=".397" stop-color="#378abb"/><stop offset=".403" stop-color="#3486bc"/><stop offset=".431" stop-color="#4f62ab"/><stop offset=".459" stop-color="#525fa9"/><stop offset=".555" stop-color="#515faa"/><stop offset=".569" stop-color="#4a68ae"/><stop offset=".59" stop-color="#3486bc"/><stop offset=".597" stop-color="#378abb"/><stop offset="1" stop-color="#3a91b9"/></linearGradient><linearGradient id="hd39" x2="0" y2="1"><stop offset="0" stop-color="#3486bc"/><stop offset=".41" stop-color="#397fb9"/><stop offset=".459" stop-color="#525fa9"/><stop offset=".541" stop-color="#515faa"/><stop offset=".583" stop-color="#397fb9"/><stop offset="1" stop-color="#3486bc"/></linearGradient><linearGradient id="hd40" x2="0" y2="1"><stop offset="0" stop-color="#3589bc"/><stop offset=".417" stop-color="#3781ba"/><stop offset=".459" stop-color="#525fa9"/><stop offset=".541" stop-color="#515faa"/><stop offset=".576" stop-color="#3781ba"/><stop offset="1" stop-color="#3589bc"/></linearGradient><linearGradient id="hd41" x2="0" y2="1"><stop offset="0" stop-color="#3e95b8"/><stop offset=".424" stop-color="#388bba"/><stop offset=".438" stop-color="#3c7eb7"/><stop offset=".452" stop-color="#4c67ad"/><stop offset=".466" stop-color="#525fa9"/><stop offset=".534" stop-color="#5160aa"/><stop offset=".562" stop-color="#3988b9"/><stop offset=".576" stop-color="#388cba"/><stop offset="1" stop-color="#3e95b8"/></linearGradient><linearGradient id="hd42" x2="0" y2="1"><stop offset="0" stop-color="#3f96b7"/><stop offset=".431" stop-color="#368dbb"/><stop offset=".445" stop-color="#3781ba"/><stop offset=".459" stop-color="#4c66ad"/><stop offset=".472" stop-color="#525fa9"/><stop offset=".528" stop-color="#5160aa"/><stop offset=".548" stop-color="#3781ba"/><stop offset=".562" stop-color="#368dbb"/><stop offset="1" stop-color="#3f96b7"/></linearGradient><linearGradient id="hd43" x2="0" y2="1"><stop offset="0" stop-color="#3f97b7"/><stop offset=".431" stop-color="#368dbb"/><stop offset=".438" stop-color="#3388bc"/><stop offset=".459" stop-color="#4d65ac"/><stop offset=".472" stop-color="#525fa9"/><stop offset=".528" stop-color="#515faa"/><stop offset=".555" stop-color="#3388bc"/><stop offset=".562" stop-color="#368dbb"/><stop offset="1" stop-color="#3f97b7"/></linearGradient><linearGradient id="hd44" x2="0" y2="1"><stop offset="0" stop-color="#439bb5"/><stop offset=".417" stop-color="#3990ba"/><stop offset=".431" stop-color="#3788bb"/><stop offset=".452" stop-color="#4e64ac"/><stop offset=".466" stop-color="#525fa9"/><stop offset=".534" stop-color="#515faa"/><stop offset=".562" stop-color="#3788bb"/><stop offset=".576" stop-color="#3990ba"/><stop offset="1" stop-color="#439bb5"/></linearGradient><linearGradient id="hd45" x2="0" y2="1"><stop offset="0" stop-color="#469eb4"/><stop offset=".417" stop-color="#3c93b8"/><stop offset=".424" stop-color="#348bbc"/><stop offset=".445" stop-color="#4f62ab"/><stop offset=".452" stop-color="#525fa9"/><stop offset=".541" stop-color="#525fa9"/><stop offset=".548" stop-color="#4f62ab"/><stop offset=".569" stop-color="#348bbc"/><stop offset=".576" stop-color="#3c93b8"/><stop offset="1" stop-color="#469eb4"/></linearGradient><linearGradient id="hd46" x2="0" y2="1"><stop offset="0" stop-color="#4ba4b1"/><stop offset=".41" stop-color="#4199b6"/><stop offset=".424" stop-color="#368cbb"/><stop offset=".438" stop-color="#486baf"/><stop offset=".452" stop-color="#525fa9"/><stop offset=".548" stop-color="#5061aa"/><stop offset=".569" stop-color="#368cbb"/><stop offset=".583" stop-color="#4199b6"/><stop offset="1" stop-color="#4ba4b1"/></linearGradient><linearGradient id="hd47" x2="0" y2="1"><stop offset="0" stop-color="#4ea7b0"/><stop offset=".41" stop-color="#439bb5"/><stop offset=".424" stop-color="#3587bb"/><stop offset=".438" stop-color="#4c66ad"/><stop offset=".452" stop-color="#525fa9"/><stop offset=".548" stop-color="#515faa"/><stop offset=".555" stop-color="#4c66ad"/><stop offset=".569" stop-color="#3587bb"/><stop offset=".583" stop-color="#439bb5"/><stop offset="1" stop-color="#4ea7b0"/></linearGradient><linearGradient id="hd48" x2="0" y2="1"><stop offset="0" stop-color="#53adae"/><stop offset=".41" stop-color="#479fb3"/><stop offset=".424" stop-color="#3687bb"/><stop offset=".438" stop-color="#4d65ad"/><stop offset=".445" stop-color="#525fa9"/><stop offset=".548" stop-color="#525fa9"/><stop offset=".555" stop-color="#4d65ad"/><stop offset=".569" stop-color="#3687bb"/><stop offset=".583" stop-color="#479fb3"/><stop offset="1" stop-color="#53adae"/></linearGradient><linearGradient id="hd49" x2="0" y2="1"><stop offset="0" stop-color="#58b2ac"/><stop offset=".41" stop-color="#4ba4b1"/><stop offset=".424" stop-color="#449cb5"/><stop offset=".431" stop-color="#3d8cb8"/><stop offset=".445" stop-color="#4a68ae"/><stop offset=".459" stop-color="#525fa9"/><stop offset=".541" stop-color="#5160aa"/><stop offset=".548" stop-color="#4a68ae"/><stop offset=".562" stop-color="#3d8cb8"/><stop offset=".569" stop-color="#449cb5"/><stop offset=".583" stop-color="#4ba4b1"/><stop offset="1" stop-color="#58b2ac"/></linearGradient><linearGradient id="hd50" x2="0" y2="1"><stop offset="0" stop-color="#5ab5aa"/><stop offset=".424" stop-color="#4ea7b0"/><stop offset=".431" stop-color="#4aa3b2"/><stop offset=".445" stop-color="#3c88b7"/><stop offset=".459" stop-color="#4c67ad"/><stop offset=".472" stop-color="#525fa9"/><stop offset=".528" stop-color="#5160aa"/><stop offset=".534" stop-color="#4c67ad"/><stop offset=".548" stop-color="#3c88b7"/><stop offset=".562" stop-color="#4aa3b2"/><stop offset=".569" stop-color="#4ea7b0"/><stop offset="1" stop-color="#5ab5aa"/></linearGradient><linearGradient id="hd51" x2="0" y2="1"><stop offset="0" stop-color="#55afad"/><stop offset=".438" stop-color="#48a1b3"/><stop offset=".452" stop-color="#3489bc"/><stop offset=".466" stop-color="#4d65ad"/><stop offset=".472" stop-color="#525fa9"/><stop offset=".521" stop-color="#525fa9"/><stop offset=".528" stop-color="#4d65ad"/><stop offset=".541" stop-color="#3489bc"/><stop offset=".555" stop-color="#48a1b3"/><stop offset="1" stop-color="#55afad"/></linearGradient><linearGradient id="hd52" x2="0" y2="1"><stop offset="0" stop-color="#5cb7a9"/><stop offset=".431" stop-color="#50a9af"/><stop offset=".438" stop-color="#4ea7b0"/><stop offset=".452" stop-color="#3488bc"/><stop offset=".466" stop-color="#4e63ac"/><stop offset=".472" stop-color="#525fa9"/><stop offset=".528" stop-color="#4e63ac"/><stop offset=".541" stop-color="#3488bc"/><stop offset=".555" stop-color="#4ea7b0"/><stop offset=".562" stop-color="#50a9af"/><stop offset="1" stop-color="#5cb7a9"/></linearGradient><linearGradient id="hd53" x2="0" y2="1"><stop offset="0" stop-color="#69c2a6"/><stop offset=".431" stop-color="#5ab5aa"/><stop offset=".438" stop-color="#52acae"/><stop offset=".452" stop-color="#397fb9"/><stop offset=".459" stop-color="#496aaf"/><stop offset=".472" stop-color="#525fa9"/><stop offset=".528" stop-color="#515faa"/><stop offset=".541" stop-color="#397fb9"/><stop offset=".555" stop-color="#52acae"/><stop offset=".562" stop-color="#5ab5aa"/><stop offset="1" stop-color="#69c2a6"/></linearGradient><linearGradient id="hd54" x2="0" y2="1"><stop offset="0" stop-color="#74c8a5"/><stop offset=".431" stop-color="#64c0a6"/><stop offset=".438" stop-color="#59b4ab"/><stop offset=".452" stop-color="#397fb9"/><stop offset=".459" stop-color="#4a68ae"/><stop offset=".472" stop-color="#525fa9"/><stop offset=".528" stop-color="#515faa"/><stop offset=".534" stop-color="#4a68ae"/><stop offset=".541" stop-color="#397fb9"/><stop offset=".555" stop-color="#59b4ab"/><stop offset=".562" stop-color="#64c0a6"/><stop offset="1" stop-color="#74c8a5"/></linearGradient><linearGradient id="hd55" x2="0" y2="1"><stop offset="0" stop-color="#6bc3a6"/><stop offset=".431" stop-color="#5db8a9"/><stop offset=".438" stop-color="#59b4ab"/><stop offset=".452" stop-color="#3587bb"/><stop offset=".466" stop-color="#5061aa"/><stop offset=".472" stop-color="#525fa9"/><stop offset=".528" stop-color="#5061aa"/><stop offset=".541" stop-color="#3587bb"/><stop offset=".555" stop-color="#59b4ab"/><stop offset=".562" stop-color="#5db8a9"/><stop offset="1" stop-color="#6bc3a6"/></linearGradient><linearGradient id="hd56" x2="0" y2="1"><stop offset="0" stop-color="#65c0a6"/><stop offset=".424" stop-color="#58b2ac"/><stop offset=".438" stop-color="#4da6b1"/><stop offset=".445" stop-color="#3a90b9"/><stop offset=".459" stop-color="#4c66ad"/><stop offset=".472" stop-color="#525fa9"/><stop offset=".528" stop-color="#515faa"/><stop offset=".534" stop-color="#4c66ad"/><stop offset=".548" stop-color="#3a90b9"/><stop offset=".555" stop-color="#4da6b1"/><stop offset=".569" stop-color="#58b2ac"/><stop offset="1" stop-color="#65c0a6"/></linearGradient><linearGradient id="hd57" x2="0" y2="1"><stop offset="0" stop-color="#73c7a5"/><stop offset=".424" stop-color="#64bfa7"/><stop offset=".431" stop-color="#5bb6aa"/><stop offset=".445" stop-color="#3682ba"/><stop offset=".452" stop-color="#496baf"/><stop offset=".466" stop-color="#525fa9"/><stop offset=".534" stop-color="#515faa"/><stop offset=".541" stop-color="#496baf"/><stop offset=".548" stop-color="#3682ba"/><stop offset=".562" stop-color="#5bb6aa"/><stop offset=".569" stop-color="#64bfa7"/><stop offset="1" stop-color="#73c7a5"/></linearGradient><linearGradient id="hd58" x2="0" y2="1"><stop offset="0" stop-color="#7ccaa5"/><stop offset=".424" stop-color="#6bc4a5"/><stop offset=".438" stop-color="#5ab4ab"/><stop offset=".445" stop-color="#489db3"/><stop offset=".452" stop-color="#4381b3"/><stop offset=".459" stop-color="#486cb0"/><stop offset=".472" stop-color="#525fa9"/><stop offset=".528" stop-color="#5062ab"/><stop offset=".534" stop-color="#486cb0"/><stop offset=".548" stop-color="#489db3"/><stop offset=".555" stop-color="#5ab4ab"/><stop offset=".569" stop-color="#6bc4a5"/><stop offset="1" stop-color="#7ccaa5"/></linearGradient><linearGradient id="hd59" x2="0" y2="1"><stop offset="0" stop-color="#7fcca5"/><stop offset=".438" stop-color="#6cc4a5"/><stop offset=".452" stop-color="#5bb4ab"/><stop offset=".466" stop-color="#4180b5"/><stop offset=".479" stop-color="#5160aa"/><stop offset=".493" stop-color="#525fa9"/><stop offset=".514" stop-color="#5160aa"/><stop offset=".521" stop-color="#496baf"/><stop offset=".528" stop-color="#4180b5"/><stop offset=".541" stop-color="#5bb4ab"/><stop offset=".555" stop-color="#6cc4a5"/><stop offset="1" stop-color="#7fcca5"/></linearGradient><linearGradient id="hd60" x2="0" y2="1"><stop offset="0" stop-color="#7ecca5"/><stop offset=".452" stop-color="#6cc4a5"/><stop offset=".459" stop-color="#5cb7a9"/><stop offset=".466" stop-color="#439bb5"/><stop offset=".472" stop-color="#3b7cb8"/><stop offset=".479" stop-color="#4d65ad"/><stop offset=".5" stop-color="#525fa9"/><stop offset=".514" stop-color="#4d65ad"/><stop offset=".521" stop-color="#3b7cb8"/><stop offset=".528" stop-color="#439bb5"/><stop offset=".534" stop-color="#5cb7a9"/><stop offset=".541" stop-color="#6cc4a5"/><stop offset="1" stop-color="#7ecca5"/></linearGradient><linearGradient id="hd61" x2="0" y2="1"><stop offset="0" stop-color="#8ad0a4"/><stop offset=".445" stop-color="#75c8a5"/><stop offset=".452" stop-color="#68bfa7"/><stop offset=".466" stop-color="#3f88b6"/><stop offset=".472" stop-color="#466eb0"/><stop offset=".486" stop-color="#525fa9"/><stop offset=".514" stop-color="#5061aa"/><stop offset=".521" stop-color="#466eb0"/><stop offset=".528" stop-color="#3f88b6"/><stop offset=".541" stop-color="#68bfa7"/><stop offset=".548" stop-color="#75c8a5"/><stop offset="1" stop-color="#8ad0a4"/></linearGradient><linearGradient id="hd62" x2="0" y2="1"><stop offset="0" stop-color="#8dd1a4"/><stop offset=".431" stop-color="#7bcaa5"/><stop offset=".438" stop-color="#72c7a5"/><stop offset=".452" stop-color="#4297b5"/><stop offset=".459" stop-color="#4378b3"/><stop offset=".472" stop-color="#525fa9"/><stop offset=".528" stop-color="#4d65ad"/><stop offset=".534" stop-color="#4378b3"/><stop offset=".541" stop-color="#4297b5"/><stop offset=".555" stop-color="#72c7a5"/><stop offset=".562" stop-color="#7bcaa5"/><stop offset="1" stop-color="#8dd1a4"/></linearGradient><linearGradient id="hd63" x2="0" y2="1"><stop offset="0" stop-color="#8fd2a4"/><stop offset=".431" stop-color="#7ecca5"/><stop offset=".438" stop-color="#76c8a5"/><stop offset=".452" stop-color="#469bb3"/><stop offset=".466" stop-color="#4c67ad"/><stop offset=".479" stop-color="#525fa9"/><stop offset=".521" stop-color="#515faa"/><stop offset=".528" stop-color="#4c67ad"/><stop offset=".541" stop-color="#469bb3"/><stop offset=".555" stop-color="#76c8a5"/><stop offset=".562" stop-color="#7ecca5"/><stop offset="1" stop-color="#8fd2a4"/></linearGradient><linearGradient id="hd64" x2="0" y2="1"><stop offset="0" stop-color="#9cd7a4"/><stop offset=".445" stop-color="#88cfa5"/><stop offset=".452" stop-color="#71c5a6"/><stop offset=".466" stop-color="#3882ba"/><stop offset=".472" stop-color="#4c66ad"/><stop offset=".493" stop-color="#525fa9"/><stop offset=".514" stop-color="#525fa9"/><stop offset=".521" stop-color="#4c66ad"/><stop offset=".528" stop-color="#3882ba"/><stop offset=".541" stop-color="#71c5a6"/><stop offset=".548" stop-color="#88cfa5"/><stop offset="1" stop-color="#9cd7a4"/></linearGradient><linearGradient id="hd65" x2="0" y2="1"><stop offset="0" stop-color="#9ed8a4"/><stop offset=".438" stop-color="#8cd1a4"/><stop offset=".445" stop-color="#84cea5"/><stop offset=".452" stop-color="#66bea7"/><stop offset=".459" stop-color="#449cb5"/><stop offset=".466" stop-color="#3e79b6"/><stop offset=".472" stop-color="#4f62ab"/><stop offset=".5" stop-color="#525fa9"/><stop offset=".521" stop-color="#4f62ab"/><stop offset=".528" stop-color="#3e79b6"/><stop offset=".534" stop-color="#449cb5"/><stop offset=".541" stop-color="#66bea7"/><stop offset=".548" stop-color="#84cea5"/><stop offset=".555" stop-color="#8cd1a4"/><stop offset="1" stop-color="#9ed8a4"/></linearGradient><linearGradient id="hd66" x2="0" y2="1"><stop offset="0" stop-color="#a1d9a4"/><stop offset=".438" stop-color="#90d3a4"/><stop offset=".445" stop-color="#7dcba5"/><stop offset=".452" stop-color="#5ab4ab"/><stop offset=".459" stop-color="#368cbb"/><stop offset=".466" stop-color="#486cb0"/><stop offset=".472" stop-color="#525fa9"/><stop offset=".521" stop-color="#525fa9"/><stop offset=".528" stop-color="#486cb0"/><stop offset=".534" stop-color="#368cbb"/><stop offset=".541" stop-color="#5ab4ab"/><stop offset=".548" stop-color="#7dcba5"/><stop offset=".555" stop-color="#90d3a4"/><stop offset="1" stop-color="#a1d9a4"/></linearGradient><linearGradient id="hd67" x2="0" y2="1"><stop offset="0" stop-color="#aadda4"/><stop offset=".445" stop-color="#95d4a4"/><stop offset=".452" stop-color="#83cca5"/><stop offset=".466" stop-color="#4d96b0"/><stop offset=".472" stop-color="#4a77af"/><stop offset=".479" stop-color="#4d65ad"/><stop offset=".493" stop-color="#525fa9"/><stop offset=".514" stop-color="#4d65ad"/><stop offset=".521" stop-color="#4a77af"/><stop offset=".528" stop-color="#4d96b0"/><stop offset=".541" stop-color="#83cca5"/><stop offset=".548" stop-color="#95d4a4"/><stop offset=".555" stop-color="#99d6a4"/><stop offset="1" stop-color="#aadda4"/></linearGradient><linearGradient id="hd68" x2="0" y2="1"><stop offset="0" stop-color="#b3e0a2"/><stop offset=".459" stop-color="#9fd8a4"/><stop offset=".466" stop-color="#8ad0a4"/><stop offset=".472" stop-color="#63b8aa"/><stop offset=".479" stop-color="#4692b3"/><stop offset=".486" stop-color="#456fb1"/><stop offset=".493" stop-color="#5160aa"/><stop offset=".5" stop-color="#5160aa"/><stop offset=".507" stop-color="#456fb1"/><stop offset=".514" stop-color="#4692b3"/><stop offset=".521" stop-color="#63b8aa"/><stop offset=".528" stop-color="#8ad0a4"/><stop offset=".534" stop-color="#9fd8a4"/><stop offset=".541" stop-color="#a3daa4"/><stop offset="1" stop-color="#b3e0a2"/></linearGradient><linearGradient id="hd69" x2="0" y2="1"><stop offset="0" stop-color="#b0dfa3"/><stop offset=".459" stop-color="#9fd8a4"/><stop offset=".466" stop-color="#8fd2a4"/><stop offset=".472" stop-color="#68bfa7"/><stop offset=".479" stop-color="#4197b6"/><stop offset=".486" stop-color="#4471b2"/><stop offset=".493" stop-color="#5160aa"/><stop offset=".5" stop-color="#5160aa"/><stop offset=".507" stop-color="#4471b2"/><stop offset=".514" stop-color="#4197b6"/><stop offset=".521" stop-color="#68bfa7"/><stop offset=".528" stop-color="#8fd2a4"/><stop offset=".534" stop-color="#9fd8a4"/><stop offset="1" stop-color="#b0dfa3"/></linearGradient><linearGradient id="hd70" x2="0" y2="1"><stop offset="0" stop-color="#b5e1a2"/><stop offset=".452" stop-color="#a4daa4"/><stop offset=".459" stop-color="#94d4a4"/><stop offset=".466" stop-color="#6cc1a7"/><stop offset=".472" stop-color="#439bb5"/><stop offset=".479" stop-color="#4274b3"/><stop offset=".486" stop-color="#5061aa"/><stop offset=".5" stop-color="#525fa9"/><stop offset=".507" stop-color="#5061aa"/><stop offset=".514" stop-color="#4274b3"/><stop offset=".521" stop-color="#439bb5"/><stop offset=".528" stop-color="#6cc1a7"/><stop offset=".534" stop-color="#94d4a4"/><stop offset=".541" stop-color="#a4daa4"/><stop offset="1" stop-color="#b5e1a2"/></linearGradient><linearGradient id="hd71" x2="0" y2="1"><stop offset="0" stop-color="#bfe5a0"/><stop offset=".445" stop-color="#aedea3"/><stop offset=".452" stop-color="#abdda4"/><stop offset=".459" stop-color="#89d0a4"/><stop offset=".466" stop-color="#57b1ac"/><stop offset=".472" stop-color="#3683bb"/><stop offset=".479" stop-color="#4d65ac"/><stop offset=".486" stop-color="#525fa9"/><stop offset=".514" stop-color="#4d65ac"/><stop offset=".521" stop-color="#3683bb"/><stop offset=".528" stop-color="#57b1ac"/><stop offset=".534" stop-color="#89d0a4"/><stop offset=".541" stop-color="#abdda4"/><stop offset=".548" stop-color="#aedea3"/><stop offset="1" stop-color="#bfe5a0"/></linearGradient><linearGradient id="hd72" x2="0" y2="1"><stop offset="0" stop-color="#bfe5a0"/><stop offset=".452" stop-color="#aedea3"/><stop offset=".459" stop-color="#97d5a4"/><stop offset=".466" stop-color="#67bea8"/><stop offset=".472" stop-color="#3e92b7"/><stop offset=".479" stop-color="#476db0"/><stop offset=".486" stop-color="#515faa"/><stop offset=".5" stop-color="#525fa9"/><stop offset=".507" stop-color="#515faa"/><stop offset=".514" stop-color="#476db0"/><stop offset=".521" stop-color="#3e92b7"/><stop offset=".528" stop-color="#67bea8"/><stop offset=".534" stop-color="#97d5a4"/><stop offset=".541" stop-color="#aedea3"/><stop offset="1" stop-color="#bfe5a0"/></linearGradient><linearGradient id="hd73" x2="0" y2="1"><stop offset="0" stop-color="#c7e89e"/><stop offset=".459" stop-color="#b4e1a2"/><stop offset=".466" stop-color="#96d5a4"/><stop offset=".472" stop-color="#64baa9"/><stop offset=".479" stop-color="#3f8cb6"/><stop offset=".486" stop-color="#4a69ae"/><stop offset=".493" stop-color="#525fa9"/><stop offset=".507" stop-color="#4a69ae"/><stop offset=".514" stop-color="#3f8cb6"/><stop offset=".521" stop-color="#64baa9"/><stop offset=".528" stop-color="#96d5a4"/><stop offset=".534" stop-color="#b4e1a2"/><stop offset="1" stop-color="#c7e89e"/></linearGradient><linearGradient id="hd74" x2="0" y2="1"><stop offset="0" stop-color="#cfec9d"/><stop offset=".459" stop-color="#c2e69f"/><stop offset=".466" stop-color="#b5e1a2"/><stop offset=".472" stop-color="#87cfa5"/><stop offset=".479" stop-color="#50aaaf"/><stop offset=".486" stop-color="#3d79b6"/><stop offset=".493" stop-color="#5160aa"/><stop offset=".5" stop-color="#5160aa"/><stop offset=".507" stop-color="#3d79b6"/><stop offset=".514" stop-color="#50aaaf"/><stop offset=".521" stop-color="#87cfa5"/><stop offset=".528" stop-color="#b5e1a2"/><stop offset=".534" stop-color="#c2e69f"/><stop offset="1" stop-color="#cfec9d"/></linearGradient><linearGradient id="hd75" x2="0" y2="1"><stop offset="0" stop-color="#d3ed9c"/><stop offset=".459" stop-color="#c6e89e"/><stop offset=".466" stop-color="#c3e79f"/><stop offset=".472" stop-color="#a5dba3"/><stop offset=".479" stop-color="#6dc2a7"/><stop offset=".486" stop-color="#3f92b7"/><stop offset=".493" stop-color="#496aaf"/><stop offset=".5" stop-color="#496aaf"/><stop offset=".507" stop-color="#3f92b7"/><stop offset=".514" stop-color="#6dc2a7"/><stop offset=".521" stop-color="#a5dba3"/><stop offset=".528" stop-color="#c3e79f"/><stop offset=".534" stop-color="#c6e89e"/><stop offset="1" stop-color="#d3ed9c"/></linearGradient><linearGradient id="hd76" x2="0" y2="1"><stop offset="0" stop-color="#d0ec9c"/><stop offset=".466" stop-color="#c4e79f"/><stop offset=".472" stop-color="#bce4a1"/><stop offset=".479" stop-color="#92d3a4"/><stop offset=".486" stop-color="#58b3ab"/><stop offset=".493" stop-color="#3981b9"/><stop offset=".5" stop-color="#3981b9"/><stop offset=".507" stop-color="#58b3ab"/><stop offset=".514" stop-color="#92d3a4"/><stop offset=".521" stop-color="#bce4a1"/><stop offset=".528" stop-color="#c4e79f"/><stop offset="1" stop-color="#d0ec9c"/></linearGradient><linearGradient id="hd77" x2="0" y2="1"><stop offset="0" stop-color="#d7ef9b"/><stop offset=".472" stop-color="#c9e99e"/><stop offset=".479" stop-color="#acdea3"/><stop offset=".486" stop-color="#72c6a5"/><stop offset=".493" stop-color="#3e95b8"/><stop offset=".5" stop-color="#3e95b8"/><stop offset=".507" stop-color="#72c6a5"/><stop offset=".514" stop-color="#acdea3"/><stop offset=".521" stop-color="#c9e99e"/><stop offset="1" stop-color="#d7ef9b"/></linearGradient><linearGradient id="hd78" x2="0" y2="1"><stop offset="0" stop-color="#dff299"/><stop offset=".472" stop-color="#d3ed9c"/><stop offset=".479" stop-color="#c2e69f"/><stop offset=".486" stop-color="#8ed2a4"/><stop offset=".493" stop-color="#50aaaf"/><stop offset=".5" stop-color="#50aaaf"/><stop offset=".507" stop-color="#8ed2a4"/><stop offset=".514" stop-color="#c2e69f"/><stop offset=".521" stop-color="#d3ed9c"/><stop offset="1" stop-color="#dff299"/></linearGradient><linearGradient id="hd79" x2="0" y2="1"><stop offset="0" stop-color="#daf09a"/><stop offset=".472" stop-color="#d0ec9c"/><stop offset=".479" stop-color="#cbea9d"/><stop offset=".486" stop-color="#a7dca3"/><stop offset=".493" stop-color="#69c0a7"/><stop offset=".5" stop-color="#69c0a7"/><stop offset=".507" stop-color="#a7dca3"/><stop offset=".514" stop-color="#cbea9d"/><stop offset=".521" stop-color="#d0ec9c"/><stop offset="1" stop-color="#daf09a"/></linearGradient><linearGradient id="hd80" x2="0" y2="1"><stop offset="0" stop-color="#ddf19a"/><stop offset=".479" stop-color="#d3ed9c"/><stop offset=".486" stop-color="#bde4a0"/><stop offset=".493" stop-color="#86cea5"/><stop offset=".5" stop-color="#86cea5"/><stop offset=".507" stop-color="#bde4a0"/><stop offset=".514" stop-color="#d3ed9c"/><stop offset="1" stop-color="#ddf19a"/></linearGradient><linearGradient id="hd81" x2="0" y2="1"><stop offset="0" stop-color="#e4f498"/><stop offset=".479" stop-color="#dbf19a"/><stop offset=".486" stop-color="#c6e89f"/><stop offset=".493" stop-color="#8dd1a4"/><stop offset=".5" stop-color="#8dd1a4"/><stop offset=".507" stop-color="#c6e89f"/><stop offset=".514" stop-color="#dbf19a"/><stop offset="1" stop-color="#e4f498"/></linearGradient><linearGradient id="hd82" x2="0" y2="1"><stop offset="0" stop-color="#eaf79e"/><stop offset=".479" stop-color="#e6f59c"/><stop offset=".486" stop-color="#d0ec9c"/><stop offset=".493" stop-color="#97d5a4"/><stop offset=".5" stop-color="#97d5a4"/><stop offset=".507" stop-color="#d0ec9c"/><stop offset=".514" stop-color="#e6f59c"/><stop offset="1" stop-color="#eaf79e"/></linearGradient><linearGradient id="hd83" x2="0" y2="1"><stop offset="0" stop-color="#eef8a5"/><stop offset=".479" stop-color="#ecf7a1"/><stop offset=".486" stop-color="#daf09a"/><stop offset=".493" stop-color="#a0d9a4"/><stop offset=".5" stop-color="#a0d9a4"/><stop offset=".507" stop-color="#daf09a"/><stop offset=".514" stop-color="#ecf7a1"/><stop offset="1" stop-color="#eef8a5"/></linearGradient><linearGradient id="hd84" x2="0" y2="1"><stop offset="0" stop-color="#edf8a2"/><stop offset=".479" stop-color="#eaf79f"/><stop offset=".486" stop-color="#d8ef9b"/><stop offset=".493" stop-color="#9dd8a4"/><stop offset=".5" stop-color="#9dd8a4"/><stop offset=".507" stop-color="#d8ef9b"/><stop offset=".514" stop-color="#eaf79f"/><stop offset="1" stop-color="#edf8a2"/></linearGradient><linearGradient id="hd85" x2="0" y2="1"><stop offset="0" stop-color="#ebf7a0"/><stop offset=".479" stop-color="#e9f69d"/><stop offset=".486" stop-color="#d6ee9b"/><stop offset=".493" stop-color="#9cd7a4"/><stop offset=".5" stop-color="#9cd7a4"/><stop offset=".507" stop-color="#d6ee9b"/><stop offset=".514" stop-color="#e9f69d"/><stop offset="1" stop-color="#ebf7a0"/></linearGradient><linearGradient id="hd86" x2="0" y2="1"><stop offset="0" stop-color="#ebf79f"/><stop offset=".479" stop-color="#e9f69d"/><stop offset=".486" stop-color="#d5ee9b"/><stop offset=".493" stop-color="#9ad6a4"/><stop offset=".5" stop-color="#9ad6a4"/><stop offset=".507" stop-color="#d5ee9b"/><stop offset=".514" stop-color="#e9f69d"/><stop offset="1" stop-color="#ebf79f"/></linearGradient><linearGradient id="hd87" x2="0" y2="1"><stop offset="0" stop-color="#ebf7a0"/><stop offset=".479" stop-color="#eaf79e"/><stop offset=".486" stop-color="#d7ef9b"/><stop offset=".493" stop-color="#9dd8a4"/><stop offset=".5" stop-color="#9dd8a4"/><stop offset=".507" stop-color="#d7ef9b"/><stop offset=".514" stop-color="#eaf79e"/><stop offset="1" stop-color="#ebf7a0"/></linearGradient><linearGradient id="hd88" x2="0" y2="1"><stop offset="0" stop-color="#edf8a3"/><stop offset=".479" stop-color="#ecf7a2"/><stop offset=".486" stop-color="#dcf19a"/><stop offset=".493" stop-color="#a1d9a4"/><stop offset=".5" stop-color="#a1d9a4"/><stop offset=".507" stop-color="#dcf19a"/><stop offset=".514" stop-color="#ecf7a2"/><stop offset="1" stop-color="#edf8a3"/></linearGradient><linearGradient id="hd89" x2="0" y2="1"><stop offset="0" stop-color="#ecf7a1"/><stop offset=".479" stop-color="#ebf79f"/><stop offset=".486" stop-color="#d9f09b"/><stop offset=".493" stop-color="#9dd8a4"/><stop offset=".5" stop-color="#9dd8a4"/><stop offset=".507" stop-color="#d9f09b"/><stop offset=".514" stop-color="#ebf79f"/><stop offset="1" stop-color="#ecf7a1"/></linearGradient><linearGradient id="hd90" x2="0" y2="1"><stop offset="0" stop-color="#edf8a3"/><stop offset=".479" stop-color="#ecf7a2"/><stop offset=".486" stop-color="#dcf19a"/><stop offset=".493" stop-color="#a0d9a4"/><stop offset=".5" stop-color="#a0d9a4"/><stop offset=".507" stop-color="#dcf19a"/><stop offset=".514" stop-color="#ecf7a2"/><stop offset="1" stop-color="#edf8a3"/></linearGradient><linearGradient id="hd91" x2="0" y2="1"><stop offset="0" stop-color="#eff9a6"/><stop offset=".479" stop-color="#eef8a5"/><stop offset=".486" stop-color="#e2f399"/><stop offset=".493" stop-color="#a5dba4"/><stop offset=".5" stop-color="#a5dba4"/><stop offset=".507" stop-color="#e2f399"/><stop offset=".514" stop-color="#eef8a5"/><stop offset="1" stop-color="#eff9a6"/></linearGradient><linearGradient id="hd92" x2="0" y2="1"><stop offset="0" stop-color="#edf8a2"/><stop offset=".479" stop-color="#ecf7a2"/><stop offset=".486" stop-color="#ddf19a"/><stop offset=".493" stop-color="#a1d9a4"/><stop offset=".5" stop-color="#a1d9a4"/><stop offset=".507" stop-color="#ddf19a"/><stop offset=".514" stop-color="#ecf7a2"/><stop offset="1" stop-color="#edf8a2"/></linearGradient><linearGradient id="hd93" x2="0" y2="1"><stop offset="0" stop-color="#ecf7a1"/><stop offset=".479" stop-color="#ecf7a1"/><stop offset=".486" stop-color="#ddf19a"/><stop offset=".493" stop-color="#a1d9a4"/><stop offset=".5" stop-color="#a1d9a4"/><stop offset=".507" stop-color="#ddf19a"/><stop offset=".514" stop-color="#ecf7a1"/><stop offset="1" stop-color="#ecf7a1"/></linearGradient><linearGradient id="hd94" x2="0" y2="1"><stop offset="0" stop-color="#f0f9a7"/><stop offset=".479" stop-color="#eff9a7"/><stop offset=".486" stop-color="#e4f498"/><stop offset=".493" stop-color="#a8dca4"/><stop offset=".5" stop-color="#a8dca4"/><stop offset=".507" stop-color="#e4f498"/><stop offset=".514" stop-color="#eff9a7"/><stop offset="1" stop-color="#f0f9a7"/></linearGradient><linearGradient id="hd95" x2="0" y2="1"><stop offset="0" stop-color="#eef8a5"/><stop offset=".479" stop-color="#eef8a5"/><stop offset=".486" stop-color="#e1f399"/><stop offset=".493" stop-color="#a5dba4"/><stop offset=".5" stop-color="#a5dba4"/><stop offset=".507" stop-color="#e1f399"/><stop offset=".514" stop-color="#eef8a5"/><stop offset="1" stop-color="#eef8a5"/></linearGradient><linearGradient id="hd96" x2="0" y2="1"><stop offset="0" stop-color="#ecf7a1"/><stop offset=".479" stop-color="#ecf7a1"/><stop offset=".486" stop-color="#dbf19a"/><stop offset=".493" stop-color="#a0d9a4"/><stop offset=".5" stop-color="#a0d9a4"/><stop offset=".507" stop-color="#dbf19a"/><stop offset=".514" stop-color="#ecf7a1"/><stop offset="1" stop-color="#ecf7a1"/></linearGradient><linearGradient id="hd97" x2="0" y2="1"><stop offset="0" stop-color="#eaf79e"/><stop offset=".479" stop-color="#eaf79e"/><stop offset=".486" stop-color="#d8ef9b"/><stop offset=".493" stop-color="#9cd7a4"/><stop offset=".5" stop-color="#9cd7a4"/><stop offset=".507" stop-color="#d8ef9b"/><stop offset=".514" stop-color="#eaf79e"/><stop offset="1" stop-color="#eaf79e"/></linearGradient></defs><rect x="405.70" y="694.8" width="2.30" height="144.70" fill="url(#hd0)"/><rect x="407.70" y="694.8" width="2.30" height="144.70" fill="url(#hd1)"/><rect x="409.70" y="694.8" width="2.30" height="144.70" fill="url(#hd2)"/><rect x="411.70" y="694.8" width="2.30" height="144.70" fill="url(#hd3)"/><rect x="413.70" y="694.8" width="2.30" height="144.70" fill="url(#hd4)"/><rect x="415.70" y="694.8" width="2.30" height="144.70" fill="url(#hd5)"/><rect x="417.70" y="694.8" width="2.30" height="144.70" fill="url(#hd6)"/><rect x="419.70" y="694.8" width="2.30" height="144.70" fill="url(#hd7)"/><rect x="421.70" y="694.8" width="2.30" height="144.70" fill="url(#hd8)"/><rect x="423.70" y="694.8" width="2.30" height="144.70" fill="url(#hd9)"/><rect x="425.70" y="694.8" width="2.30" height="144.70" fill="url(#hd10)"/><rect x="427.70" y="694.8" width="2.30" height="144.70" fill="url(#hd11)"/><rect x="429.70" y="694.8" width="2.30" height="144.70" fill="url(#hd12)"/><rect x="431.70" y="694.8" width="2.30" height="144.70" fill="url(#hd13)"/><rect x="433.70" y="694.8" width="2.30" height="144.70" fill="url(#hd14)"/><rect x="435.70" y="694.8" width="2.30" height="144.70" fill="url(#hd15)"/><rect x="437.70" y="694.8" width="2.30" height="144.70" fill="url(#hd16)"/><rect x="439.70" y="694.8" width="2.30" height="144.70" fill="url(#hd17)"/><rect x="441.70" y="694.8" width="2.30" height="144.70" fill="url(#hd18)"/><rect x="443.70" y="694.8" width="2.30" height="144.70" fill="url(#hd19)"/><rect x="445.70" y="694.8" width="2.30" height="144.70" fill="url(#hd20)"/><rect x="447.70" y="694.8" width="2.30" height="144.70" fill="url(#hd21)"/><rect x="449.70" y="694.8" width="2.30" height="144.70" fill="url(#hd22)"/><rect x="451.70" y="694.8" width="2.30" height="144.70" fill="url(#hd23)"/><rect x="453.70" y="694.8" width="2.30" height="144.70" fill="url(#hd24)"/><rect x="455.70" y="694.8" width="2.30" height="144.70" fill="url(#hd25)"/><rect x="457.70" y="694.8" width="2.30" height="144.70" fill="url(#hd26)"/><rect x="459.70" y="694.8" width="2.30" height="144.70" fill="url(#hd27)"/><rect x="461.70" y="694.8" width="2.30" height="144.70" fill="url(#hd28)"/><rect x="463.70" y="694.8" width="2.30" height="144.70" fill="url(#hd29)"/><rect x="465.70" y="694.8" width="2.30" height="144.70" fill="url(#hd30)"/><rect x="467.70" y="694.8" width="2.30" height="144.70" fill="url(#hd31)"/><rect x="469.70" y="694.8" width="2.30" height="144.70" fill="url(#hd32)"/><rect x="471.70" y="694.8" width="2.30" height="144.70" fill="url(#hd33)"/><rect x="473.70" y="694.8" width="2.30" height="144.70" fill="url(#hd34)"/><rect x="475.70" y="694.8" width="2.30" height="144.70" fill="url(#hd35)"/><rect x="477.70" y="694.8" width="2.30" height="144.70" fill="url(#hd36)"/><rect x="479.70" y="694.8" width="2.30" height="144.70" fill="url(#hd37)"/><rect x="481.70" y="694.8" width="2.30" height="144.70" fill="url(#hd38)"/><rect x="483.70" y="694.8" width="2.30" height="144.70" fill="url(#hd39)"/><rect x="485.70" y="694.8" width="2.30" height="144.70" fill="url(#hd40)"/><rect x="487.70" y="694.8" width="2.30" height="144.70" fill="url(#hd41)"/><rect x="489.70" y="694.8" width="2.30" height="144.70" fill="url(#hd42)"/><rect x="491.70" y="694.8" width="2.30" height="144.70" fill="url(#hd43)"/><rect x="493.70" y="694.8" width="2.30" height="144.70" fill="url(#hd44)"/><rect x="495.70" y="694.8" width="2.30" height="144.70" fill="url(#hd45)"/><rect x="497.70" y="694.8" width="2.30" height="144.70" fill="url(#hd46)"/><rect x="499.70" y="694.8" width="2.30" height="144.70" fill="url(#hd47)"/><rect x="501.70" y="694.8" width="2.30" height="144.70" fill="url(#hd48)"/><rect x="503.70" y="694.8" width="2.30" height="144.70" fill="url(#hd49)"/><rect x="505.70" y="694.8" width="2.30" height="144.70" fill="url(#hd50)"/><rect x="507.70" y="694.8" width="2.30" height="144.70" fill="url(#hd51)"/><rect x="509.70" y="694.8" width="2.30" height="144.70" fill="url(#hd52)"/><rect x="511.70" y="694.8" width="2.30" height="144.70" fill="url(#hd53)"/><rect x="513.70" y="694.8" width="2.30" height="144.70" fill="url(#hd54)"/><rect x="515.70" y="694.8" width="2.30" height="144.70" fill="url(#hd55)"/><rect x="517.70" y="694.8" width="2.30" height="144.70" fill="url(#hd56)"/><rect x="519.70" y="694.8" width="2.30" height="144.70" fill="url(#hd57)"/><rect x="521.70" y="694.8" width="2.30" height="144.70" fill="url(#hd58)"/><rect x="523.70" y="694.8" width="2.30" height="144.70" fill="url(#hd59)"/><rect x="525.70" y="694.8" width="2.30" height="144.70" fill="url(#hd60)"/><rect x="527.70" y="694.8" width="2.30" height="144.70" fill="url(#hd61)"/><rect x="529.70" y="694.8" width="2.30" height="144.70" fill="url(#hd62)"/><rect x="531.70" y="694.8" width="2.30" height="144.70" fill="url(#hd63)"/><rect x="533.70" y="694.8" width="2.30" height="144.70" fill="url(#hd64)"/><rect x="535.70" y="694.8" width="2.30" height="144.70" fill="url(#hd65)"/><rect x="537.70" y="694.8" width="2.30" height="144.70" fill="url(#hd66)"/><rect x="539.70" y="694.8" width="2.30" height="144.70" fill="url(#hd67)"/><rect x="541.70" y="694.8" width="2.30" height="144.70" fill="url(#hd68)"/><rect x="543.70" y="694.8" width="2.30" height="144.70" fill="url(#hd69)"/><rect x="545.70" y="694.8" width="2.30" height="144.70" fill="url(#hd70)"/><rect x="547.70" y="694.8" width="2.30" height="144.70" fill="url(#hd71)"/><rect x="549.70" y="694.8" width="2.30" height="144.70" fill="url(#hd72)"/><rect x="551.70" y="694.8" width="2.30" height="144.70" fill="url(#hd73)"/><rect x="553.70" y="694.8" width="2.30" height="144.70" fill="url(#hd74)"/><rect x="555.70" y="694.8" width="2.30" height="144.70" fill="url(#hd75)"/><rect x="557.70" y="694.8" width="2.30" height="144.70" fill="url(#hd76)"/><rect x="559.70" y="694.8" width="2.30" height="144.70" fill="url(#hd77)"/><rect x="561.70" y="694.8" width="2.30" height="144.70" fill="url(#hd78)"/><rect x="563.70" y="694.8" width="2.30" height="144.70" fill="url(#hd79)"/><rect x="565.70" y="694.8" width="2.30" height="144.70" fill="url(#hd80)"/><rect x="567.70" y="694.8" width="2.30" height="144.70" fill="url(#hd81)"/><rect x="569.70" y="694.8" width="2.30" height="144.70" fill="url(#hd82)"/><rect x="571.70" y="694.8" width="2.30" height="144.70" fill="url(#hd83)"/><rect x="573.70" y="694.8" width="2.30" height="144.70" fill="url(#hd84)"/><rect x="575.70" y="694.8" width="2.30" height="144.70" fill="url(#hd85)"/><rect x="577.70" y="694.8" width="2.30" height="144.70" fill="url(#hd86)"/><rect x="579.70" y="694.8" width="2.30" height="144.70" fill="url(#hd87)"/><rect x="581.70" y="694.8" width="2.30" height="144.70" fill="url(#hd88)"/><rect x="583.70" y="694.8" width="2.30" height="144.70" fill="url(#hd89)"/><rect x="585.70" y="694.8" width="2.30" height="144.70" fill="url(#hd90)"/><rect x="587.70" y="694.8" width="2.30" height="144.70" fill="url(#hd91)"/><rect x="589.70" y="694.8" width="2.30" height="144.70" fill="url(#hd92)"/><rect x="591.70" y="694.8" width="2.30" height="144.70" fill="url(#hd93)"/><rect x="593.70" y="694.8" width="2.30" height="144.70" fill="url(#hd94)"/><rect x="595.70" y="694.8" width="2.30" height="144.70" fill="url(#hd95)"/><rect x="597.70" y="694.8" width="2.30" height="144.70" fill="url(#hd96)"/><rect x="599.70" y="694.8" width="0.30" height="144.70" fill="url(#hd97)"/>
<rect x="405.7" y="694.8" width="194.00" height="144.70" fill="none" stroke="#333" stroke-width="1"/>
<line x1="427.90" y1="839.50" x2="427.90" y2="844.50" stroke="#333" stroke-width="1"/>
<text x="427.9" y="863.5" text-anchor="middle">2.5</text>
<line x1="485.30" y1="839.50" x2="485.30" y2="844.50" stroke="#333" stroke-width="1"/>
<text x="485.3" y="863.5" text-anchor="middle">3.0</text>
<line x1="542.70" y1="839.50" x2="542.70" y2="844.50" stroke="#333" stroke-width="1"/>
<text x="542.7" y="863.5" text-anchor="middle">3.5</text>
<line x1="600.10" y1="839.50" x2="600.10" y2="844.50" stroke="#333" stroke-width="1"/>
<text x="600.1" y="863.5" text-anchor="middle">4.0</text>
<line x1="462.00" y1="694.80" x2="462.00" y2="689.80" stroke="#333" stroke-width="1"/>
<text x="462.0" y="681.9" text-anchor="middle">2.25</text>
<line x1="522.60" y1="694.80" x2="522.60" y2="689.80" stroke="#333" stroke-width="1"/>
<text x="522.6" y="681.9" text-anchor="middle">2.50</text>
<line x1="583.20" y1="694.80" x2="583.20" y2="689.80" stroke="#333" stroke-width="1"/>
<text x="583.2" y="681.9" text-anchor="middle">2.75</text>
<line x1="405.70" y1="821.50" x2="400.70" y2="821.50" stroke="#333" stroke-width="1"/>
<text x="396.2" y="827.1" text-anchor="end">−15</text>
<line x1="405.70" y1="767.20" x2="400.70" y2="767.20" stroke="#333" stroke-width="1"/>
<text x="396.2" y="772.8" text-anchor="end">0</text>
<line x1="405.70" y1="712.90" x2="400.70" y2="712.90" stroke="#333" stroke-width="1"/>
<text x="396.2" y="718.5" text-anchor="end">15</text>
<text x="496.0" y="659.0" text-anchor="middle">Filling factor, <tspan font-style="italic">v</tspan></text>
<text x="502.0" y="887.0" text-anchor="middle"><tspan font-style="italic">V</tspan><tspan font-size="11" dy="3.5">BG</tspan><tspan dy="-3.5">&#8203;</tspan> (V)</text>
<text transform="translate(359,767) rotate(-90)" text-anchor="middle"><tspan font-style="italic">I</tspan><tspan font-size="11" dy="3.5">d.c.</tspan><tspan dy="-3.5">&#8203;</tspan> (nA)</text>
<defs><linearGradient id="cbd" x1="0" y1="0" x2="0" y2="1"><stop offset="0.000" stop-color="#9e0142"/><stop offset="0.062" stop-color="#be254a"/><stop offset="0.125" stop-color="#dc484c"/><stop offset="0.188" stop-color="#ef6645"/><stop offset="0.250" stop-color="#f88c51"/><stop offset="0.312" stop-color="#fdb365"/><stop offset="0.375" stop-color="#fed27f"/><stop offset="0.438" stop-color="#feeb9d"/><stop offset="0.500" stop-color="#fffebe"/><stop offset="0.562" stop-color="#f0f9a7"/><stop offset="0.625" stop-color="#d8ef9b"/><stop offset="0.688" stop-color="#b3e0a2"/><stop offset="0.750" stop-color="#89d0a4"/><stop offset="0.812" stop-color="#60bba8"/><stop offset="0.875" stop-color="#3f97b7"/><stop offset="0.938" stop-color="#4273b3"/><stop offset="1.000" stop-color="#5e4fa2"/></linearGradient></defs><rect x="605" y="699.1" width="6.899999999999977" height="133.79999999999995" fill="url(#cbd)"/>
<line x1="611.90" y1="832.90" x2="616.70" y2="832.90" stroke="#333" stroke-width="1"/>
<text x="621.7" y="838.5">0</text>
<line x1="611.90" y1="766.00" x2="616.70" y2="766.00" stroke="#333" stroke-width="1"/>
<text x="621.7" y="771.6">5</text>
<line x1="611.90" y1="699.10" x2="616.70" y2="699.10" stroke="#333" stroke-width="1"/>
<text x="621.7" y="704.7">10</text>
<text transform="translate(650.5,766) rotate(90)" text-anchor="middle">d<tspan font-style="italic">V</tspan>/d<tspan font-style="italic">I</tspan><tspan font-size="11" dy="3.5">d.c.</tspan><tspan dy="-3.5">&#8203;</tspan> (k&#937;)</text>
<line x1="72.30" y1="573.75" x2="72.30" y2="695.00" stroke="#4a4a4a" stroke-width="1.25" stroke-dasharray="5,3.5"/>
<line x1="148.50" y1="573.75" x2="266.40" y2="695.00" stroke="#4a4a4a" stroke-width="1.25" stroke-dasharray="5,3.5"/>
<line x1="416.02" y1="573.75" x2="405.70" y2="694.80" stroke="#4a4a4a" stroke-width="1.25" stroke-dasharray="5,3.5"/>
<line x1="468.50" y1="573.75" x2="599.70" y2="694.80" stroke="#4a4a4a" stroke-width="1.25" stroke-dasharray="5,3.5"/>
<text x="556.0" y="15.0" font-size="19" fill="#000" font-weight="bold">e</text>
<polygon points="558.0,51 558.0,50.2 558.5,46.9 559.0,43.7 559.5,40.8 560.0,38.3 560.5,36.3 561.0,34.8 561.5,33.8 562.0,33.5 562.5,33.8 563.0,34.8 563.5,36.3 564.0,38.3 564.5,40.8 565.0,43.7 565.5,46.9 566.0,50.2 566.5,53.5 567.0,56.7 567.5,59.8 568.0,62.5 568.5,64.8 569.0,66.6 569.5,67.8 570.0,68.4 570.5,68.4 571.0,67.8 571.5,66.6 572.0,64.8 572.5,62.5 573.0,59.8 573.5,56.7 574.0,53.5 574.5,50.2 575.0,46.9 575.5,43.7 576.0,40.8 576.5,38.3 577.0,36.3 577.5,34.8 578.0,33.8 578.5,33.5 579.0,33.8 579.5,34.8 580.0,36.3 580.5,38.3 581.0,40.8 581.0,51" fill="#cfdcf7" fill-opacity="0.6" stroke="none"/>
<polyline points="558.0,50.2 558.5,46.9 559.0,43.7 559.5,40.8 560.0,38.3 560.5,36.3 561.0,34.8 561.5,33.8 562.0,33.5 562.5,33.8 563.0,34.8 563.5,36.3 564.0,38.3 564.5,40.8 565.0,43.7 565.5,46.9 566.0,50.2 566.5,53.5 567.0,56.7 567.5,59.8 568.0,62.5 568.5,64.8 569.0,66.6 569.5,67.8 570.0,68.4 570.5,68.4 571.0,67.8 571.5,66.6 572.0,64.8 572.5,62.5 573.0,59.8 573.5,56.7 574.0,53.5 574.5,50.2 575.0,46.9 575.5,43.7 576.0,40.8 576.5,38.3 577.0,36.3 577.5,34.8 578.0,33.8 578.5,33.5 579.0,33.8 579.5,34.8 580.0,36.3 580.5,38.3 581.0,40.8" fill="none" stroke="#9fb9ee" stroke-width="1"/>
<polygon points="558.0,51 558.0,50.8 558.5,50.1 559.0,49.3 559.5,48.7 560.0,48.1 560.5,47.6 561.0,47.3 561.5,47.1 562.0,47.0 562.5,47.1 563.0,47.3 563.5,47.6 564.0,48.1 564.5,48.7 565.0,49.3 565.5,50.1 566.0,50.8 566.5,51.6 567.0,52.3 567.5,53.0 568.0,53.6 568.5,54.1 569.0,54.6 569.5,54.8 570.0,55.0 570.5,55.0 571.0,54.8 571.5,54.6 572.0,54.1 572.5,53.6 573.0,53.0 573.5,52.3 574.0,51.6 574.5,50.8 575.0,50.1 575.5,49.3 576.0,48.7 576.5,48.1 577.0,47.6 577.5,47.3 578.0,47.1 578.5,47.0 579.0,47.1 579.5,47.3 580.0,47.6 580.5,48.1 581.0,48.7 581.5,51" fill="#f39aa6" fill-opacity="0.8"/>
<circle cx="586.3" cy="50.5" r="4.9" fill="#000"/>
<path d="M586.0,50.5H607.0" stroke="#000" stroke-width="2.6"/>
<ellipse cx="602.9" cy="50.3" rx="5.1" ry="14.9" fill="none" stroke="#000" stroke-width="3"/>
<path d="M602.9,35.4H638.5A5.2,14.9 0 0 1 638.5,65.2H602.9" fill="none" stroke="#000" stroke-width="3"/>
<path d="M643.7,50.5H671.9V65" fill="none" stroke="#000" stroke-width="3.5"/>
<path d="M645.3,91.7V64.9H696.3V91.7" fill="none" stroke="#000" stroke-width="3.5" stroke-linejoin="miter"/>
<path d="M645.3,131.1V161.5H696.3V130.3" fill="none" stroke="#000" stroke-width="3.5" stroke-linejoin="miter"/>
<path d="M645.3,91.7C652.0,88.5 659.0,92 658.0,101" fill="none" stroke="#000" stroke-width="2.9"/>
<ellipse cx="651.3" cy="102.6" rx="6.8" ry="4.1" fill="none" stroke="#000" stroke-width="2.9"/>
<ellipse cx="651.3" cy="110.6" rx="6.8" ry="4.1" fill="none" stroke="#000" stroke-width="2.9"/>
<ellipse cx="651.3" cy="118.6" rx="6.8" ry="4.1" fill="none" stroke="#000" stroke-width="2.9"/>
<path d="M658.0,120C659.0,129 652.0,133.5 645.3,131.1" fill="none" stroke="#000" stroke-width="2.9"/>
<text x="609.3" y="114.0" font-size="15.5" fill="#e8141c" font-style="italic">L</text>
<text x="618.2" y="118.2" font-size="12" fill="#e8141c">prx</text>
<polyline points="696.1,91.4 688.1,97.1 702.0,102.5 686.5,107.9 702.0,113.3 686.5,118.7 702.0,123.6 692.7,128 696.1,130.6" fill="none" stroke="#000" stroke-width="2.8" stroke-linejoin="miter"/>
<text x="700.8" y="80.9" fill="#e8141c" font-style="italic">R</text>
<text x="712.8" y="84.9" font-size="11.5" fill="#e8141c">TBG</text>
<line x1="687.3" y1="134.2" x2="701.6" y2="92.7" stroke="#4a7bd0" stroke-width="1.5"/>
<polygon points="703.5,87.0 704.0,93.5 699.1,91.8" fill="#4a7bd0"/>
<path d="M708.9,100.9V120.3M714.3,100.9V120.3" stroke="#000" stroke-width="2.8"/>
<path d="M714.3,110.2H727.5V125.5" fill="none" stroke="#000" stroke-width="2.8"/>
<circle cx="727.5" cy="142.9" r="16.6" fill="#fff" stroke="#000" stroke-width="3"/>
<text x="713.5" y="145.0" font-size="15" fill="#111" font-style="italic">V</text>
<text x="723.2" y="149.6" font-size="12" fill="#111">BG</text>
<path d="M671.0,161V176.7M657.7,176.7H685.0M663.0,183.9H679.7M667.0,190.8H676.3" fill="none" stroke="#000" stroke-width="3.5"/>
<polygon points="746.3,51 746.3,50.2 746.8,46.9 747.3,43.7 747.8,40.8 748.3,38.3 748.8,36.3 749.3,34.8 749.8,33.8 750.3,33.5 750.8,33.8 751.3,34.8 751.8,36.3 752.3,38.3 752.8,40.8 753.3,43.7 753.8,46.9 754.3,50.2 754.8,53.5 755.3,56.7 755.8,59.8 756.3,62.5 756.8,64.8 757.3,66.6 757.8,67.8 758.3,68.4 758.8,68.4 759.3,67.8 759.8,66.6 760.3,64.8 760.8,62.5 761.3,59.8 761.8,56.7 762.3,53.5 762.8,50.2 763.3,46.9 763.8,43.7 764.3,40.8 764.8,38.3 765.3,36.3 765.8,34.8 766.3,33.8 766.8,33.5 767.3,33.8 767.8,34.8 768.3,36.3 768.8,38.3 769.3,40.8 769.3,51" fill="#cfdcf7" fill-opacity="0.6" stroke="none"/>
<polyline points="746.3,50.2 746.8,46.9 747.3,43.7 747.8,40.8 748.3,38.3 748.8,36.3 749.3,34.8 749.8,33.8 750.3,33.5 750.8,33.8 751.3,34.8 751.8,36.3 752.3,38.3 752.8,40.8 753.3,43.7 753.8,46.9 754.3,50.2 754.8,53.5 755.3,56.7 755.8,59.8 756.3,62.5 756.8,64.8 757.3,66.6 757.8,67.8 758.3,68.4 758.8,68.4 759.3,67.8 759.8,66.6 760.3,64.8 760.8,62.5 761.3,59.8 761.8,56.7 762.3,53.5 762.8,50.2 763.3,46.9 763.8,43.7 764.3,40.8 764.8,38.3 765.3,36.3 765.8,34.8 766.3,33.8 766.8,33.5 767.3,33.8 767.8,34.8 768.3,36.3 768.8,38.3 769.3,40.8" fill="none" stroke="#9fb9ee" stroke-width="1"/>
<polygon points="746.3,51 746.3,50.8 746.8,50.1 747.3,49.3 747.8,48.7 748.3,48.1 748.8,47.6 749.3,47.3 749.8,47.1 750.3,47.0 750.8,47.1 751.3,47.3 751.8,47.6 752.3,48.1 752.8,48.7 753.3,49.3 753.8,50.1 754.3,50.8 754.8,51.6 755.3,52.3 755.8,53.0 756.3,53.6 756.8,54.1 757.3,54.6 757.8,54.8 758.3,55.0 758.8,55.0 759.3,54.8 759.8,54.6 760.3,54.1 760.8,53.6 761.3,53.0 761.8,52.3 762.3,51.6 762.8,50.8 763.3,50.1 763.8,49.3 764.3,48.7 764.8,48.1 765.3,47.6 765.8,47.3 766.3,47.1 766.8,47.0 767.3,47.1 767.8,47.3 768.3,47.6 768.8,48.1 769.3,48.7 769.8,51" fill="#f39aa6" fill-opacity="0.8"/>
<circle cx="774.6" cy="50.5" r="4.9" fill="#000"/>
<path d="M774.3,50.5H795.3" stroke="#000" stroke-width="2.6"/>
<ellipse cx="791.2" cy="50.3" rx="5.1" ry="14.9" fill="none" stroke="#000" stroke-width="3"/>
<path d="M791.2,35.4H826.8A5.2,14.9 0 0 1 826.8,65.2H791.2" fill="none" stroke="#000" stroke-width="3"/>
<path d="M832.0,50.5H860.2V65" fill="none" stroke="#000" stroke-width="3.5"/>
<path d="M833.6,91.7V64.9H882.9V91.7" fill="none" stroke="#000" stroke-width="3.5" stroke-linejoin="miter"/>
<path d="M833.6,131.1V161.5H882.9V130.3" fill="none" stroke="#000" stroke-width="3.5" stroke-linejoin="miter"/>
<path d="M833.6,91.7C840.3,88.5 847.3,92 846.3,101" fill="none" stroke="#000" stroke-width="2.9"/>
<ellipse cx="839.6" cy="102.6" rx="6.8" ry="4.1" fill="none" stroke="#000" stroke-width="2.9"/>
<ellipse cx="839.6" cy="110.6" rx="6.8" ry="4.1" fill="none" stroke="#000" stroke-width="2.9"/>
<ellipse cx="839.6" cy="118.6" rx="6.8" ry="4.1" fill="none" stroke="#000" stroke-width="2.9"/>
<path d="M846.3,120C847.3,129 840.3,133.5 833.6,131.1" fill="none" stroke="#000" stroke-width="2.9"/>
<text x="797.6" y="114.0" font-size="15.5" fill="#e8141c" font-style="italic">L</text>
<text x="806.5" y="118.2" font-size="12" fill="#e8141c">prx</text>
<path d="M882.9,91.4C884.3,86.5 897.8,86 897.8,97.5V121.5C897.8,135 884.3,135 882.9,130.6" fill="none" stroke="#f7b500" stroke-width="2.9"/>
<ellipse cx="889.8" cy="101.2" rx="7.6" ry="4.6" fill="none" stroke="#f7b500" stroke-width="2.9"/>
<ellipse cx="889.8" cy="110.4" rx="7.6" ry="4.6" fill="none" stroke="#f7b500" stroke-width="2.9"/>
<ellipse cx="889.8" cy="119.6" rx="7.6" ry="4.6" fill="none" stroke="#f7b500" stroke-width="2.9"/>
<text x="892.5" y="78.1" fill="#e8141c" font-style="italic">L</text>
<text x="901.4" y="82.2" font-size="11.5" fill="#e8141c">TBG</text>
<line x1="879.1" y1="134.2" x2="897.2" y2="87.6" stroke="#4a7bd0" stroke-width="1.5"/>
<polygon points="899.4,82.0 899.6,88.5 894.8,86.6" fill="#4a7bd0"/>
<path d="M903.7,100.9V120.3M909.1,100.9V120.3" stroke="#000" stroke-width="2.8"/>
<path d="M909.1,110.2H922.3V125.5" fill="none" stroke="#000" stroke-width="2.8"/>
<circle cx="922.3" cy="142.9" r="16.6" fill="#fff" stroke="#000" stroke-width="3"/>
<text x="908.3" y="145.0" font-size="15" fill="#111" font-style="italic">V</text>
<text x="918.0" y="149.6" font-size="12" fill="#111">BG</text>
<path d="M859.3,161V176.7M846.0,176.7H873.3M851.3,183.9H868.0M855.3,190.8H864.6" fill="none" stroke="#000" stroke-width="3.5"/>
<text x="961.0" y="15.0" font-size="19" fill="#000" font-weight="bold">f</text>
<line x1="1034.7" y1="161.3" x2="1180.7" y2="59.4" stroke="#000" stroke-width="1.4"/>
<path d="M1157.1,71.4h4.4M1157.1,74.6h4.4M1159.3,71.4v3.2" stroke="#1010e0" stroke-width="0.9" fill="none"/>
<path d="M1126.5,93.0h4.4M1126.5,96.2h4.4M1128.7,93.0v3.2" stroke="#1010e0" stroke-width="0.9" fill="none"/>
<path d="M1107.8,105.8h4.4M1107.8,109.0h4.4M1110.0,105.8v3.2" stroke="#1010e0" stroke-width="0.9" fill="none"/>
<path d="M1095.1,115.0h4.4M1095.1,118.2h4.4M1097.3,115.0v3.2" stroke="#1010e0" stroke-width="0.9" fill="none"/>
<path d="M1085.8,121.4h4.4M1085.8,124.6h4.4M1088.0,121.4v3.2" stroke="#1010e0" stroke-width="0.9" fill="none"/>
<path d="M1078.5,126.1h4.4M1078.5,129.3h4.4M1080.7,126.1v3.2" stroke="#1010e0" stroke-width="0.9" fill="none"/>
<path d="M1073.8,129.7h4.4M1073.8,132.9h4.4M1076.0,129.7v3.2" stroke="#1010e0" stroke-width="0.9" fill="none"/>
<path d="M1069.8,132.5h4.4M1069.8,135.7h4.4M1072.0,132.5v3.2" stroke="#1010e0" stroke-width="0.9" fill="none"/>
<path d="M1057.1,141.4h4.4M1057.1,144.6h4.4M1059.3,141.4v3.2" stroke="#1010e0" stroke-width="0.9" fill="none"/>
<path d="M1051.1,145.8h4.4M1051.1,149.0h4.4M1053.3,145.8v3.2" stroke="#1010e0" stroke-width="0.9" fill="none"/>
<path d="M1044.5,150.3h4.4M1044.5,153.5h4.4M1046.7,150.3v3.2" stroke="#1010e0" stroke-width="0.9" fill="none"/>
<path d="M1041.1,152.5h4.4M1041.1,155.7h4.4M1043.3,152.5v3.2" stroke="#1010e0" stroke-width="0.9" fill="none"/>
<path d="M1038.5,154.3h4.4M1038.5,157.5h4.4M1040.7,154.3v3.2" stroke="#1010e0" stroke-width="0.9" fill="none"/>
<path d="M1036.5,155.4h4.4M1036.5,158.6h4.4M1038.7,155.4v3.2" stroke="#1010e0" stroke-width="0.9" fill="none"/>
<path d="M1035.1,156.3h4.4M1035.1,159.5h4.4M1037.3,156.3v3.2" stroke="#1010e0" stroke-width="0.9" fill="none"/>
<rect x="1034.5" y="59.2" width="150.50" height="111.40" fill="none" stroke="#333" stroke-width="1"/>
<line x1="1034.50" y1="170.60" x2="1034.50" y2="175.60" stroke="#333" stroke-width="1"/>
<text x="1034.5" y="195.6" text-anchor="middle">0</text>
<line x1="1109.75" y1="170.60" x2="1109.75" y2="175.60" stroke="#333" stroke-width="1"/>
<text x="1109.8" y="195.6" text-anchor="middle">0.02</text>
<line x1="1185.00" y1="170.60" x2="1185.00" y2="175.60" stroke="#333" stroke-width="1"/>
<text x="1185.0" y="195.6" text-anchor="middle">0.04</text>
<line x1="1072.12" y1="59.20" x2="1072.12" y2="54.20" stroke="#333" stroke-width="1"/>
<text x="1072.1" y="47.0" text-anchor="middle">100</text>
<line x1="1128.56" y1="59.20" x2="1128.56" y2="54.20" stroke="#333" stroke-width="1"/>
<text x="1128.6" y="47.0" text-anchor="middle">40</text>
<line x1="1034.50" y1="160.70" x2="1029.50" y2="160.70" stroke="#333" stroke-width="1"/>
<text x="1025.0" y="166.3" text-anchor="end">3.80</text>
<line x1="1034.50" y1="119.95" x2="1029.50" y2="119.95" stroke="#333" stroke-width="1"/>
<text x="1025.0" y="125.5" text-anchor="end">3.82</text>
<line x1="1034.50" y1="79.20" x2="1029.50" y2="79.20" stroke="#333" stroke-width="1"/>
<text x="1025.0" y="84.8" text-anchor="end">3.84</text>
<text x="1110.0" y="24.0" text-anchor="middle"><tspan font-style="italic">L</tspan><tspan font-size="11" dy="3.5">TBG</tspan><tspan dy="-3.5">&#8203;</tspan> (nH)</text>
<text x="1110.0" y="218.4" text-anchor="middle">1/<tspan font-style="italic">L</tspan><tspan font-size="11" dy="3.5">TBG</tspan><tspan dy="-3.5">&#8203;</tspan> (nH<tspan font-size="11" dy="-6">&#8722;1</tspan><tspan dy="6">&#8203;</tspan>)</text>
<text transform="translate(978.5,116) rotate(-90)" text-anchor="middle"><tspan font-style="italic">f</tspan><tspan font-size="11" dy="3.5">r</tspan><tspan dy="-3.5">&#8203;</tspan> (GHz)</text>
<text x="737.0" y="264.0" font-size="19" fill="#000" font-weight="bold">g</text>
<line x1="806.50" y1="526.20" x2="1098.00" y2="521.60" stroke="#000" stroke-width="1.5" stroke-dasharray="5,3"/>
<line x1="806.50" y1="526.20" x2="1098.00" y2="524.40" stroke="#1a8a1a" stroke-width="1.5" stroke-dasharray="5,3"/>
<g fill="#0000ee"><circle cx="842.8" cy="505.3" r="2.5"/><circle cx="844.6" cy="487.5" r="2.5"/><circle cx="845.9" cy="425.0" r="2.5"/><circle cx="847.4" cy="419.9" r="2.5"/><circle cx="849.2" cy="401.1" r="2.5"/><circle cx="850.5" cy="393.5" r="2.5"/><circle cx="851.7" cy="385.6" r="2.5"/><circle cx="853.5" cy="378.8" r="2.5"/><circle cx="855.0" cy="368.6" r="2.5"/><circle cx="856.3" cy="366.6" r="2.5"/><circle cx="857.6" cy="363.5" r="2.5"/><circle cx="858.8" cy="360.5" r="2.5"/><circle cx="860.1" cy="357.2" r="2.5"/><circle cx="861.4" cy="353.9" r="2.5"/><circle cx="862.4" cy="350.8" r="2.5"/><circle cx="863.9" cy="347.8" r="2.5"/><circle cx="865.2" cy="345.2" r="2.5"/><circle cx="866.5" cy="342.7" r="2.5"/><circle cx="867.7" cy="340.7" r="2.5"/><circle cx="869.0" cy="338.1" r="2.5"/><circle cx="870.8" cy="333.5" r="2.5"/><circle cx="872.6" cy="331.8" r="2.5"/><circle cx="874.1" cy="328.5" r="2.5"/><circle cx="875.9" cy="326.7" r="2.5"/><circle cx="877.9" cy="324.9" r="2.5"/><circle cx="879.7" cy="324.9" r="2.5"/><circle cx="881.5" cy="326.7" r="2.5"/><circle cx="883.5" cy="330.0" r="2.5"/><circle cx="885.3" cy="327.4" r="2.5"/><circle cx="887.3" cy="326.7" r="2.5"/><circle cx="889.3" cy="327.9" r="2.5"/><circle cx="891.1" cy="326.7" r="2.5"/><circle cx="892.9" cy="327.9" r="2.5"/><circle cx="894.9" cy="327.4" r="2.5"/><circle cx="897.0" cy="329.2" r="2.5"/><circle cx="898.7" cy="330.0" r="2.5"/><circle cx="900.5" cy="325.9" r="2.5"/><circle cx="902.5" cy="330.5" r="2.5"/><circle cx="904.6" cy="331.8" r="2.5"/><circle cx="906.4" cy="333.5" r="2.5"/><circle cx="908.1" cy="330.0" r="2.5"/><circle cx="909.7" cy="331.8" r="2.5"/><circle cx="911.4" cy="334.3" r="2.5"/><circle cx="913.2" cy="335.6" r="2.5"/><circle cx="914.7" cy="337.6" r="2.5"/><circle cx="916.5" cy="339.4" r="2.5"/><circle cx="917.8" cy="335.6" r="2.5"/><circle cx="919.1" cy="347.0" r="2.5"/><circle cx="920.8" cy="348.3" r="2.5"/><circle cx="922.4" cy="350.8" r="2.5"/><circle cx="924.1" cy="353.4" r="2.5"/><circle cx="925.9" cy="355.4" r="2.5"/><circle cx="927.4" cy="360.5" r="2.5"/><circle cx="929.2" cy="358.9" r="2.5"/><circle cx="931.0" cy="359.7" r="2.5"/><circle cx="928.0" cy="366.6" r="2.5"/><circle cx="935.1" cy="357.9" r="2.5"/><circle cx="936.8" cy="366.1" r="2.5"/><circle cx="941.9" cy="367.3" r="2.5"/><circle cx="943.2" cy="374.9" r="2.5"/><circle cx="942.5" cy="367.3" r="2.5"/><circle cx="945.6" cy="366.5" r="2.5"/><circle cx="943.8" cy="374.9" r="2.5"/><circle cx="947.6" cy="369.8" r="2.5"/><circle cx="950.2" cy="373.7" r="2.5"/><circle cx="951.4" cy="376.2" r="2.5"/><circle cx="954.0" cy="371.6" r="2.5"/><circle cx="955.7" cy="373.7" r="2.5"/><circle cx="957.8" cy="381.3" r="2.5"/><circle cx="959.8" cy="382.5" r="2.5"/><circle cx="962.3" cy="388.9" r="2.5"/><circle cx="964.1" cy="387.6" r="2.5"/><circle cx="965.9" cy="401.1" r="2.5"/><circle cx="967.4" cy="386.3" r="2.5"/><circle cx="969.2" cy="394.0" r="2.5"/><circle cx="971.0" cy="381.8" r="2.5"/><circle cx="973.0" cy="385.1" r="2.5"/><circle cx="975.0" cy="383.3" r="2.5"/><circle cx="976.8" cy="387.6" r="2.5"/><circle cx="978.1" cy="392.7" r="2.5"/><circle cx="980.1" cy="386.3" r="2.5"/><circle cx="981.9" cy="390.2" r="2.5"/><circle cx="983.7" cy="383.8" r="2.5"/><circle cx="985.7" cy="391.4" r="2.5"/><circle cx="987.7" cy="389.4" r="2.5"/><circle cx="989.5" cy="391.9" r="2.5"/><circle cx="991.3" cy="382.5" r="2.5"/><circle cx="993.3" cy="390.2" r="2.5"/><circle cx="995.4" cy="388.4" r="2.5"/><circle cx="1026.3" cy="495.0" r="2.5"/><circle cx="1036.5" cy="513.3" r="2.5"/><circle cx="1039.0" cy="512.1" r="2.5"/><circle cx="1040.3" cy="518.4" r="2.5"/><circle cx="1042.1" cy="510.3" r="2.5"/><circle cx="1043.6" cy="515.4" r="2.5"/><circle cx="1042.9" cy="524.8" r="2.5"/><circle cx="1045.4" cy="510.3" r="2.5"/></g>
<g fill="#ee0000"><circle cx="874.6" cy="493.1" r="2.5"/><circle cx="876.6" cy="492.6" r="2.5"/><circle cx="882.2" cy="454.5" r="2.5"/><circle cx="884.0" cy="422.0" r="2.5"/><circle cx="885.5" cy="404.2" r="2.5"/><circle cx="887.3" cy="395.3" r="2.5"/><circle cx="889.3" cy="392.7" r="2.5"/><circle cx="891.1" cy="390.2" r="2.5"/><circle cx="892.9" cy="386.9" r="2.5"/><circle cx="894.4" cy="383.8" r="2.5"/><circle cx="896.2" cy="381.3" r="2.5"/><circle cx="898.0" cy="379.3" r="2.5"/><circle cx="900.0" cy="377.5" r="2.5"/><circle cx="902.0" cy="375.7" r="2.5"/><circle cx="903.8" cy="374.2" r="2.5"/><circle cx="905.6" cy="372.4" r="2.5"/><circle cx="907.6" cy="370.6" r="2.5"/><circle cx="908.9" cy="368.6" r="2.5"/><circle cx="910.7" cy="368.1" r="2.5"/><circle cx="912.7" cy="369.9" r="2.5"/><circle cx="914.7" cy="369.1" r="2.5"/><circle cx="916.5" cy="372.4" r="2.5"/><circle cx="918.3" cy="374.9" r="2.5"/><circle cx="920.3" cy="374.2" r="2.5"/><circle cx="922.4" cy="373.2" r="2.5"/><circle cx="924.1" cy="372.4" r="2.5"/><circle cx="925.9" cy="371.9" r="2.5"/><circle cx="928.0" cy="372.4" r="2.5"/><circle cx="930.0" cy="373.7" r="2.5"/><circle cx="931.8" cy="374.2" r="2.5"/><circle cx="933.5" cy="374.9" r="2.5"/><circle cx="935.6" cy="377.5" r="2.5"/><circle cx="937.6" cy="380.0" r="2.5"/><circle cx="939.4" cy="382.6" r="2.5"/><circle cx="941.2" cy="385.9" r="2.5"/><circle cx="943.2" cy="388.9" r="2.5"/><circle cx="944.5" cy="391.5" r="2.5"/><circle cx="940.0" cy="381.3" r="2.5"/><circle cx="942.5" cy="385.8" r="2.5"/><circle cx="945.1" cy="391.4" r="2.5"/><circle cx="947.6" cy="392.7" r="2.5"/><circle cx="950.2" cy="394.5" r="2.5"/><circle cx="952.7" cy="396.0" r="2.5"/><circle cx="954.7" cy="399.0" r="2.5"/><circle cx="956.5" cy="401.1" r="2.5"/><circle cx="958.3" cy="403.6" r="2.5"/><circle cx="960.3" cy="406.7" r="2.5"/><circle cx="962.3" cy="409.7" r="2.5"/><circle cx="964.1" cy="413.0" r="2.5"/><circle cx="965.9" cy="415.6" r="2.5"/><circle cx="967.9" cy="420.6" r="2.5"/><circle cx="970.0" cy="424.4" r="2.5"/><circle cx="971.7" cy="428.3" r="2.5"/><circle cx="973.5" cy="430.8" r="2.5"/><circle cx="975.6" cy="430.0" r="2.5"/><circle cx="978.1" cy="444.8" r="2.5"/><circle cx="979.4" cy="451.1" r="2.5"/><circle cx="981.1" cy="454.9" r="2.5"/><circle cx="982.7" cy="458.7" r="2.5"/><circle cx="984.4" cy="465.1" r="2.5"/><circle cx="987.0" cy="467.6" r="2.5"/><circle cx="989.5" cy="468.4" r="2.5"/><circle cx="992.1" cy="465.1" r="2.5"/><circle cx="993.8" cy="467.6" r="2.5"/><circle cx="995.9" cy="458.7" r="2.5"/><circle cx="997.9" cy="457.5" r="2.5"/><circle cx="999.7" cy="465.6" r="2.5"/><circle cx="1002.2" cy="475.2" r="2.5"/><circle cx="1003.5" cy="477.8" r="2.5"/><circle cx="1005.5" cy="476.5" r="2.5"/><circle cx="1007.3" cy="484.1" r="2.5"/><circle cx="1009.1" cy="487.9" r="2.5"/><circle cx="1011.1" cy="491.0" r="2.5"/><circle cx="1013.1" cy="494.3" r="2.5"/><circle cx="1014.9" cy="497.6" r="2.5"/><circle cx="1017.5" cy="496.1" r="2.5"/><circle cx="1019.2" cy="500.1" r="2.5"/><circle cx="1021.3" cy="493.0" r="2.5"/><circle cx="1023.3" cy="501.9" r="2.5"/><circle cx="1025.1" cy="501.1" r="2.5"/><circle cx="1027.6" cy="503.2" r="2.5"/><circle cx="1030.2" cy="504.4" r="2.5"/><circle cx="1032.7" cy="503.2" r="2.5"/><circle cx="1035.2" cy="505.7" r="2.5"/><circle cx="1037.8" cy="507.7" r="2.5"/><circle cx="1039.6" cy="509.5" r="2.5"/><circle cx="1041.6" cy="512.1" r="2.5"/><circle cx="1044.1" cy="510.3" r="2.5"/><circle cx="1046.7" cy="510.8" r="2.5"/><circle cx="1049.2" cy="509.5" r="2.5"/><circle cx="1051.7" cy="512.1" r="2.5"/><circle cx="1054.3" cy="513.3" r="2.5"/><circle cx="1056.8" cy="515.9" r="2.5"/><circle cx="1059.4" cy="517.1" r="2.5"/><circle cx="1061.9" cy="517.9" r="2.5"/><circle cx="1064.4" cy="518.4" r="2.5"/><circle cx="1067.0" cy="518.9" r="2.5"/><circle cx="1069.5" cy="521.0" r="2.5"/><circle cx="1072.1" cy="518.4" r="2.5"/><circle cx="1074.6" cy="520.4" r="2.5"/><circle cx="1077.1" cy="518.9" r="2.5"/><circle cx="1079.7" cy="518.9" r="2.5"/><circle cx="1082.2" cy="515.9" r="2.5"/><circle cx="1084.8" cy="517.1" r="2.5"/><circle cx="1087.3" cy="518.9" r="2.5"/><circle cx="1089.8" cy="521.0" r="2.5"/><circle cx="1092.4" cy="520.4" r="2.5"/><circle cx="1096.2" cy="522.2" r="2.5"/></g>
<rect x="806.5" y="289.2" width="291.70" height="237.00" fill="none" stroke="#333" stroke-width="1"/>
<line x1="806.50" y1="526.20" x2="806.50" y2="531.20" stroke="#333" stroke-width="1"/>
<text x="806.5" y="550.2" text-anchor="middle">0</text>
<line x1="889.84" y1="526.20" x2="889.84" y2="531.20" stroke="#333" stroke-width="1"/>
<text x="889.8" y="550.2" text-anchor="middle">2</text>
<line x1="973.18" y1="526.20" x2="973.18" y2="531.20" stroke="#333" stroke-width="1"/>
<text x="973.2" y="550.2" text-anchor="middle">4</text>
<line x1="1056.52" y1="526.20" x2="1056.52" y2="531.20" stroke="#333" stroke-width="1"/>
<text x="1056.5" y="550.2" text-anchor="middle">6</text>
<line x1="806.50" y1="526.20" x2="801.50" y2="526.20" stroke="#333" stroke-width="1"/>
<text x="797.0" y="531.8" text-anchor="end">0</text>
<line x1="806.50" y1="466.95" x2="801.50" y2="466.95" stroke="#333" stroke-width="1"/>
<text x="797.0" y="472.6" text-anchor="end">0.5</text>
<line x1="806.50" y1="407.70" x2="801.50" y2="407.70" stroke="#333" stroke-width="1"/>
<text x="797.0" y="413.3" text-anchor="end">1.0</text>
<line x1="806.50" y1="348.45" x2="801.50" y2="348.45" stroke="#333" stroke-width="1"/>
<text x="797.0" y="354.1" text-anchor="end">1.5</text>
<line x1="806.50" y1="289.20" x2="801.50" y2="289.20" stroke="#333" stroke-width="1"/>
<text x="797.0" y="294.8" text-anchor="end">2.0</text>
<line x1="1098.20" y1="289.20" x2="1103.20" y2="289.20" stroke="#333" stroke-width="1"/>
<text x="1109.2" y="294.8">0.5</text>
<line x1="1098.20" y1="408.40" x2="1103.20" y2="408.40" stroke="#333" stroke-width="1"/>
<text x="1109.2" y="414.0">1.0</text>
<line x1="1098.20" y1="467.80" x2="1103.20" y2="467.80" stroke="#333" stroke-width="1"/>
<text x="1109.2" y="473.4">2.0</text>
<text x="952.0" y="580.0" text-anchor="middle"><tspan font-style="italic">n&#771;</tspan> (&#215;10<tspan font-size="11" dy="-6">11</tspan><tspan dy="6">&#8203;</tspan> cm<tspan font-size="11" dy="-6">&#8722;2</tspan><tspan dy="6">&#8203;</tspan>)</text>
<text transform="translate(760,407) rotate(-90)" text-anchor="middle"><tspan font-style="italic">D</tspan><tspan font-size="11" dy="3.5">s</tspan><tspan dy="-3.5">&#8203;</tspan>(<tspan font-style="italic">T</tspan><tspan font-size="11" dy="3.5">base</tspan><tspan dy="-3.5">&#8203;</tspan>) (&#215;10<tspan font-size="11" dy="-6">8</tspan><tspan dy="6">&#8203;</tspan> H<tspan font-size="11" dy="-6">&#8722;1</tspan><tspan dy="6">&#8203;</tspan>)</text>
<text transform="translate(1146,408) rotate(90)" text-anchor="middle"><tspan font-style="italic">L</tspan><tspan font-size="11" dy="3.5">K</tspan><tspan dy="-3.5">&#8203;</tspan> (&#215;10<tspan font-size="11" dy="-6">&#8722;8</tspan><tspan dy="6">&#8203;</tspan> H sq<tspan font-size="11" dy="-6">&#8722;1</tspan><tspan dy="6">&#8203;</tspan>)</text>
<text x="810.6" y="246.0"><tspan font-style="italic">D</tspan><tspan font-size="11" dy="4">s</tspan><tspan font-size="11" dx="-4.5" dy="-11">(conv)</tspan></text>
<line x1="809.30" y1="261.70" x2="831.00" y2="261.70" stroke="#000" stroke-width="1.5" stroke-dasharray="5,3"/>
<line x1="809.30" y1="278.20" x2="831.00" y2="278.20" stroke="#1a8a1a" stroke-width="1.5" stroke-dasharray="5,3"/>
<text x="836.3" y="264.4"><tspan font-style="italic">v</tspan><tspan font-size="11" dy="3.5">F</tspan><tspan dy="-3.5">&#8203;</tspan> = 700 m s<tspan font-size="11" dy="-6">&#8722;1</tspan><tspan dy="6">&#8203;</tspan></text>
<text x="836.3" y="280.9"><tspan font-style="italic">v</tspan><tspan font-size="11" dy="3.5">F</tspan><tspan dy="-3.5">&#8203;</tspan> = 300 m s<tspan font-size="11" dy="-6">&#8722;1</tspan><tspan dy="6">&#8203;</tspan></text>
<circle cx="946.3" cy="312.2" r="3.6" fill="#0000ee"/>
<circle cx="946.3" cy="337.6" r="3.6" fill="#ee0000"/>
<text x="957.8" y="317.8" font-size="16.3">Hole doped</text>
<text x="957.8" y="343.2" font-size="16.3">Electron doped</text>
<text x="737.0" y="616.0" font-size="19" fill="#000" font-weight="bold">h</text>
<line x1="805.50" y1="611.90" x2="805.50" y2="850.30" stroke="#333" stroke-width="1"/>
<line x1="805.50" y1="850.30" x2="1100.40" y2="850.30" stroke="#333" stroke-width="1"/>
<line x1="805.50" y1="849.50" x2="1086.40" y2="634.60" stroke="#000" stroke-width="2" stroke-dasharray="6,3.5"/>
<path fill="#ee0000" d="M954.8,765.1h8.4l-4.2,7.4zM958.9,768.7h8.4l-4.2,7.4zM964.4,759.6h8.4l-4.2,7.4zM967.2,755.4h8.4l-4.2,7.4zM968.6,749.4h8.4l-4.2,7.4zM970.5,744.4h8.4l-4.2,7.4zM977.7,735.6h8.4l-4.2,7.4zM983.8,730.6h8.4l-4.2,7.4zM989.3,727.8h8.4l-4.2,7.4zM992.0,734.7h8.4l-4.2,7.4zM993.4,725.1h8.4l-4.2,7.4zM996.2,727.8h8.4l-4.2,7.4zM997.6,709.9h8.4l-4.2,7.4zM993.4,694.7h8.4l-4.2,7.4zM990.7,715.4h8.4l-4.2,7.4zM992.0,718.2h8.4l-4.2,7.4zM994.8,718.2h8.4l-4.2,7.4zM989.3,749.9h8.4l-4.2,7.4zM993.4,749.9h8.4l-4.2,7.4zM991.2,736.1h8.4l-4.2,7.4z"/>
<path fill="#0000ee" d="M934.1,749.9h8.4l-4.2,7.4zM967.2,718.2h8.4l-4.2,7.4zM986.5,718.2h8.4l-4.2,7.4zM992.0,719.0h8.4l-4.2,7.4zM1001.7,719.6h8.4l-4.2,7.4zM1010.8,717.4h8.4l-4.2,7.4zM1019.6,716.3h8.4l-4.2,7.4zM1026.5,719.0h8.4l-4.2,7.4zM1032.9,715.4h8.4l-4.2,7.4zM1041.7,698.9h8.4l-4.2,7.4zM1045.9,700.2h8.4l-4.2,7.4zM1044.5,686.4h8.4l-4.2,7.4zM1047.2,682.3h8.4l-4.2,7.4zM1048.6,676.8h8.4l-4.2,7.4zM1050.0,672.6h8.4l-4.2,7.4zM1047.2,671.3h8.4l-4.2,7.4zM1051.4,672.6h8.4l-4.2,7.4zM1048.6,644.5h8.4l-4.2,7.4zM1044.5,621.6h8.4l-4.2,7.4zM1051.4,625.7h8.4l-4.2,7.4z"/>
<path stroke="#ee0000" stroke-width="1.3" fill="none" d="M956.5,797.1l6.6,6.6M956.5,803.7l6.6,-6.6M959.8,798.5l6.6,6.6M959.8,805.1l6.6,-6.6M965.3,793.0l6.6,6.6M965.3,799.6l6.6,-6.6M968.7,790.2l6.6,6.6M968.7,796.8l6.6,-6.6M970.9,783.3l6.6,6.6M970.9,789.9l6.6,-6.6M970.3,779.2l6.6,6.6M970.3,785.8l6.6,-6.6M978.6,772.3l6.6,6.6M978.6,778.9l6.6,-6.6M986.0,769.5l6.6,6.6M986.0,776.1l6.6,-6.6M990.2,773.7l6.6,6.6M990.2,780.3l6.6,-6.6M992.9,768.2l6.6,6.6M992.9,774.8l6.6,-6.6M995.7,766.8l6.6,6.6M995.7,773.4l6.6,-6.6M997.9,772.3l6.6,6.6M997.9,778.9l6.6,-6.6M999.0,766.2l6.6,6.6M999.0,772.8l6.6,-6.6M991.6,777.8l6.6,6.6M991.6,784.4l6.6,-6.6M989.6,753.0l6.6,6.6M989.6,759.6l6.6,-6.6M996.3,753.0l6.6,6.6M996.3,759.6l6.6,-6.6M999.8,747.5l6.6,6.6M999.8,754.1l6.6,-6.6M992.9,740.6l6.6,6.6M992.9,747.2l6.6,-6.6M988.8,700.5l6.6,6.6M988.8,707.1l6.6,-6.6M992.9,786.1l6.6,6.6M992.9,792.7l6.6,-6.6"/>
<path stroke="#0000ee" stroke-width="1.3" fill="none" d="M935.0,786.1l6.6,6.6M935.0,792.7l6.6,-6.6M968.1,781.1l6.6,6.6M968.1,787.7l6.6,-6.6M986.0,773.7l6.6,6.6M986.0,780.3l6.6,-6.6M1003.4,772.3l6.6,6.6M1003.4,778.9l6.6,-6.6M1012.3,769.5l6.6,6.6M1012.3,776.1l6.6,-6.6M1020.5,766.2l6.6,6.6M1020.5,772.8l6.6,-6.6M1028.3,764.6l6.6,6.6M1028.3,771.2l6.6,-6.6M1034.3,763.5l6.6,6.6M1034.3,770.1l6.6,-6.6M1042.6,758.0l6.6,6.6M1042.6,764.6l6.6,-6.6M1046.8,753.0l6.6,6.6M1046.8,759.6l6.6,-6.6M1048.1,748.8l6.6,6.6M1048.1,755.4l6.6,-6.6M1052.3,748.8l6.6,6.6M1052.3,755.4l6.6,-6.6M1049.5,757.1l6.6,6.6M1049.5,763.7l6.6,-6.6M1048.1,765.4l6.6,6.6M1048.1,772.0l6.6,-6.6M1049.5,772.3l6.6,6.6M1049.5,778.9l6.6,-6.6M1039.9,783.3l6.6,6.6M1039.9,789.9l6.6,-6.6M1042.6,779.2l6.6,6.6M1042.6,785.8l6.6,-6.6M1038.5,801.3l6.6,6.6M1038.5,807.9l6.6,-6.6M1024.7,805.4l6.6,6.6M1024.7,812.0l6.6,-6.6M1045.4,799.9l6.6,6.6M1045.4,806.5l6.6,-6.6"/>
<g fill="#ee0000"><circle cx="959.0" cy="828.9" r="3.8"/><circle cx="963.1" cy="830.8" r="3.8"/><circle cx="967.3" cy="828.1" r="3.8"/><circle cx="971.4" cy="828.1" r="3.8"/><circle cx="973.6" cy="822.0" r="3.8"/><circle cx="982.4" cy="812.3" r="3.8"/><circle cx="988.0" cy="812.3" r="3.8"/><circle cx="992.1" cy="803.2" r="3.8"/><circle cx="994.0" cy="808.2" r="3.8"/><circle cx="996.2" cy="810.1" r="3.8"/><circle cx="999.0" cy="812.9" r="3.8"/><circle cx="1000.4" cy="808.7" r="3.8"/><circle cx="993.5" cy="814.3" r="3.8"/><circle cx="998.5" cy="788.0" r="3.8"/><circle cx="1002.3" cy="788.0" r="3.8"/><circle cx="996.2" cy="804.6" r="3.8"/></g>
<g fill="#0000ee"><circle cx="938.3" cy="814.3" r="3.8"/><circle cx="971.4" cy="814.8" r="3.8"/><circle cx="989.3" cy="808.7" r="3.8"/><circle cx="1006.7" cy="802.4" r="3.8"/><circle cx="1015.6" cy="803.2" r="3.8"/><circle cx="1023.8" cy="801.0" r="3.8"/><circle cx="1028.0" cy="806.0" r="3.8"/><circle cx="1031.6" cy="797.7" r="3.8"/><circle cx="1037.6" cy="797.1" r="3.8"/><circle cx="1043.2" cy="797.7" r="3.8"/><circle cx="1045.9" cy="801.8" r="3.8"/><circle cx="1050.1" cy="799.1" r="3.8"/><circle cx="1051.4" cy="792.2" r="3.8"/><circle cx="1052.8" cy="786.6" r="3.8"/><circle cx="1055.6" cy="790.8" r="3.8"/><circle cx="1058.3" cy="786.6" r="3.8"/><circle cx="1044.5" cy="789.4" r="3.8"/><circle cx="1048.7" cy="785.3" r="3.8"/><circle cx="1054.2" cy="782.5" r="3.8"/><circle cx="1057.0" cy="794.9" r="3.8"/></g>
<g fill="#ee0000"><circle cx="817.1" cy="627.9" r="3.8"/></g>
<path stroke="#ee0000" stroke-width="1.3" fill="none" d="M813.8,647.1l6.6,6.6M813.8,653.7l6.6,-6.6"/>
<path fill="#ee0000" d="M812.9,668.8h8.4l-4.2,7.4z"/>
<g fill="#0000ee"><circle cx="817.1" cy="695.7" r="3.8"/></g>
<path stroke="#0000ee" stroke-width="1.3" fill="none" d="M813.8,714.9l6.6,6.6M813.8,721.5l6.6,-6.6"/>
<path fill="#0000ee" d="M812.9,736.7h8.4l-4.2,7.4z"/>
<text x="830.0" y="633.2">Electron, <tspan font-style="italic">T</tspan><tspan font-size="11" dy="4">c</tspan><tspan font-size="11" dy="-10.5">(zero)</tspan></text>
<text x="830.0" y="655.7">Electron, <tspan font-style="italic">T</tspan><tspan font-size="11" dy="4">c</tspan><tspan font-size="11" dy="-10.5">(0.5)</tspan></text>
<text x="830.0" y="677.7">Electron, <tspan font-style="italic">T</tspan><tspan font-size="11" dy="4">c</tspan><tspan font-size="11" dy="-10.5">(onset)</tspan></text>
<text x="830.0" y="701.0">Hole, <tspan font-style="italic">T</tspan><tspan font-size="11" dy="4">c</tspan><tspan font-size="11" dy="-10.5">(zero)</tspan></text>
<text x="830.0" y="723.5">Hole, <tspan font-style="italic">T</tspan><tspan font-size="11" dy="4">c</tspan><tspan font-size="11" dy="-10.5">(0.5)</tspan></text>
<text x="830.0" y="745.6">Hole, <tspan font-style="italic">T</tspan><tspan font-size="11" dy="4">c</tspan><tspan font-size="11" dy="-10.5">(onset)</tspan></text>
<line x1="834.40" y1="838.00" x2="864.10" y2="838.00" stroke="#000" stroke-width="2" stroke-dasharray="6,3.5"/>
<text x="869.8" y="842.7">BKT limit</text>
<line x1="805.50" y1="850.30" x2="805.50" y2="855.30" stroke="#333" stroke-width="1"/>
<text x="805.5" y="874.3" text-anchor="middle">0</text>
<line x1="879.23" y1="850.30" x2="879.23" y2="855.30" stroke="#333" stroke-width="1"/>
<text x="879.2" y="874.3" text-anchor="middle">0.5</text>
<line x1="952.95" y1="850.30" x2="952.95" y2="855.30" stroke="#333" stroke-width="1"/>
<text x="953.0" y="874.3" text-anchor="middle">1.0</text>
<line x1="1026.67" y1="850.30" x2="1026.67" y2="855.30" stroke="#333" stroke-width="1"/>
<text x="1026.7" y="874.3" text-anchor="middle">1.5</text>
<line x1="1100.40" y1="850.30" x2="1100.40" y2="855.30" stroke="#333" stroke-width="1"/>
<text x="1100.4" y="874.3" text-anchor="middle">2.0</text>
<line x1="805.50" y1="850.30" x2="800.50" y2="850.30" stroke="#333" stroke-width="1"/>
<text x="796.0" y="855.9" text-anchor="end">0</text>
<line x1="805.50" y1="804.40" x2="800.50" y2="804.40" stroke="#333" stroke-width="1"/>
<text x="796.0" y="810.0" text-anchor="end">0.5</text>
<line x1="805.50" y1="758.50" x2="800.50" y2="758.50" stroke="#333" stroke-width="1"/>
<text x="796.0" y="764.1" text-anchor="end">1.0</text>
<line x1="805.50" y1="712.60" x2="800.50" y2="712.60" stroke="#333" stroke-width="1"/>
<text x="796.0" y="718.2" text-anchor="end">1.5</text>
<line x1="805.50" y1="666.70" x2="800.50" y2="666.70" stroke="#333" stroke-width="1"/>
<text x="796.0" y="672.3" text-anchor="end">2.0</text>
<line x1="805.50" y1="620.80" x2="800.50" y2="620.80" stroke="#333" stroke-width="1"/>
<text x="796.0" y="626.4" text-anchor="end">2.5</text>
<text x="952.0" y="900.0" text-anchor="middle"><tspan font-style="italic">D</tspan><tspan font-size="11" dy="3.5">s</tspan><tspan dy="-3.5">&#8203;</tspan>(<tspan font-style="italic">T</tspan><tspan font-size="11" dy="3.5">base</tspan><tspan dy="-3.5">&#8203;</tspan>) (&#215;10<tspan font-size="11" dy="-6">8</tspan><tspan dy="6">&#8203;</tspan> H<tspan font-size="11" dy="-6">&#8722;1</tspan><tspan dy="6">&#8203;</tspan>)</text>
<text transform="translate(758,730) rotate(-90)" text-anchor="middle"><tspan font-style="italic">T</tspan><tspan font-size="11" dy="3.5">C</tspan><tspan dy="-3.5">&#8203;</tspan> (K)</text>
</svg>
</body></html>
